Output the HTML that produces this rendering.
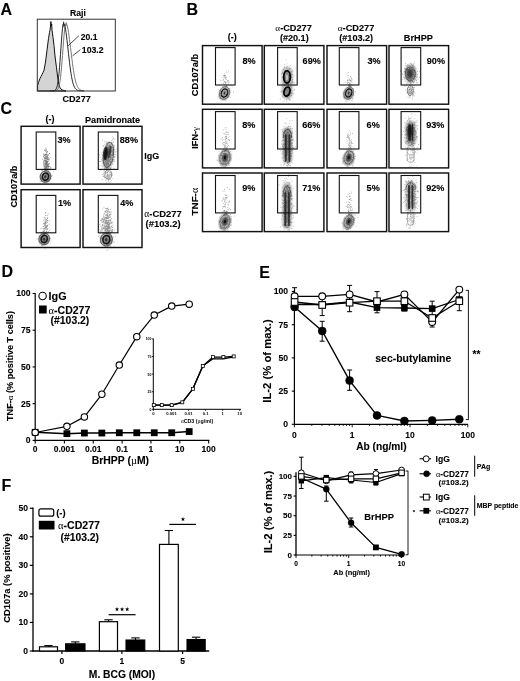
<!DOCTYPE html>
<html><head><meta charset="utf-8"><style>
html,body{margin:0;padding:0;background:#fff;}
body{width:520px;height:681px;overflow:hidden;}
svg{display:block;filter:grayscale(100%);}
text{font-family:"Liberation Sans",sans-serif;}
tspan[font-family="Liberation Serif"]{font-family:"Liberation Serif",serif;}
text[font-weight="bold"]{stroke:#000;stroke-width:0.1px;}
</style></head><body>
<svg width="520" height="681" viewBox="0 0 520 681">
<rect x="0" y="0" width="520" height="681" fill="#fff"/>
<text x="0.60" y="14.60" font-size="16" font-weight="bold" text-anchor="start" fill="#000" >A</text>
<text x="186.60" y="15.10" font-size="16" font-weight="bold" text-anchor="start" fill="#000" >B</text>
<text x="0.40" y="113.60" font-size="16" font-weight="bold" text-anchor="start" fill="#000" >C</text>
<text x="1.40" y="277.20" font-size="16" font-weight="bold" text-anchor="start" fill="#000" >D</text>
<text x="259.20" y="277.60" font-size="16" font-weight="bold" text-anchor="start" fill="#000" >E</text>
<text x="1.60" y="491.30" font-size="16" font-weight="bold" text-anchor="start" fill="#000" >F</text>
<text x="77.90" y="16.30" font-size="8.6" font-weight="bold" text-anchor="middle" fill="#000" >Raji</text>
<text x="76.60" y="102.20" font-size="9.1" font-weight="bold" text-anchor="middle" fill="#000" >CD277</text>
<path d="M37.60,91.00 L37.60,85.50 L38.50,82.50 L40.00,78.40 L41.00,76.50 L42.00,74.50 L43.00,72.50 L44.00,70.20 L45.50,62.00 L47.00,50.20 L48.50,38.50 L49.50,32.60 L50.00,30.30 L50.50,26.00 L50.90,21.50 L51.30,26.00 L51.70,24.00 L52.00,30.30 L53.00,37.30 L54.00,45.50 L55.00,56.00 L56.50,67.80 L57.50,76.00 L58.50,83.00 L60.00,87.80 L62.00,90.00 L66.00,91.00 Z" fill="#d4d4d4" stroke="#111" stroke-width="1.0" stroke-linejoin="round"/>
<polyline points="50.00,90.80 50.50,90.80 51.00,90.80 51.50,90.80 52.00,90.80 52.50,90.80 53.00,90.79 53.50,90.79 54.00,90.77 54.50,90.75 55.00,90.71 55.50,90.63 56.00,90.51 56.50,90.30 57.00,89.97 57.50,89.46 58.00,88.70 58.50,87.59 59.00,86.02 59.50,83.89 60.00,81.07 60.50,77.48 61.00,73.07 61.50,67.84 62.00,61.89 62.50,55.39 63.00,48.62 63.50,41.93 64.00,35.73 64.50,30.44 65.00,26.46 65.50,24.10 66.00,23.51 66.50,24.00 67.00,25.17 67.50,26.99 68.00,29.41 68.50,32.34 69.00,35.71 69.50,39.42 70.00,43.38 70.50,47.48 71.00,51.65 71.50,55.77 72.00,59.79 72.50,63.63 73.00,67.24 73.50,70.59 74.00,73.64 74.50,76.37 75.00,78.80 75.50,80.93 76.00,82.76 76.50,84.32 77.00,85.63 77.50,86.72 78.00,87.61 78.50,88.33 79.00,88.91 79.50,89.37 80.00,89.73 80.50,90.01 81.00,90.22 81.50,90.38 82.00,90.50 82.50,90.58 83.00,90.65 83.50,90.69 84.00,90.73" fill="none" stroke="#666" stroke-width="0.9" stroke-linejoin="round"/>
<polyline points="50.00,90.80 50.50,90.80 51.00,90.80 51.50,90.79 52.00,90.79 52.50,90.77 53.00,90.75 53.50,90.70 54.00,90.61 54.50,90.46 55.00,90.20 55.50,89.77 56.00,89.11 56.50,88.10 57.00,86.62 57.50,84.53 58.00,81.69 58.50,77.99 59.00,73.34 59.50,67.76 60.00,61.35 60.50,54.34 61.00,47.07 61.50,40.00 62.00,33.64 62.50,28.50 63.00,25.03 63.50,23.54 64.00,23.77 64.50,24.83 65.00,26.68 65.50,29.24 66.00,32.42 66.50,36.12 67.00,40.21 67.50,44.57 68.00,49.07 68.50,53.60 69.00,58.04 69.50,62.31 70.00,66.32 70.50,70.03 71.00,73.39 71.50,76.39 72.00,79.01 72.50,81.28 73.00,83.21 73.50,84.82 74.00,86.14 74.50,87.22 75.00,88.08 75.50,88.76 76.00,89.29 76.50,89.69 77.00,90.00 77.50,90.23 78.00,90.40 78.50,90.52 79.00,90.61 79.50,90.67 80.00,90.71 80.50,90.74 81.00,90.76 81.50,90.78 82.00,90.78 82.50,90.79 83.00,90.79 83.50,90.80 84.00,90.80" fill="none" stroke="#1a1a1a" stroke-width="0.95" stroke-linejoin="round"/>
<polyline points="63.00,27.00 63.60,21.80 64.20,26.00" fill="none" stroke="#1a1a1a" stroke-width="0.7" stroke-linejoin="round"/>
<polyline points="65.50,26.00 66.20,22.50 66.80,26.00" fill="none" stroke="#777" stroke-width="0.7" stroke-linejoin="round"/>
<rect x="37.30" y="19.20" width="78.00" height="71.80" stroke="#333" stroke-width="1.0" fill="none" />
<line x1="79.00" y1="35.60" x2="68.20" y2="45.80" stroke="#000" stroke-width="0.7" />
<line x1="80.50" y1="49.60" x2="72.60" y2="55.80" stroke="#000" stroke-width="0.7" />
<text x="80.80" y="40.10" font-size="8.6" font-weight="bold" text-anchor="start" fill="#000" >20.1</text>
<text x="81.80" y="53.10" font-size="8.7" font-weight="bold" text-anchor="start" fill="#000" >103.2</text>
<defs><filter id="blur" x="-50%" y="-50%" width="200%" height="200%"><feGaussianBlur stdDeviation="0.9"/></filter><filter id="blur2" x="-50%" y="-50%" width="200%" height="200%"><feGaussianBlur stdDeviation="0.5"/></filter></defs>
<text x="232.30" y="40.20" font-size="9" font-weight="bold" text-anchor="middle" fill="#000" >(-)</text>
<text x="293.60" y="30.60" font-size="9.2" font-weight="bold" text-anchor="middle" fill="#000" ><tspan font-family="Liberation Serif" font-weight="normal" style="stroke:none">&#945;</tspan>-CD277</text>
<text x="294.30" y="40.60" font-size="9.1" font-weight="bold" text-anchor="middle" fill="#000" >(#20.1)</text>
<text x="356.00" y="30.60" font-size="9.2" font-weight="bold" text-anchor="middle" fill="#000" ><tspan font-family="Liberation Serif" font-weight="normal" style="stroke:none">&#945;</tspan>-CD277</text>
<text x="356.20" y="40.60" font-size="9.1" font-weight="bold" text-anchor="middle" fill="#000" >(#103.2)</text>
<text x="418.40" y="41.00" font-size="9.2" font-weight="bold" text-anchor="middle" fill="#000" >BrHPP</text>
<text transform="translate(198.40,75.00) rotate(-90)" x="0" y="0" font-size="9.3" font-weight="bold" text-anchor="middle">CD107a/b</text>
<text transform="translate(198.00,137.80) rotate(-90)" x="0" y="0" font-size="9.2" font-weight="bold" text-anchor="middle">IFN-<tspan font-family="Liberation Serif" font-weight="normal" style="stroke:none">&#947;</tspan></text>
<text transform="translate(198.00,201.70) rotate(-90)" x="0" y="0" font-size="9.8" font-weight="bold" text-anchor="middle">TNF-<tspan font-family="Liberation Serif" font-weight="normal" style="stroke:none">&#945;</tspan></text>
<ellipse cx="224.50" cy="93.60" rx="5.88" ry="7.40" transform="rotate(20.0 224.50 93.00)" fill="#8f8f8f" fill-opacity="0.55" filter="url(#blur2)"/>
<path d="M223.2,95.0h0.8v0.8h-0.8zM224.3,92.2h0.8v0.8h-0.8zM222.4,91.9h0.8v0.8h-0.8zM226.8,96.0h0.8v0.8h-0.8zM226.9,95.3h0.8v0.8h-0.8zM225.3,94.5h0.8v0.8h-0.8zM219.1,94.9h0.8v0.8h-0.8zM225.2,95.7h0.8v0.8h-0.8zM222.3,85.9h0.8v0.8h-0.8zM222.8,91.0h0.8v0.8h-0.8zM225.3,93.6h0.8v0.8h-0.8zM226.7,91.8h0.8v0.8h-0.8zM224.8,95.2h0.8v0.8h-0.8zM220.6,98.8h0.8v0.8h-0.8zM224.4,98.2h0.8v0.8h-0.8zM223.8,90.4h0.8v0.8h-0.8zM223.7,92.8h0.8v0.8h-0.8zM225.8,95.0h0.8v0.8h-0.8zM224.5,89.8h0.8v0.8h-0.8zM221.6,97.2h0.8v0.8h-0.8zM222.1,93.6h0.8v0.8h-0.8zM227.5,88.8h0.8v0.8h-0.8zM223.0,98.1h0.8v0.8h-0.8zM219.7,90.5h0.8v0.8h-0.8zM225.3,90.6h0.8v0.8h-0.8zM225.9,93.8h0.8v0.8h-0.8zM219.7,95.0h0.8v0.8h-0.8zM225.0,97.4h0.8v0.8h-0.8zM227.8,96.1h0.8v0.8h-0.8zM226.4,89.1h0.8v0.8h-0.8zM226.9,92.0h0.8v0.8h-0.8zM224.9,88.7h0.8v0.8h-0.8zM222.7,90.8h0.8v0.8h-0.8zM230.4,87.7h0.8v0.8h-0.8zM220.4,93.0h0.8v0.8h-0.8zM227.5,96.9h0.8v0.8h-0.8zM222.8,83.0h0.8v0.8h-0.8zM226.3,91.3h0.8v0.8h-0.8zM220.4,95.8h0.8v0.8h-0.8zM227.1,95.1h0.8v0.8h-0.8zM224.6,95.2h0.8v0.8h-0.8zM227.8,97.1h0.8v0.8h-0.8zM225.2,95.9h0.8v0.8h-0.8zM218.8,96.5h0.8v0.8h-0.8zM226.3,96.2h0.8v0.8h-0.8zM220.2,89.5h0.8v0.8h-0.8zM229.0,88.0h0.8v0.8h-0.8zM222.7,96.8h0.8v0.8h-0.8zM219.1,97.8h0.8v0.8h-0.8zM226.1,93.5h0.8v0.8h-0.8zM224.5,96.0h0.8v0.8h-0.8zM223.4,97.6h0.8v0.8h-0.8zM223.3,91.4h0.8v0.8h-0.8zM227.2,94.6h0.8v0.8h-0.8zM221.0,95.9h0.8v0.8h-0.8zM228.8,93.3h0.8v0.8h-0.8zM221.1,91.7h0.8v0.8h-0.8zM224.5,92.3h0.8v0.8h-0.8zM229.4,91.3h0.8v0.8h-0.8zM229.4,90.3h0.8v0.8h-0.8zM221.7,94.9h0.8v0.8h-0.8zM226.3,97.5h0.8v0.8h-0.8zM225.2,94.3h0.8v0.8h-0.8zM224.2,95.6h0.8v0.8h-0.8zM223.7,94.3h0.8v0.8h-0.8zM226.0,94.0h0.8v0.8h-0.8zM225.8,96.2h0.8v0.8h-0.8zM229.3,96.5h0.8v0.8h-0.8zM223.9,91.8h0.8v0.8h-0.8zM223.3,96.7h0.8v0.8h-0.8zM223.1,94.5h0.8v0.8h-0.8zM232.5,86.4h0.8v0.8h-0.8zM221.3,93.3h0.8v0.8h-0.8zM225.2,94.7h0.8v0.8h-0.8zM222.6,95.4h0.8v0.8h-0.8zM225.9,92.0h0.8v0.8h-0.8zM230.3,97.0h0.8v0.8h-0.8zM223.2,92.6h0.8v0.8h-0.8zM224.0,93.1h0.8v0.8h-0.8zM218.1,89.3h0.8v0.8h-0.8zM228.6,90.4h0.8v0.8h-0.8zM223.1,96.7h0.8v0.8h-0.8zM224.8,99.5h0.8v0.8h-0.8zM220.5,90.7h0.8v0.8h-0.8zM222.8,95.3h0.8v0.8h-0.8zM230.7,85.3h0.8v0.8h-0.8zM229.1,89.5h0.8v0.8h-0.8zM228.1,89.0h0.8v0.8h-0.8zM223.5,97.8h0.8v0.8h-0.8zM223.9,94.0h0.8v0.8h-0.8zM226.4,94.7h0.8v0.8h-0.8zM222.3,98.7h0.8v0.8h-0.8zM227.6,93.5h0.8v0.8h-0.8zM233.0,92.1h0.8v0.8h-0.8zM227.2,93.4h0.8v0.8h-0.8zM224.0,96.1h0.8v0.8h-0.8zM224.3,95.9h0.8v0.8h-0.8zM222.5,86.9h0.8v0.8h-0.8zM227.3,90.8h0.8v0.8h-0.8zM223.7,87.5h0.8v0.8h-0.8zM226.8,97.3h0.8v0.8h-0.8zM229.5,91.6h0.8v0.8h-0.8zM225.9,89.6h0.8v0.8h-0.8zM224.5,99.7h0.8v0.8h-0.8zM220.2,98.1h0.8v0.8h-0.8zM227.3,93.8h0.8v0.8h-0.8zM217.6,96.5h0.8v0.8h-0.8zM225.0,91.3h0.8v0.8h-0.8zM225.0,95.3h0.8v0.8h-0.8zM229.7,91.4h0.8v0.8h-0.8zM225.6,99.7h0.8v0.8h-0.8zM228.5,94.2h0.8v0.8h-0.8zM221.3,96.3h0.8v0.8h-0.8zM224.6,94.0h0.8v0.8h-0.8zM228.5,93.9h0.8v0.8h-0.8zM219.1,90.0h0.8v0.8h-0.8zM218.7,94.6h0.8v0.8h-0.8zM226.1,91.7h0.8v0.8h-0.8zM223.4,96.4h0.8v0.8h-0.8zM223.0,98.2h0.8v0.8h-0.8z" fill="#000" fill-opacity="0.3"/>
<ellipse cx="224.50" cy="93.00" rx="4.88" ry="6.48" transform="rotate(20.0 224.50 93.00)" fill="none" stroke="#555" stroke-width="0.6"/>
<ellipse cx="224.50" cy="93.00" rx="3.12" ry="4.20" transform="rotate(20.0 224.50 93.00)" fill="none" stroke="#111" stroke-width="1.3"/>
<ellipse cx="224.50" cy="93.00" rx="0.88" ry="1.57" transform="rotate(20.0 224.50 93.00)" fill="#333"/>
<path d="M224.7,77.6h0.7v0.7h-0.7zM226.0,86.1h0.7v0.7h-0.7zM223.3,79.1h0.7v0.7h-0.7zM226.1,86.0h0.7v0.7h-0.7zM227.3,80.1h0.7v0.7h-0.7zM224.5,81.6h0.7v0.7h-0.7zM227.4,81.5h0.7v0.7h-0.7zM225.7,76.1h0.7v0.7h-0.7zM225.8,70.6h0.7v0.7h-0.7zM224.5,80.9h0.7v0.7h-0.7zM224.0,84.0h0.7v0.7h-0.7zM225.0,81.5h0.7v0.7h-0.7zM225.7,81.9h0.7v0.7h-0.7zM224.7,82.0h0.7v0.7h-0.7zM225.0,77.4h0.7v0.7h-0.7zM228.5,81.3h0.7v0.7h-0.7zM225.7,82.0h0.7v0.7h-0.7zM221.6,80.4h0.7v0.7h-0.7zM223.4,82.7h0.7v0.7h-0.7zM225.4,83.6h0.7v0.7h-0.7zM223.5,80.6h0.7v0.7h-0.7zM225.1,86.4h0.7v0.7h-0.7zM228.5,83.7h0.7v0.7h-0.7zM222.6,77.6h0.7v0.7h-0.7zM228.6,82.0h0.7v0.7h-0.7zM224.3,75.2h0.7v0.7h-0.7zM224.9,74.8h0.7v0.7h-0.7zM225.7,77.2h0.7v0.7h-0.7zM224.0,73.5h0.7v0.7h-0.7zM222.8,85.9h0.7v0.7h-0.7zM225.0,75.5h0.7v0.7h-0.7zM223.0,75.3h0.7v0.7h-0.7zM226.7,85.8h0.7v0.7h-0.7zM225.3,86.5h0.7v0.7h-0.7zM220.2,79.8h0.7v0.7h-0.7zM225.9,85.2h0.7v0.7h-0.7zM223.6,75.7h0.7v0.7h-0.7zM226.4,78.9h0.7v0.7h-0.7zM224.3,76.4h0.7v0.7h-0.7zM228.0,71.6h0.7v0.7h-0.7zM225.2,81.9h0.7v0.7h-0.7zM225.6,78.8h0.7v0.7h-0.7zM224.9,82.8h0.7v0.7h-0.7zM225.5,86.8h0.7v0.7h-0.7zM226.3,84.7h0.7v0.7h-0.7zM225.4,77.7h0.7v0.7h-0.7zM225.8,72.4h0.7v0.7h-0.7zM224.1,75.0h0.7v0.7h-0.7zM228.2,80.1h0.7v0.7h-0.7zM223.8,77.6h0.7v0.7h-0.7z" fill="#000" fill-opacity="0.45"/>
<rect x="281.6" y="66.5" width="11.2" height="33" rx="5.6" fill="#8a8a8a" fill-opacity="0.55" filter="url(#blur)"/>
<path d="M290.9,86.0h0.8v0.8h-0.8zM283.3,73.7h0.8v0.8h-0.8zM288.0,77.9h0.8v0.8h-0.8zM286.1,72.1h0.8v0.8h-0.8zM293.1,82.2h0.8v0.8h-0.8zM283.9,70.3h0.8v0.8h-0.8zM292.0,81.9h0.8v0.8h-0.8zM292.3,81.1h0.8v0.8h-0.8zM284.8,78.3h0.8v0.8h-0.8zM281.2,73.3h0.8v0.8h-0.8zM287.0,79.6h0.8v0.8h-0.8zM285.2,76.4h0.8v0.8h-0.8zM288.5,78.9h0.8v0.8h-0.8zM289.0,78.0h0.8v0.8h-0.8zM286.3,80.9h0.8v0.8h-0.8zM287.3,72.9h0.8v0.8h-0.8zM285.4,77.0h0.8v0.8h-0.8zM286.9,77.8h0.8v0.8h-0.8zM287.2,77.9h0.8v0.8h-0.8zM286.8,70.7h0.8v0.8h-0.8zM288.4,82.3h0.8v0.8h-0.8zM288.4,76.1h0.8v0.8h-0.8zM288.5,72.2h0.8v0.8h-0.8zM281.9,77.3h0.8v0.8h-0.8zM284.6,80.7h0.8v0.8h-0.8zM284.2,63.9h0.8v0.8h-0.8zM284.3,84.9h0.8v0.8h-0.8zM286.1,70.2h0.8v0.8h-0.8zM285.1,79.6h0.8v0.8h-0.8zM288.6,77.9h0.8v0.8h-0.8zM291.4,80.5h0.8v0.8h-0.8zM287.1,80.0h0.8v0.8h-0.8zM291.8,81.9h0.8v0.8h-0.8zM290.1,71.6h0.8v0.8h-0.8zM286.8,80.6h0.8v0.8h-0.8zM286.4,82.3h0.8v0.8h-0.8zM288.9,81.5h0.8v0.8h-0.8zM286.6,89.7h0.8v0.8h-0.8zM290.7,75.9h0.8v0.8h-0.8zM287.5,90.0h0.8v0.8h-0.8zM286.2,81.4h0.8v0.8h-0.8zM289.9,77.0h0.8v0.8h-0.8zM283.9,77.9h0.8v0.8h-0.8zM288.2,82.6h0.8v0.8h-0.8zM289.4,77.1h0.8v0.8h-0.8zM289.6,79.7h0.8v0.8h-0.8zM287.8,77.3h0.8v0.8h-0.8zM286.5,80.4h0.8v0.8h-0.8zM284.2,73.9h0.8v0.8h-0.8zM287.2,69.7h0.8v0.8h-0.8zM286.0,67.0h0.8v0.8h-0.8zM285.3,79.8h0.8v0.8h-0.8zM288.8,76.7h0.8v0.8h-0.8zM286.6,69.9h0.8v0.8h-0.8zM292.3,79.6h0.8v0.8h-0.8zM290.3,72.6h0.8v0.8h-0.8zM286.7,67.9h0.8v0.8h-0.8zM289.4,81.7h0.8v0.8h-0.8zM281.9,76.7h0.8v0.8h-0.8zM289.0,68.2h0.8v0.8h-0.8zM282.1,71.7h0.8v0.8h-0.8zM285.4,70.0h0.8v0.8h-0.8zM287.3,78.2h0.8v0.8h-0.8zM289.0,80.5h0.8v0.8h-0.8zM291.4,82.8h0.8v0.8h-0.8zM283.5,74.5h0.8v0.8h-0.8zM284.2,71.6h0.8v0.8h-0.8zM287.0,77.0h0.8v0.8h-0.8zM288.6,69.1h0.8v0.8h-0.8zM283.7,76.9h0.8v0.8h-0.8zM286.6,75.4h0.8v0.8h-0.8zM287.0,73.2h0.8v0.8h-0.8zM289.2,78.8h0.8v0.8h-0.8zM287.0,73.6h0.8v0.8h-0.8zM286.7,63.4h0.8v0.8h-0.8zM284.5,77.2h0.8v0.8h-0.8zM283.0,78.0h0.8v0.8h-0.8zM287.6,70.1h0.8v0.8h-0.8zM286.5,75.4h0.8v0.8h-0.8zM288.5,80.1h0.8v0.8h-0.8zM287.1,72.7h0.8v0.8h-0.8zM286.8,76.7h0.8v0.8h-0.8zM289.3,78.5h0.8v0.8h-0.8zM285.2,70.2h0.8v0.8h-0.8zM286.2,73.3h0.8v0.8h-0.8zM284.1,76.4h0.8v0.8h-0.8zM285.8,77.5h0.8v0.8h-0.8zM288.7,74.9h0.8v0.8h-0.8zM293.7,75.4h0.8v0.8h-0.8zM290.3,77.6h0.8v0.8h-0.8zM290.3,65.1h0.8v0.8h-0.8zM285.1,78.2h0.8v0.8h-0.8zM288.9,88.7h0.8v0.8h-0.8zM288.1,83.4h0.8v0.8h-0.8zM289.3,81.7h0.8v0.8h-0.8zM288.6,76.2h0.8v0.8h-0.8zM288.6,71.6h0.8v0.8h-0.8zM290.5,71.9h0.8v0.8h-0.8zM287.9,87.6h0.8v0.8h-0.8zM286.6,77.1h0.8v0.8h-0.8zM290.5,77.1h0.8v0.8h-0.8zM284.9,78.3h0.8v0.8h-0.8zM288.8,80.6h0.8v0.8h-0.8zM285.0,85.8h0.8v0.8h-0.8zM291.9,77.1h0.8v0.8h-0.8zM288.0,74.9h0.8v0.8h-0.8zM291.2,73.5h0.8v0.8h-0.8zM289.1,74.6h0.8v0.8h-0.8zM285.3,80.6h0.8v0.8h-0.8zM290.9,76.9h0.8v0.8h-0.8zM285.3,81.1h0.8v0.8h-0.8zM287.1,78.6h0.8v0.8h-0.8zM291.5,82.7h0.8v0.8h-0.8zM285.7,88.4h0.8v0.8h-0.8zM287.2,80.9h0.8v0.8h-0.8zM285.4,76.8h0.8v0.8h-0.8zM282.3,85.9h0.8v0.8h-0.8zM291.0,70.9h0.8v0.8h-0.8zM283.0,68.9h0.8v0.8h-0.8zM290.5,74.7h0.8v0.8h-0.8zM287.0,75.4h0.8v0.8h-0.8zM286.9,71.6h0.8v0.8h-0.8zM287.3,69.8h0.8v0.8h-0.8zM287.0,78.5h0.8v0.8h-0.8zM288.5,75.8h0.8v0.8h-0.8zM284.7,77.8h0.8v0.8h-0.8zM285.8,84.8h0.8v0.8h-0.8zM289.3,76.4h0.8v0.8h-0.8zM285.9,73.5h0.8v0.8h-0.8zM284.6,75.2h0.8v0.8h-0.8zM288.0,79.6h0.8v0.8h-0.8zM288.8,87.5h0.8v0.8h-0.8zM285.2,77.1h0.8v0.8h-0.8zM295.0,67.7h0.8v0.8h-0.8zM285.7,77.8h0.8v0.8h-0.8zM287.6,79.0h0.8v0.8h-0.8zM286.5,78.8h0.8v0.8h-0.8zM287.3,80.9h0.8v0.8h-0.8zM281.9,72.6h0.8v0.8h-0.8zM287.2,71.8h0.8v0.8h-0.8zM284.3,80.1h0.8v0.8h-0.8zM285.4,80.2h0.8v0.8h-0.8zM289.3,78.5h0.8v0.8h-0.8zM288.6,76.5h0.8v0.8h-0.8zM283.3,76.8h0.8v0.8h-0.8zM288.5,74.4h0.8v0.8h-0.8zM286.9,80.7h0.8v0.8h-0.8zM284.7,80.2h0.8v0.8h-0.8zM292.4,74.2h0.8v0.8h-0.8zM287.6,76.2h0.8v0.8h-0.8zM291.5,78.6h0.8v0.8h-0.8zM289.7,73.5h0.8v0.8h-0.8zM287.2,77.0h0.8v0.8h-0.8zM282.2,84.2h0.8v0.8h-0.8zM289.7,68.3h0.8v0.8h-0.8zM289.3,76.3h0.8v0.8h-0.8zM288.5,78.8h0.8v0.8h-0.8zM283.0,75.9h0.8v0.8h-0.8zM291.4,74.1h0.8v0.8h-0.8zM284.3,70.2h0.8v0.8h-0.8zM283.8,78.7h0.8v0.8h-0.8zM291.9,79.1h0.8v0.8h-0.8zM287.9,88.2h0.8v0.8h-0.8zM285.7,73.6h0.8v0.8h-0.8zM288.7,79.7h0.8v0.8h-0.8zM284.4,71.2h0.8v0.8h-0.8zM288.0,78.2h0.8v0.8h-0.8zM283.5,76.0h0.8v0.8h-0.8zM285.7,79.3h0.8v0.8h-0.8zM286.9,76.6h0.8v0.8h-0.8zM286.2,82.3h0.8v0.8h-0.8zM291.1,75.2h0.8v0.8h-0.8zM289.6,73.2h0.8v0.8h-0.8zM287.4,80.7h0.8v0.8h-0.8zM291.4,75.1h0.8v0.8h-0.8zM287.0,78.0h0.8v0.8h-0.8zM283.0,77.1h0.8v0.8h-0.8zM285.3,78.9h0.8v0.8h-0.8zM284.0,67.1h0.8v0.8h-0.8zM287.3,78.3h0.8v0.8h-0.8zM285.7,81.4h0.8v0.8h-0.8zM286.4,74.0h0.8v0.8h-0.8zM288.5,69.2h0.8v0.8h-0.8zM285.3,76.9h0.8v0.8h-0.8zM289.6,76.2h0.8v0.8h-0.8zM288.1,73.7h0.8v0.8h-0.8zM288.0,85.3h0.8v0.8h-0.8zM285.3,88.8h0.8v0.8h-0.8zM285.4,77.1h0.8v0.8h-0.8zM287.7,82.1h0.8v0.8h-0.8zM283.7,66.5h0.8v0.8h-0.8zM288.9,81.0h0.8v0.8h-0.8zM288.9,90.2h0.8v0.8h-0.8zM287.8,78.3h0.8v0.8h-0.8zM289.8,78.8h0.8v0.8h-0.8zM291.9,70.8h0.8v0.8h-0.8zM286.1,59.8h0.8v0.8h-0.8zM289.5,75.1h0.8v0.8h-0.8zM289.8,87.8h0.8v0.8h-0.8zM287.2,75.7h0.8v0.8h-0.8zM285.8,72.8h0.8v0.8h-0.8zM285.4,80.2h0.8v0.8h-0.8zM287.3,77.3h0.8v0.8h-0.8zM286.7,81.6h0.8v0.8h-0.8zM288.6,76.3h0.8v0.8h-0.8zM289.1,76.2h0.8v0.8h-0.8zM284.0,84.3h0.8v0.8h-0.8zM288.5,72.2h0.8v0.8h-0.8zM290.2,78.7h0.8v0.8h-0.8zM282.8,85.0h0.8v0.8h-0.8zM288.1,81.5h0.8v0.8h-0.8zM287.8,76.3h0.8v0.8h-0.8zM282.9,81.9h0.8v0.8h-0.8zM287.3,75.6h0.8v0.8h-0.8zM288.2,77.4h0.8v0.8h-0.8zM289.1,75.1h0.8v0.8h-0.8zM287.1,66.3h0.8v0.8h-0.8zM286.0,80.4h0.8v0.8h-0.8zM290.9,75.2h0.8v0.8h-0.8zM286.9,84.9h0.8v0.8h-0.8z" fill="#000" fill-opacity="0.3"/>
<path d="M286.0,94.8h0.8v0.8h-0.8zM291.5,92.8h0.8v0.8h-0.8zM290.8,89.6h0.8v0.8h-0.8zM287.8,91.8h0.8v0.8h-0.8zM286.9,96.5h0.8v0.8h-0.8zM293.7,90.2h0.8v0.8h-0.8zM285.4,93.8h0.8v0.8h-0.8zM284.2,93.6h0.8v0.8h-0.8zM288.8,91.1h0.8v0.8h-0.8zM289.4,86.1h0.8v0.8h-0.8zM290.0,86.2h0.8v0.8h-0.8zM285.7,89.5h0.8v0.8h-0.8zM285.7,95.3h0.8v0.8h-0.8zM287.6,90.5h0.8v0.8h-0.8zM287.7,98.5h0.8v0.8h-0.8zM287.0,93.5h0.8v0.8h-0.8zM290.2,93.5h0.8v0.8h-0.8zM282.5,101.4h0.8v0.8h-0.8zM294.0,84.9h0.8v0.8h-0.8zM286.9,93.6h0.8v0.8h-0.8zM289.3,95.0h0.8v0.8h-0.8zM287.1,87.7h0.8v0.8h-0.8zM286.9,96.1h0.8v0.8h-0.8zM285.0,87.5h0.8v0.8h-0.8zM288.2,84.3h0.8v0.8h-0.8zM286.8,90.2h0.8v0.8h-0.8zM288.8,89.4h0.8v0.8h-0.8zM285.1,90.1h0.8v0.8h-0.8zM287.4,89.3h0.8v0.8h-0.8zM286.8,95.0h0.8v0.8h-0.8zM289.3,99.2h0.8v0.8h-0.8zM285.4,90.1h0.8v0.8h-0.8zM279.8,98.6h0.8v0.8h-0.8zM285.4,91.6h0.8v0.8h-0.8zM289.3,86.8h0.8v0.8h-0.8zM288.4,92.1h0.8v0.8h-0.8zM282.3,92.5h0.8v0.8h-0.8zM291.3,85.0h0.8v0.8h-0.8zM289.2,93.1h0.8v0.8h-0.8zM288.2,93.9h0.8v0.8h-0.8zM290.7,91.6h0.8v0.8h-0.8zM289.7,90.7h0.8v0.8h-0.8zM289.5,89.0h0.8v0.8h-0.8zM286.0,98.8h0.8v0.8h-0.8zM288.4,91.5h0.8v0.8h-0.8zM284.7,88.5h0.8v0.8h-0.8zM287.2,95.8h0.8v0.8h-0.8zM288.0,94.2h0.8v0.8h-0.8zM286.3,97.3h0.8v0.8h-0.8zM286.5,89.7h0.8v0.8h-0.8zM289.5,92.6h0.8v0.8h-0.8zM286.8,89.6h0.8v0.8h-0.8zM286.2,94.4h0.8v0.8h-0.8zM288.8,87.3h0.8v0.8h-0.8zM288.2,92.9h0.8v0.8h-0.8zM284.2,94.7h0.8v0.8h-0.8zM286.7,90.6h0.8v0.8h-0.8zM288.5,97.5h0.8v0.8h-0.8zM285.2,93.5h0.8v0.8h-0.8zM283.7,100.8h0.8v0.8h-0.8zM285.3,96.6h0.8v0.8h-0.8zM285.1,95.0h0.8v0.8h-0.8zM294.3,82.7h0.8v0.8h-0.8zM285.8,93.8h0.8v0.8h-0.8zM287.3,89.3h0.8v0.8h-0.8zM292.7,93.1h0.8v0.8h-0.8zM282.5,94.8h0.8v0.8h-0.8zM282.1,95.9h0.8v0.8h-0.8zM285.6,92.4h0.8v0.8h-0.8zM290.4,92.9h0.8v0.8h-0.8zM284.6,84.8h0.8v0.8h-0.8zM289.8,95.4h0.8v0.8h-0.8zM284.6,95.1h0.8v0.8h-0.8zM288.1,94.7h0.8v0.8h-0.8zM281.6,90.0h0.8v0.8h-0.8zM289.1,95.2h0.8v0.8h-0.8zM290.8,82.6h0.8v0.8h-0.8zM287.4,94.0h0.8v0.8h-0.8zM294.3,89.1h0.8v0.8h-0.8zM286.3,92.0h0.8v0.8h-0.8zM289.7,90.6h0.8v0.8h-0.8zM290.6,89.3h0.8v0.8h-0.8zM288.2,90.0h0.8v0.8h-0.8zM288.0,89.3h0.8v0.8h-0.8zM282.5,95.8h0.8v0.8h-0.8zM288.3,89.9h0.8v0.8h-0.8zM287.2,96.0h0.8v0.8h-0.8zM284.7,91.2h0.8v0.8h-0.8zM288.3,94.3h0.8v0.8h-0.8zM287.5,83.5h0.8v0.8h-0.8zM290.2,93.8h0.8v0.8h-0.8zM287.4,90.9h0.8v0.8h-0.8zM288.1,90.4h0.8v0.8h-0.8zM285.0,88.7h0.8v0.8h-0.8zM286.0,89.4h0.8v0.8h-0.8zM283.9,94.1h0.8v0.8h-0.8zM283.5,94.1h0.8v0.8h-0.8zM284.4,93.0h0.8v0.8h-0.8zM290.6,93.3h0.8v0.8h-0.8zM285.3,91.9h0.8v0.8h-0.8zM288.5,85.2h0.8v0.8h-0.8zM285.5,92.4h0.8v0.8h-0.8zM285.9,92.1h0.8v0.8h-0.8zM288.7,95.3h0.8v0.8h-0.8zM289.2,94.7h0.8v0.8h-0.8zM286.5,91.8h0.8v0.8h-0.8zM286.7,90.7h0.8v0.8h-0.8zM287.7,85.1h0.8v0.8h-0.8zM286.4,91.8h0.8v0.8h-0.8zM284.7,91.6h0.8v0.8h-0.8zM288.6,91.5h0.8v0.8h-0.8zM294.0,82.4h0.8v0.8h-0.8zM287.7,84.7h0.8v0.8h-0.8zM288.2,102.9h0.8v0.8h-0.8zM280.7,91.6h0.8v0.8h-0.8zM288.7,91.0h0.8v0.8h-0.8zM289.9,83.3h0.8v0.8h-0.8zM289.2,93.8h0.8v0.8h-0.8zM287.6,89.7h0.8v0.8h-0.8zM289.1,90.3h0.8v0.8h-0.8zM288.1,90.1h0.8v0.8h-0.8zM281.4,91.1h0.8v0.8h-0.8zM287.3,95.1h0.8v0.8h-0.8zM285.0,91.6h0.8v0.8h-0.8zM288.7,92.8h0.8v0.8h-0.8zM289.3,100.3h0.8v0.8h-0.8zM285.9,84.1h0.8v0.8h-0.8zM288.6,98.4h0.8v0.8h-0.8zM289.1,95.6h0.8v0.8h-0.8zM286.0,88.9h0.8v0.8h-0.8zM290.0,88.7h0.8v0.8h-0.8zM283.1,87.4h0.8v0.8h-0.8zM292.5,100.5h0.8v0.8h-0.8zM285.8,88.9h0.8v0.8h-0.8zM288.2,89.1h0.8v0.8h-0.8zM290.6,92.2h0.8v0.8h-0.8zM283.7,96.8h0.8v0.8h-0.8zM285.6,92.7h0.8v0.8h-0.8zM287.3,90.8h0.8v0.8h-0.8zM288.4,89.4h0.8v0.8h-0.8zM283.7,82.6h0.8v0.8h-0.8zM284.4,88.5h0.8v0.8h-0.8zM287.1,92.2h0.8v0.8h-0.8zM288.6,92.7h0.8v0.8h-0.8zM285.6,88.9h0.8v0.8h-0.8zM281.8,90.6h0.8v0.8h-0.8zM288.2,94.3h0.8v0.8h-0.8zM287.0,91.3h0.8v0.8h-0.8zM289.6,92.4h0.8v0.8h-0.8zM288.8,94.6h0.8v0.8h-0.8zM287.0,97.3h0.8v0.8h-0.8zM285.9,90.4h0.8v0.8h-0.8zM285.6,88.5h0.8v0.8h-0.8zM290.2,99.5h0.8v0.8h-0.8zM286.9,94.3h0.8v0.8h-0.8zM289.8,95.6h0.8v0.8h-0.8zM291.0,87.4h0.8v0.8h-0.8zM285.3,93.6h0.8v0.8h-0.8zM290.8,92.9h0.8v0.8h-0.8zM285.2,90.3h0.8v0.8h-0.8zM286.0,88.4h0.8v0.8h-0.8zM291.4,90.1h0.8v0.8h-0.8zM286.0,100.6h0.8v0.8h-0.8zM290.1,93.8h0.8v0.8h-0.8zM285.4,93.4h0.8v0.8h-0.8zM291.0,95.1h0.8v0.8h-0.8zM290.4,92.8h0.8v0.8h-0.8zM288.6,91.4h0.8v0.8h-0.8zM287.6,97.3h0.8v0.8h-0.8zM283.6,91.2h0.8v0.8h-0.8z" fill="#000" fill-opacity="0.3"/>
<ellipse cx="287.0" cy="77.0" rx="3.3" ry="6.1" fill="#777" fill-opacity="0.5" stroke="#000" stroke-width="1.8"/>
<ellipse cx="287.0" cy="91.6" rx="2.9" ry="4.6" transform="rotate(15 287 91.6)" fill="#777" fill-opacity="0.5" stroke="#000" stroke-width="1.8"/>
<ellipse cx="287.0" cy="77.5" rx="1.0" ry="3.0" fill="#ddd" fill-opacity="0.8"/>
<ellipse cx="348.70" cy="93.60" rx="5.64" ry="7.19" transform="rotate(20.0 348.70 93.00)" fill="#8f8f8f" fill-opacity="0.55" filter="url(#blur2)"/>
<path d="M350.0,91.8h0.8v0.8h-0.8zM347.0,95.9h0.8v0.8h-0.8zM352.9,97.4h0.8v0.8h-0.8zM351.4,88.6h0.8v0.8h-0.8zM353.4,95.5h0.8v0.8h-0.8zM350.0,89.7h0.8v0.8h-0.8zM349.9,89.8h0.8v0.8h-0.8zM348.3,95.1h0.8v0.8h-0.8zM348.4,94.5h0.8v0.8h-0.8zM344.8,97.5h0.8v0.8h-0.8zM349.3,86.8h0.8v0.8h-0.8zM349.2,90.8h0.8v0.8h-0.8zM346.6,91.4h0.8v0.8h-0.8zM350.9,89.8h0.8v0.8h-0.8zM346.6,98.2h0.8v0.8h-0.8zM350.6,93.6h0.8v0.8h-0.8zM349.2,93.2h0.8v0.8h-0.8zM347.7,95.9h0.8v0.8h-0.8zM351.4,85.4h0.8v0.8h-0.8zM349.7,90.5h0.8v0.8h-0.8zM351.1,92.0h0.8v0.8h-0.8zM346.4,100.9h0.8v0.8h-0.8zM347.5,88.8h0.8v0.8h-0.8zM348.1,84.2h0.8v0.8h-0.8zM343.6,93.0h0.8v0.8h-0.8zM349.4,86.7h0.8v0.8h-0.8zM344.3,94.2h0.8v0.8h-0.8zM347.2,91.6h0.8v0.8h-0.8zM347.9,98.3h0.8v0.8h-0.8zM352.3,98.7h0.8v0.8h-0.8zM348.8,94.2h0.8v0.8h-0.8zM351.4,99.9h0.8v0.8h-0.8zM347.4,94.8h0.8v0.8h-0.8zM349.3,93.9h0.8v0.8h-0.8zM349.1,88.6h0.8v0.8h-0.8zM349.3,87.8h0.8v0.8h-0.8zM351.1,96.4h0.8v0.8h-0.8zM344.0,97.1h0.8v0.8h-0.8zM353.2,87.9h0.8v0.8h-0.8zM352.3,97.9h0.8v0.8h-0.8zM355.3,91.2h0.8v0.8h-0.8zM349.5,95.4h0.8v0.8h-0.8zM349.0,94.3h0.8v0.8h-0.8zM353.1,89.4h0.8v0.8h-0.8zM347.3,87.7h0.8v0.8h-0.8zM348.1,91.0h0.8v0.8h-0.8zM349.3,94.7h0.8v0.8h-0.8zM349.6,91.3h0.8v0.8h-0.8zM346.4,96.3h0.8v0.8h-0.8zM350.5,94.5h0.8v0.8h-0.8zM346.0,98.4h0.8v0.8h-0.8zM346.4,95.1h0.8v0.8h-0.8zM351.9,93.7h0.8v0.8h-0.8zM352.1,90.5h0.8v0.8h-0.8zM351.0,95.1h0.8v0.8h-0.8zM343.9,94.3h0.8v0.8h-0.8zM344.9,97.0h0.8v0.8h-0.8zM347.2,92.3h0.8v0.8h-0.8zM349.8,92.6h0.8v0.8h-0.8zM350.0,91.9h0.8v0.8h-0.8zM350.4,94.1h0.8v0.8h-0.8zM352.6,84.5h0.8v0.8h-0.8zM351.5,94.7h0.8v0.8h-0.8zM344.2,92.2h0.8v0.8h-0.8zM348.6,97.5h0.8v0.8h-0.8zM344.1,97.7h0.8v0.8h-0.8zM345.4,101.4h0.8v0.8h-0.8zM347.5,95.6h0.8v0.8h-0.8zM349.2,89.4h0.8v0.8h-0.8zM350.3,97.5h0.8v0.8h-0.8zM351.5,97.8h0.8v0.8h-0.8zM349.3,87.4h0.8v0.8h-0.8zM347.9,90.6h0.8v0.8h-0.8zM346.0,94.7h0.8v0.8h-0.8zM349.8,92.9h0.8v0.8h-0.8zM349.3,93.2h0.8v0.8h-0.8zM348.3,96.2h0.8v0.8h-0.8zM351.9,92.1h0.8v0.8h-0.8zM343.2,96.9h0.8v0.8h-0.8zM347.6,97.3h0.8v0.8h-0.8zM345.0,90.9h0.8v0.8h-0.8zM350.5,88.7h0.8v0.8h-0.8zM346.5,95.5h0.8v0.8h-0.8zM349.4,99.8h0.8v0.8h-0.8zM348.3,88.0h0.8v0.8h-0.8zM348.8,97.1h0.8v0.8h-0.8zM350.8,89.3h0.8v0.8h-0.8zM349.7,96.9h0.8v0.8h-0.8zM350.7,92.4h0.8v0.8h-0.8zM348.5,96.4h0.8v0.8h-0.8zM349.6,86.8h0.8v0.8h-0.8zM348.9,95.4h0.8v0.8h-0.8zM347.6,96.5h0.8v0.8h-0.8zM347.3,92.7h0.8v0.8h-0.8zM347.2,95.1h0.8v0.8h-0.8zM353.0,94.1h0.8v0.8h-0.8zM351.9,100.5h0.8v0.8h-0.8zM349.9,96.2h0.8v0.8h-0.8zM353.3,94.5h0.8v0.8h-0.8zM349.7,89.8h0.8v0.8h-0.8zM348.2,98.4h0.8v0.8h-0.8zM349.5,95.4h0.8v0.8h-0.8zM348.0,93.9h0.8v0.8h-0.8zM343.9,95.7h0.8v0.8h-0.8zM349.0,89.4h0.8v0.8h-0.8zM347.8,90.1h0.8v0.8h-0.8zM349.5,97.8h0.8v0.8h-0.8zM344.2,95.4h0.8v0.8h-0.8zM351.6,92.4h0.8v0.8h-0.8zM345.9,89.7h0.8v0.8h-0.8zM346.7,94.1h0.8v0.8h-0.8zM350.3,86.4h0.8v0.8h-0.8zM351.2,88.6h0.8v0.8h-0.8zM352.4,90.3h0.8v0.8h-0.8zM348.0,90.0h0.8v0.8h-0.8zM345.8,97.4h0.8v0.8h-0.8zM350.1,96.3h0.8v0.8h-0.8zM351.4,88.6h0.8v0.8h-0.8zM348.1,91.2h0.8v0.8h-0.8zM345.7,94.3h0.8v0.8h-0.8z" fill="#000" fill-opacity="0.3"/>
<ellipse cx="348.70" cy="93.00" rx="4.68" ry="6.29" transform="rotate(20.0 348.70 93.00)" fill="none" stroke="#555" stroke-width="0.6"/>
<ellipse cx="348.70" cy="93.00" rx="3.00" ry="4.08" transform="rotate(20.0 348.70 93.00)" fill="none" stroke="#111" stroke-width="1.3"/>
<ellipse cx="348.70" cy="93.00" rx="0.84" ry="1.53" transform="rotate(20.0 348.70 93.00)" fill="#333"/>
<path d="M347.3,83.0h0.7v0.7h-0.7zM350.9,86.3h0.7v0.7h-0.7zM347.8,76.8h0.7v0.7h-0.7zM347.0,80.1h0.7v0.7h-0.7zM350.0,81.4h0.7v0.7h-0.7zM349.4,82.1h0.7v0.7h-0.7zM350.3,76.3h0.7v0.7h-0.7zM345.4,81.8h0.7v0.7h-0.7zM347.6,75.0h0.7v0.7h-0.7zM348.5,84.1h0.7v0.7h-0.7zM347.4,81.7h0.7v0.7h-0.7zM347.0,81.8h0.7v0.7h-0.7zM350.6,80.4h0.7v0.7h-0.7zM349.1,83.7h0.7v0.7h-0.7zM349.6,80.1h0.7v0.7h-0.7zM348.6,86.9h0.7v0.7h-0.7zM350.8,79.6h0.7v0.7h-0.7zM350.0,80.2h0.7v0.7h-0.7zM347.9,72.2h0.7v0.7h-0.7zM350.4,83.9h0.7v0.7h-0.7zM349.4,79.6h0.7v0.7h-0.7zM350.7,84.4h0.7v0.7h-0.7zM348.3,86.4h0.7v0.7h-0.7zM349.3,85.0h0.7v0.7h-0.7zM349.7,80.1h0.7v0.7h-0.7zM350.4,84.7h0.7v0.7h-0.7zM348.2,85.1h0.7v0.7h-0.7zM348.0,82.3h0.7v0.7h-0.7zM351.1,77.6h0.7v0.7h-0.7zM349.1,83.2h0.7v0.7h-0.7zM350.3,85.2h0.7v0.7h-0.7zM347.7,78.7h0.7v0.7h-0.7zM351.8,82.2h0.7v0.7h-0.7zM351.8,79.6h0.7v0.7h-0.7zM349.3,85.5h0.7v0.7h-0.7zM351.2,78.0h0.7v0.7h-0.7zM349.6,80.6h0.7v0.7h-0.7zM349.6,84.2h0.7v0.7h-0.7zM349.5,78.5h0.7v0.7h-0.7zM351.0,81.3h0.7v0.7h-0.7zM347.8,80.6h0.7v0.7h-0.7zM347.5,79.7h0.7v0.7h-0.7zM349.9,86.3h0.7v0.7h-0.7zM349.0,85.3h0.7v0.7h-0.7zM349.7,86.1h0.7v0.7h-0.7zM348.6,85.3h0.7v0.7h-0.7zM349.8,83.2h0.7v0.7h-0.7zM349.5,86.5h0.7v0.7h-0.7zM349.5,83.4h0.7v0.7h-0.7zM350.3,76.0h0.7v0.7h-0.7z" fill="#000" fill-opacity="0.45"/>
<ellipse cx="410.5" cy="73.5" rx="6.0" ry="9.5" fill="#777" fill-opacity="0.55" filter="url(#blur)"/>
<path d="M410.8,81.9h0.8v0.8h-0.8zM409.3,76.2h0.8v0.8h-0.8zM414.7,69.4h0.8v0.8h-0.8zM413.4,82.4h0.8v0.8h-0.8zM406.2,69.0h0.8v0.8h-0.8zM407.2,65.5h0.8v0.8h-0.8zM411.7,65.5h0.8v0.8h-0.8zM411.8,80.7h0.8v0.8h-0.8zM405.5,72.5h0.8v0.8h-0.8zM404.5,77.6h0.8v0.8h-0.8zM408.1,72.8h0.8v0.8h-0.8zM410.5,76.5h0.8v0.8h-0.8zM409.3,74.1h0.8v0.8h-0.8zM408.7,74.5h0.8v0.8h-0.8zM406.8,74.3h0.8v0.8h-0.8zM404.5,71.7h0.8v0.8h-0.8zM416.0,74.4h0.8v0.8h-0.8zM406.5,75.2h0.8v0.8h-0.8zM407.4,66.4h0.8v0.8h-0.8zM408.1,77.4h0.8v0.8h-0.8zM411.5,73.6h0.8v0.8h-0.8zM407.5,69.0h0.8v0.8h-0.8zM414.3,75.1h0.8v0.8h-0.8zM407.4,64.3h0.8v0.8h-0.8zM406.2,85.4h0.8v0.8h-0.8zM406.9,73.6h0.8v0.8h-0.8zM410.9,73.3h0.8v0.8h-0.8zM409.5,67.7h0.8v0.8h-0.8zM407.1,81.8h0.8v0.8h-0.8zM408.0,77.9h0.8v0.8h-0.8zM405.2,72.7h0.8v0.8h-0.8zM411.1,78.8h0.8v0.8h-0.8zM406.9,76.7h0.8v0.8h-0.8zM411.5,70.6h0.8v0.8h-0.8zM411.7,69.9h0.8v0.8h-0.8zM407.9,73.9h0.8v0.8h-0.8zM402.2,73.5h0.8v0.8h-0.8zM407.3,67.3h0.8v0.8h-0.8zM409.0,77.5h0.8v0.8h-0.8zM409.1,79.8h0.8v0.8h-0.8zM406.8,68.0h0.8v0.8h-0.8zM415.0,75.8h0.8v0.8h-0.8zM413.1,70.2h0.8v0.8h-0.8zM412.7,75.2h0.8v0.8h-0.8zM412.2,74.1h0.8v0.8h-0.8zM413.9,71.0h0.8v0.8h-0.8zM407.4,67.2h0.8v0.8h-0.8zM413.8,70.6h0.8v0.8h-0.8zM407.2,69.7h0.8v0.8h-0.8zM409.0,68.2h0.8v0.8h-0.8zM409.4,71.1h0.8v0.8h-0.8zM408.6,69.6h0.8v0.8h-0.8zM410.4,71.9h0.8v0.8h-0.8zM410.6,75.1h0.8v0.8h-0.8zM411.3,63.9h0.8v0.8h-0.8zM408.7,70.3h0.8v0.8h-0.8zM412.6,66.7h0.8v0.8h-0.8zM408.2,72.6h0.8v0.8h-0.8zM409.3,78.6h0.8v0.8h-0.8zM409.0,78.4h0.8v0.8h-0.8zM405.9,65.7h0.8v0.8h-0.8zM414.0,76.0h0.8v0.8h-0.8zM411.8,74.6h0.8v0.8h-0.8zM411.8,68.4h0.8v0.8h-0.8zM413.1,71.6h0.8v0.8h-0.8zM413.3,74.4h0.8v0.8h-0.8zM404.4,68.1h0.8v0.8h-0.8zM413.7,73.4h0.8v0.8h-0.8zM409.1,75.1h0.8v0.8h-0.8zM409.0,71.5h0.8v0.8h-0.8zM410.6,74.7h0.8v0.8h-0.8zM414.9,74.2h0.8v0.8h-0.8zM415.9,82.3h0.8v0.8h-0.8zM415.4,78.9h0.8v0.8h-0.8zM410.7,74.6h0.8v0.8h-0.8zM409.9,70.6h0.8v0.8h-0.8zM410.1,71.1h0.8v0.8h-0.8zM415.2,76.5h0.8v0.8h-0.8zM409.0,65.2h0.8v0.8h-0.8zM410.1,72.1h0.8v0.8h-0.8zM407.0,68.8h0.8v0.8h-0.8zM403.5,76.6h0.8v0.8h-0.8zM410.1,85.9h0.8v0.8h-0.8zM410.2,73.3h0.8v0.8h-0.8zM414.6,74.6h0.8v0.8h-0.8zM410.8,72.3h0.8v0.8h-0.8zM408.5,80.9h0.8v0.8h-0.8zM413.3,81.9h0.8v0.8h-0.8zM409.3,74.1h0.8v0.8h-0.8zM407.7,78.4h0.8v0.8h-0.8zM406.1,76.6h0.8v0.8h-0.8zM413.6,80.5h0.8v0.8h-0.8zM407.5,79.0h0.8v0.8h-0.8zM408.2,70.5h0.8v0.8h-0.8zM406.3,79.3h0.8v0.8h-0.8zM415.2,71.3h0.8v0.8h-0.8zM408.0,72.4h0.8v0.8h-0.8zM417.8,78.6h0.8v0.8h-0.8zM408.7,65.7h0.8v0.8h-0.8zM408.3,79.5h0.8v0.8h-0.8zM415.9,72.8h0.8v0.8h-0.8zM408.2,71.7h0.8v0.8h-0.8zM404.6,78.2h0.8v0.8h-0.8zM407.0,78.9h0.8v0.8h-0.8zM405.2,68.2h0.8v0.8h-0.8zM411.2,70.5h0.8v0.8h-0.8zM412.6,74.0h0.8v0.8h-0.8zM406.8,76.9h0.8v0.8h-0.8zM412.8,65.2h0.8v0.8h-0.8zM415.8,76.3h0.8v0.8h-0.8zM412.6,65.4h0.8v0.8h-0.8zM408.1,72.4h0.8v0.8h-0.8zM413.5,67.3h0.8v0.8h-0.8zM407.6,64.7h0.8v0.8h-0.8zM409.6,75.6h0.8v0.8h-0.8zM405.2,71.3h0.8v0.8h-0.8zM411.8,81.3h0.8v0.8h-0.8zM412.3,72.6h0.8v0.8h-0.8zM406.8,69.7h0.8v0.8h-0.8zM408.3,74.7h0.8v0.8h-0.8zM410.2,81.7h0.8v0.8h-0.8zM411.2,69.1h0.8v0.8h-0.8zM414.9,78.4h0.8v0.8h-0.8zM410.6,70.7h0.8v0.8h-0.8zM404.7,69.3h0.8v0.8h-0.8zM413.0,70.3h0.8v0.8h-0.8zM406.3,74.9h0.8v0.8h-0.8zM411.0,76.8h0.8v0.8h-0.8zM412.3,80.5h0.8v0.8h-0.8zM407.8,78.5h0.8v0.8h-0.8zM407.3,77.2h0.8v0.8h-0.8zM410.8,75.1h0.8v0.8h-0.8zM413.2,73.9h0.8v0.8h-0.8zM413.6,78.0h0.8v0.8h-0.8zM410.7,71.4h0.8v0.8h-0.8zM408.0,71.6h0.8v0.8h-0.8zM409.7,73.9h0.8v0.8h-0.8zM419.2,76.9h0.8v0.8h-0.8zM412.6,70.0h0.8v0.8h-0.8zM408.2,72.5h0.8v0.8h-0.8zM410.9,69.2h0.8v0.8h-0.8zM415.1,71.4h0.8v0.8h-0.8zM413.5,63.3h0.8v0.8h-0.8zM410.3,75.3h0.8v0.8h-0.8zM410.9,76.8h0.8v0.8h-0.8zM411.1,74.7h0.8v0.8h-0.8zM404.6,70.7h0.8v0.8h-0.8zM403.3,76.9h0.8v0.8h-0.8zM411.2,73.1h0.8v0.8h-0.8zM407.8,71.3h0.8v0.8h-0.8zM415.8,82.0h0.8v0.8h-0.8zM410.1,79.9h0.8v0.8h-0.8zM405.5,65.1h0.8v0.8h-0.8zM408.9,70.0h0.8v0.8h-0.8zM408.6,74.9h0.8v0.8h-0.8zM419.4,71.0h0.8v0.8h-0.8zM410.4,75.3h0.8v0.8h-0.8zM410.2,78.3h0.8v0.8h-0.8zM415.6,68.3h0.8v0.8h-0.8zM410.8,72.8h0.8v0.8h-0.8zM411.4,67.0h0.8v0.8h-0.8zM405.0,63.3h0.8v0.8h-0.8zM411.9,74.9h0.8v0.8h-0.8zM410.5,63.1h0.8v0.8h-0.8zM409.2,70.5h0.8v0.8h-0.8zM406.1,69.8h0.8v0.8h-0.8zM412.4,76.5h0.8v0.8h-0.8zM410.2,76.4h0.8v0.8h-0.8zM408.5,74.3h0.8v0.8h-0.8zM410.4,76.6h0.8v0.8h-0.8zM410.1,73.3h0.8v0.8h-0.8zM409.9,71.0h0.8v0.8h-0.8zM417.0,76.4h0.8v0.8h-0.8zM411.6,84.5h0.8v0.8h-0.8zM414.5,66.8h0.8v0.8h-0.8zM412.4,77.9h0.8v0.8h-0.8zM416.0,80.1h0.8v0.8h-0.8zM412.6,68.6h0.8v0.8h-0.8zM407.7,75.2h0.8v0.8h-0.8zM411.8,69.3h0.8v0.8h-0.8zM409.1,72.2h0.8v0.8h-0.8zM410.5,75.5h0.8v0.8h-0.8zM409.4,68.3h0.8v0.8h-0.8zM414.0,81.3h0.8v0.8h-0.8zM410.0,78.7h0.8v0.8h-0.8zM411.6,77.0h0.8v0.8h-0.8zM411.7,70.5h0.8v0.8h-0.8zM412.0,78.6h0.8v0.8h-0.8zM407.6,83.0h0.8v0.8h-0.8zM416.6,82.4h0.8v0.8h-0.8zM416.3,77.4h0.8v0.8h-0.8zM409.3,71.2h0.8v0.8h-0.8zM407.9,74.5h0.8v0.8h-0.8zM410.2,77.1h0.8v0.8h-0.8zM404.2,84.6h0.8v0.8h-0.8zM417.1,73.9h0.8v0.8h-0.8zM412.3,76.2h0.8v0.8h-0.8zM411.1,73.0h0.8v0.8h-0.8zM409.9,70.2h0.8v0.8h-0.8zM410.8,73.9h0.8v0.8h-0.8zM411.3,70.1h0.8v0.8h-0.8zM410.4,74.2h0.8v0.8h-0.8zM412.1,69.1h0.8v0.8h-0.8zM411.6,78.5h0.8v0.8h-0.8zM412.1,72.3h0.8v0.8h-0.8zM408.8,72.9h0.8v0.8h-0.8zM412.5,81.1h0.8v0.8h-0.8zM409.8,71.0h0.8v0.8h-0.8zM411.4,74.9h0.8v0.8h-0.8zM407.6,70.6h0.8v0.8h-0.8zM410.0,77.1h0.8v0.8h-0.8zM406.7,69.3h0.8v0.8h-0.8zM411.8,68.4h0.8v0.8h-0.8zM410.6,75.6h0.8v0.8h-0.8zM410.0,69.3h0.8v0.8h-0.8zM410.1,72.5h0.8v0.8h-0.8zM411.3,70.1h0.8v0.8h-0.8zM413.6,66.3h0.8v0.8h-0.8zM409.8,74.0h0.8v0.8h-0.8zM413.2,71.2h0.8v0.8h-0.8zM411.9,71.4h0.8v0.8h-0.8zM412.5,82.0h0.8v0.8h-0.8zM409.1,76.0h0.8v0.8h-0.8zM407.5,78.5h0.8v0.8h-0.8zM413.9,74.2h0.8v0.8h-0.8zM406.9,75.9h0.8v0.8h-0.8zM413.7,79.0h0.8v0.8h-0.8zM412.7,65.6h0.8v0.8h-0.8zM408.3,80.5h0.8v0.8h-0.8zM406.6,79.2h0.8v0.8h-0.8zM415.9,77.5h0.8v0.8h-0.8zM413.7,72.5h0.8v0.8h-0.8zM406.6,73.5h0.8v0.8h-0.8zM409.7,73.8h0.8v0.8h-0.8zM412.4,73.3h0.8v0.8h-0.8zM410.9,76.0h0.8v0.8h-0.8zM410.3,82.5h0.8v0.8h-0.8zM411.6,74.4h0.8v0.8h-0.8zM409.7,71.1h0.8v0.8h-0.8zM414.3,74.7h0.8v0.8h-0.8zM407.1,71.4h0.8v0.8h-0.8zM409.9,72.0h0.8v0.8h-0.8zM413.6,68.7h0.8v0.8h-0.8zM411.8,74.7h0.8v0.8h-0.8zM406.8,74.2h0.8v0.8h-0.8zM410.0,76.3h0.8v0.8h-0.8zM408.9,75.4h0.8v0.8h-0.8zM405.3,69.0h0.8v0.8h-0.8zM412.7,78.8h0.8v0.8h-0.8zM410.3,71.2h0.8v0.8h-0.8zM413.5,64.4h0.8v0.8h-0.8zM407.9,77.1h0.8v0.8h-0.8zM412.3,69.3h0.8v0.8h-0.8zM404.6,80.7h0.8v0.8h-0.8zM410.8,69.9h0.8v0.8h-0.8zM410.5,78.1h0.8v0.8h-0.8zM402.5,79.1h0.8v0.8h-0.8zM412.5,64.4h0.8v0.8h-0.8zM412.6,65.8h0.8v0.8h-0.8zM413.7,75.8h0.8v0.8h-0.8zM417.1,71.2h0.8v0.8h-0.8zM410.3,78.8h0.8v0.8h-0.8zM408.4,70.8h0.8v0.8h-0.8zM409.2,73.7h0.8v0.8h-0.8zM407.1,76.2h0.8v0.8h-0.8zM411.9,74.3h0.8v0.8h-0.8zM415.4,72.5h0.8v0.8h-0.8zM414.2,71.5h0.8v0.8h-0.8zM412.6,65.1h0.8v0.8h-0.8zM410.9,73.2h0.8v0.8h-0.8zM408.8,71.2h0.8v0.8h-0.8zM409.3,70.7h0.8v0.8h-0.8zM403.7,71.3h0.8v0.8h-0.8zM408.7,71.6h0.8v0.8h-0.8zM407.1,73.4h0.8v0.8h-0.8zM412.7,72.8h0.8v0.8h-0.8zM408.8,80.2h0.8v0.8h-0.8zM413.2,78.2h0.8v0.8h-0.8zM413.8,72.5h0.8v0.8h-0.8zM409.9,79.1h0.8v0.8h-0.8zM408.6,73.4h0.8v0.8h-0.8zM411.4,75.7h0.8v0.8h-0.8zM409.5,78.5h0.8v0.8h-0.8zM409.8,77.3h0.8v0.8h-0.8zM413.5,77.0h0.8v0.8h-0.8zM412.5,68.7h0.8v0.8h-0.8zM406.4,71.2h0.8v0.8h-0.8zM411.7,80.9h0.8v0.8h-0.8zM406.6,75.4h0.8v0.8h-0.8zM407.7,70.6h0.8v0.8h-0.8zM409.5,77.2h0.8v0.8h-0.8zM410.9,79.4h0.8v0.8h-0.8zM407.3,78.1h0.8v0.8h-0.8zM413.1,74.3h0.8v0.8h-0.8zM411.7,71.4h0.8v0.8h-0.8zM407.0,72.1h0.8v0.8h-0.8zM408.4,87.3h0.8v0.8h-0.8zM408.8,81.6h0.8v0.8h-0.8zM410.9,75.4h0.8v0.8h-0.8zM412.5,70.4h0.8v0.8h-0.8zM413.0,75.7h0.8v0.8h-0.8zM405.8,76.8h0.8v0.8h-0.8zM412.0,76.1h0.8v0.8h-0.8zM415.1,72.1h0.8v0.8h-0.8zM411.8,77.4h0.8v0.8h-0.8zM407.6,79.5h0.8v0.8h-0.8zM405.9,68.0h0.8v0.8h-0.8zM411.9,69.0h0.8v0.8h-0.8zM410.0,66.4h0.8v0.8h-0.8zM410.5,68.8h0.8v0.8h-0.8zM411.3,67.0h0.8v0.8h-0.8zM411.6,72.8h0.8v0.8h-0.8zM410.5,73.7h0.8v0.8h-0.8zM410.7,67.9h0.8v0.8h-0.8zM402.6,74.2h0.8v0.8h-0.8zM407.5,71.9h0.8v0.8h-0.8zM411.6,64.9h0.8v0.8h-0.8zM408.0,71.2h0.8v0.8h-0.8zM407.1,75.5h0.8v0.8h-0.8zM409.9,70.2h0.8v0.8h-0.8zM407.3,77.7h0.8v0.8h-0.8zM408.3,76.7h0.8v0.8h-0.8zM411.6,65.3h0.8v0.8h-0.8zM407.0,74.0h0.8v0.8h-0.8zM411.3,77.6h0.8v0.8h-0.8zM412.7,78.8h0.8v0.8h-0.8zM409.2,73.0h0.8v0.8h-0.8zM412.6,72.0h0.8v0.8h-0.8zM413.5,66.7h0.8v0.8h-0.8zM412.3,73.2h0.8v0.8h-0.8zM404.4,78.5h0.8v0.8h-0.8zM411.2,74.1h0.8v0.8h-0.8zM407.1,71.9h0.8v0.8h-0.8zM414.8,70.2h0.8v0.8h-0.8zM399.9,70.1h0.8v0.8h-0.8zM406.7,73.4h0.8v0.8h-0.8zM409.1,69.8h0.8v0.8h-0.8zM407.8,78.8h0.8v0.8h-0.8zM406.0,83.0h0.8v0.8h-0.8zM408.7,69.0h0.8v0.8h-0.8zM412.7,76.6h0.8v0.8h-0.8zM407.2,77.4h0.8v0.8h-0.8zM404.8,69.8h0.8v0.8h-0.8zM413.7,72.8h0.8v0.8h-0.8zM406.4,76.4h0.8v0.8h-0.8zM413.1,73.9h0.8v0.8h-0.8zM404.9,72.4h0.8v0.8h-0.8zM411.6,77.5h0.8v0.8h-0.8zM415.9,72.8h0.8v0.8h-0.8zM408.9,73.8h0.8v0.8h-0.8zM413.9,69.7h0.8v0.8h-0.8zM414.2,61.4h0.8v0.8h-0.8zM412.7,70.9h0.8v0.8h-0.8zM411.7,77.2h0.8v0.8h-0.8zM406.8,73.6h0.8v0.8h-0.8zM411.0,76.7h0.8v0.8h-0.8zM407.5,69.4h0.8v0.8h-0.8zM404.5,85.7h0.8v0.8h-0.8zM409.7,73.0h0.8v0.8h-0.8zM405.8,78.3h0.8v0.8h-0.8zM408.7,80.6h0.8v0.8h-0.8zM412.9,74.1h0.8v0.8h-0.8zM412.5,68.9h0.8v0.8h-0.8zM409.3,71.4h0.8v0.8h-0.8zM406.5,74.1h0.8v0.8h-0.8zM409.9,80.6h0.8v0.8h-0.8zM400.2,70.9h0.8v0.8h-0.8zM407.5,71.9h0.8v0.8h-0.8zM411.6,75.9h0.8v0.8h-0.8zM410.4,71.8h0.8v0.8h-0.8zM411.8,75.7h0.8v0.8h-0.8zM404.8,72.8h0.8v0.8h-0.8zM406.2,68.6h0.8v0.8h-0.8zM410.7,74.3h0.8v0.8h-0.8zM410.6,70.0h0.8v0.8h-0.8zM409.7,69.8h0.8v0.8h-0.8zM411.4,77.2h0.8v0.8h-0.8zM415.6,79.8h0.8v0.8h-0.8zM407.9,71.9h0.8v0.8h-0.8zM407.5,75.4h0.8v0.8h-0.8z" fill="#000" fill-opacity="0.35"/>
<ellipse cx="409.8" cy="73.5" rx="3.2" ry="5.0" fill="#222" fill-opacity="0.75" filter="url(#blur)"/>
<ellipse cx="410.3" cy="74" rx="5.0" ry="7.0" fill="none" stroke="#333" stroke-width="0.6"/>
<path d="M414.9,92.7h0.8v0.8h-0.8zM405.7,85.2h0.8v0.8h-0.8zM407.7,92.0h0.8v0.8h-0.8zM410.5,91.1h0.8v0.8h-0.8zM414.4,86.9h0.8v0.8h-0.8zM408.6,97.5h0.8v0.8h-0.8zM411.3,87.0h0.8v0.8h-0.8zM406.0,84.2h0.8v0.8h-0.8zM405.1,90.3h0.8v0.8h-0.8zM410.6,93.8h0.8v0.8h-0.8zM410.2,87.4h0.8v0.8h-0.8zM408.9,97.2h0.8v0.8h-0.8zM406.6,90.7h0.8v0.8h-0.8zM410.6,92.3h0.8v0.8h-0.8zM409.6,91.9h0.8v0.8h-0.8zM412.3,89.4h0.8v0.8h-0.8zM409.5,89.3h0.8v0.8h-0.8zM408.4,89.2h0.8v0.8h-0.8zM409.8,90.8h0.8v0.8h-0.8zM413.4,95.0h0.8v0.8h-0.8zM409.5,92.3h0.8v0.8h-0.8zM411.1,92.9h0.8v0.8h-0.8zM410.5,91.0h0.8v0.8h-0.8zM409.5,87.0h0.8v0.8h-0.8zM412.4,94.9h0.8v0.8h-0.8zM412.0,91.7h0.8v0.8h-0.8zM411.1,88.3h0.8v0.8h-0.8zM406.6,92.5h0.8v0.8h-0.8zM410.9,87.9h0.8v0.8h-0.8zM408.4,94.9h0.8v0.8h-0.8zM406.5,96.7h0.8v0.8h-0.8zM411.9,99.0h0.8v0.8h-0.8zM408.9,89.9h0.8v0.8h-0.8zM409.4,90.6h0.8v0.8h-0.8zM410.0,87.2h0.8v0.8h-0.8zM412.9,87.0h0.8v0.8h-0.8zM409.4,92.1h0.8v0.8h-0.8zM409.3,88.3h0.8v0.8h-0.8zM411.3,88.6h0.8v0.8h-0.8zM407.8,89.6h0.8v0.8h-0.8zM410.0,96.5h0.8v0.8h-0.8zM408.1,93.7h0.8v0.8h-0.8zM408.8,88.6h0.8v0.8h-0.8zM409.8,91.0h0.8v0.8h-0.8zM412.4,96.6h0.8v0.8h-0.8zM409.1,95.1h0.8v0.8h-0.8zM412.7,93.1h0.8v0.8h-0.8zM408.8,93.4h0.8v0.8h-0.8zM410.3,91.3h0.8v0.8h-0.8zM409.9,92.5h0.8v0.8h-0.8zM413.0,94.3h0.8v0.8h-0.8zM410.0,93.8h0.8v0.8h-0.8zM413.7,86.4h0.8v0.8h-0.8zM413.7,84.9h0.8v0.8h-0.8zM411.7,92.3h0.8v0.8h-0.8zM413.8,91.1h0.8v0.8h-0.8zM409.4,87.0h0.8v0.8h-0.8zM407.7,92.9h0.8v0.8h-0.8zM410.0,87.3h0.8v0.8h-0.8zM411.7,87.1h0.8v0.8h-0.8zM409.5,88.3h0.8v0.8h-0.8zM414.1,95.6h0.8v0.8h-0.8zM410.2,84.0h0.8v0.8h-0.8zM411.1,90.3h0.8v0.8h-0.8zM411.3,92.1h0.8v0.8h-0.8zM409.8,93.5h0.8v0.8h-0.8zM412.3,90.8h0.8v0.8h-0.8zM409.6,88.2h0.8v0.8h-0.8zM412.0,85.8h0.8v0.8h-0.8zM410.1,87.2h0.8v0.8h-0.8zM407.4,92.3h0.8v0.8h-0.8zM410.4,90.1h0.8v0.8h-0.8zM412.4,84.3h0.8v0.8h-0.8zM410.4,91.1h0.8v0.8h-0.8zM412.3,85.9h0.8v0.8h-0.8zM412.1,90.8h0.8v0.8h-0.8zM413.5,94.3h0.8v0.8h-0.8zM411.7,98.2h0.8v0.8h-0.8zM410.5,88.4h0.8v0.8h-0.8zM409.8,86.4h0.8v0.8h-0.8zM410.4,82.9h0.8v0.8h-0.8zM410.3,91.6h0.8v0.8h-0.8zM412.7,88.7h0.8v0.8h-0.8zM413.6,87.5h0.8v0.8h-0.8zM410.2,82.9h0.8v0.8h-0.8zM408.8,87.0h0.8v0.8h-0.8zM413.7,92.0h0.8v0.8h-0.8zM408.1,92.0h0.8v0.8h-0.8zM411.5,89.1h0.8v0.8h-0.8zM410.5,88.9h0.8v0.8h-0.8zM409.3,83.4h0.8v0.8h-0.8zM410.3,94.8h0.8v0.8h-0.8zM413.6,89.0h0.8v0.8h-0.8zM408.9,89.2h0.8v0.8h-0.8zM412.4,91.3h0.8v0.8h-0.8zM409.2,91.3h0.8v0.8h-0.8zM410.1,91.9h0.8v0.8h-0.8zM409.6,84.5h0.8v0.8h-0.8zM410.6,92.8h0.8v0.8h-0.8zM408.1,89.6h0.8v0.8h-0.8zM412.4,88.6h0.8v0.8h-0.8zM409.1,97.5h0.8v0.8h-0.8zM412.3,93.8h0.8v0.8h-0.8zM408.5,96.0h0.8v0.8h-0.8zM407.0,88.1h0.8v0.8h-0.8zM412.1,94.9h0.8v0.8h-0.8zM408.5,87.5h0.8v0.8h-0.8zM410.9,82.9h0.8v0.8h-0.8zM411.9,92.1h0.8v0.8h-0.8zM409.5,92.0h0.8v0.8h-0.8z" fill="#000" fill-opacity="0.28"/>
<ellipse cx="410.3" cy="90.5" rx="3.0" ry="5.0" fill="none" stroke="#555" stroke-width="0.7"/>
<ellipse cx="410.3" cy="91.5" rx="1.5" ry="2.4" fill="none" stroke="#666" stroke-width="0.6"/>
<ellipse cx="225.00" cy="158.10" rx="6.76" ry="9.13" transform="rotate(10.0 225.00 157.50)" fill="#8f8f8f" fill-opacity="0.62" filter="url(#blur2)"/>
<path d="M226.9,159.6h0.8v0.8h-0.8zM225.4,164.2h0.8v0.8h-0.8zM223.6,158.4h0.8v0.8h-0.8zM222.9,161.8h0.8v0.8h-0.8zM223.6,159.7h0.8v0.8h-0.8zM225.3,158.3h0.8v0.8h-0.8zM229.7,158.5h0.8v0.8h-0.8zM228.3,161.9h0.8v0.8h-0.8zM228.7,158.0h0.8v0.8h-0.8zM227.0,161.4h0.8v0.8h-0.8zM223.1,158.8h0.8v0.8h-0.8zM224.7,157.8h0.8v0.8h-0.8zM229.0,155.8h0.8v0.8h-0.8zM221.6,150.4h0.8v0.8h-0.8zM224.2,155.3h0.8v0.8h-0.8zM224.7,160.2h0.8v0.8h-0.8zM229.6,160.0h0.8v0.8h-0.8zM226.8,155.4h0.8v0.8h-0.8zM225.6,163.6h0.8v0.8h-0.8zM230.0,151.0h0.8v0.8h-0.8zM226.3,164.6h0.8v0.8h-0.8zM228.3,152.6h0.8v0.8h-0.8zM223.8,160.1h0.8v0.8h-0.8zM226.7,155.0h0.8v0.8h-0.8zM221.9,161.3h0.8v0.8h-0.8zM220.4,162.9h0.8v0.8h-0.8zM224.8,159.2h0.8v0.8h-0.8zM221.8,155.0h0.8v0.8h-0.8zM227.9,152.6h0.8v0.8h-0.8zM231.6,153.5h0.8v0.8h-0.8zM221.7,157.6h0.8v0.8h-0.8zM225.8,161.1h0.8v0.8h-0.8zM224.1,157.0h0.8v0.8h-0.8zM224.8,155.7h0.8v0.8h-0.8zM217.4,160.5h0.8v0.8h-0.8zM225.6,158.7h0.8v0.8h-0.8zM223.1,158.7h0.8v0.8h-0.8zM225.0,157.7h0.8v0.8h-0.8zM229.2,151.9h0.8v0.8h-0.8zM226.4,154.0h0.8v0.8h-0.8zM223.1,163.7h0.8v0.8h-0.8zM222.1,157.1h0.8v0.8h-0.8zM222.8,161.4h0.8v0.8h-0.8zM223.5,151.0h0.8v0.8h-0.8zM226.6,156.9h0.8v0.8h-0.8zM223.4,162.0h0.8v0.8h-0.8zM222.9,156.1h0.8v0.8h-0.8zM225.1,159.7h0.8v0.8h-0.8zM222.9,161.8h0.8v0.8h-0.8zM231.3,157.5h0.8v0.8h-0.8zM231.5,150.7h0.8v0.8h-0.8zM229.0,157.3h0.8v0.8h-0.8zM225.6,156.8h0.8v0.8h-0.8zM224.2,152.7h0.8v0.8h-0.8zM223.0,162.8h0.8v0.8h-0.8zM228.3,157.2h0.8v0.8h-0.8zM224.1,155.0h0.8v0.8h-0.8zM220.5,164.4h0.8v0.8h-0.8zM226.7,158.8h0.8v0.8h-0.8zM224.4,153.8h0.8v0.8h-0.8zM228.0,161.7h0.8v0.8h-0.8zM221.7,161.4h0.8v0.8h-0.8zM221.6,160.0h0.8v0.8h-0.8zM222.7,155.9h0.8v0.8h-0.8zM226.0,159.9h0.8v0.8h-0.8zM228.3,155.2h0.8v0.8h-0.8zM228.4,164.0h0.8v0.8h-0.8zM224.7,159.8h0.8v0.8h-0.8zM223.0,157.0h0.8v0.8h-0.8zM221.4,157.7h0.8v0.8h-0.8zM224.6,163.3h0.8v0.8h-0.8zM227.0,161.6h0.8v0.8h-0.8zM224.2,157.0h0.8v0.8h-0.8zM223.9,158.7h0.8v0.8h-0.8zM219.3,160.1h0.8v0.8h-0.8zM221.1,155.3h0.8v0.8h-0.8zM225.4,156.0h0.8v0.8h-0.8zM229.6,158.4h0.8v0.8h-0.8zM228.4,163.3h0.8v0.8h-0.8zM223.4,159.3h0.8v0.8h-0.8zM228.7,157.3h0.8v0.8h-0.8zM225.6,155.9h0.8v0.8h-0.8zM225.4,156.7h0.8v0.8h-0.8zM224.5,161.9h0.8v0.8h-0.8zM228.7,159.2h0.8v0.8h-0.8zM225.0,161.4h0.8v0.8h-0.8zM224.9,153.8h0.8v0.8h-0.8zM228.6,154.9h0.8v0.8h-0.8zM228.2,154.7h0.8v0.8h-0.8zM230.7,154.8h0.8v0.8h-0.8zM226.3,164.2h0.8v0.8h-0.8zM221.4,163.3h0.8v0.8h-0.8zM224.0,150.8h0.8v0.8h-0.8zM226.5,161.1h0.8v0.8h-0.8zM226.2,148.1h0.8v0.8h-0.8zM225.1,156.8h0.8v0.8h-0.8zM224.2,156.7h0.8v0.8h-0.8zM220.5,155.0h0.8v0.8h-0.8zM228.8,164.8h0.8v0.8h-0.8zM224.5,155.1h0.8v0.8h-0.8zM225.3,162.3h0.8v0.8h-0.8zM227.8,153.8h0.8v0.8h-0.8zM225.3,158.6h0.8v0.8h-0.8zM228.1,163.3h0.8v0.8h-0.8zM225.6,163.0h0.8v0.8h-0.8zM222.9,163.8h0.8v0.8h-0.8zM223.6,159.3h0.8v0.8h-0.8zM228.1,154.9h0.8v0.8h-0.8zM224.3,150.9h0.8v0.8h-0.8zM225.5,157.9h0.8v0.8h-0.8zM223.8,159.8h0.8v0.8h-0.8zM219.3,156.9h0.8v0.8h-0.8zM225.4,157.0h0.8v0.8h-0.8zM226.0,165.2h0.8v0.8h-0.8zM224.4,154.1h0.8v0.8h-0.8zM223.3,158.1h0.8v0.8h-0.8zM227.2,154.9h0.8v0.8h-0.8zM228.4,154.5h0.8v0.8h-0.8zM226.9,160.0h0.8v0.8h-0.8zM224.8,166.6h0.8v0.8h-0.8zM224.4,157.2h0.8v0.8h-0.8zM225.7,161.6h0.8v0.8h-0.8zM221.2,158.4h0.8v0.8h-0.8zM222.6,160.1h0.8v0.8h-0.8zM228.7,158.9h0.8v0.8h-0.8zM224.6,158.7h0.8v0.8h-0.8zM216.5,159.6h0.8v0.8h-0.8zM226.4,158.9h0.8v0.8h-0.8zM224.4,155.0h0.8v0.8h-0.8zM223.7,162.6h0.8v0.8h-0.8zM223.8,163.2h0.8v0.8h-0.8zM218.4,155.0h0.8v0.8h-0.8zM225.8,158.1h0.8v0.8h-0.8zM221.0,154.6h0.8v0.8h-0.8zM229.3,153.6h0.8v0.8h-0.8zM223.1,153.3h0.8v0.8h-0.8zM223.1,160.2h0.8v0.8h-0.8zM228.0,150.4h0.8v0.8h-0.8zM229.4,156.4h0.8v0.8h-0.8zM222.3,164.2h0.8v0.8h-0.8zM225.6,153.2h0.8v0.8h-0.8zM223.8,154.9h0.8v0.8h-0.8zM222.5,156.2h0.8v0.8h-0.8zM227.1,159.8h0.8v0.8h-0.8zM222.2,158.0h0.8v0.8h-0.8zM224.6,161.0h0.8v0.8h-0.8zM223.8,159.6h0.8v0.8h-0.8zM230.6,159.4h0.8v0.8h-0.8zM221.8,158.8h0.8v0.8h-0.8zM223.1,156.2h0.8v0.8h-0.8zM225.3,159.4h0.8v0.8h-0.8zM223.7,161.1h0.8v0.8h-0.8zM225.4,152.9h0.8v0.8h-0.8zM227.6,157.0h0.8v0.8h-0.8zM228.7,156.0h0.8v0.8h-0.8zM226.3,159.5h0.8v0.8h-0.8zM218.7,150.9h0.8v0.8h-0.8zM221.0,162.9h0.8v0.8h-0.8zM219.3,160.6h0.8v0.8h-0.8zM227.6,160.4h0.8v0.8h-0.8zM227.2,156.4h0.8v0.8h-0.8zM224.8,158.9h0.8v0.8h-0.8zM225.7,160.9h0.8v0.8h-0.8zM224.9,155.2h0.8v0.8h-0.8zM223.2,159.3h0.8v0.8h-0.8zM221.4,152.4h0.8v0.8h-0.8zM224.3,155.7h0.8v0.8h-0.8zM226.1,147.6h0.8v0.8h-0.8zM224.2,156.9h0.8v0.8h-0.8zM228.5,150.7h0.8v0.8h-0.8zM223.8,159.7h0.8v0.8h-0.8zM225.5,162.9h0.8v0.8h-0.8zM228.6,154.4h0.8v0.8h-0.8zM227.0,157.0h0.8v0.8h-0.8zM221.8,163.6h0.8v0.8h-0.8zM223.9,154.4h0.8v0.8h-0.8zM224.5,154.5h0.8v0.8h-0.8zM227.5,160.0h0.8v0.8h-0.8zM228.5,160.3h0.8v0.8h-0.8zM222.6,161.8h0.8v0.8h-0.8zM223.5,155.9h0.8v0.8h-0.8zM224.5,158.1h0.8v0.8h-0.8zM228.7,156.2h0.8v0.8h-0.8zM226.0,158.1h0.8v0.8h-0.8zM222.3,153.2h0.8v0.8h-0.8zM224.1,159.5h0.8v0.8h-0.8zM225.5,160.0h0.8v0.8h-0.8zM225.4,156.3h0.8v0.8h-0.8zM226.8,154.3h0.8v0.8h-0.8zM221.6,156.1h0.8v0.8h-0.8zM221.5,155.3h0.8v0.8h-0.8z" fill="#000" fill-opacity="0.3"/>
<ellipse cx="225.00" cy="157.50" rx="5.07" ry="7.21" transform="rotate(10.0 225.00 157.50)" fill="none" stroke="#555" stroke-width="0.6"/>
<ellipse cx="225.00" cy="157.50" rx="2.86" ry="4.29" transform="rotate(10.0 225.00 157.50)" fill="#333" fill-opacity="0.7" filter="url(#blur2)"/>
<ellipse cx="225.00" cy="157.50" rx="1.17" ry="1.95" transform="rotate(10.0 225.00 157.50)" fill="#111"/>
<path d="M223.4,144.4h0.7v0.7h-0.7zM227.9,137.1h0.7v0.7h-0.7zM225.3,146.4h0.7v0.7h-0.7zM221.6,138.4h0.7v0.7h-0.7zM227.2,147.4h0.7v0.7h-0.7zM224.7,137.6h0.7v0.7h-0.7zM226.0,143.0h0.7v0.7h-0.7zM224.6,127.5h0.7v0.7h-0.7zM223.1,142.0h0.7v0.7h-0.7zM222.1,139.6h0.7v0.7h-0.7zM225.5,150.8h0.7v0.7h-0.7zM228.3,131.9h0.7v0.7h-0.7zM225.5,128.9h0.7v0.7h-0.7zM225.5,142.5h0.7v0.7h-0.7zM227.0,143.6h0.7v0.7h-0.7zM229.3,139.7h0.7v0.7h-0.7zM226.4,134.0h0.7v0.7h-0.7zM227.9,149.8h0.7v0.7h-0.7zM228.4,134.4h0.7v0.7h-0.7zM225.6,136.7h0.7v0.7h-0.7zM222.2,150.7h0.7v0.7h-0.7zM225.0,139.2h0.7v0.7h-0.7zM223.3,147.9h0.7v0.7h-0.7zM225.4,149.5h0.7v0.7h-0.7zM224.9,132.6h0.7v0.7h-0.7zM224.3,145.2h0.7v0.7h-0.7zM225.5,140.5h0.7v0.7h-0.7zM224.5,143.7h0.7v0.7h-0.7zM229.2,140.6h0.7v0.7h-0.7zM222.7,144.9h0.7v0.7h-0.7zM225.0,136.2h0.7v0.7h-0.7zM226.6,141.1h0.7v0.7h-0.7zM226.0,136.4h0.7v0.7h-0.7zM228.2,145.2h0.7v0.7h-0.7zM226.4,138.1h0.7v0.7h-0.7zM225.0,143.8h0.7v0.7h-0.7zM227.6,134.2h0.7v0.7h-0.7zM221.9,137.3h0.7v0.7h-0.7zM225.7,147.1h0.7v0.7h-0.7zM223.5,138.9h0.7v0.7h-0.7zM225.9,142.2h0.7v0.7h-0.7zM224.2,145.9h0.7v0.7h-0.7zM222.5,144.4h0.7v0.7h-0.7zM225.8,149.2h0.7v0.7h-0.7zM226.4,135.8h0.7v0.7h-0.7zM223.7,147.5h0.7v0.7h-0.7zM226.6,148.9h0.7v0.7h-0.7zM228.6,150.9h0.7v0.7h-0.7zM226.0,138.1h0.7v0.7h-0.7zM225.1,150.6h0.7v0.7h-0.7zM226.0,127.5h0.7v0.7h-0.7zM224.4,146.8h0.7v0.7h-0.7zM226.5,132.2h0.7v0.7h-0.7zM227.6,131.9h0.7v0.7h-0.7zM227.8,139.1h0.7v0.7h-0.7zM223.4,149.2h0.7v0.7h-0.7zM226.4,150.7h0.7v0.7h-0.7zM225.3,147.7h0.7v0.7h-0.7zM227.3,146.0h0.7v0.7h-0.7zM225.6,136.4h0.7v0.7h-0.7zM225.3,141.1h0.7v0.7h-0.7zM225.2,150.9h0.7v0.7h-0.7zM225.7,138.5h0.7v0.7h-0.7zM224.3,142.2h0.7v0.7h-0.7zM223.9,133.5h0.7v0.7h-0.7zM225.5,145.9h0.7v0.7h-0.7zM224.8,133.9h0.7v0.7h-0.7zM222.6,132.7h0.7v0.7h-0.7zM220.5,139.4h0.7v0.7h-0.7zM225.1,139.3h0.7v0.7h-0.7zM229.1,135.9h0.7v0.7h-0.7zM224.2,146.7h0.7v0.7h-0.7zM225.7,137.5h0.7v0.7h-0.7zM226.4,131.0h0.7v0.7h-0.7zM223.0,129.8h0.7v0.7h-0.7zM224.9,143.6h0.7v0.7h-0.7zM228.0,139.6h0.7v0.7h-0.7zM225.2,145.4h0.7v0.7h-0.7zM222.1,143.3h0.7v0.7h-0.7zM224.1,150.7h0.7v0.7h-0.7z" fill="#000" fill-opacity="0.45"/>
<rect x="282.80" y="127.30" width="9.40" height="36.20" rx="4.70" fill="#7a7a7a" fill-opacity="0.70" filter="url(#blur)"/>
<path d="M290.3,134.9h0.8v0.8h-0.8zM285.7,150.2h0.8v0.8h-0.8zM281.6,157.6h0.8v0.8h-0.8zM285.6,151.4h0.8v0.8h-0.8zM286.3,148.2h0.8v0.8h-0.8zM287.8,145.4h0.8v0.8h-0.8zM283.1,132.1h0.8v0.8h-0.8zM287.4,158.2h0.8v0.8h-0.8zM286.2,150.2h0.8v0.8h-0.8zM287.9,149.8h0.8v0.8h-0.8zM289.9,131.8h0.8v0.8h-0.8zM288.2,143.8h0.8v0.8h-0.8zM286.7,137.7h0.8v0.8h-0.8zM285.6,136.1h0.8v0.8h-0.8zM291.6,145.5h0.8v0.8h-0.8zM289.3,136.6h0.8v0.8h-0.8zM280.7,128.9h0.8v0.8h-0.8zM287.8,158.4h0.8v0.8h-0.8zM287.4,136.3h0.8v0.8h-0.8zM286.9,136.4h0.8v0.8h-0.8zM284.1,143.3h0.8v0.8h-0.8zM286.5,138.0h0.8v0.8h-0.8zM285.3,137.0h0.8v0.8h-0.8zM288.1,158.0h0.8v0.8h-0.8zM287.0,165.7h0.8v0.8h-0.8zM283.6,147.9h0.8v0.8h-0.8zM284.7,143.9h0.8v0.8h-0.8zM287.7,150.5h0.8v0.8h-0.8zM290.3,140.4h0.8v0.8h-0.8zM284.5,143.7h0.8v0.8h-0.8zM288.2,139.1h0.8v0.8h-0.8zM289.7,160.7h0.8v0.8h-0.8zM284.0,148.7h0.8v0.8h-0.8zM290.0,128.0h0.8v0.8h-0.8zM288.0,143.4h0.8v0.8h-0.8zM284.0,157.3h0.8v0.8h-0.8zM288.0,141.1h0.8v0.8h-0.8zM288.6,151.2h0.8v0.8h-0.8zM289.4,150.7h0.8v0.8h-0.8zM288.5,134.7h0.8v0.8h-0.8zM286.5,146.6h0.8v0.8h-0.8zM280.8,164.7h0.8v0.8h-0.8zM286.6,135.8h0.8v0.8h-0.8zM283.1,147.7h0.8v0.8h-0.8zM287.6,140.1h0.8v0.8h-0.8zM286.5,137.3h0.8v0.8h-0.8zM285.7,144.5h0.8v0.8h-0.8zM285.9,151.6h0.8v0.8h-0.8zM287.2,146.6h0.8v0.8h-0.8zM288.5,156.9h0.8v0.8h-0.8zM289.0,147.5h0.8v0.8h-0.8zM287.1,138.1h0.8v0.8h-0.8zM286.7,151.6h0.8v0.8h-0.8zM288.1,141.9h0.8v0.8h-0.8zM284.3,131.5h0.8v0.8h-0.8zM288.3,154.7h0.8v0.8h-0.8zM288.4,133.0h0.8v0.8h-0.8zM287.0,147.4h0.8v0.8h-0.8zM285.3,148.5h0.8v0.8h-0.8zM287.0,137.8h0.8v0.8h-0.8zM284.5,152.8h0.8v0.8h-0.8zM288.4,137.4h0.8v0.8h-0.8zM285.0,153.5h0.8v0.8h-0.8zM289.0,142.6h0.8v0.8h-0.8zM291.4,142.8h0.8v0.8h-0.8zM284.9,155.3h0.8v0.8h-0.8zM287.0,148.5h0.8v0.8h-0.8zM287.6,136.3h0.8v0.8h-0.8zM284.6,143.6h0.8v0.8h-0.8zM290.9,136.3h0.8v0.8h-0.8zM290.8,147.4h0.8v0.8h-0.8zM284.8,147.8h0.8v0.8h-0.8zM288.9,137.3h0.8v0.8h-0.8zM282.3,148.6h0.8v0.8h-0.8zM284.8,149.4h0.8v0.8h-0.8zM282.8,144.1h0.8v0.8h-0.8zM285.5,132.0h0.8v0.8h-0.8zM286.9,147.0h0.8v0.8h-0.8zM286.1,134.7h0.8v0.8h-0.8zM288.0,129.6h0.8v0.8h-0.8zM288.8,149.8h0.8v0.8h-0.8zM291.6,153.4h0.8v0.8h-0.8zM288.4,147.8h0.8v0.8h-0.8zM287.6,133.4h0.8v0.8h-0.8zM291.1,150.2h0.8v0.8h-0.8zM286.8,135.0h0.8v0.8h-0.8zM291.1,150.2h0.8v0.8h-0.8zM284.6,151.5h0.8v0.8h-0.8zM292.1,145.2h0.8v0.8h-0.8zM288.5,141.6h0.8v0.8h-0.8zM286.0,155.1h0.8v0.8h-0.8zM295.0,146.5h0.8v0.8h-0.8zM287.2,152.6h0.8v0.8h-0.8zM286.8,152.0h0.8v0.8h-0.8zM289.5,136.2h0.8v0.8h-0.8zM284.9,144.7h0.8v0.8h-0.8zM289.5,147.9h0.8v0.8h-0.8zM290.5,133.0h0.8v0.8h-0.8zM288.7,139.8h0.8v0.8h-0.8zM287.7,148.3h0.8v0.8h-0.8zM285.1,143.3h0.8v0.8h-0.8zM284.7,147.8h0.8v0.8h-0.8zM285.4,140.9h0.8v0.8h-0.8zM288.0,139.5h0.8v0.8h-0.8zM290.3,139.6h0.8v0.8h-0.8zM289.6,148.0h0.8v0.8h-0.8zM285.0,143.4h0.8v0.8h-0.8zM285.5,142.1h0.8v0.8h-0.8zM286.8,161.8h0.8v0.8h-0.8zM286.5,159.5h0.8v0.8h-0.8zM288.6,133.6h0.8v0.8h-0.8zM281.9,151.5h0.8v0.8h-0.8zM282.7,151.9h0.8v0.8h-0.8zM290.0,148.9h0.8v0.8h-0.8zM287.0,143.1h0.8v0.8h-0.8zM288.1,142.7h0.8v0.8h-0.8zM286.2,142.1h0.8v0.8h-0.8zM290.3,139.8h0.8v0.8h-0.8zM288.4,135.0h0.8v0.8h-0.8zM285.8,133.0h0.8v0.8h-0.8zM287.0,151.6h0.8v0.8h-0.8zM288.2,141.0h0.8v0.8h-0.8zM289.0,142.3h0.8v0.8h-0.8zM288.4,147.9h0.8v0.8h-0.8zM288.8,123.1h0.8v0.8h-0.8zM284.3,152.4h0.8v0.8h-0.8zM287.2,165.6h0.8v0.8h-0.8zM286.9,140.4h0.8v0.8h-0.8zM291.1,150.4h0.8v0.8h-0.8zM292.1,150.0h0.8v0.8h-0.8zM287.0,151.9h0.8v0.8h-0.8zM285.6,141.4h0.8v0.8h-0.8zM286.2,143.4h0.8v0.8h-0.8zM289.4,141.1h0.8v0.8h-0.8zM288.3,140.9h0.8v0.8h-0.8zM289.6,120.6h0.8v0.8h-0.8zM287.0,146.9h0.8v0.8h-0.8zM284.9,154.5h0.8v0.8h-0.8zM288.0,156.9h0.8v0.8h-0.8zM289.8,151.2h0.8v0.8h-0.8zM287.1,135.6h0.8v0.8h-0.8zM287.0,141.3h0.8v0.8h-0.8zM288.1,141.2h0.8v0.8h-0.8zM294.9,131.0h0.8v0.8h-0.8zM290.3,141.2h0.8v0.8h-0.8zM286.9,153.7h0.8v0.8h-0.8zM287.5,134.5h0.8v0.8h-0.8zM288.5,143.6h0.8v0.8h-0.8zM282.5,147.2h0.8v0.8h-0.8zM285.0,138.7h0.8v0.8h-0.8zM288.7,148.1h0.8v0.8h-0.8zM286.8,164.9h0.8v0.8h-0.8zM288.5,139.9h0.8v0.8h-0.8zM288.1,144.3h0.8v0.8h-0.8zM282.2,131.2h0.8v0.8h-0.8zM284.1,163.9h0.8v0.8h-0.8zM287.1,142.9h0.8v0.8h-0.8zM286.1,154.2h0.8v0.8h-0.8zM287.6,160.7h0.8v0.8h-0.8zM289.4,160.2h0.8v0.8h-0.8zM287.2,148.8h0.8v0.8h-0.8zM286.5,143.9h0.8v0.8h-0.8zM283.3,140.2h0.8v0.8h-0.8zM285.2,139.6h0.8v0.8h-0.8zM290.4,147.7h0.8v0.8h-0.8zM290.5,153.1h0.8v0.8h-0.8zM289.7,154.4h0.8v0.8h-0.8zM286.0,152.6h0.8v0.8h-0.8zM286.7,140.6h0.8v0.8h-0.8zM290.4,164.8h0.8v0.8h-0.8zM285.1,161.0h0.8v0.8h-0.8zM289.5,137.8h0.8v0.8h-0.8zM288.2,148.7h0.8v0.8h-0.8zM288.4,142.2h0.8v0.8h-0.8zM284.4,145.7h0.8v0.8h-0.8zM289.6,152.4h0.8v0.8h-0.8zM289.1,155.3h0.8v0.8h-0.8zM285.1,145.0h0.8v0.8h-0.8zM288.3,154.4h0.8v0.8h-0.8zM287.9,150.0h0.8v0.8h-0.8zM287.8,164.2h0.8v0.8h-0.8zM282.2,145.2h0.8v0.8h-0.8zM293.5,147.5h0.8v0.8h-0.8zM283.1,146.6h0.8v0.8h-0.8zM284.0,139.3h0.8v0.8h-0.8zM288.0,160.8h0.8v0.8h-0.8zM288.6,151.4h0.8v0.8h-0.8zM290.0,147.2h0.8v0.8h-0.8zM285.4,144.5h0.8v0.8h-0.8zM288.3,142.9h0.8v0.8h-0.8zM285.9,142.2h0.8v0.8h-0.8zM283.9,136.2h0.8v0.8h-0.8zM287.3,142.2h0.8v0.8h-0.8zM287.6,158.0h0.8v0.8h-0.8zM288.2,145.1h0.8v0.8h-0.8zM284.7,135.7h0.8v0.8h-0.8zM288.4,137.6h0.8v0.8h-0.8zM288.5,135.8h0.8v0.8h-0.8zM287.8,144.7h0.8v0.8h-0.8zM289.9,141.9h0.8v0.8h-0.8zM286.6,147.6h0.8v0.8h-0.8zM287.6,160.5h0.8v0.8h-0.8zM286.9,140.6h0.8v0.8h-0.8zM286.7,149.6h0.8v0.8h-0.8zM288.1,151.6h0.8v0.8h-0.8zM291.9,145.1h0.8v0.8h-0.8zM284.6,146.8h0.8v0.8h-0.8zM288.5,125.4h0.8v0.8h-0.8zM287.5,132.2h0.8v0.8h-0.8zM288.6,157.8h0.8v0.8h-0.8zM290.0,131.9h0.8v0.8h-0.8zM290.8,153.5h0.8v0.8h-0.8zM286.6,149.9h0.8v0.8h-0.8zM291.2,142.4h0.8v0.8h-0.8zM287.5,140.4h0.8v0.8h-0.8zM290.3,126.1h0.8v0.8h-0.8zM290.9,136.7h0.8v0.8h-0.8zM289.7,130.9h0.8v0.8h-0.8zM285.2,140.1h0.8v0.8h-0.8zM289.5,130.9h0.8v0.8h-0.8zM289.0,139.7h0.8v0.8h-0.8zM290.5,142.6h0.8v0.8h-0.8zM288.7,143.9h0.8v0.8h-0.8zM291.8,142.2h0.8v0.8h-0.8zM287.4,163.2h0.8v0.8h-0.8zM287.7,151.5h0.8v0.8h-0.8zM285.7,147.2h0.8v0.8h-0.8zM282.0,146.3h0.8v0.8h-0.8zM285.9,132.0h0.8v0.8h-0.8zM284.1,155.6h0.8v0.8h-0.8zM288.5,131.8h0.8v0.8h-0.8zM291.9,139.2h0.8v0.8h-0.8zM286.6,147.6h0.8v0.8h-0.8zM284.8,130.9h0.8v0.8h-0.8zM285.7,156.0h0.8v0.8h-0.8zM289.8,131.3h0.8v0.8h-0.8zM290.4,145.7h0.8v0.8h-0.8zM288.7,145.9h0.8v0.8h-0.8zM288.5,136.4h0.8v0.8h-0.8zM285.3,139.1h0.8v0.8h-0.8zM286.6,150.9h0.8v0.8h-0.8zM284.6,159.7h0.8v0.8h-0.8zM286.0,140.1h0.8v0.8h-0.8zM289.2,149.3h0.8v0.8h-0.8zM286.7,135.8h0.8v0.8h-0.8zM285.1,131.1h0.8v0.8h-0.8zM290.3,155.1h0.8v0.8h-0.8zM292.0,149.9h0.8v0.8h-0.8zM288.3,152.2h0.8v0.8h-0.8zM289.8,143.1h0.8v0.8h-0.8zM288.3,164.7h0.8v0.8h-0.8zM283.4,132.8h0.8v0.8h-0.8zM285.2,152.1h0.8v0.8h-0.8zM290.4,142.4h0.8v0.8h-0.8zM289.1,145.0h0.8v0.8h-0.8zM288.2,140.6h0.8v0.8h-0.8zM287.4,145.4h0.8v0.8h-0.8zM290.2,165.4h0.8v0.8h-0.8zM283.1,150.2h0.8v0.8h-0.8zM287.5,154.1h0.8v0.8h-0.8zM290.1,152.4h0.8v0.8h-0.8zM289.4,136.9h0.8v0.8h-0.8zM283.4,160.3h0.8v0.8h-0.8zM290.4,136.9h0.8v0.8h-0.8zM290.6,151.4h0.8v0.8h-0.8zM281.6,153.5h0.8v0.8h-0.8zM285.1,155.8h0.8v0.8h-0.8zM285.9,138.7h0.8v0.8h-0.8zM283.8,143.5h0.8v0.8h-0.8zM290.0,139.4h0.8v0.8h-0.8zM283.0,164.6h0.8v0.8h-0.8zM291.9,151.6h0.8v0.8h-0.8zM286.2,134.5h0.8v0.8h-0.8zM283.6,150.4h0.8v0.8h-0.8zM290.6,135.9h0.8v0.8h-0.8zM287.5,142.9h0.8v0.8h-0.8zM286.9,149.9h0.8v0.8h-0.8zM292.5,139.7h0.8v0.8h-0.8zM289.5,155.2h0.8v0.8h-0.8zM286.8,144.1h0.8v0.8h-0.8zM284.3,155.1h0.8v0.8h-0.8zM286.2,139.5h0.8v0.8h-0.8zM287.7,137.7h0.8v0.8h-0.8zM285.0,142.7h0.8v0.8h-0.8zM291.1,143.6h0.8v0.8h-0.8zM288.8,132.3h0.8v0.8h-0.8zM282.8,161.7h0.8v0.8h-0.8zM286.5,131.6h0.8v0.8h-0.8zM287.2,150.8h0.8v0.8h-0.8zM283.3,137.5h0.8v0.8h-0.8zM288.1,137.1h0.8v0.8h-0.8zM289.4,154.0h0.8v0.8h-0.8zM288.6,141.5h0.8v0.8h-0.8zM287.4,139.7h0.8v0.8h-0.8zM287.2,148.3h0.8v0.8h-0.8zM286.8,154.1h0.8v0.8h-0.8zM293.8,140.5h0.8v0.8h-0.8zM288.3,152.8h0.8v0.8h-0.8zM289.1,143.3h0.8v0.8h-0.8zM286.3,154.4h0.8v0.8h-0.8zM289.0,149.9h0.8v0.8h-0.8zM285.6,151.1h0.8v0.8h-0.8zM289.4,143.7h0.8v0.8h-0.8zM289.1,164.9h0.8v0.8h-0.8zM283.0,150.8h0.8v0.8h-0.8zM284.7,133.1h0.8v0.8h-0.8zM286.9,150.3h0.8v0.8h-0.8zM287.6,134.9h0.8v0.8h-0.8zM284.0,140.4h0.8v0.8h-0.8zM287.5,137.9h0.8v0.8h-0.8zM283.9,161.2h0.8v0.8h-0.8zM285.5,144.0h0.8v0.8h-0.8zM286.2,140.1h0.8v0.8h-0.8zM287.6,142.7h0.8v0.8h-0.8zM289.0,134.7h0.8v0.8h-0.8zM283.9,162.9h0.8v0.8h-0.8zM287.3,152.3h0.8v0.8h-0.8zM290.4,150.4h0.8v0.8h-0.8zM287.6,131.4h0.8v0.8h-0.8zM283.6,154.2h0.8v0.8h-0.8zM289.1,150.5h0.8v0.8h-0.8zM283.5,126.2h0.8v0.8h-0.8zM284.9,134.8h0.8v0.8h-0.8zM287.9,136.2h0.8v0.8h-0.8zM291.3,139.8h0.8v0.8h-0.8zM286.1,153.2h0.8v0.8h-0.8zM288.3,137.3h0.8v0.8h-0.8zM289.5,162.7h0.8v0.8h-0.8zM284.5,143.2h0.8v0.8h-0.8zM284.9,127.9h0.8v0.8h-0.8zM289.0,151.7h0.8v0.8h-0.8zM289.9,149.3h0.8v0.8h-0.8zM282.6,145.2h0.8v0.8h-0.8zM285.9,134.8h0.8v0.8h-0.8zM284.8,152.3h0.8v0.8h-0.8zM286.8,163.2h0.8v0.8h-0.8zM288.6,128.2h0.8v0.8h-0.8zM289.7,156.7h0.8v0.8h-0.8zM287.6,134.4h0.8v0.8h-0.8zM291.8,133.5h0.8v0.8h-0.8zM287.3,128.2h0.8v0.8h-0.8zM284.5,130.0h0.8v0.8h-0.8zM290.1,156.1h0.8v0.8h-0.8zM286.5,133.1h0.8v0.8h-0.8zM287.4,148.8h0.8v0.8h-0.8zM283.8,134.9h0.8v0.8h-0.8zM287.3,151.8h0.8v0.8h-0.8zM287.7,149.5h0.8v0.8h-0.8zM284.5,122.8h0.8v0.8h-0.8zM288.3,137.1h0.8v0.8h-0.8zM287.2,142.0h0.8v0.8h-0.8zM288.7,138.4h0.8v0.8h-0.8zM291.0,145.7h0.8v0.8h-0.8zM288.8,151.1h0.8v0.8h-0.8zM290.0,149.1h0.8v0.8h-0.8zM283.2,139.7h0.8v0.8h-0.8zM292.0,149.7h0.8v0.8h-0.8zM288.9,149.6h0.8v0.8h-0.8zM285.9,139.2h0.8v0.8h-0.8zM285.9,155.9h0.8v0.8h-0.8zM288.4,161.6h0.8v0.8h-0.8zM288.7,162.6h0.8v0.8h-0.8zM288.6,134.6h0.8v0.8h-0.8zM291.8,148.5h0.8v0.8h-0.8zM290.4,147.4h0.8v0.8h-0.8zM286.7,146.9h0.8v0.8h-0.8zM284.8,134.5h0.8v0.8h-0.8zM285.3,140.6h0.8v0.8h-0.8zM284.2,144.5h0.8v0.8h-0.8zM288.2,163.9h0.8v0.8h-0.8zM292.0,144.9h0.8v0.8h-0.8zM289.7,143.4h0.8v0.8h-0.8zM288.5,145.1h0.8v0.8h-0.8zM286.2,146.1h0.8v0.8h-0.8zM283.9,149.4h0.8v0.8h-0.8zM286.8,135.5h0.8v0.8h-0.8zM286.6,150.5h0.8v0.8h-0.8zM285.8,149.7h0.8v0.8h-0.8zM288.9,159.7h0.8v0.8h-0.8zM284.8,144.4h0.8v0.8h-0.8zM288.8,159.1h0.8v0.8h-0.8zM288.1,152.3h0.8v0.8h-0.8zM283.9,140.1h0.8v0.8h-0.8zM291.6,142.8h0.8v0.8h-0.8zM292.8,138.7h0.8v0.8h-0.8zM286.8,130.8h0.8v0.8h-0.8zM289.1,147.8h0.8v0.8h-0.8zM292.5,146.9h0.8v0.8h-0.8zM286.9,132.5h0.8v0.8h-0.8zM287.3,154.1h0.8v0.8h-0.8zM289.3,156.7h0.8v0.8h-0.8zM289.6,145.0h0.8v0.8h-0.8zM289.0,147.0h0.8v0.8h-0.8zM284.2,161.1h0.8v0.8h-0.8zM288.4,135.7h0.8v0.8h-0.8zM288.5,148.0h0.8v0.8h-0.8zM290.0,158.7h0.8v0.8h-0.8zM280.0,150.5h0.8v0.8h-0.8zM291.3,136.7h0.8v0.8h-0.8zM282.9,148.0h0.8v0.8h-0.8zM288.3,148.6h0.8v0.8h-0.8zM284.8,141.1h0.8v0.8h-0.8zM288.0,152.3h0.8v0.8h-0.8zM292.9,148.1h0.8v0.8h-0.8zM286.0,123.7h0.8v0.8h-0.8zM290.2,144.2h0.8v0.8h-0.8zM287.2,136.3h0.8v0.8h-0.8zM289.3,128.9h0.8v0.8h-0.8zM287.8,146.5h0.8v0.8h-0.8zM288.2,157.4h0.8v0.8h-0.8zM287.3,146.3h0.8v0.8h-0.8zM289.6,131.1h0.8v0.8h-0.8zM286.8,146.0h0.8v0.8h-0.8zM289.9,138.0h0.8v0.8h-0.8zM289.5,148.9h0.8v0.8h-0.8zM283.8,131.8h0.8v0.8h-0.8zM283.9,146.7h0.8v0.8h-0.8zM288.0,152.1h0.8v0.8h-0.8zM289.5,140.3h0.8v0.8h-0.8zM290.2,153.0h0.8v0.8h-0.8zM288.7,149.8h0.8v0.8h-0.8zM284.3,148.7h0.8v0.8h-0.8zM284.9,134.4h0.8v0.8h-0.8zM286.6,146.7h0.8v0.8h-0.8zM287.4,142.3h0.8v0.8h-0.8zM285.0,147.1h0.8v0.8h-0.8zM285.7,132.4h0.8v0.8h-0.8zM287.7,158.8h0.8v0.8h-0.8zM286.5,135.6h0.8v0.8h-0.8zM290.9,161.2h0.8v0.8h-0.8zM286.8,143.4h0.8v0.8h-0.8zM287.8,154.6h0.8v0.8h-0.8zM288.6,128.6h0.8v0.8h-0.8zM284.8,134.0h0.8v0.8h-0.8zM288.6,146.4h0.8v0.8h-0.8zM292.0,142.9h0.8v0.8h-0.8zM288.3,146.1h0.8v0.8h-0.8zM287.8,166.8h0.8v0.8h-0.8zM288.2,159.0h0.8v0.8h-0.8zM290.7,139.8h0.8v0.8h-0.8zM289.2,141.9h0.8v0.8h-0.8zM287.8,146.9h0.8v0.8h-0.8zM287.6,141.1h0.8v0.8h-0.8zM291.4,142.9h0.8v0.8h-0.8zM289.3,161.0h0.8v0.8h-0.8zM289.1,154.9h0.8v0.8h-0.8zM291.0,155.5h0.8v0.8h-0.8zM291.8,132.2h0.8v0.8h-0.8zM292.4,145.7h0.8v0.8h-0.8zM283.1,139.5h0.8v0.8h-0.8zM284.0,145.2h0.8v0.8h-0.8zM283.8,136.1h0.8v0.8h-0.8zM288.2,146.9h0.8v0.8h-0.8zM285.5,143.2h0.8v0.8h-0.8zM287.3,146.1h0.8v0.8h-0.8zM287.5,143.3h0.8v0.8h-0.8zM289.7,130.5h0.8v0.8h-0.8zM286.3,146.6h0.8v0.8h-0.8zM286.5,140.3h0.8v0.8h-0.8zM286.4,147.3h0.8v0.8h-0.8zM290.6,143.7h0.8v0.8h-0.8zM286.8,148.7h0.8v0.8h-0.8zM286.9,127.4h0.8v0.8h-0.8zM288.2,141.9h0.8v0.8h-0.8zM286.1,151.2h0.8v0.8h-0.8zM287.6,140.2h0.8v0.8h-0.8zM282.1,129.4h0.8v0.8h-0.8zM287.5,144.3h0.8v0.8h-0.8zM288.6,147.5h0.8v0.8h-0.8zM286.3,133.6h0.8v0.8h-0.8zM284.8,144.1h0.8v0.8h-0.8zM284.6,152.4h0.8v0.8h-0.8zM284.2,128.7h0.8v0.8h-0.8zM287.0,128.9h0.8v0.8h-0.8zM291.6,136.2h0.8v0.8h-0.8zM287.4,143.1h0.8v0.8h-0.8zM285.5,129.0h0.8v0.8h-0.8zM282.8,153.4h0.8v0.8h-0.8zM290.1,165.5h0.8v0.8h-0.8zM283.8,150.6h0.8v0.8h-0.8zM287.5,153.3h0.8v0.8h-0.8zM286.2,152.1h0.8v0.8h-0.8zM289.7,151.0h0.8v0.8h-0.8zM291.1,143.8h0.8v0.8h-0.8zM291.4,138.9h0.8v0.8h-0.8zM291.7,119.9h0.8v0.8h-0.8zM287.5,138.0h0.8v0.8h-0.8zM287.5,155.0h0.8v0.8h-0.8zM289.3,146.3h0.8v0.8h-0.8zM291.8,131.7h0.8v0.8h-0.8zM285.5,159.4h0.8v0.8h-0.8zM288.3,126.1h0.8v0.8h-0.8zM288.4,134.4h0.8v0.8h-0.8zM291.2,156.0h0.8v0.8h-0.8zM286.1,157.4h0.8v0.8h-0.8zM285.4,154.0h0.8v0.8h-0.8zM288.9,144.2h0.8v0.8h-0.8zM283.9,142.8h0.8v0.8h-0.8zM281.8,140.2h0.8v0.8h-0.8zM282.9,156.7h0.8v0.8h-0.8zM285.1,122.8h0.8v0.8h-0.8zM289.0,148.8h0.8v0.8h-0.8zM286.2,165.1h0.8v0.8h-0.8zM289.4,146.0h0.8v0.8h-0.8zM285.9,117.9h0.8v0.8h-0.8zM288.7,154.3h0.8v0.8h-0.8zM286.0,132.3h0.8v0.8h-0.8zM287.4,129.8h0.8v0.8h-0.8zM287.5,152.6h0.8v0.8h-0.8zM291.3,147.9h0.8v0.8h-0.8zM288.0,152.4h0.8v0.8h-0.8zM291.0,142.4h0.8v0.8h-0.8zM284.4,138.0h0.8v0.8h-0.8zM284.4,137.1h0.8v0.8h-0.8zM287.2,148.6h0.8v0.8h-0.8zM287.9,146.0h0.8v0.8h-0.8zM286.6,149.3h0.8v0.8h-0.8zM289.7,152.5h0.8v0.8h-0.8zM291.2,142.7h0.8v0.8h-0.8zM286.9,161.2h0.8v0.8h-0.8zM288.0,149.2h0.8v0.8h-0.8zM286.7,154.4h0.8v0.8h-0.8zM286.5,136.0h0.8v0.8h-0.8zM287.3,141.3h0.8v0.8h-0.8zM289.6,141.9h0.8v0.8h-0.8zM287.8,143.4h0.8v0.8h-0.8zM288.4,139.5h0.8v0.8h-0.8zM290.3,132.2h0.8v0.8h-0.8zM286.5,138.8h0.8v0.8h-0.8zM289.1,145.8h0.8v0.8h-0.8zM288.7,142.3h0.8v0.8h-0.8zM285.7,135.0h0.8v0.8h-0.8zM286.7,140.4h0.8v0.8h-0.8zM288.2,148.7h0.8v0.8h-0.8zM289.9,144.4h0.8v0.8h-0.8zM285.6,135.5h0.8v0.8h-0.8zM287.7,148.8h0.8v0.8h-0.8zM292.4,147.1h0.8v0.8h-0.8zM291.9,162.8h0.8v0.8h-0.8zM284.9,156.7h0.8v0.8h-0.8zM290.3,157.9h0.8v0.8h-0.8zM287.5,154.3h0.8v0.8h-0.8zM286.3,144.7h0.8v0.8h-0.8zM287.5,162.0h0.8v0.8h-0.8zM287.0,154.3h0.8v0.8h-0.8zM287.7,138.8h0.8v0.8h-0.8zM288.1,151.5h0.8v0.8h-0.8zM285.7,151.3h0.8v0.8h-0.8zM285.7,137.2h0.8v0.8h-0.8zM288.1,143.2h0.8v0.8h-0.8zM285.0,130.2h0.8v0.8h-0.8zM287.6,147.7h0.8v0.8h-0.8zM286.4,147.1h0.8v0.8h-0.8zM283.7,149.1h0.8v0.8h-0.8zM288.5,148.0h0.8v0.8h-0.8zM286.0,146.1h0.8v0.8h-0.8zM287.8,155.3h0.8v0.8h-0.8zM288.2,147.8h0.8v0.8h-0.8zM285.7,153.4h0.8v0.8h-0.8zM290.4,140.8h0.8v0.8h-0.8zM289.1,148.3h0.8v0.8h-0.8zM287.4,133.4h0.8v0.8h-0.8zM291.9,128.1h0.8v0.8h-0.8zM288.3,141.9h0.8v0.8h-0.8zM290.4,141.5h0.8v0.8h-0.8zM287.6,151.1h0.8v0.8h-0.8zM288.6,140.6h0.8v0.8h-0.8zM289.2,149.0h0.8v0.8h-0.8zM290.0,140.7h0.8v0.8h-0.8zM287.4,141.8h0.8v0.8h-0.8zM285.4,147.8h0.8v0.8h-0.8zM288.5,158.6h0.8v0.8h-0.8zM286.7,149.0h0.8v0.8h-0.8zM290.4,144.3h0.8v0.8h-0.8zM287.7,146.6h0.8v0.8h-0.8zM285.8,136.2h0.8v0.8h-0.8zM290.3,147.0h0.8v0.8h-0.8zM287.3,133.9h0.8v0.8h-0.8zM287.8,156.3h0.8v0.8h-0.8zM284.6,137.1h0.8v0.8h-0.8zM290.3,158.7h0.8v0.8h-0.8zM291.4,140.3h0.8v0.8h-0.8zM289.0,138.4h0.8v0.8h-0.8zM288.8,142.0h0.8v0.8h-0.8zM288.0,157.8h0.8v0.8h-0.8zM288.3,143.2h0.8v0.8h-0.8zM287.6,147.9h0.8v0.8h-0.8zM286.2,147.3h0.8v0.8h-0.8zM289.0,159.8h0.8v0.8h-0.8zM282.4,134.4h0.8v0.8h-0.8zM284.4,153.5h0.8v0.8h-0.8zM293.6,147.2h0.8v0.8h-0.8zM287.8,155.9h0.8v0.8h-0.8zM281.4,143.7h0.8v0.8h-0.8zM279.8,146.8h0.8v0.8h-0.8zM286.2,140.9h0.8v0.8h-0.8zM288.3,140.0h0.8v0.8h-0.8z" fill="#000" fill-opacity="0.32"/>
<rect x="284.90" y="134.24" width="1.80" height="27.53" rx="0.90" fill="#1a1a1a" fill-opacity="0.8" filter="url(#blur2)"/>
<rect x="288.55" y="134.24" width="1.70" height="27.53" rx="0.85" fill="#1a1a1a" fill-opacity="0.8" filter="url(#blur2)"/>
<path d="M283.30,137.96 C283.30,126.80 291.70,126.80 291.70,137.96" fill="none" stroke="#333" stroke-width="0.7"/>
<ellipse cx="348.80" cy="158.10" rx="6.24" ry="8.42" transform="rotate(15.0 348.80 157.50)" fill="#8f8f8f" fill-opacity="0.62" filter="url(#blur2)"/>
<path d="M351.6,158.7h0.8v0.8h-0.8zM346.8,161.1h0.8v0.8h-0.8zM345.5,162.0h0.8v0.8h-0.8zM351.1,159.2h0.8v0.8h-0.8zM349.7,164.5h0.8v0.8h-0.8zM352.3,158.9h0.8v0.8h-0.8zM347.6,162.0h0.8v0.8h-0.8zM345.7,154.8h0.8v0.8h-0.8zM349.5,160.4h0.8v0.8h-0.8zM351.8,165.6h0.8v0.8h-0.8zM349.2,159.8h0.8v0.8h-0.8zM345.6,156.4h0.8v0.8h-0.8zM349.7,157.4h0.8v0.8h-0.8zM348.4,160.2h0.8v0.8h-0.8zM346.9,155.3h0.8v0.8h-0.8zM343.2,160.9h0.8v0.8h-0.8zM347.8,151.1h0.8v0.8h-0.8zM351.0,157.7h0.8v0.8h-0.8zM351.6,157.3h0.8v0.8h-0.8zM353.5,162.0h0.8v0.8h-0.8zM349.1,158.5h0.8v0.8h-0.8zM347.5,160.8h0.8v0.8h-0.8zM354.3,157.8h0.8v0.8h-0.8zM345.5,159.4h0.8v0.8h-0.8zM352.9,153.3h0.8v0.8h-0.8zM348.0,153.9h0.8v0.8h-0.8zM349.7,160.2h0.8v0.8h-0.8zM348.0,153.4h0.8v0.8h-0.8zM352.5,151.0h0.8v0.8h-0.8zM350.6,157.9h0.8v0.8h-0.8zM352.7,162.9h0.8v0.8h-0.8zM347.6,156.6h0.8v0.8h-0.8zM348.8,155.2h0.8v0.8h-0.8zM348.1,161.5h0.8v0.8h-0.8zM345.2,156.2h0.8v0.8h-0.8zM351.8,161.7h0.8v0.8h-0.8zM347.5,154.5h0.8v0.8h-0.8zM348.2,151.6h0.8v0.8h-0.8zM351.6,159.0h0.8v0.8h-0.8zM348.4,152.4h0.8v0.8h-0.8zM348.3,155.9h0.8v0.8h-0.8zM353.6,157.5h0.8v0.8h-0.8zM348.1,161.9h0.8v0.8h-0.8zM350.7,157.8h0.8v0.8h-0.8zM342.0,161.6h0.8v0.8h-0.8zM350.7,156.8h0.8v0.8h-0.8zM349.5,154.5h0.8v0.8h-0.8zM348.0,152.1h0.8v0.8h-0.8zM349.6,160.2h0.8v0.8h-0.8zM348.5,160.9h0.8v0.8h-0.8zM350.0,158.8h0.8v0.8h-0.8zM346.0,159.5h0.8v0.8h-0.8zM351.2,161.1h0.8v0.8h-0.8zM352.4,157.1h0.8v0.8h-0.8zM345.1,161.8h0.8v0.8h-0.8zM347.1,158.5h0.8v0.8h-0.8zM348.3,158.0h0.8v0.8h-0.8zM348.6,155.9h0.8v0.8h-0.8zM342.5,163.6h0.8v0.8h-0.8zM351.2,151.2h0.8v0.8h-0.8zM347.6,153.4h0.8v0.8h-0.8zM349.4,148.4h0.8v0.8h-0.8zM348.7,164.3h0.8v0.8h-0.8zM347.5,160.5h0.8v0.8h-0.8zM351.5,153.9h0.8v0.8h-0.8zM353.5,152.8h0.8v0.8h-0.8zM347.7,156.3h0.8v0.8h-0.8zM351.8,159.3h0.8v0.8h-0.8zM349.3,155.0h0.8v0.8h-0.8zM349.0,158.2h0.8v0.8h-0.8zM349.3,163.5h0.8v0.8h-0.8zM350.6,158.6h0.8v0.8h-0.8zM346.9,163.6h0.8v0.8h-0.8zM349.3,158.1h0.8v0.8h-0.8zM351.8,164.8h0.8v0.8h-0.8zM350.3,158.0h0.8v0.8h-0.8zM346.2,161.4h0.8v0.8h-0.8zM346.7,161.1h0.8v0.8h-0.8zM346.7,157.9h0.8v0.8h-0.8zM349.7,158.8h0.8v0.8h-0.8zM349.0,159.5h0.8v0.8h-0.8zM347.1,153.3h0.8v0.8h-0.8zM346.7,164.3h0.8v0.8h-0.8zM349.4,154.6h0.8v0.8h-0.8zM347.1,157.7h0.8v0.8h-0.8zM352.3,156.8h0.8v0.8h-0.8zM350.0,159.0h0.8v0.8h-0.8zM348.8,154.4h0.8v0.8h-0.8zM349.1,155.3h0.8v0.8h-0.8zM351.8,152.1h0.8v0.8h-0.8zM350.9,161.5h0.8v0.8h-0.8zM348.8,163.7h0.8v0.8h-0.8zM351.9,152.3h0.8v0.8h-0.8zM348.5,159.6h0.8v0.8h-0.8zM348.2,153.5h0.8v0.8h-0.8zM349.4,160.1h0.8v0.8h-0.8zM348.0,156.9h0.8v0.8h-0.8zM348.1,155.6h0.8v0.8h-0.8zM347.6,161.8h0.8v0.8h-0.8zM345.1,155.7h0.8v0.8h-0.8zM352.5,160.2h0.8v0.8h-0.8zM348.4,161.1h0.8v0.8h-0.8zM347.5,153.0h0.8v0.8h-0.8zM346.1,151.7h0.8v0.8h-0.8zM348.6,161.2h0.8v0.8h-0.8zM348.4,155.3h0.8v0.8h-0.8zM349.2,160.5h0.8v0.8h-0.8zM351.3,151.4h0.8v0.8h-0.8zM349.9,148.6h0.8v0.8h-0.8zM350.2,155.1h0.8v0.8h-0.8zM345.7,162.9h0.8v0.8h-0.8zM351.6,160.6h0.8v0.8h-0.8zM349.3,158.8h0.8v0.8h-0.8zM347.4,157.4h0.8v0.8h-0.8zM354.4,156.2h0.8v0.8h-0.8zM347.0,158.1h0.8v0.8h-0.8zM350.2,161.6h0.8v0.8h-0.8zM346.5,156.9h0.8v0.8h-0.8zM349.3,153.4h0.8v0.8h-0.8zM349.4,156.3h0.8v0.8h-0.8zM350.7,160.2h0.8v0.8h-0.8zM346.8,157.8h0.8v0.8h-0.8zM348.5,155.5h0.8v0.8h-0.8zM346.6,161.5h0.8v0.8h-0.8zM349.4,151.6h0.8v0.8h-0.8zM346.1,160.4h0.8v0.8h-0.8zM355.1,155.7h0.8v0.8h-0.8zM348.2,156.6h0.8v0.8h-0.8zM344.9,158.5h0.8v0.8h-0.8zM348.4,159.0h0.8v0.8h-0.8zM354.6,158.5h0.8v0.8h-0.8zM350.0,161.5h0.8v0.8h-0.8zM347.8,155.5h0.8v0.8h-0.8zM352.0,161.6h0.8v0.8h-0.8zM350.2,154.2h0.8v0.8h-0.8zM350.5,160.5h0.8v0.8h-0.8zM352.8,164.7h0.8v0.8h-0.8zM350.5,159.5h0.8v0.8h-0.8zM349.5,156.1h0.8v0.8h-0.8zM349.3,159.1h0.8v0.8h-0.8zM349.4,162.3h0.8v0.8h-0.8zM350.1,156.3h0.8v0.8h-0.8zM349.3,164.0h0.8v0.8h-0.8zM346.3,158.9h0.8v0.8h-0.8zM349.6,160.3h0.8v0.8h-0.8zM350.1,158.0h0.8v0.8h-0.8zM346.9,163.9h0.8v0.8h-0.8zM354.4,154.2h0.8v0.8h-0.8zM342.1,157.9h0.8v0.8h-0.8zM347.6,155.7h0.8v0.8h-0.8zM344.5,158.2h0.8v0.8h-0.8zM349.2,156.0h0.8v0.8h-0.8zM351.3,163.1h0.8v0.8h-0.8zM347.2,160.1h0.8v0.8h-0.8zM347.6,162.1h0.8v0.8h-0.8zM350.3,158.3h0.8v0.8h-0.8zM350.9,155.8h0.8v0.8h-0.8zM349.3,163.9h0.8v0.8h-0.8zM347.4,159.7h0.8v0.8h-0.8zM343.8,160.2h0.8v0.8h-0.8zM351.9,155.0h0.8v0.8h-0.8zM353.0,159.6h0.8v0.8h-0.8zM345.8,152.0h0.8v0.8h-0.8zM351.2,157.6h0.8v0.8h-0.8zM353.0,153.2h0.8v0.8h-0.8zM347.6,161.4h0.8v0.8h-0.8zM346.5,160.0h0.8v0.8h-0.8zM347.6,159.0h0.8v0.8h-0.8zM347.5,166.1h0.8v0.8h-0.8zM345.0,159.9h0.8v0.8h-0.8zM353.1,154.9h0.8v0.8h-0.8zM346.8,166.2h0.8v0.8h-0.8zM354.2,148.2h0.8v0.8h-0.8zM349.8,151.8h0.8v0.8h-0.8zM350.2,155.6h0.8v0.8h-0.8zM348.2,154.7h0.8v0.8h-0.8zM350.0,156.5h0.8v0.8h-0.8zM346.8,156.6h0.8v0.8h-0.8zM350.6,155.2h0.8v0.8h-0.8zM353.1,152.8h0.8v0.8h-0.8zM350.2,156.9h0.8v0.8h-0.8zM353.3,156.8h0.8v0.8h-0.8zM348.4,152.8h0.8v0.8h-0.8zM353.1,161.5h0.8v0.8h-0.8zM346.4,156.1h0.8v0.8h-0.8zM345.0,162.8h0.8v0.8h-0.8zM351.8,151.1h0.8v0.8h-0.8zM348.4,161.4h0.8v0.8h-0.8zM348.4,159.7h0.8v0.8h-0.8zM348.3,158.7h0.8v0.8h-0.8z" fill="#000" fill-opacity="0.3"/>
<ellipse cx="348.80" cy="157.50" rx="4.68" ry="6.66" transform="rotate(15.0 348.80 157.50)" fill="none" stroke="#555" stroke-width="0.6"/>
<ellipse cx="348.80" cy="157.50" rx="2.64" ry="3.96" transform="rotate(15.0 348.80 157.50)" fill="#333" fill-opacity="0.7" filter="url(#blur2)"/>
<ellipse cx="348.80" cy="157.50" rx="1.08" ry="1.80" transform="rotate(15.0 348.80 157.50)" fill="#111"/>
<path d="M349.6,148.1h0.7v0.7h-0.7zM350.2,132.6h0.7v0.7h-0.7zM350.1,147.2h0.7v0.7h-0.7zM351.3,141.3h0.7v0.7h-0.7zM350.9,148.2h0.7v0.7h-0.7zM349.1,145.5h0.7v0.7h-0.7zM345.8,149.5h0.7v0.7h-0.7zM350.2,147.1h0.7v0.7h-0.7zM351.1,139.4h0.7v0.7h-0.7zM347.9,134.0h0.7v0.7h-0.7zM350.5,144.7h0.7v0.7h-0.7zM347.6,142.9h0.7v0.7h-0.7zM351.4,141.6h0.7v0.7h-0.7zM347.7,137.0h0.7v0.7h-0.7zM346.6,140.5h0.7v0.7h-0.7zM352.8,146.5h0.7v0.7h-0.7zM349.9,134.6h0.7v0.7h-0.7zM349.3,144.8h0.7v0.7h-0.7zM349.1,141.9h0.7v0.7h-0.7zM347.7,133.5h0.7v0.7h-0.7zM350.8,143.6h0.7v0.7h-0.7zM346.7,140.4h0.7v0.7h-0.7zM349.4,137.3h0.7v0.7h-0.7zM346.4,137.2h0.7v0.7h-0.7zM351.4,149.3h0.7v0.7h-0.7zM349.4,140.9h0.7v0.7h-0.7zM350.6,146.7h0.7v0.7h-0.7zM349.0,139.2h0.7v0.7h-0.7zM349.4,139.8h0.7v0.7h-0.7zM348.4,144.0h0.7v0.7h-0.7zM349.0,143.2h0.7v0.7h-0.7zM348.7,150.4h0.7v0.7h-0.7zM346.6,151.0h0.7v0.7h-0.7zM348.3,136.3h0.7v0.7h-0.7zM346.7,149.7h0.7v0.7h-0.7zM348.6,149.1h0.7v0.7h-0.7zM350.6,140.5h0.7v0.7h-0.7zM349.0,130.4h0.7v0.7h-0.7zM352.5,143.2h0.7v0.7h-0.7zM347.3,150.4h0.7v0.7h-0.7zM351.5,143.4h0.7v0.7h-0.7zM348.6,135.2h0.7v0.7h-0.7zM350.1,145.4h0.7v0.7h-0.7zM347.8,145.0h0.7v0.7h-0.7zM349.2,138.2h0.7v0.7h-0.7zM351.3,143.4h0.7v0.7h-0.7zM349.7,142.6h0.7v0.7h-0.7zM349.6,140.0h0.7v0.7h-0.7zM349.5,146.8h0.7v0.7h-0.7zM348.2,138.1h0.7v0.7h-0.7zM350.6,143.5h0.7v0.7h-0.7zM351.6,149.7h0.7v0.7h-0.7zM347.1,136.8h0.7v0.7h-0.7zM348.1,147.3h0.7v0.7h-0.7zM349.2,146.8h0.7v0.7h-0.7zM348.1,148.7h0.7v0.7h-0.7zM353.5,150.0h0.7v0.7h-0.7zM350.9,142.1h0.7v0.7h-0.7zM352.3,133.3h0.7v0.7h-0.7zM350.8,146.2h0.7v0.7h-0.7zM347.1,135.1h0.7v0.7h-0.7zM350.1,151.0h0.7v0.7h-0.7zM349.6,140.0h0.7v0.7h-0.7zM348.2,136.7h0.7v0.7h-0.7zM347.4,135.7h0.7v0.7h-0.7z" fill="#000" fill-opacity="0.45"/>
<rect x="405.40" y="120.50" width="10.40" height="26.00" rx="5.20" fill="#7a7a7a" fill-opacity="0.60" filter="url(#blur)"/>
<path d="M412.6,132.2h0.8v0.8h-0.8zM412.1,134.1h0.8v0.8h-0.8zM411.7,135.6h0.8v0.8h-0.8zM412.8,129.2h0.8v0.8h-0.8zM410.5,126.3h0.8v0.8h-0.8zM411.0,141.2h0.8v0.8h-0.8zM410.1,140.7h0.8v0.8h-0.8zM409.5,136.4h0.8v0.8h-0.8zM414.1,136.0h0.8v0.8h-0.8zM411.9,142.9h0.8v0.8h-0.8zM412.5,140.2h0.8v0.8h-0.8zM410.0,129.2h0.8v0.8h-0.8zM412.9,127.3h0.8v0.8h-0.8zM414.0,130.5h0.8v0.8h-0.8zM411.6,139.3h0.8v0.8h-0.8zM407.9,146.6h0.8v0.8h-0.8zM410.8,132.6h0.8v0.8h-0.8zM408.1,123.1h0.8v0.8h-0.8zM406.1,127.6h0.8v0.8h-0.8zM412.3,130.9h0.8v0.8h-0.8zM413.9,127.8h0.8v0.8h-0.8zM406.8,137.1h0.8v0.8h-0.8zM410.1,124.7h0.8v0.8h-0.8zM414.6,135.8h0.8v0.8h-0.8zM407.0,130.8h0.8v0.8h-0.8zM408.4,141.5h0.8v0.8h-0.8zM409.4,130.0h0.8v0.8h-0.8zM411.6,144.3h0.8v0.8h-0.8zM414.5,134.0h0.8v0.8h-0.8zM410.0,130.1h0.8v0.8h-0.8zM413.4,127.1h0.8v0.8h-0.8zM410.7,138.5h0.8v0.8h-0.8zM409.0,118.3h0.8v0.8h-0.8zM409.3,128.6h0.8v0.8h-0.8zM408.2,130.2h0.8v0.8h-0.8zM413.0,124.3h0.8v0.8h-0.8zM407.5,133.1h0.8v0.8h-0.8zM413.2,128.6h0.8v0.8h-0.8zM412.3,140.7h0.8v0.8h-0.8zM408.8,132.5h0.8v0.8h-0.8zM413.0,135.2h0.8v0.8h-0.8zM409.1,133.0h0.8v0.8h-0.8zM410.1,134.3h0.8v0.8h-0.8zM411.5,134.8h0.8v0.8h-0.8zM409.1,133.8h0.8v0.8h-0.8zM411.5,132.5h0.8v0.8h-0.8zM415.1,130.7h0.8v0.8h-0.8zM404.7,141.6h0.8v0.8h-0.8zM409.5,136.1h0.8v0.8h-0.8zM410.0,139.9h0.8v0.8h-0.8zM409.3,137.4h0.8v0.8h-0.8zM414.9,137.7h0.8v0.8h-0.8zM408.5,144.9h0.8v0.8h-0.8zM413.7,133.7h0.8v0.8h-0.8zM406.9,135.4h0.8v0.8h-0.8zM410.5,136.8h0.8v0.8h-0.8zM411.1,144.0h0.8v0.8h-0.8zM411.2,131.2h0.8v0.8h-0.8zM409.6,135.7h0.8v0.8h-0.8zM412.1,125.7h0.8v0.8h-0.8zM408.0,139.8h0.8v0.8h-0.8zM410.1,140.6h0.8v0.8h-0.8zM410.2,129.5h0.8v0.8h-0.8zM411.9,135.5h0.8v0.8h-0.8zM418.0,144.1h0.8v0.8h-0.8zM410.5,135.4h0.8v0.8h-0.8zM412.1,137.1h0.8v0.8h-0.8zM412.7,133.3h0.8v0.8h-0.8zM409.6,123.5h0.8v0.8h-0.8zM409.8,140.6h0.8v0.8h-0.8zM411.2,135.7h0.8v0.8h-0.8zM407.1,120.2h0.8v0.8h-0.8zM412.3,128.6h0.8v0.8h-0.8zM409.1,120.7h0.8v0.8h-0.8zM414.6,143.0h0.8v0.8h-0.8zM405.9,130.0h0.8v0.8h-0.8zM410.0,136.5h0.8v0.8h-0.8zM413.0,133.3h0.8v0.8h-0.8zM410.4,137.3h0.8v0.8h-0.8zM406.0,132.8h0.8v0.8h-0.8zM410.6,135.6h0.8v0.8h-0.8zM407.9,129.2h0.8v0.8h-0.8zM407.5,132.6h0.8v0.8h-0.8zM407.8,149.8h0.8v0.8h-0.8zM408.9,141.9h0.8v0.8h-0.8zM409.0,130.8h0.8v0.8h-0.8zM413.0,131.8h0.8v0.8h-0.8zM416.5,136.6h0.8v0.8h-0.8zM405.9,142.4h0.8v0.8h-0.8zM403.0,131.3h0.8v0.8h-0.8zM408.4,133.7h0.8v0.8h-0.8zM408.5,130.5h0.8v0.8h-0.8zM409.6,138.4h0.8v0.8h-0.8zM408.1,131.1h0.8v0.8h-0.8zM416.7,147.0h0.8v0.8h-0.8zM413.8,133.7h0.8v0.8h-0.8zM409.0,134.1h0.8v0.8h-0.8zM407.0,141.0h0.8v0.8h-0.8zM408.6,119.4h0.8v0.8h-0.8zM413.4,143.5h0.8v0.8h-0.8zM413.1,137.8h0.8v0.8h-0.8zM411.9,143.8h0.8v0.8h-0.8zM414.2,123.4h0.8v0.8h-0.8zM412.2,133.0h0.8v0.8h-0.8zM415.0,131.7h0.8v0.8h-0.8zM409.6,122.7h0.8v0.8h-0.8zM410.8,135.7h0.8v0.8h-0.8zM414.5,132.4h0.8v0.8h-0.8zM413.2,147.7h0.8v0.8h-0.8zM407.4,140.6h0.8v0.8h-0.8zM410.6,122.5h0.8v0.8h-0.8zM408.4,133.9h0.8v0.8h-0.8zM407.6,138.0h0.8v0.8h-0.8zM408.5,140.8h0.8v0.8h-0.8zM409.6,141.7h0.8v0.8h-0.8zM413.7,139.7h0.8v0.8h-0.8zM413.9,152.5h0.8v0.8h-0.8zM413.3,122.8h0.8v0.8h-0.8zM409.5,140.0h0.8v0.8h-0.8zM413.5,129.9h0.8v0.8h-0.8zM412.1,134.2h0.8v0.8h-0.8zM409.9,130.6h0.8v0.8h-0.8zM410.8,142.0h0.8v0.8h-0.8zM405.9,140.9h0.8v0.8h-0.8zM411.3,123.0h0.8v0.8h-0.8zM411.4,132.7h0.8v0.8h-0.8zM408.1,137.4h0.8v0.8h-0.8zM409.9,141.6h0.8v0.8h-0.8zM414.4,136.7h0.8v0.8h-0.8zM411.8,127.4h0.8v0.8h-0.8zM410.6,141.5h0.8v0.8h-0.8zM416.0,121.8h0.8v0.8h-0.8zM411.4,133.5h0.8v0.8h-0.8zM416.7,136.1h0.8v0.8h-0.8zM416.5,119.9h0.8v0.8h-0.8zM405.8,134.8h0.8v0.8h-0.8zM406.8,120.5h0.8v0.8h-0.8zM409.5,130.6h0.8v0.8h-0.8zM411.0,144.0h0.8v0.8h-0.8zM408.0,128.9h0.8v0.8h-0.8zM406.5,134.3h0.8v0.8h-0.8zM413.6,141.1h0.8v0.8h-0.8zM404.3,137.0h0.8v0.8h-0.8zM409.8,130.0h0.8v0.8h-0.8zM407.4,130.1h0.8v0.8h-0.8zM411.5,138.5h0.8v0.8h-0.8zM413.0,128.2h0.8v0.8h-0.8zM410.7,127.7h0.8v0.8h-0.8zM413.2,134.2h0.8v0.8h-0.8zM406.9,140.9h0.8v0.8h-0.8zM415.5,122.0h0.8v0.8h-0.8zM415.8,137.2h0.8v0.8h-0.8zM410.4,118.2h0.8v0.8h-0.8zM407.1,127.1h0.8v0.8h-0.8zM412.9,132.9h0.8v0.8h-0.8zM411.2,134.5h0.8v0.8h-0.8zM412.0,131.5h0.8v0.8h-0.8zM414.4,118.3h0.8v0.8h-0.8zM408.0,131.0h0.8v0.8h-0.8zM408.2,142.6h0.8v0.8h-0.8zM409.4,120.5h0.8v0.8h-0.8zM409.1,130.4h0.8v0.8h-0.8zM408.3,129.0h0.8v0.8h-0.8zM409.2,138.5h0.8v0.8h-0.8zM410.2,135.9h0.8v0.8h-0.8zM410.4,142.1h0.8v0.8h-0.8zM410.8,135.7h0.8v0.8h-0.8zM413.7,143.0h0.8v0.8h-0.8zM414.1,128.5h0.8v0.8h-0.8zM407.0,152.3h0.8v0.8h-0.8zM406.8,128.8h0.8v0.8h-0.8zM406.7,135.6h0.8v0.8h-0.8zM410.6,117.6h0.8v0.8h-0.8zM413.8,130.1h0.8v0.8h-0.8zM413.9,140.5h0.8v0.8h-0.8zM410.8,140.9h0.8v0.8h-0.8zM408.5,134.0h0.8v0.8h-0.8zM410.2,134.7h0.8v0.8h-0.8zM412.3,135.0h0.8v0.8h-0.8zM409.5,138.3h0.8v0.8h-0.8zM409.7,139.4h0.8v0.8h-0.8zM408.3,125.7h0.8v0.8h-0.8zM417.0,124.9h0.8v0.8h-0.8zM413.0,145.1h0.8v0.8h-0.8zM412.7,136.7h0.8v0.8h-0.8zM410.4,133.4h0.8v0.8h-0.8zM408.4,137.3h0.8v0.8h-0.8zM412.7,124.7h0.8v0.8h-0.8zM404.8,154.9h0.8v0.8h-0.8zM410.3,126.5h0.8v0.8h-0.8zM407.8,139.3h0.8v0.8h-0.8zM414.4,127.5h0.8v0.8h-0.8zM409.8,137.7h0.8v0.8h-0.8zM409.4,136.0h0.8v0.8h-0.8zM411.9,138.8h0.8v0.8h-0.8zM413.6,134.8h0.8v0.8h-0.8zM409.1,124.7h0.8v0.8h-0.8zM410.5,127.0h0.8v0.8h-0.8zM409.5,132.4h0.8v0.8h-0.8zM410.5,140.1h0.8v0.8h-0.8zM411.6,134.4h0.8v0.8h-0.8zM415.2,134.1h0.8v0.8h-0.8zM415.7,133.7h0.8v0.8h-0.8zM411.8,126.9h0.8v0.8h-0.8zM411.0,127.6h0.8v0.8h-0.8zM414.6,135.2h0.8v0.8h-0.8zM414.6,137.3h0.8v0.8h-0.8zM408.0,118.2h0.8v0.8h-0.8zM410.5,130.1h0.8v0.8h-0.8zM409.5,136.0h0.8v0.8h-0.8zM411.1,132.1h0.8v0.8h-0.8zM411.6,129.3h0.8v0.8h-0.8zM408.3,130.6h0.8v0.8h-0.8zM413.7,138.2h0.8v0.8h-0.8zM409.8,136.7h0.8v0.8h-0.8zM412.5,126.8h0.8v0.8h-0.8zM416.0,131.6h0.8v0.8h-0.8zM407.8,134.5h0.8v0.8h-0.8zM411.3,142.9h0.8v0.8h-0.8zM414.3,131.1h0.8v0.8h-0.8zM409.3,131.8h0.8v0.8h-0.8zM409.9,127.4h0.8v0.8h-0.8zM410.5,142.4h0.8v0.8h-0.8zM413.3,131.8h0.8v0.8h-0.8zM407.4,138.4h0.8v0.8h-0.8zM414.2,124.4h0.8v0.8h-0.8zM412.2,145.7h0.8v0.8h-0.8zM413.8,138.3h0.8v0.8h-0.8zM410.6,129.9h0.8v0.8h-0.8zM411.7,142.3h0.8v0.8h-0.8zM412.8,139.6h0.8v0.8h-0.8zM410.5,132.5h0.8v0.8h-0.8zM414.7,134.7h0.8v0.8h-0.8zM413.3,130.8h0.8v0.8h-0.8zM407.9,134.9h0.8v0.8h-0.8zM411.5,113.6h0.8v0.8h-0.8zM408.4,136.2h0.8v0.8h-0.8zM410.0,125.7h0.8v0.8h-0.8zM410.6,137.0h0.8v0.8h-0.8zM414.4,121.2h0.8v0.8h-0.8zM410.7,129.4h0.8v0.8h-0.8zM416.8,136.5h0.8v0.8h-0.8zM407.7,138.4h0.8v0.8h-0.8zM413.1,140.7h0.8v0.8h-0.8zM413.6,130.6h0.8v0.8h-0.8zM407.2,135.5h0.8v0.8h-0.8zM410.5,130.9h0.8v0.8h-0.8zM405.8,138.0h0.8v0.8h-0.8zM412.2,141.9h0.8v0.8h-0.8zM411.8,132.4h0.8v0.8h-0.8zM408.1,131.3h0.8v0.8h-0.8zM408.1,132.2h0.8v0.8h-0.8zM408.4,140.7h0.8v0.8h-0.8zM410.2,136.5h0.8v0.8h-0.8zM410.6,131.5h0.8v0.8h-0.8zM405.2,130.9h0.8v0.8h-0.8zM409.4,140.9h0.8v0.8h-0.8zM407.5,138.5h0.8v0.8h-0.8zM412.4,133.2h0.8v0.8h-0.8zM410.4,139.6h0.8v0.8h-0.8zM411.3,149.5h0.8v0.8h-0.8zM404.1,127.4h0.8v0.8h-0.8zM416.1,136.5h0.8v0.8h-0.8zM405.2,118.3h0.8v0.8h-0.8zM406.8,123.4h0.8v0.8h-0.8zM405.3,129.4h0.8v0.8h-0.8zM409.9,125.8h0.8v0.8h-0.8zM410.2,130.1h0.8v0.8h-0.8zM412.9,124.5h0.8v0.8h-0.8zM410.4,134.4h0.8v0.8h-0.8zM412.8,125.5h0.8v0.8h-0.8zM410.5,124.8h0.8v0.8h-0.8zM412.6,136.8h0.8v0.8h-0.8zM413.7,131.6h0.8v0.8h-0.8zM415.3,130.1h0.8v0.8h-0.8zM406.0,128.4h0.8v0.8h-0.8zM410.4,140.7h0.8v0.8h-0.8zM409.1,129.5h0.8v0.8h-0.8zM412.2,124.8h0.8v0.8h-0.8zM413.1,136.7h0.8v0.8h-0.8zM407.7,132.9h0.8v0.8h-0.8zM408.7,127.4h0.8v0.8h-0.8zM411.4,131.3h0.8v0.8h-0.8zM413.0,133.8h0.8v0.8h-0.8zM406.1,134.8h0.8v0.8h-0.8zM412.5,135.6h0.8v0.8h-0.8zM406.7,129.2h0.8v0.8h-0.8zM407.1,131.6h0.8v0.8h-0.8zM408.5,139.4h0.8v0.8h-0.8zM411.6,150.4h0.8v0.8h-0.8zM412.0,123.6h0.8v0.8h-0.8zM410.0,145.4h0.8v0.8h-0.8zM409.6,134.3h0.8v0.8h-0.8zM413.1,142.8h0.8v0.8h-0.8zM413.7,132.9h0.8v0.8h-0.8zM407.4,129.9h0.8v0.8h-0.8zM412.2,122.9h0.8v0.8h-0.8zM410.9,143.9h0.8v0.8h-0.8zM407.3,138.4h0.8v0.8h-0.8zM408.4,128.3h0.8v0.8h-0.8zM411.7,137.7h0.8v0.8h-0.8zM410.3,136.5h0.8v0.8h-0.8zM412.5,145.2h0.8v0.8h-0.8zM408.1,127.0h0.8v0.8h-0.8zM415.3,139.0h0.8v0.8h-0.8zM408.8,137.6h0.8v0.8h-0.8zM415.0,131.1h0.8v0.8h-0.8zM411.6,139.5h0.8v0.8h-0.8zM408.9,126.2h0.8v0.8h-0.8zM412.8,133.5h0.8v0.8h-0.8zM411.2,128.4h0.8v0.8h-0.8zM412.3,140.0h0.8v0.8h-0.8zM410.8,133.9h0.8v0.8h-0.8zM408.1,129.5h0.8v0.8h-0.8zM407.1,134.0h0.8v0.8h-0.8zM411.1,129.3h0.8v0.8h-0.8zM407.2,132.3h0.8v0.8h-0.8zM412.4,142.6h0.8v0.8h-0.8zM405.8,134.4h0.8v0.8h-0.8zM414.2,128.2h0.8v0.8h-0.8zM409.5,139.3h0.8v0.8h-0.8zM411.2,127.9h0.8v0.8h-0.8zM407.7,130.1h0.8v0.8h-0.8zM410.5,134.8h0.8v0.8h-0.8zM412.9,128.0h0.8v0.8h-0.8zM411.9,136.2h0.8v0.8h-0.8zM409.8,138.5h0.8v0.8h-0.8zM410.4,136.6h0.8v0.8h-0.8zM409.0,127.9h0.8v0.8h-0.8zM409.2,145.2h0.8v0.8h-0.8zM411.8,135.5h0.8v0.8h-0.8zM408.6,134.8h0.8v0.8h-0.8zM407.5,135.7h0.8v0.8h-0.8zM410.5,130.0h0.8v0.8h-0.8zM412.0,125.2h0.8v0.8h-0.8zM407.2,138.2h0.8v0.8h-0.8zM407.7,124.3h0.8v0.8h-0.8zM413.8,137.6h0.8v0.8h-0.8zM411.9,133.6h0.8v0.8h-0.8zM407.6,136.4h0.8v0.8h-0.8zM410.5,129.0h0.8v0.8h-0.8zM411.1,136.5h0.8v0.8h-0.8zM410.6,138.9h0.8v0.8h-0.8zM412.0,126.2h0.8v0.8h-0.8zM411.9,130.9h0.8v0.8h-0.8zM414.7,114.5h0.8v0.8h-0.8zM409.8,137.4h0.8v0.8h-0.8zM413.5,127.0h0.8v0.8h-0.8zM410.7,136.5h0.8v0.8h-0.8zM409.2,138.1h0.8v0.8h-0.8zM408.8,128.7h0.8v0.8h-0.8zM413.9,128.4h0.8v0.8h-0.8zM409.7,148.0h0.8v0.8h-0.8zM414.1,131.2h0.8v0.8h-0.8zM411.6,128.9h0.8v0.8h-0.8zM407.8,130.7h0.8v0.8h-0.8zM412.8,137.0h0.8v0.8h-0.8zM408.5,118.8h0.8v0.8h-0.8zM414.0,129.1h0.8v0.8h-0.8zM412.7,138.7h0.8v0.8h-0.8zM414.0,129.8h0.8v0.8h-0.8zM408.0,129.4h0.8v0.8h-0.8zM411.7,135.4h0.8v0.8h-0.8zM407.7,136.7h0.8v0.8h-0.8zM408.3,133.3h0.8v0.8h-0.8zM409.9,136.7h0.8v0.8h-0.8zM417.5,129.3h0.8v0.8h-0.8zM406.8,125.9h0.8v0.8h-0.8zM410.7,134.8h0.8v0.8h-0.8zM412.2,127.1h0.8v0.8h-0.8zM407.3,133.0h0.8v0.8h-0.8zM414.5,139.6h0.8v0.8h-0.8zM413.5,137.3h0.8v0.8h-0.8zM413.5,130.2h0.8v0.8h-0.8zM413.8,138.7h0.8v0.8h-0.8zM413.0,130.8h0.8v0.8h-0.8zM409.6,129.8h0.8v0.8h-0.8zM414.5,124.5h0.8v0.8h-0.8zM409.5,135.1h0.8v0.8h-0.8zM407.1,134.8h0.8v0.8h-0.8zM413.5,137.7h0.8v0.8h-0.8zM407.5,133.6h0.8v0.8h-0.8zM408.0,116.6h0.8v0.8h-0.8zM412.9,137.8h0.8v0.8h-0.8zM407.0,140.8h0.8v0.8h-0.8zM412.9,148.9h0.8v0.8h-0.8zM411.9,144.2h0.8v0.8h-0.8zM409.8,132.1h0.8v0.8h-0.8zM415.9,139.1h0.8v0.8h-0.8zM415.2,132.3h0.8v0.8h-0.8zM410.5,139.1h0.8v0.8h-0.8zM408.7,138.5h0.8v0.8h-0.8zM406.9,120.3h0.8v0.8h-0.8zM409.5,137.7h0.8v0.8h-0.8zM416.2,132.7h0.8v0.8h-0.8zM411.1,132.2h0.8v0.8h-0.8zM411.5,142.0h0.8v0.8h-0.8zM412.3,136.4h0.8v0.8h-0.8zM411.7,132.1h0.8v0.8h-0.8zM412.7,146.3h0.8v0.8h-0.8zM407.7,147.5h0.8v0.8h-0.8zM404.5,122.3h0.8v0.8h-0.8zM412.4,130.5h0.8v0.8h-0.8zM416.8,137.6h0.8v0.8h-0.8zM406.5,133.9h0.8v0.8h-0.8zM411.8,141.1h0.8v0.8h-0.8zM409.0,123.3h0.8v0.8h-0.8zM407.0,140.0h0.8v0.8h-0.8zM413.9,121.9h0.8v0.8h-0.8zM411.7,129.2h0.8v0.8h-0.8zM411.1,138.8h0.8v0.8h-0.8zM410.0,133.1h0.8v0.8h-0.8zM405.4,133.6h0.8v0.8h-0.8zM414.8,129.7h0.8v0.8h-0.8zM411.8,136.9h0.8v0.8h-0.8zM417.3,128.0h0.8v0.8h-0.8zM413.0,131.9h0.8v0.8h-0.8zM410.6,133.7h0.8v0.8h-0.8zM406.1,138.0h0.8v0.8h-0.8zM408.8,135.1h0.8v0.8h-0.8zM413.1,132.4h0.8v0.8h-0.8zM406.6,126.7h0.8v0.8h-0.8zM412.5,142.1h0.8v0.8h-0.8zM415.7,125.6h0.8v0.8h-0.8zM411.2,134.5h0.8v0.8h-0.8zM408.8,132.4h0.8v0.8h-0.8zM408.1,134.6h0.8v0.8h-0.8zM409.5,131.9h0.8v0.8h-0.8zM414.5,127.0h0.8v0.8h-0.8zM410.9,129.3h0.8v0.8h-0.8zM409.7,133.1h0.8v0.8h-0.8zM410.7,135.1h0.8v0.8h-0.8zM408.6,137.7h0.8v0.8h-0.8zM407.6,125.9h0.8v0.8h-0.8zM408.3,141.7h0.8v0.8h-0.8zM414.0,130.0h0.8v0.8h-0.8zM415.9,135.8h0.8v0.8h-0.8zM406.6,136.4h0.8v0.8h-0.8zM407.9,125.8h0.8v0.8h-0.8zM404.6,134.7h0.8v0.8h-0.8zM411.8,126.6h0.8v0.8h-0.8zM412.3,136.3h0.8v0.8h-0.8zM412.2,138.0h0.8v0.8h-0.8zM408.6,136.0h0.8v0.8h-0.8zM412.0,129.6h0.8v0.8h-0.8zM409.8,125.2h0.8v0.8h-0.8zM411.1,126.1h0.8v0.8h-0.8zM411.8,134.1h0.8v0.8h-0.8zM410.2,137.6h0.8v0.8h-0.8zM409.8,144.7h0.8v0.8h-0.8zM411.7,125.9h0.8v0.8h-0.8zM409.1,135.9h0.8v0.8h-0.8zM415.3,129.7h0.8v0.8h-0.8zM414.8,134.7h0.8v0.8h-0.8zM414.2,129.6h0.8v0.8h-0.8zM408.5,131.0h0.8v0.8h-0.8zM410.7,127.1h0.8v0.8h-0.8zM407.3,138.4h0.8v0.8h-0.8zM413.5,133.2h0.8v0.8h-0.8zM409.3,140.7h0.8v0.8h-0.8zM405.9,138.3h0.8v0.8h-0.8zM411.2,137.9h0.8v0.8h-0.8zM411.7,140.2h0.8v0.8h-0.8zM412.2,133.5h0.8v0.8h-0.8zM412.9,127.2h0.8v0.8h-0.8zM411.2,136.1h0.8v0.8h-0.8zM406.3,137.1h0.8v0.8h-0.8zM411.9,139.5h0.8v0.8h-0.8zM410.7,141.6h0.8v0.8h-0.8zM413.3,137.7h0.8v0.8h-0.8zM401.7,134.0h0.8v0.8h-0.8zM411.3,133.8h0.8v0.8h-0.8zM407.8,139.6h0.8v0.8h-0.8zM409.4,132.5h0.8v0.8h-0.8zM411.6,141.2h0.8v0.8h-0.8zM409.5,126.8h0.8v0.8h-0.8zM411.7,135.0h0.8v0.8h-0.8zM405.5,129.3h0.8v0.8h-0.8zM410.9,121.7h0.8v0.8h-0.8zM413.8,125.2h0.8v0.8h-0.8zM412.8,126.5h0.8v0.8h-0.8zM409.5,129.0h0.8v0.8h-0.8zM409.7,120.9h0.8v0.8h-0.8zM408.7,139.2h0.8v0.8h-0.8zM411.9,147.2h0.8v0.8h-0.8zM405.4,142.9h0.8v0.8h-0.8zM410.9,124.7h0.8v0.8h-0.8zM406.7,130.0h0.8v0.8h-0.8zM410.9,130.2h0.8v0.8h-0.8zM414.7,132.9h0.8v0.8h-0.8zM408.8,127.3h0.8v0.8h-0.8zM407.5,132.7h0.8v0.8h-0.8zM410.1,127.9h0.8v0.8h-0.8zM411.5,128.5h0.8v0.8h-0.8zM409.2,140.5h0.8v0.8h-0.8zM413.6,130.8h0.8v0.8h-0.8zM415.3,130.6h0.8v0.8h-0.8zM413.8,134.7h0.8v0.8h-0.8zM409.3,133.2h0.8v0.8h-0.8zM409.6,134.9h0.8v0.8h-0.8z" fill="#000" fill-opacity="0.32"/>
<rect x="408.10" y="124.00" width="3.00" height="17.00" rx="1.50" fill="#1a1a1a" fill-opacity="0.8" filter="url(#blur2)"/>
<rect x="411.60" y="124.00" width="1.60" height="17.00" rx="0.80" fill="#1a1a1a" fill-opacity="0.8" filter="url(#blur2)"/>
<ellipse cx="410.0" cy="131" rx="2.8" ry="5.5" fill="#111" fill-opacity="0.8" filter="url(#blur)"/>
<path d="M410.6,154.3h0.8v0.8h-0.8zM409.1,156.9h0.8v0.8h-0.8zM412.4,150.3h0.8v0.8h-0.8zM410.8,158.9h0.8v0.8h-0.8zM412.3,151.4h0.8v0.8h-0.8zM415.3,151.4h0.8v0.8h-0.8zM412.1,156.6h0.8v0.8h-0.8zM415.5,152.2h0.8v0.8h-0.8zM413.1,157.2h0.8v0.8h-0.8zM409.2,155.1h0.8v0.8h-0.8zM409.3,156.0h0.8v0.8h-0.8zM411.1,146.3h0.8v0.8h-0.8zM412.0,156.4h0.8v0.8h-0.8zM412.7,155.3h0.8v0.8h-0.8zM409.4,158.1h0.8v0.8h-0.8zM412.6,145.5h0.8v0.8h-0.8zM412.7,157.7h0.8v0.8h-0.8zM410.0,150.7h0.8v0.8h-0.8zM410.1,159.8h0.8v0.8h-0.8zM411.2,158.3h0.8v0.8h-0.8zM410.0,148.9h0.8v0.8h-0.8zM409.3,164.4h0.8v0.8h-0.8zM412.4,157.9h0.8v0.8h-0.8zM411.8,154.8h0.8v0.8h-0.8zM410.5,153.3h0.8v0.8h-0.8zM411.5,154.2h0.8v0.8h-0.8zM410.9,156.9h0.8v0.8h-0.8zM411.8,156.7h0.8v0.8h-0.8zM411.2,156.9h0.8v0.8h-0.8zM412.8,160.4h0.8v0.8h-0.8zM413.3,152.0h0.8v0.8h-0.8zM411.5,155.5h0.8v0.8h-0.8zM414.2,162.1h0.8v0.8h-0.8zM411.7,163.9h0.8v0.8h-0.8zM413.3,149.9h0.8v0.8h-0.8zM412.1,156.4h0.8v0.8h-0.8zM410.2,161.4h0.8v0.8h-0.8zM411.9,148.9h0.8v0.8h-0.8zM409.3,154.1h0.8v0.8h-0.8zM412.9,156.9h0.8v0.8h-0.8zM412.6,153.8h0.8v0.8h-0.8zM413.1,153.9h0.8v0.8h-0.8zM412.2,153.8h0.8v0.8h-0.8zM410.2,156.7h0.8v0.8h-0.8zM408.8,155.3h0.8v0.8h-0.8zM411.7,149.7h0.8v0.8h-0.8zM410.7,154.2h0.8v0.8h-0.8zM409.1,146.9h0.8v0.8h-0.8zM412.8,153.1h0.8v0.8h-0.8zM415.8,165.7h0.8v0.8h-0.8zM407.4,158.3h0.8v0.8h-0.8zM410.3,157.4h0.8v0.8h-0.8zM408.5,159.4h0.8v0.8h-0.8zM416.8,150.1h0.8v0.8h-0.8zM408.2,153.3h0.8v0.8h-0.8zM410.5,156.8h0.8v0.8h-0.8zM410.0,154.6h0.8v0.8h-0.8zM413.3,156.7h0.8v0.8h-0.8zM412.7,154.5h0.8v0.8h-0.8zM410.0,153.9h0.8v0.8h-0.8zM410.1,148.6h0.8v0.8h-0.8zM411.2,154.5h0.8v0.8h-0.8zM410.3,159.1h0.8v0.8h-0.8zM415.1,151.3h0.8v0.8h-0.8zM412.0,150.1h0.8v0.8h-0.8zM412.8,154.6h0.8v0.8h-0.8zM408.2,150.2h0.8v0.8h-0.8zM412.1,152.1h0.8v0.8h-0.8zM410.7,166.1h0.8v0.8h-0.8zM409.3,157.4h0.8v0.8h-0.8zM405.2,146.6h0.8v0.8h-0.8zM411.5,155.4h0.8v0.8h-0.8zM413.8,152.7h0.8v0.8h-0.8zM406.7,159.6h0.8v0.8h-0.8zM407.6,154.1h0.8v0.8h-0.8zM413.9,151.2h0.8v0.8h-0.8zM411.0,149.5h0.8v0.8h-0.8zM413.2,159.8h0.8v0.8h-0.8zM407.9,153.7h0.8v0.8h-0.8zM409.8,158.3h0.8v0.8h-0.8zM412.7,156.0h0.8v0.8h-0.8zM412.4,157.1h0.8v0.8h-0.8zM411.4,154.3h0.8v0.8h-0.8zM409.5,157.3h0.8v0.8h-0.8zM409.5,157.2h0.8v0.8h-0.8zM409.6,154.5h0.8v0.8h-0.8zM412.6,159.8h0.8v0.8h-0.8zM410.9,154.5h0.8v0.8h-0.8zM411.0,157.8h0.8v0.8h-0.8zM409.5,166.4h0.8v0.8h-0.8z" fill="#000" fill-opacity="0.25"/>
<path d="M407.2,147 L407.2,160 C407.2,163 414.2,163 414.2,160 L414.2,147" fill="none" stroke="#777" stroke-width="0.6"/>
<ellipse cx="225.00" cy="222.10" rx="6.50" ry="8.89" transform="rotate(15.0 225.00 221.50)" fill="#8f8f8f" fill-opacity="0.62" filter="url(#blur2)"/>
<path d="M224.9,222.4h0.8v0.8h-0.8zM226.5,224.3h0.8v0.8h-0.8zM225.5,220.8h0.8v0.8h-0.8zM222.4,218.2h0.8v0.8h-0.8zM225.6,219.7h0.8v0.8h-0.8zM234.0,215.8h0.8v0.8h-0.8zM230.4,225.0h0.8v0.8h-0.8zM224.0,222.2h0.8v0.8h-0.8zM225.0,220.2h0.8v0.8h-0.8zM220.7,219.1h0.8v0.8h-0.8zM221.6,222.0h0.8v0.8h-0.8zM224.4,218.7h0.8v0.8h-0.8zM225.0,219.8h0.8v0.8h-0.8zM226.4,221.0h0.8v0.8h-0.8zM221.4,222.1h0.8v0.8h-0.8zM223.2,213.9h0.8v0.8h-0.8zM221.0,223.0h0.8v0.8h-0.8zM222.9,217.1h0.8v0.8h-0.8zM230.7,222.2h0.8v0.8h-0.8zM226.7,219.2h0.8v0.8h-0.8zM227.3,228.0h0.8v0.8h-0.8zM224.7,216.8h0.8v0.8h-0.8zM219.5,221.3h0.8v0.8h-0.8zM223.9,214.9h0.8v0.8h-0.8zM226.3,221.5h0.8v0.8h-0.8zM227.5,217.2h0.8v0.8h-0.8zM221.7,221.2h0.8v0.8h-0.8zM228.6,224.7h0.8v0.8h-0.8zM223.3,224.7h0.8v0.8h-0.8zM228.6,217.9h0.8v0.8h-0.8zM229.5,227.7h0.8v0.8h-0.8zM224.5,223.4h0.8v0.8h-0.8zM220.1,225.8h0.8v0.8h-0.8zM231.1,224.4h0.8v0.8h-0.8zM226.1,221.6h0.8v0.8h-0.8zM226.2,218.1h0.8v0.8h-0.8zM224.3,225.9h0.8v0.8h-0.8zM223.2,225.7h0.8v0.8h-0.8zM221.9,218.6h0.8v0.8h-0.8zM224.4,220.2h0.8v0.8h-0.8zM229.1,218.4h0.8v0.8h-0.8zM228.3,219.2h0.8v0.8h-0.8zM227.6,211.8h0.8v0.8h-0.8zM219.2,221.5h0.8v0.8h-0.8zM226.8,224.3h0.8v0.8h-0.8zM224.1,225.8h0.8v0.8h-0.8zM225.1,225.3h0.8v0.8h-0.8zM219.6,228.2h0.8v0.8h-0.8zM225.1,217.4h0.8v0.8h-0.8zM222.2,225.3h0.8v0.8h-0.8zM225.3,221.7h0.8v0.8h-0.8zM227.5,227.4h0.8v0.8h-0.8zM227.2,219.2h0.8v0.8h-0.8zM227.6,221.1h0.8v0.8h-0.8zM225.9,221.4h0.8v0.8h-0.8zM220.7,219.2h0.8v0.8h-0.8zM225.9,215.5h0.8v0.8h-0.8zM220.1,227.6h0.8v0.8h-0.8zM222.6,229.5h0.8v0.8h-0.8zM227.0,220.8h0.8v0.8h-0.8zM221.5,227.8h0.8v0.8h-0.8zM222.0,223.7h0.8v0.8h-0.8zM224.7,218.3h0.8v0.8h-0.8zM224.3,219.8h0.8v0.8h-0.8zM230.0,220.6h0.8v0.8h-0.8zM225.7,213.0h0.8v0.8h-0.8zM225.5,213.8h0.8v0.8h-0.8zM225.6,210.4h0.8v0.8h-0.8zM220.5,225.3h0.8v0.8h-0.8zM227.1,216.3h0.8v0.8h-0.8zM222.2,226.9h0.8v0.8h-0.8zM225.7,216.4h0.8v0.8h-0.8zM227.1,216.2h0.8v0.8h-0.8zM224.0,222.4h0.8v0.8h-0.8zM225.8,218.6h0.8v0.8h-0.8zM228.2,229.7h0.8v0.8h-0.8zM225.3,227.9h0.8v0.8h-0.8zM225.5,223.1h0.8v0.8h-0.8zM223.7,219.5h0.8v0.8h-0.8zM226.6,221.0h0.8v0.8h-0.8zM222.6,218.5h0.8v0.8h-0.8zM225.7,213.4h0.8v0.8h-0.8zM221.1,222.8h0.8v0.8h-0.8zM218.5,220.4h0.8v0.8h-0.8zM228.9,220.2h0.8v0.8h-0.8zM226.4,223.2h0.8v0.8h-0.8zM225.1,215.4h0.8v0.8h-0.8zM223.2,222.2h0.8v0.8h-0.8zM225.0,221.4h0.8v0.8h-0.8zM227.5,224.9h0.8v0.8h-0.8zM223.8,223.9h0.8v0.8h-0.8zM225.0,213.0h0.8v0.8h-0.8zM222.3,224.7h0.8v0.8h-0.8zM225.6,223.4h0.8v0.8h-0.8zM226.7,220.3h0.8v0.8h-0.8zM229.4,221.3h0.8v0.8h-0.8zM224.0,223.3h0.8v0.8h-0.8zM220.8,225.6h0.8v0.8h-0.8zM228.5,224.2h0.8v0.8h-0.8zM221.6,228.1h0.8v0.8h-0.8zM223.2,221.5h0.8v0.8h-0.8zM223.8,226.9h0.8v0.8h-0.8zM219.9,226.4h0.8v0.8h-0.8zM227.4,223.5h0.8v0.8h-0.8zM219.8,226.5h0.8v0.8h-0.8zM219.2,216.8h0.8v0.8h-0.8zM228.7,226.1h0.8v0.8h-0.8zM224.5,219.3h0.8v0.8h-0.8zM220.5,223.9h0.8v0.8h-0.8zM222.3,220.8h0.8v0.8h-0.8zM227.5,220.5h0.8v0.8h-0.8zM223.2,227.0h0.8v0.8h-0.8zM220.6,221.1h0.8v0.8h-0.8zM229.3,222.2h0.8v0.8h-0.8zM223.5,222.8h0.8v0.8h-0.8zM220.7,220.2h0.8v0.8h-0.8zM226.5,221.0h0.8v0.8h-0.8zM231.3,216.3h0.8v0.8h-0.8zM225.8,223.3h0.8v0.8h-0.8zM227.3,217.7h0.8v0.8h-0.8zM229.2,224.0h0.8v0.8h-0.8zM225.9,222.3h0.8v0.8h-0.8zM224.1,220.9h0.8v0.8h-0.8zM224.0,221.9h0.8v0.8h-0.8zM228.2,225.8h0.8v0.8h-0.8zM223.3,220.6h0.8v0.8h-0.8zM225.6,220.5h0.8v0.8h-0.8zM226.3,223.9h0.8v0.8h-0.8zM220.6,221.9h0.8v0.8h-0.8zM222.0,220.5h0.8v0.8h-0.8zM224.3,219.2h0.8v0.8h-0.8zM226.8,221.1h0.8v0.8h-0.8zM229.1,223.9h0.8v0.8h-0.8zM227.7,221.1h0.8v0.8h-0.8zM231.0,220.5h0.8v0.8h-0.8zM224.4,215.0h0.8v0.8h-0.8zM228.1,227.0h0.8v0.8h-0.8zM225.8,214.7h0.8v0.8h-0.8zM222.9,221.3h0.8v0.8h-0.8zM226.1,226.2h0.8v0.8h-0.8zM226.8,222.8h0.8v0.8h-0.8zM226.3,210.9h0.8v0.8h-0.8zM229.4,219.1h0.8v0.8h-0.8zM224.1,226.4h0.8v0.8h-0.8zM220.6,219.3h0.8v0.8h-0.8zM227.1,218.1h0.8v0.8h-0.8zM220.4,226.1h0.8v0.8h-0.8zM223.6,219.9h0.8v0.8h-0.8zM228.3,221.8h0.8v0.8h-0.8zM230.0,214.4h0.8v0.8h-0.8zM224.2,229.6h0.8v0.8h-0.8zM224.3,211.2h0.8v0.8h-0.8zM224.4,227.8h0.8v0.8h-0.8zM230.9,218.3h0.8v0.8h-0.8zM223.5,210.8h0.8v0.8h-0.8zM227.2,230.5h0.8v0.8h-0.8zM225.4,223.8h0.8v0.8h-0.8zM222.3,222.6h0.8v0.8h-0.8zM223.4,221.6h0.8v0.8h-0.8zM222.6,219.0h0.8v0.8h-0.8zM225.4,224.2h0.8v0.8h-0.8zM218.5,229.9h0.8v0.8h-0.8zM228.7,223.7h0.8v0.8h-0.8zM228.7,218.3h0.8v0.8h-0.8zM224.9,229.6h0.8v0.8h-0.8zM221.6,218.4h0.8v0.8h-0.8zM222.8,222.6h0.8v0.8h-0.8zM227.0,217.1h0.8v0.8h-0.8zM227.4,211.5h0.8v0.8h-0.8zM228.3,219.6h0.8v0.8h-0.8zM226.8,220.3h0.8v0.8h-0.8zM224.5,227.0h0.8v0.8h-0.8zM224.7,217.7h0.8v0.8h-0.8zM224.3,221.8h0.8v0.8h-0.8zM228.4,218.4h0.8v0.8h-0.8zM223.8,226.9h0.8v0.8h-0.8zM224.5,222.2h0.8v0.8h-0.8zM225.3,224.1h0.8v0.8h-0.8zM226.6,224.2h0.8v0.8h-0.8zM219.4,221.1h0.8v0.8h-0.8zM230.8,218.8h0.8v0.8h-0.8zM226.5,221.2h0.8v0.8h-0.8zM223.4,227.2h0.8v0.8h-0.8zM227.0,221.0h0.8v0.8h-0.8zM220.9,227.6h0.8v0.8h-0.8zM222.7,220.9h0.8v0.8h-0.8zM227.4,216.9h0.8v0.8h-0.8zM223.7,221.8h0.8v0.8h-0.8zM226.1,221.2h0.8v0.8h-0.8zM225.2,221.6h0.8v0.8h-0.8zM221.5,220.2h0.8v0.8h-0.8zM227.8,223.0h0.8v0.8h-0.8z" fill="#000" fill-opacity="0.3"/>
<ellipse cx="225.00" cy="221.50" rx="4.88" ry="7.03" transform="rotate(15.0 225.00 221.50)" fill="none" stroke="#555" stroke-width="0.6"/>
<ellipse cx="225.00" cy="221.50" rx="2.75" ry="4.18" transform="rotate(15.0 225.00 221.50)" fill="#333" fill-opacity="0.7" filter="url(#blur2)"/>
<ellipse cx="225.00" cy="221.50" rx="1.12" ry="1.90" transform="rotate(15.0 225.00 221.50)" fill="#111"/>
<path d="M226.3,197.1h0.7v0.7h-0.7zM222.0,211.8h0.7v0.7h-0.7zM225.9,201.9h0.7v0.7h-0.7zM222.6,211.6h0.7v0.7h-0.7zM223.3,203.0h0.7v0.7h-0.7zM227.0,206.8h0.7v0.7h-0.7zM230.0,209.1h0.7v0.7h-0.7zM224.4,206.2h0.7v0.7h-0.7zM224.3,201.5h0.7v0.7h-0.7zM225.2,198.6h0.7v0.7h-0.7zM224.7,204.2h0.7v0.7h-0.7zM225.6,212.7h0.7v0.7h-0.7zM221.9,200.6h0.7v0.7h-0.7zM224.5,198.7h0.7v0.7h-0.7zM223.4,210.1h0.7v0.7h-0.7zM225.2,201.9h0.7v0.7h-0.7zM222.4,211.8h0.7v0.7h-0.7zM220.8,214.8h0.7v0.7h-0.7zM229.1,188.8h0.7v0.7h-0.7zM227.5,212.9h0.7v0.7h-0.7zM225.5,202.9h0.7v0.7h-0.7zM224.5,210.9h0.7v0.7h-0.7zM226.3,211.2h0.7v0.7h-0.7zM225.1,206.6h0.7v0.7h-0.7zM222.7,190.8h0.7v0.7h-0.7zM225.4,211.0h0.7v0.7h-0.7zM227.2,187.3h0.7v0.7h-0.7zM223.3,199.4h0.7v0.7h-0.7zM222.1,208.4h0.7v0.7h-0.7zM224.7,204.2h0.7v0.7h-0.7zM222.0,197.9h0.7v0.7h-0.7zM222.4,206.2h0.7v0.7h-0.7zM223.1,197.6h0.7v0.7h-0.7zM224.5,200.9h0.7v0.7h-0.7zM225.7,201.9h0.7v0.7h-0.7zM223.9,210.2h0.7v0.7h-0.7zM224.4,210.2h0.7v0.7h-0.7zM225.0,194.7h0.7v0.7h-0.7zM223.9,193.9h0.7v0.7h-0.7zM223.4,199.2h0.7v0.7h-0.7zM224.9,213.0h0.7v0.7h-0.7zM224.3,214.0h0.7v0.7h-0.7zM228.3,209.5h0.7v0.7h-0.7zM224.8,206.8h0.7v0.7h-0.7zM229.9,214.3h0.7v0.7h-0.7zM224.2,189.1h0.7v0.7h-0.7zM226.5,197.6h0.7v0.7h-0.7zM225.4,203.9h0.7v0.7h-0.7zM224.7,212.1h0.7v0.7h-0.7zM229.3,200.8h0.7v0.7h-0.7zM225.4,199.8h0.7v0.7h-0.7zM226.4,198.0h0.7v0.7h-0.7zM226.3,194.8h0.7v0.7h-0.7zM225.0,197.0h0.7v0.7h-0.7zM227.6,204.3h0.7v0.7h-0.7zM221.6,200.7h0.7v0.7h-0.7zM224.4,210.1h0.7v0.7h-0.7zM228.1,201.7h0.7v0.7h-0.7zM223.3,206.8h0.7v0.7h-0.7zM224.5,204.9h0.7v0.7h-0.7zM225.9,213.0h0.7v0.7h-0.7zM228.7,207.8h0.7v0.7h-0.7zM227.6,213.1h0.7v0.7h-0.7zM224.5,190.7h0.7v0.7h-0.7zM223.6,206.3h0.7v0.7h-0.7zM223.6,212.1h0.7v0.7h-0.7zM226.9,208.9h0.7v0.7h-0.7zM223.5,197.4h0.7v0.7h-0.7zM223.5,214.7h0.7v0.7h-0.7zM224.9,197.3h0.7v0.7h-0.7zM224.4,199.9h0.7v0.7h-0.7zM226.5,194.8h0.7v0.7h-0.7zM227.0,196.8h0.7v0.7h-0.7zM227.3,211.4h0.7v0.7h-0.7zM226.6,212.6h0.7v0.7h-0.7zM225.7,195.1h0.7v0.7h-0.7zM228.3,204.8h0.7v0.7h-0.7zM223.9,213.8h0.7v0.7h-0.7zM226.7,214.3h0.7v0.7h-0.7zM229.1,201.8h0.7v0.7h-0.7z" fill="#000" fill-opacity="0.45"/>
<rect x="282.55" y="183.20" width="8.90" height="45.30" rx="4.45" fill="#7a7a7a" fill-opacity="0.70" filter="url(#blur)"/>
<path d="M286.0,210.3h0.8v0.8h-0.8zM289.8,211.2h0.8v0.8h-0.8zM286.6,217.5h0.8v0.8h-0.8zM283.7,205.8h0.8v0.8h-0.8zM283.8,229.5h0.8v0.8h-0.8zM290.5,222.1h0.8v0.8h-0.8zM289.5,204.2h0.8v0.8h-0.8zM285.0,201.1h0.8v0.8h-0.8zM284.8,205.9h0.8v0.8h-0.8zM286.3,216.3h0.8v0.8h-0.8zM286.0,210.1h0.8v0.8h-0.8zM284.5,209.6h0.8v0.8h-0.8zM285.1,203.3h0.8v0.8h-0.8zM286.8,201.2h0.8v0.8h-0.8zM287.1,216.9h0.8v0.8h-0.8zM284.2,177.9h0.8v0.8h-0.8zM285.0,221.5h0.8v0.8h-0.8zM288.8,203.6h0.8v0.8h-0.8zM287.5,191.4h0.8v0.8h-0.8zM288.2,209.5h0.8v0.8h-0.8zM288.0,205.4h0.8v0.8h-0.8zM287.7,230.4h0.8v0.8h-0.8zM292.8,205.3h0.8v0.8h-0.8zM285.4,220.8h0.8v0.8h-0.8zM291.0,198.0h0.8v0.8h-0.8zM284.3,214.0h0.8v0.8h-0.8zM288.8,206.7h0.8v0.8h-0.8zM286.9,202.4h0.8v0.8h-0.8zM287.4,211.3h0.8v0.8h-0.8zM287.0,227.1h0.8v0.8h-0.8zM285.7,205.5h0.8v0.8h-0.8zM286.3,201.3h0.8v0.8h-0.8zM284.4,199.4h0.8v0.8h-0.8zM287.1,185.1h0.8v0.8h-0.8zM286.7,221.9h0.8v0.8h-0.8zM290.6,197.9h0.8v0.8h-0.8zM287.9,206.7h0.8v0.8h-0.8zM289.6,196.8h0.8v0.8h-0.8zM284.5,216.5h0.8v0.8h-0.8zM286.4,206.3h0.8v0.8h-0.8zM287.4,201.1h0.8v0.8h-0.8zM288.8,214.4h0.8v0.8h-0.8zM288.2,182.2h0.8v0.8h-0.8zM287.5,199.8h0.8v0.8h-0.8zM283.4,206.4h0.8v0.8h-0.8zM285.0,204.8h0.8v0.8h-0.8zM285.4,191.2h0.8v0.8h-0.8zM285.9,207.0h0.8v0.8h-0.8zM285.6,193.8h0.8v0.8h-0.8zM290.7,216.6h0.8v0.8h-0.8zM280.8,211.7h0.8v0.8h-0.8zM288.1,220.4h0.8v0.8h-0.8zM289.4,205.4h0.8v0.8h-0.8zM283.6,208.4h0.8v0.8h-0.8zM284.2,181.7h0.8v0.8h-0.8zM285.0,195.8h0.8v0.8h-0.8zM284.2,194.4h0.8v0.8h-0.8zM285.5,206.5h0.8v0.8h-0.8zM283.9,214.3h0.8v0.8h-0.8zM288.8,195.0h0.8v0.8h-0.8zM288.2,195.7h0.8v0.8h-0.8zM286.2,196.4h0.8v0.8h-0.8zM288.6,184.5h0.8v0.8h-0.8zM291.6,207.7h0.8v0.8h-0.8zM287.2,203.8h0.8v0.8h-0.8zM284.7,191.1h0.8v0.8h-0.8zM288.0,200.1h0.8v0.8h-0.8zM288.3,229.3h0.8v0.8h-0.8zM287.5,214.7h0.8v0.8h-0.8zM286.3,195.9h0.8v0.8h-0.8zM287.5,228.7h0.8v0.8h-0.8zM288.8,210.3h0.8v0.8h-0.8zM285.5,205.3h0.8v0.8h-0.8zM290.7,209.6h0.8v0.8h-0.8zM284.4,199.4h0.8v0.8h-0.8zM288.1,212.7h0.8v0.8h-0.8zM282.5,209.4h0.8v0.8h-0.8zM286.1,177.9h0.8v0.8h-0.8zM283.2,203.1h0.8v0.8h-0.8zM284.4,208.4h0.8v0.8h-0.8zM287.7,205.4h0.8v0.8h-0.8zM286.1,212.1h0.8v0.8h-0.8zM283.7,181.8h0.8v0.8h-0.8zM287.8,220.5h0.8v0.8h-0.8zM285.6,218.3h0.8v0.8h-0.8zM288.9,198.1h0.8v0.8h-0.8zM287.9,222.7h0.8v0.8h-0.8zM285.3,211.9h0.8v0.8h-0.8zM288.2,197.6h0.8v0.8h-0.8zM289.6,200.2h0.8v0.8h-0.8zM289.3,208.7h0.8v0.8h-0.8zM285.6,203.9h0.8v0.8h-0.8zM285.0,198.5h0.8v0.8h-0.8zM289.9,215.0h0.8v0.8h-0.8zM288.6,194.1h0.8v0.8h-0.8zM284.6,204.2h0.8v0.8h-0.8zM287.5,216.4h0.8v0.8h-0.8zM289.1,210.6h0.8v0.8h-0.8zM288.8,187.5h0.8v0.8h-0.8zM283.5,197.0h0.8v0.8h-0.8zM286.8,197.9h0.8v0.8h-0.8zM286.0,207.2h0.8v0.8h-0.8zM285.6,204.9h0.8v0.8h-0.8zM289.5,211.7h0.8v0.8h-0.8zM286.2,208.0h0.8v0.8h-0.8zM288.2,208.2h0.8v0.8h-0.8zM289.1,190.4h0.8v0.8h-0.8zM289.5,195.0h0.8v0.8h-0.8zM288.5,190.0h0.8v0.8h-0.8zM289.5,215.9h0.8v0.8h-0.8zM285.6,213.6h0.8v0.8h-0.8zM286.1,219.8h0.8v0.8h-0.8zM286.6,201.1h0.8v0.8h-0.8zM284.9,205.0h0.8v0.8h-0.8zM288.3,214.1h0.8v0.8h-0.8zM285.5,201.8h0.8v0.8h-0.8zM284.5,198.1h0.8v0.8h-0.8zM286.7,210.5h0.8v0.8h-0.8zM288.9,199.8h0.8v0.8h-0.8zM284.3,224.1h0.8v0.8h-0.8zM287.1,201.9h0.8v0.8h-0.8zM287.4,205.4h0.8v0.8h-0.8zM288.6,212.3h0.8v0.8h-0.8zM284.3,201.8h0.8v0.8h-0.8zM288.6,203.4h0.8v0.8h-0.8zM288.9,194.2h0.8v0.8h-0.8zM290.5,210.1h0.8v0.8h-0.8zM283.4,218.5h0.8v0.8h-0.8zM284.7,208.5h0.8v0.8h-0.8zM287.5,210.4h0.8v0.8h-0.8zM288.6,184.7h0.8v0.8h-0.8zM286.2,195.3h0.8v0.8h-0.8zM285.7,207.5h0.8v0.8h-0.8zM293.7,206.1h0.8v0.8h-0.8zM288.9,205.0h0.8v0.8h-0.8zM291.6,218.3h0.8v0.8h-0.8zM289.3,190.8h0.8v0.8h-0.8zM290.9,204.3h0.8v0.8h-0.8zM288.0,212.5h0.8v0.8h-0.8zM291.1,222.3h0.8v0.8h-0.8zM286.5,201.9h0.8v0.8h-0.8zM285.2,205.2h0.8v0.8h-0.8zM288.0,209.3h0.8v0.8h-0.8zM286.9,197.7h0.8v0.8h-0.8zM285.6,210.6h0.8v0.8h-0.8zM289.3,213.8h0.8v0.8h-0.8zM286.2,214.2h0.8v0.8h-0.8zM289.9,198.2h0.8v0.8h-0.8zM284.6,215.9h0.8v0.8h-0.8zM291.4,211.3h0.8v0.8h-0.8zM287.9,206.6h0.8v0.8h-0.8zM289.8,191.3h0.8v0.8h-0.8zM287.4,202.3h0.8v0.8h-0.8zM282.0,202.5h0.8v0.8h-0.8zM287.1,206.9h0.8v0.8h-0.8zM286.6,203.2h0.8v0.8h-0.8zM288.2,189.7h0.8v0.8h-0.8zM284.5,212.5h0.8v0.8h-0.8zM288.4,216.3h0.8v0.8h-0.8zM284.1,219.5h0.8v0.8h-0.8zM289.3,209.1h0.8v0.8h-0.8zM284.7,215.4h0.8v0.8h-0.8zM289.9,203.2h0.8v0.8h-0.8zM288.2,211.8h0.8v0.8h-0.8zM289.1,213.8h0.8v0.8h-0.8zM288.7,191.9h0.8v0.8h-0.8zM286.0,188.8h0.8v0.8h-0.8zM289.4,214.7h0.8v0.8h-0.8zM288.1,227.0h0.8v0.8h-0.8zM285.1,223.2h0.8v0.8h-0.8zM285.1,186.0h0.8v0.8h-0.8zM286.1,200.7h0.8v0.8h-0.8zM286.5,205.7h0.8v0.8h-0.8zM288.1,213.1h0.8v0.8h-0.8zM285.5,193.8h0.8v0.8h-0.8zM288.6,220.4h0.8v0.8h-0.8zM289.2,211.7h0.8v0.8h-0.8zM282.9,213.3h0.8v0.8h-0.8zM285.6,217.8h0.8v0.8h-0.8zM290.2,202.0h0.8v0.8h-0.8zM284.9,202.2h0.8v0.8h-0.8zM288.1,212.2h0.8v0.8h-0.8zM284.7,209.9h0.8v0.8h-0.8zM285.0,199.8h0.8v0.8h-0.8zM289.6,205.2h0.8v0.8h-0.8zM282.1,195.1h0.8v0.8h-0.8zM289.9,186.9h0.8v0.8h-0.8zM289.7,206.8h0.8v0.8h-0.8zM284.0,199.8h0.8v0.8h-0.8zM288.4,221.4h0.8v0.8h-0.8zM284.2,204.2h0.8v0.8h-0.8zM287.9,216.0h0.8v0.8h-0.8zM292.8,226.3h0.8v0.8h-0.8zM288.1,191.4h0.8v0.8h-0.8zM286.5,194.3h0.8v0.8h-0.8zM286.4,201.1h0.8v0.8h-0.8zM286.6,210.6h0.8v0.8h-0.8zM286.5,217.0h0.8v0.8h-0.8zM289.7,192.6h0.8v0.8h-0.8zM283.7,196.4h0.8v0.8h-0.8zM281.9,207.5h0.8v0.8h-0.8zM287.1,207.5h0.8v0.8h-0.8zM291.1,214.0h0.8v0.8h-0.8zM289.4,206.7h0.8v0.8h-0.8zM285.6,181.3h0.8v0.8h-0.8zM286.1,205.7h0.8v0.8h-0.8zM284.6,196.6h0.8v0.8h-0.8zM287.3,225.5h0.8v0.8h-0.8zM286.0,201.7h0.8v0.8h-0.8zM285.2,204.3h0.8v0.8h-0.8zM284.3,209.1h0.8v0.8h-0.8zM284.8,218.8h0.8v0.8h-0.8zM284.6,191.7h0.8v0.8h-0.8zM287.9,210.7h0.8v0.8h-0.8zM284.3,207.2h0.8v0.8h-0.8zM286.9,220.5h0.8v0.8h-0.8zM284.7,183.4h0.8v0.8h-0.8zM287.3,212.1h0.8v0.8h-0.8zM288.7,201.0h0.8v0.8h-0.8zM282.7,180.0h0.8v0.8h-0.8zM292.5,203.8h0.8v0.8h-0.8zM286.4,209.1h0.8v0.8h-0.8zM287.7,196.6h0.8v0.8h-0.8zM286.1,205.0h0.8v0.8h-0.8zM289.6,228.2h0.8v0.8h-0.8zM289.5,213.6h0.8v0.8h-0.8zM284.4,196.5h0.8v0.8h-0.8zM287.7,197.3h0.8v0.8h-0.8zM286.1,202.7h0.8v0.8h-0.8zM282.6,211.1h0.8v0.8h-0.8zM287.6,202.5h0.8v0.8h-0.8zM288.0,175.9h0.8v0.8h-0.8zM290.2,220.6h0.8v0.8h-0.8zM281.8,207.3h0.8v0.8h-0.8zM288.7,215.0h0.8v0.8h-0.8zM287.3,219.2h0.8v0.8h-0.8zM288.0,200.4h0.8v0.8h-0.8zM290.4,191.4h0.8v0.8h-0.8zM285.8,200.0h0.8v0.8h-0.8zM290.7,199.0h0.8v0.8h-0.8zM283.5,193.1h0.8v0.8h-0.8zM287.5,205.1h0.8v0.8h-0.8zM287.7,190.2h0.8v0.8h-0.8zM287.7,214.8h0.8v0.8h-0.8zM291.3,222.3h0.8v0.8h-0.8zM283.8,211.3h0.8v0.8h-0.8zM284.5,210.0h0.8v0.8h-0.8zM288.7,203.3h0.8v0.8h-0.8zM280.2,206.8h0.8v0.8h-0.8zM287.2,199.4h0.8v0.8h-0.8zM288.8,201.2h0.8v0.8h-0.8zM286.3,211.7h0.8v0.8h-0.8zM285.2,214.5h0.8v0.8h-0.8zM285.8,203.4h0.8v0.8h-0.8zM288.4,220.9h0.8v0.8h-0.8zM286.3,207.8h0.8v0.8h-0.8zM286.2,187.7h0.8v0.8h-0.8zM286.4,214.7h0.8v0.8h-0.8zM288.4,220.2h0.8v0.8h-0.8zM287.0,214.4h0.8v0.8h-0.8zM287.9,204.6h0.8v0.8h-0.8zM290.0,196.1h0.8v0.8h-0.8zM284.7,212.2h0.8v0.8h-0.8zM285.7,206.8h0.8v0.8h-0.8zM286.6,181.8h0.8v0.8h-0.8zM289.9,205.5h0.8v0.8h-0.8zM289.3,198.4h0.8v0.8h-0.8zM286.1,201.5h0.8v0.8h-0.8zM283.7,227.4h0.8v0.8h-0.8zM290.0,222.0h0.8v0.8h-0.8zM288.6,202.1h0.8v0.8h-0.8zM290.9,209.8h0.8v0.8h-0.8zM284.5,214.3h0.8v0.8h-0.8zM281.0,218.6h0.8v0.8h-0.8zM285.7,203.7h0.8v0.8h-0.8zM289.8,224.5h0.8v0.8h-0.8zM286.6,195.1h0.8v0.8h-0.8zM283.0,193.4h0.8v0.8h-0.8zM288.6,210.3h0.8v0.8h-0.8zM285.7,207.5h0.8v0.8h-0.8zM286.6,191.1h0.8v0.8h-0.8zM286.3,221.7h0.8v0.8h-0.8zM291.3,199.0h0.8v0.8h-0.8zM287.6,192.7h0.8v0.8h-0.8zM288.7,205.1h0.8v0.8h-0.8zM287.1,221.1h0.8v0.8h-0.8zM289.1,211.9h0.8v0.8h-0.8zM288.3,214.0h0.8v0.8h-0.8zM282.6,211.1h0.8v0.8h-0.8zM286.0,225.2h0.8v0.8h-0.8zM287.1,196.9h0.8v0.8h-0.8zM285.7,218.1h0.8v0.8h-0.8zM287.3,207.1h0.8v0.8h-0.8zM290.2,213.7h0.8v0.8h-0.8zM286.8,221.7h0.8v0.8h-0.8zM288.7,212.3h0.8v0.8h-0.8zM288.1,174.4h0.8v0.8h-0.8zM289.6,201.3h0.8v0.8h-0.8zM288.8,199.0h0.8v0.8h-0.8zM287.2,191.2h0.8v0.8h-0.8zM289.1,196.6h0.8v0.8h-0.8zM290.8,208.0h0.8v0.8h-0.8zM288.0,197.0h0.8v0.8h-0.8zM285.1,210.6h0.8v0.8h-0.8zM286.4,205.4h0.8v0.8h-0.8zM283.5,201.7h0.8v0.8h-0.8zM287.9,191.0h0.8v0.8h-0.8zM284.4,193.0h0.8v0.8h-0.8zM287.5,199.6h0.8v0.8h-0.8zM284.0,199.3h0.8v0.8h-0.8zM287.7,191.6h0.8v0.8h-0.8zM282.3,196.2h0.8v0.8h-0.8zM286.3,208.6h0.8v0.8h-0.8zM290.3,205.2h0.8v0.8h-0.8zM285.2,189.8h0.8v0.8h-0.8zM278.6,184.6h0.8v0.8h-0.8zM290.5,190.3h0.8v0.8h-0.8zM288.3,211.1h0.8v0.8h-0.8zM285.8,187.0h0.8v0.8h-0.8zM292.6,214.9h0.8v0.8h-0.8zM287.8,186.9h0.8v0.8h-0.8zM287.6,187.7h0.8v0.8h-0.8zM283.0,205.5h0.8v0.8h-0.8zM286.9,208.7h0.8v0.8h-0.8zM287.3,203.4h0.8v0.8h-0.8zM287.2,189.7h0.8v0.8h-0.8zM286.5,212.6h0.8v0.8h-0.8zM291.5,180.7h0.8v0.8h-0.8zM290.1,195.8h0.8v0.8h-0.8zM289.6,197.1h0.8v0.8h-0.8zM286.5,206.0h0.8v0.8h-0.8zM286.8,205.9h0.8v0.8h-0.8zM289.1,215.9h0.8v0.8h-0.8zM285.1,215.4h0.8v0.8h-0.8zM287.5,189.6h0.8v0.8h-0.8zM284.3,221.4h0.8v0.8h-0.8zM289.6,194.9h0.8v0.8h-0.8zM288.8,194.9h0.8v0.8h-0.8zM286.7,222.3h0.8v0.8h-0.8zM285.1,203.9h0.8v0.8h-0.8zM285.8,227.1h0.8v0.8h-0.8zM288.0,198.3h0.8v0.8h-0.8zM284.0,202.3h0.8v0.8h-0.8zM288.7,218.4h0.8v0.8h-0.8zM285.6,216.3h0.8v0.8h-0.8zM287.3,203.3h0.8v0.8h-0.8zM287.7,230.6h0.8v0.8h-0.8zM286.3,206.3h0.8v0.8h-0.8zM286.8,201.0h0.8v0.8h-0.8zM287.6,202.7h0.8v0.8h-0.8zM282.7,210.9h0.8v0.8h-0.8zM282.9,207.2h0.8v0.8h-0.8zM287.3,224.4h0.8v0.8h-0.8zM289.5,212.5h0.8v0.8h-0.8zM284.5,208.1h0.8v0.8h-0.8zM291.7,213.3h0.8v0.8h-0.8zM287.1,188.7h0.8v0.8h-0.8zM289.1,210.7h0.8v0.8h-0.8zM284.0,225.8h0.8v0.8h-0.8zM284.3,222.6h0.8v0.8h-0.8zM289.0,207.4h0.8v0.8h-0.8zM289.1,187.0h0.8v0.8h-0.8zM293.0,217.3h0.8v0.8h-0.8zM292.9,187.8h0.8v0.8h-0.8zM287.1,186.2h0.8v0.8h-0.8zM286.5,199.7h0.8v0.8h-0.8zM289.1,205.2h0.8v0.8h-0.8zM283.3,213.4h0.8v0.8h-0.8zM285.7,216.8h0.8v0.8h-0.8zM283.8,195.2h0.8v0.8h-0.8zM285.9,201.6h0.8v0.8h-0.8zM286.6,214.0h0.8v0.8h-0.8zM288.2,208.5h0.8v0.8h-0.8zM287.5,202.0h0.8v0.8h-0.8zM283.2,200.0h0.8v0.8h-0.8zM285.9,202.1h0.8v0.8h-0.8zM282.6,199.8h0.8v0.8h-0.8zM285.8,195.2h0.8v0.8h-0.8zM286.1,205.1h0.8v0.8h-0.8zM288.3,216.7h0.8v0.8h-0.8zM284.5,212.3h0.8v0.8h-0.8zM286.4,204.6h0.8v0.8h-0.8zM289.8,215.0h0.8v0.8h-0.8zM287.7,193.0h0.8v0.8h-0.8zM286.3,218.7h0.8v0.8h-0.8zM285.3,195.9h0.8v0.8h-0.8zM284.6,208.3h0.8v0.8h-0.8zM287.0,207.4h0.8v0.8h-0.8zM285.8,212.1h0.8v0.8h-0.8zM288.1,202.5h0.8v0.8h-0.8zM285.9,219.3h0.8v0.8h-0.8zM287.3,214.8h0.8v0.8h-0.8zM287.1,200.1h0.8v0.8h-0.8zM288.1,214.8h0.8v0.8h-0.8zM287.0,206.3h0.8v0.8h-0.8zM289.1,196.5h0.8v0.8h-0.8zM288.1,204.8h0.8v0.8h-0.8zM287.4,215.7h0.8v0.8h-0.8zM283.7,205.0h0.8v0.8h-0.8zM287.0,208.5h0.8v0.8h-0.8zM292.1,198.3h0.8v0.8h-0.8zM287.4,216.2h0.8v0.8h-0.8zM282.5,215.7h0.8v0.8h-0.8zM288.9,200.5h0.8v0.8h-0.8zM286.6,199.1h0.8v0.8h-0.8zM290.0,198.3h0.8v0.8h-0.8zM284.0,197.6h0.8v0.8h-0.8zM285.4,207.7h0.8v0.8h-0.8zM287.2,218.0h0.8v0.8h-0.8zM282.9,209.7h0.8v0.8h-0.8zM286.5,206.7h0.8v0.8h-0.8zM285.6,201.4h0.8v0.8h-0.8zM288.3,219.5h0.8v0.8h-0.8zM283.6,211.5h0.8v0.8h-0.8zM285.0,214.1h0.8v0.8h-0.8zM286.3,190.4h0.8v0.8h-0.8zM285.4,207.0h0.8v0.8h-0.8zM289.3,222.5h0.8v0.8h-0.8zM289.5,208.4h0.8v0.8h-0.8zM288.2,203.0h0.8v0.8h-0.8zM290.3,196.7h0.8v0.8h-0.8zM284.8,217.6h0.8v0.8h-0.8zM283.8,209.4h0.8v0.8h-0.8zM289.8,210.0h0.8v0.8h-0.8zM288.5,208.6h0.8v0.8h-0.8zM287.8,191.6h0.8v0.8h-0.8zM291.0,203.1h0.8v0.8h-0.8zM286.2,208.8h0.8v0.8h-0.8zM290.1,203.2h0.8v0.8h-0.8zM286.9,218.3h0.8v0.8h-0.8zM288.7,202.0h0.8v0.8h-0.8zM286.4,207.1h0.8v0.8h-0.8zM285.3,193.8h0.8v0.8h-0.8zM285.4,190.8h0.8v0.8h-0.8zM291.8,196.2h0.8v0.8h-0.8zM288.5,184.4h0.8v0.8h-0.8zM285.9,225.6h0.8v0.8h-0.8zM286.7,188.0h0.8v0.8h-0.8zM286.1,186.9h0.8v0.8h-0.8zM282.4,225.1h0.8v0.8h-0.8zM286.3,209.0h0.8v0.8h-0.8zM290.0,198.1h0.8v0.8h-0.8zM287.6,207.5h0.8v0.8h-0.8zM285.4,202.5h0.8v0.8h-0.8zM284.3,189.6h0.8v0.8h-0.8zM288.6,200.3h0.8v0.8h-0.8zM279.9,226.6h0.8v0.8h-0.8zM287.0,204.4h0.8v0.8h-0.8zM290.5,178.4h0.8v0.8h-0.8zM287.2,195.6h0.8v0.8h-0.8zM287.7,218.7h0.8v0.8h-0.8zM287.4,196.1h0.8v0.8h-0.8zM286.6,216.4h0.8v0.8h-0.8zM288.7,212.3h0.8v0.8h-0.8zM287.6,195.8h0.8v0.8h-0.8zM287.8,191.6h0.8v0.8h-0.8zM287.0,201.1h0.8v0.8h-0.8zM287.8,220.6h0.8v0.8h-0.8zM287.4,215.1h0.8v0.8h-0.8zM286.6,199.8h0.8v0.8h-0.8zM288.7,205.2h0.8v0.8h-0.8zM284.2,206.2h0.8v0.8h-0.8zM286.8,211.1h0.8v0.8h-0.8zM288.2,197.9h0.8v0.8h-0.8zM288.8,183.3h0.8v0.8h-0.8zM291.1,191.8h0.8v0.8h-0.8zM288.2,222.0h0.8v0.8h-0.8zM286.2,187.9h0.8v0.8h-0.8zM284.5,204.3h0.8v0.8h-0.8zM287.6,219.7h0.8v0.8h-0.8zM286.2,202.1h0.8v0.8h-0.8zM286.6,205.5h0.8v0.8h-0.8zM284.7,200.0h0.8v0.8h-0.8zM285.5,215.5h0.8v0.8h-0.8zM285.9,201.9h0.8v0.8h-0.8zM292.0,207.4h0.8v0.8h-0.8zM287.5,211.8h0.8v0.8h-0.8zM288.1,207.1h0.8v0.8h-0.8zM286.1,188.5h0.8v0.8h-0.8zM289.1,201.1h0.8v0.8h-0.8zM282.9,223.9h0.8v0.8h-0.8zM290.4,192.6h0.8v0.8h-0.8zM290.4,181.8h0.8v0.8h-0.8zM287.9,197.0h0.8v0.8h-0.8zM287.3,213.8h0.8v0.8h-0.8zM289.3,212.4h0.8v0.8h-0.8zM287.4,216.5h0.8v0.8h-0.8zM284.8,210.2h0.8v0.8h-0.8zM286.0,192.9h0.8v0.8h-0.8zM287.3,212.9h0.8v0.8h-0.8zM288.2,222.2h0.8v0.8h-0.8zM285.2,190.0h0.8v0.8h-0.8zM286.8,224.3h0.8v0.8h-0.8zM282.5,202.8h0.8v0.8h-0.8zM286.6,210.7h0.8v0.8h-0.8zM286.0,206.2h0.8v0.8h-0.8zM288.3,190.6h0.8v0.8h-0.8zM286.8,193.2h0.8v0.8h-0.8zM287.7,217.5h0.8v0.8h-0.8zM289.9,196.2h0.8v0.8h-0.8zM286.5,219.6h0.8v0.8h-0.8zM283.8,216.3h0.8v0.8h-0.8zM288.0,197.4h0.8v0.8h-0.8zM287.6,204.9h0.8v0.8h-0.8zM281.9,214.7h0.8v0.8h-0.8zM289.2,229.6h0.8v0.8h-0.8zM286.0,200.7h0.8v0.8h-0.8zM287.3,192.4h0.8v0.8h-0.8zM287.8,207.5h0.8v0.8h-0.8zM285.5,199.7h0.8v0.8h-0.8zM293.7,221.7h0.8v0.8h-0.8zM287.2,221.8h0.8v0.8h-0.8zM289.2,182.5h0.8v0.8h-0.8zM289.5,209.8h0.8v0.8h-0.8zM291.8,206.4h0.8v0.8h-0.8zM287.7,209.8h0.8v0.8h-0.8zM287.5,182.2h0.8v0.8h-0.8zM291.1,194.6h0.8v0.8h-0.8zM290.0,219.5h0.8v0.8h-0.8zM287.6,200.8h0.8v0.8h-0.8zM286.7,194.8h0.8v0.8h-0.8zM285.8,195.7h0.8v0.8h-0.8zM291.0,203.7h0.8v0.8h-0.8zM285.9,208.8h0.8v0.8h-0.8zM287.5,204.5h0.8v0.8h-0.8zM285.8,209.8h0.8v0.8h-0.8zM286.1,211.0h0.8v0.8h-0.8zM288.3,201.1h0.8v0.8h-0.8zM286.3,207.1h0.8v0.8h-0.8zM288.2,193.4h0.8v0.8h-0.8zM284.9,206.9h0.8v0.8h-0.8zM287.4,205.2h0.8v0.8h-0.8zM288.9,209.6h0.8v0.8h-0.8zM286.1,212.4h0.8v0.8h-0.8zM282.1,191.2h0.8v0.8h-0.8zM285.8,221.7h0.8v0.8h-0.8zM287.1,190.8h0.8v0.8h-0.8zM284.3,200.2h0.8v0.8h-0.8zM286.9,208.7h0.8v0.8h-0.8zM290.4,210.7h0.8v0.8h-0.8zM287.5,205.7h0.8v0.8h-0.8zM291.2,195.4h0.8v0.8h-0.8zM286.4,220.7h0.8v0.8h-0.8zM286.3,206.9h0.8v0.8h-0.8zM290.1,212.7h0.8v0.8h-0.8zM285.2,191.9h0.8v0.8h-0.8zM288.2,222.3h0.8v0.8h-0.8zM286.7,212.3h0.8v0.8h-0.8zM289.8,200.2h0.8v0.8h-0.8zM289.4,205.3h0.8v0.8h-0.8zM286.5,195.8h0.8v0.8h-0.8zM286.9,188.4h0.8v0.8h-0.8zM284.4,189.9h0.8v0.8h-0.8zM287.7,203.7h0.8v0.8h-0.8zM288.8,191.6h0.8v0.8h-0.8zM286.8,209.1h0.8v0.8h-0.8zM291.0,195.0h0.8v0.8h-0.8zM287.0,205.3h0.8v0.8h-0.8zM291.5,228.1h0.8v0.8h-0.8zM283.8,205.9h0.8v0.8h-0.8zM287.9,204.1h0.8v0.8h-0.8zM286.6,216.7h0.8v0.8h-0.8zM284.2,199.4h0.8v0.8h-0.8zM289.2,203.1h0.8v0.8h-0.8zM285.7,192.4h0.8v0.8h-0.8zM290.1,199.4h0.8v0.8h-0.8zM284.1,212.3h0.8v0.8h-0.8zM288.0,205.7h0.8v0.8h-0.8zM287.6,196.2h0.8v0.8h-0.8zM284.6,218.9h0.8v0.8h-0.8zM285.6,217.2h0.8v0.8h-0.8zM285.7,196.5h0.8v0.8h-0.8zM286.8,179.3h0.8v0.8h-0.8zM288.2,205.1h0.8v0.8h-0.8zM287.0,201.2h0.8v0.8h-0.8zM288.3,196.0h0.8v0.8h-0.8zM285.0,179.7h0.8v0.8h-0.8z" fill="#000" fill-opacity="0.32"/>
<rect x="284.40" y="191.96" width="1.80" height="34.26" rx="0.90" fill="#1a1a1a" fill-opacity="0.8" filter="url(#blur2)"/>
<rect x="288.05" y="191.96" width="1.70" height="34.26" rx="0.85" fill="#1a1a1a" fill-opacity="0.8" filter="url(#blur2)"/>
<path d="M283.05,196.59 C283.05,182.70 290.95,182.70 290.95,196.59" fill="none" stroke="#333" stroke-width="0.7"/>
<ellipse cx="348.80" cy="222.10" rx="5.98" ry="8.19" transform="rotate(20.0 348.80 221.50)" fill="#8f8f8f" fill-opacity="0.62" filter="url(#blur2)"/>
<path d="M349.6,222.4h0.8v0.8h-0.8zM345.9,226.9h0.8v0.8h-0.8zM351.0,218.1h0.8v0.8h-0.8zM347.2,220.3h0.8v0.8h-0.8zM351.1,215.7h0.8v0.8h-0.8zM350.5,221.7h0.8v0.8h-0.8zM346.4,227.2h0.8v0.8h-0.8zM353.2,221.3h0.8v0.8h-0.8zM349.2,219.7h0.8v0.8h-0.8zM342.4,223.4h0.8v0.8h-0.8zM346.0,221.6h0.8v0.8h-0.8zM350.1,215.5h0.8v0.8h-0.8zM350.2,221.3h0.8v0.8h-0.8zM348.6,226.0h0.8v0.8h-0.8zM345.6,222.2h0.8v0.8h-0.8zM351.8,214.0h0.8v0.8h-0.8zM348.6,216.0h0.8v0.8h-0.8zM344.2,224.4h0.8v0.8h-0.8zM350.2,224.0h0.8v0.8h-0.8zM349.9,225.0h0.8v0.8h-0.8zM349.2,227.6h0.8v0.8h-0.8zM351.4,217.8h0.8v0.8h-0.8zM344.6,220.7h0.8v0.8h-0.8zM346.8,224.6h0.8v0.8h-0.8zM345.3,224.9h0.8v0.8h-0.8zM346.0,226.3h0.8v0.8h-0.8zM348.9,227.3h0.8v0.8h-0.8zM357.5,217.0h0.8v0.8h-0.8zM348.7,218.5h0.8v0.8h-0.8zM349.9,219.2h0.8v0.8h-0.8zM346.6,218.2h0.8v0.8h-0.8zM351.0,217.4h0.8v0.8h-0.8zM350.5,222.9h0.8v0.8h-0.8zM352.0,217.5h0.8v0.8h-0.8zM348.2,224.6h0.8v0.8h-0.8zM348.6,225.0h0.8v0.8h-0.8zM348.3,222.3h0.8v0.8h-0.8zM345.5,224.7h0.8v0.8h-0.8zM348.7,226.6h0.8v0.8h-0.8zM343.9,226.0h0.8v0.8h-0.8zM350.9,219.5h0.8v0.8h-0.8zM347.7,219.2h0.8v0.8h-0.8zM345.5,223.3h0.8v0.8h-0.8zM351.4,225.3h0.8v0.8h-0.8zM349.3,225.2h0.8v0.8h-0.8zM348.3,215.7h0.8v0.8h-0.8zM349.8,218.5h0.8v0.8h-0.8zM349.2,221.3h0.8v0.8h-0.8zM348.8,221.4h0.8v0.8h-0.8zM346.6,229.7h0.8v0.8h-0.8zM349.1,220.8h0.8v0.8h-0.8zM347.0,223.3h0.8v0.8h-0.8zM346.7,223.1h0.8v0.8h-0.8zM347.2,216.3h0.8v0.8h-0.8zM346.7,220.4h0.8v0.8h-0.8zM355.3,218.0h0.8v0.8h-0.8zM347.2,223.0h0.8v0.8h-0.8zM348.3,218.7h0.8v0.8h-0.8zM347.7,228.7h0.8v0.8h-0.8zM351.6,221.2h0.8v0.8h-0.8zM348.7,214.3h0.8v0.8h-0.8zM346.4,224.4h0.8v0.8h-0.8zM350.4,220.7h0.8v0.8h-0.8zM347.1,218.3h0.8v0.8h-0.8zM348.5,222.9h0.8v0.8h-0.8zM353.9,218.9h0.8v0.8h-0.8zM345.4,220.0h0.8v0.8h-0.8zM350.7,225.6h0.8v0.8h-0.8zM348.8,226.1h0.8v0.8h-0.8zM348.0,228.1h0.8v0.8h-0.8zM348.4,219.8h0.8v0.8h-0.8zM349.9,223.6h0.8v0.8h-0.8zM347.1,225.7h0.8v0.8h-0.8zM342.1,228.3h0.8v0.8h-0.8zM352.0,220.8h0.8v0.8h-0.8zM348.5,217.1h0.8v0.8h-0.8zM352.8,215.7h0.8v0.8h-0.8zM347.1,224.1h0.8v0.8h-0.8zM345.3,227.5h0.8v0.8h-0.8zM350.1,219.1h0.8v0.8h-0.8zM345.6,222.2h0.8v0.8h-0.8zM348.3,224.8h0.8v0.8h-0.8zM350.8,212.3h0.8v0.8h-0.8zM349.3,224.1h0.8v0.8h-0.8zM350.5,227.3h0.8v0.8h-0.8zM350.0,222.3h0.8v0.8h-0.8zM347.2,222.1h0.8v0.8h-0.8zM341.5,222.5h0.8v0.8h-0.8zM343.2,225.8h0.8v0.8h-0.8zM349.8,215.4h0.8v0.8h-0.8zM346.9,223.2h0.8v0.8h-0.8zM346.0,219.8h0.8v0.8h-0.8zM348.1,219.9h0.8v0.8h-0.8zM349.2,226.5h0.8v0.8h-0.8zM346.6,218.0h0.8v0.8h-0.8zM355.7,225.8h0.8v0.8h-0.8zM349.3,221.5h0.8v0.8h-0.8zM348.5,225.4h0.8v0.8h-0.8zM350.0,216.6h0.8v0.8h-0.8zM353.6,218.3h0.8v0.8h-0.8zM349.4,218.2h0.8v0.8h-0.8zM348.8,225.0h0.8v0.8h-0.8zM349.7,217.9h0.8v0.8h-0.8zM347.9,223.1h0.8v0.8h-0.8zM352.1,216.2h0.8v0.8h-0.8zM349.0,220.8h0.8v0.8h-0.8zM348.5,223.8h0.8v0.8h-0.8zM348.0,222.6h0.8v0.8h-0.8zM348.7,220.7h0.8v0.8h-0.8zM347.8,221.4h0.8v0.8h-0.8zM351.2,223.0h0.8v0.8h-0.8zM347.4,218.0h0.8v0.8h-0.8zM351.0,219.7h0.8v0.8h-0.8zM347.8,224.1h0.8v0.8h-0.8zM347.3,224.8h0.8v0.8h-0.8zM352.2,219.5h0.8v0.8h-0.8zM350.0,228.1h0.8v0.8h-0.8zM351.6,217.1h0.8v0.8h-0.8zM353.3,222.4h0.8v0.8h-0.8zM351.8,221.1h0.8v0.8h-0.8zM351.8,222.0h0.8v0.8h-0.8zM353.9,218.7h0.8v0.8h-0.8zM351.1,221.7h0.8v0.8h-0.8zM353.2,217.8h0.8v0.8h-0.8zM348.2,219.4h0.8v0.8h-0.8zM346.2,222.7h0.8v0.8h-0.8zM348.9,223.5h0.8v0.8h-0.8zM349.3,224.5h0.8v0.8h-0.8zM353.5,219.1h0.8v0.8h-0.8zM353.1,223.9h0.8v0.8h-0.8zM350.3,223.4h0.8v0.8h-0.8zM350.7,220.6h0.8v0.8h-0.8zM346.0,220.9h0.8v0.8h-0.8zM353.7,221.9h0.8v0.8h-0.8zM348.0,217.2h0.8v0.8h-0.8zM347.1,219.8h0.8v0.8h-0.8zM351.2,216.6h0.8v0.8h-0.8zM354.4,220.1h0.8v0.8h-0.8zM349.4,227.9h0.8v0.8h-0.8zM350.2,225.0h0.8v0.8h-0.8zM348.1,218.5h0.8v0.8h-0.8zM350.9,222.7h0.8v0.8h-0.8zM349.1,226.2h0.8v0.8h-0.8zM354.6,214.3h0.8v0.8h-0.8zM346.0,228.7h0.8v0.8h-0.8zM345.4,227.8h0.8v0.8h-0.8zM346.6,223.2h0.8v0.8h-0.8zM346.5,229.0h0.8v0.8h-0.8zM349.4,218.1h0.8v0.8h-0.8zM347.8,217.9h0.8v0.8h-0.8zM348.8,225.0h0.8v0.8h-0.8zM351.3,222.6h0.8v0.8h-0.8zM348.9,225.5h0.8v0.8h-0.8zM345.8,223.2h0.8v0.8h-0.8zM348.3,219.0h0.8v0.8h-0.8zM347.5,222.8h0.8v0.8h-0.8zM348.3,218.8h0.8v0.8h-0.8zM346.6,220.5h0.8v0.8h-0.8zM351.2,218.1h0.8v0.8h-0.8zM348.7,223.1h0.8v0.8h-0.8zM346.9,222.6h0.8v0.8h-0.8zM350.4,223.5h0.8v0.8h-0.8zM347.4,220.8h0.8v0.8h-0.8zM346.6,226.5h0.8v0.8h-0.8zM351.3,221.0h0.8v0.8h-0.8zM351.8,213.9h0.8v0.8h-0.8zM351.0,218.9h0.8v0.8h-0.8zM352.0,219.1h0.8v0.8h-0.8zM347.6,229.4h0.8v0.8h-0.8zM351.1,219.7h0.8v0.8h-0.8zM347.9,221.1h0.8v0.8h-0.8zM348.1,228.6h0.8v0.8h-0.8zM348.2,217.9h0.8v0.8h-0.8zM351.8,220.6h0.8v0.8h-0.8zM346.3,227.3h0.8v0.8h-0.8zM348.8,224.6h0.8v0.8h-0.8zM351.2,223.7h0.8v0.8h-0.8zM347.9,224.6h0.8v0.8h-0.8zM354.7,215.0h0.8v0.8h-0.8zM344.9,218.0h0.8v0.8h-0.8zM343.2,229.8h0.8v0.8h-0.8zM351.8,215.4h0.8v0.8h-0.8zM346.8,228.5h0.8v0.8h-0.8zM350.8,220.0h0.8v0.8h-0.8zM349.5,221.0h0.8v0.8h-0.8zM350.1,220.1h0.8v0.8h-0.8zM348.2,221.1h0.8v0.8h-0.8zM348.0,219.7h0.8v0.8h-0.8zM346.5,218.9h0.8v0.8h-0.8zM343.7,218.5h0.8v0.8h-0.8zM354.4,217.4h0.8v0.8h-0.8z" fill="#000" fill-opacity="0.3"/>
<ellipse cx="348.80" cy="221.50" rx="4.48" ry="6.48" transform="rotate(20.0 348.80 221.50)" fill="none" stroke="#555" stroke-width="0.6"/>
<ellipse cx="348.80" cy="221.50" rx="2.53" ry="3.85" transform="rotate(20.0 348.80 221.50)" fill="#333" fill-opacity="0.7" filter="url(#blur2)"/>
<ellipse cx="348.80" cy="221.50" rx="1.03" ry="1.75" transform="rotate(20.0 348.80 221.50)" fill="#111"/>
<path d="M351.7,212.3h0.7v0.7h-0.7zM348.4,211.3h0.7v0.7h-0.7zM348.7,213.6h0.7v0.7h-0.7zM351.0,214.5h0.7v0.7h-0.7zM349.0,212.2h0.7v0.7h-0.7zM351.2,209.8h0.7v0.7h-0.7zM346.8,205.6h0.7v0.7h-0.7zM350.2,204.3h0.7v0.7h-0.7zM347.1,207.3h0.7v0.7h-0.7zM349.8,213.1h0.7v0.7h-0.7zM349.6,205.8h0.7v0.7h-0.7zM349.9,196.2h0.7v0.7h-0.7zM348.9,213.2h0.7v0.7h-0.7zM351.5,200.2h0.7v0.7h-0.7zM351.7,209.8h0.7v0.7h-0.7zM347.7,204.7h0.7v0.7h-0.7zM348.2,214.2h0.7v0.7h-0.7zM347.6,206.6h0.7v0.7h-0.7zM349.0,204.7h0.7v0.7h-0.7zM351.6,210.0h0.7v0.7h-0.7zM351.2,213.9h0.7v0.7h-0.7zM347.9,211.2h0.7v0.7h-0.7zM349.1,196.2h0.7v0.7h-0.7zM346.0,196.0h0.7v0.7h-0.7zM348.6,212.9h0.7v0.7h-0.7zM349.5,199.0h0.7v0.7h-0.7zM346.3,206.1h0.7v0.7h-0.7zM350.1,212.8h0.7v0.7h-0.7zM351.0,206.8h0.7v0.7h-0.7zM348.1,210.6h0.7v0.7h-0.7zM350.0,212.9h0.7v0.7h-0.7zM348.4,204.3h0.7v0.7h-0.7zM350.1,206.2h0.7v0.7h-0.7zM347.8,210.3h0.7v0.7h-0.7zM351.5,206.4h0.7v0.7h-0.7zM350.9,191.7h0.7v0.7h-0.7zM349.2,207.4h0.7v0.7h-0.7zM349.7,214.4h0.7v0.7h-0.7zM350.1,199.7h0.7v0.7h-0.7zM350.8,198.1h0.7v0.7h-0.7zM347.8,193.7h0.7v0.7h-0.7zM348.4,201.4h0.7v0.7h-0.7zM349.4,202.3h0.7v0.7h-0.7zM348.3,213.5h0.7v0.7h-0.7zM349.9,208.4h0.7v0.7h-0.7zM347.0,196.7h0.7v0.7h-0.7zM349.2,195.8h0.7v0.7h-0.7zM348.4,207.4h0.7v0.7h-0.7zM352.2,208.7h0.7v0.7h-0.7zM348.6,213.6h0.7v0.7h-0.7zM348.8,199.1h0.7v0.7h-0.7zM349.7,210.2h0.7v0.7h-0.7zM348.9,204.8h0.7v0.7h-0.7zM346.0,201.7h0.7v0.7h-0.7zM350.2,207.6h0.7v0.7h-0.7zM349.6,210.9h0.7v0.7h-0.7zM348.1,208.7h0.7v0.7h-0.7zM347.4,203.9h0.7v0.7h-0.7zM349.8,209.6h0.7v0.7h-0.7zM350.0,198.6h0.7v0.7h-0.7zM348.6,202.5h0.7v0.7h-0.7zM351.2,212.7h0.7v0.7h-0.7zM349.3,214.3h0.7v0.7h-0.7zM350.6,193.5h0.7v0.7h-0.7zM349.2,193.3h0.7v0.7h-0.7z" fill="#000" fill-opacity="0.45"/>
<rect x="405.40" y="180.80" width="10.40" height="30.70" rx="5.20" fill="#7a7a7a" fill-opacity="0.45" filter="url(#blur)"/>
<path d="M410.7,191.5h0.8v0.8h-0.8zM410.6,195.2h0.8v0.8h-0.8zM412.4,201.4h0.8v0.8h-0.8zM413.3,200.7h0.8v0.8h-0.8zM408.0,206.8h0.8v0.8h-0.8zM403.5,197.1h0.8v0.8h-0.8zM411.5,192.1h0.8v0.8h-0.8zM415.7,187.8h0.8v0.8h-0.8zM407.5,192.3h0.8v0.8h-0.8zM411.8,202.3h0.8v0.8h-0.8zM410.9,201.3h0.8v0.8h-0.8zM408.8,191.5h0.8v0.8h-0.8zM411.0,185.9h0.8v0.8h-0.8zM411.1,193.2h0.8v0.8h-0.8zM412.5,188.4h0.8v0.8h-0.8zM409.2,191.8h0.8v0.8h-0.8zM409.7,188.5h0.8v0.8h-0.8zM410.0,185.8h0.8v0.8h-0.8zM412.1,201.3h0.8v0.8h-0.8zM410.6,194.7h0.8v0.8h-0.8zM408.3,188.8h0.8v0.8h-0.8zM410.1,189.2h0.8v0.8h-0.8zM407.5,197.5h0.8v0.8h-0.8zM410.6,193.1h0.8v0.8h-0.8zM408.5,195.8h0.8v0.8h-0.8zM408.8,192.9h0.8v0.8h-0.8zM411.1,201.7h0.8v0.8h-0.8zM412.7,191.5h0.8v0.8h-0.8zM413.9,187.3h0.8v0.8h-0.8zM410.2,206.2h0.8v0.8h-0.8zM417.0,197.2h0.8v0.8h-0.8zM409.7,193.3h0.8v0.8h-0.8zM407.4,195.1h0.8v0.8h-0.8zM409.5,190.4h0.8v0.8h-0.8zM413.8,190.2h0.8v0.8h-0.8zM415.2,202.6h0.8v0.8h-0.8zM412.4,191.7h0.8v0.8h-0.8zM409.3,180.9h0.8v0.8h-0.8zM411.4,194.1h0.8v0.8h-0.8zM411.7,191.0h0.8v0.8h-0.8zM411.9,184.7h0.8v0.8h-0.8zM404.8,199.8h0.8v0.8h-0.8zM414.1,193.5h0.8v0.8h-0.8zM410.2,184.4h0.8v0.8h-0.8zM408.0,201.6h0.8v0.8h-0.8zM408.7,195.9h0.8v0.8h-0.8zM410.2,211.4h0.8v0.8h-0.8zM413.0,186.1h0.8v0.8h-0.8zM409.4,187.4h0.8v0.8h-0.8zM406.9,190.9h0.8v0.8h-0.8zM413.6,196.5h0.8v0.8h-0.8zM412.4,195.1h0.8v0.8h-0.8zM409.5,196.8h0.8v0.8h-0.8zM410.4,210.9h0.8v0.8h-0.8zM415.4,199.1h0.8v0.8h-0.8zM412.2,180.9h0.8v0.8h-0.8zM410.3,214.5h0.8v0.8h-0.8zM408.5,202.4h0.8v0.8h-0.8zM413.9,193.1h0.8v0.8h-0.8zM410.0,192.7h0.8v0.8h-0.8zM412.8,196.3h0.8v0.8h-0.8zM414.6,205.3h0.8v0.8h-0.8zM410.6,216.1h0.8v0.8h-0.8zM409.8,191.5h0.8v0.8h-0.8zM410.0,189.4h0.8v0.8h-0.8zM409.5,195.6h0.8v0.8h-0.8zM413.0,184.1h0.8v0.8h-0.8zM406.9,190.2h0.8v0.8h-0.8zM409.8,199.6h0.8v0.8h-0.8zM408.5,207.7h0.8v0.8h-0.8zM409.2,194.5h0.8v0.8h-0.8zM410.8,205.1h0.8v0.8h-0.8zM411.4,196.4h0.8v0.8h-0.8zM409.2,197.5h0.8v0.8h-0.8zM411.7,193.5h0.8v0.8h-0.8zM410.6,182.0h0.8v0.8h-0.8zM409.2,205.2h0.8v0.8h-0.8zM414.4,195.6h0.8v0.8h-0.8zM404.9,210.2h0.8v0.8h-0.8zM410.2,215.9h0.8v0.8h-0.8zM409.5,203.9h0.8v0.8h-0.8zM409.0,206.7h0.8v0.8h-0.8zM413.7,188.0h0.8v0.8h-0.8zM414.1,218.1h0.8v0.8h-0.8zM410.0,186.9h0.8v0.8h-0.8zM411.4,193.1h0.8v0.8h-0.8zM406.7,188.1h0.8v0.8h-0.8zM411.3,184.5h0.8v0.8h-0.8zM413.5,199.6h0.8v0.8h-0.8zM410.2,206.9h0.8v0.8h-0.8zM408.2,201.4h0.8v0.8h-0.8zM407.0,193.7h0.8v0.8h-0.8zM412.3,192.0h0.8v0.8h-0.8zM410.3,201.1h0.8v0.8h-0.8zM414.7,206.2h0.8v0.8h-0.8zM411.8,194.2h0.8v0.8h-0.8zM406.8,209.4h0.8v0.8h-0.8zM415.6,179.6h0.8v0.8h-0.8zM412.9,195.8h0.8v0.8h-0.8zM412.5,198.6h0.8v0.8h-0.8zM410.1,196.1h0.8v0.8h-0.8zM410.5,205.1h0.8v0.8h-0.8zM409.9,192.0h0.8v0.8h-0.8zM412.4,201.1h0.8v0.8h-0.8zM411.8,198.3h0.8v0.8h-0.8zM414.5,204.7h0.8v0.8h-0.8zM411.2,194.5h0.8v0.8h-0.8zM412.4,181.8h0.8v0.8h-0.8zM409.2,190.7h0.8v0.8h-0.8zM411.1,193.2h0.8v0.8h-0.8zM417.2,201.8h0.8v0.8h-0.8zM411.7,213.5h0.8v0.8h-0.8zM410.6,193.7h0.8v0.8h-0.8zM413.9,202.5h0.8v0.8h-0.8zM413.1,205.5h0.8v0.8h-0.8zM409.7,191.1h0.8v0.8h-0.8zM408.7,197.0h0.8v0.8h-0.8zM413.3,188.1h0.8v0.8h-0.8zM409.2,185.9h0.8v0.8h-0.8zM415.9,202.3h0.8v0.8h-0.8zM411.2,186.8h0.8v0.8h-0.8zM407.9,191.2h0.8v0.8h-0.8zM410.7,186.4h0.8v0.8h-0.8zM410.0,205.6h0.8v0.8h-0.8zM410.7,196.9h0.8v0.8h-0.8zM405.1,194.1h0.8v0.8h-0.8zM410.2,190.8h0.8v0.8h-0.8zM407.0,195.6h0.8v0.8h-0.8zM407.9,191.9h0.8v0.8h-0.8zM406.4,195.4h0.8v0.8h-0.8zM413.0,189.7h0.8v0.8h-0.8zM411.5,184.5h0.8v0.8h-0.8zM412.2,200.3h0.8v0.8h-0.8zM409.6,203.0h0.8v0.8h-0.8zM408.3,196.5h0.8v0.8h-0.8zM415.1,196.0h0.8v0.8h-0.8zM407.7,205.1h0.8v0.8h-0.8zM412.0,194.0h0.8v0.8h-0.8zM405.8,181.6h0.8v0.8h-0.8zM406.6,207.6h0.8v0.8h-0.8zM411.4,189.6h0.8v0.8h-0.8zM413.7,207.5h0.8v0.8h-0.8zM408.4,199.9h0.8v0.8h-0.8zM406.3,199.0h0.8v0.8h-0.8zM415.4,185.3h0.8v0.8h-0.8zM410.8,191.2h0.8v0.8h-0.8zM410.4,196.8h0.8v0.8h-0.8zM411.4,203.0h0.8v0.8h-0.8zM412.0,204.2h0.8v0.8h-0.8zM413.3,204.6h0.8v0.8h-0.8zM408.8,199.3h0.8v0.8h-0.8zM409.6,189.6h0.8v0.8h-0.8zM415.8,198.4h0.8v0.8h-0.8zM410.7,179.9h0.8v0.8h-0.8zM410.0,202.1h0.8v0.8h-0.8zM410.1,191.9h0.8v0.8h-0.8zM414.5,193.7h0.8v0.8h-0.8zM409.7,195.4h0.8v0.8h-0.8zM410.0,204.3h0.8v0.8h-0.8zM412.1,195.6h0.8v0.8h-0.8zM409.7,194.4h0.8v0.8h-0.8zM415.1,193.8h0.8v0.8h-0.8zM412.3,184.0h0.8v0.8h-0.8zM411.5,201.5h0.8v0.8h-0.8zM414.0,198.6h0.8v0.8h-0.8zM412.2,198.6h0.8v0.8h-0.8zM413.4,212.0h0.8v0.8h-0.8zM411.2,189.8h0.8v0.8h-0.8zM412.2,195.3h0.8v0.8h-0.8zM412.3,202.1h0.8v0.8h-0.8zM411.0,192.8h0.8v0.8h-0.8zM411.4,186.5h0.8v0.8h-0.8zM411.3,189.3h0.8v0.8h-0.8zM411.8,197.1h0.8v0.8h-0.8zM410.1,186.9h0.8v0.8h-0.8zM410.8,190.9h0.8v0.8h-0.8zM410.3,201.5h0.8v0.8h-0.8zM413.1,186.2h0.8v0.8h-0.8zM413.1,206.7h0.8v0.8h-0.8zM413.6,198.3h0.8v0.8h-0.8zM410.4,209.6h0.8v0.8h-0.8zM409.8,184.4h0.8v0.8h-0.8zM410.9,198.4h0.8v0.8h-0.8zM407.9,186.7h0.8v0.8h-0.8zM415.8,197.0h0.8v0.8h-0.8zM412.7,191.6h0.8v0.8h-0.8zM406.6,194.8h0.8v0.8h-0.8zM414.2,191.0h0.8v0.8h-0.8zM405.9,194.8h0.8v0.8h-0.8zM409.9,196.3h0.8v0.8h-0.8zM407.9,193.8h0.8v0.8h-0.8zM409.2,203.0h0.8v0.8h-0.8zM411.0,202.9h0.8v0.8h-0.8zM410.5,179.7h0.8v0.8h-0.8zM405.5,200.3h0.8v0.8h-0.8zM412.9,202.9h0.8v0.8h-0.8zM410.4,182.3h0.8v0.8h-0.8zM409.3,199.3h0.8v0.8h-0.8zM414.3,193.5h0.8v0.8h-0.8zM409.2,190.2h0.8v0.8h-0.8zM413.3,202.9h0.8v0.8h-0.8zM405.8,205.5h0.8v0.8h-0.8zM408.2,184.8h0.8v0.8h-0.8zM406.4,190.5h0.8v0.8h-0.8zM416.7,215.9h0.8v0.8h-0.8zM407.4,191.0h0.8v0.8h-0.8zM411.0,199.4h0.8v0.8h-0.8zM409.4,183.9h0.8v0.8h-0.8zM409.5,190.9h0.8v0.8h-0.8zM405.9,197.3h0.8v0.8h-0.8zM406.8,182.7h0.8v0.8h-0.8zM414.6,203.4h0.8v0.8h-0.8zM414.4,197.1h0.8v0.8h-0.8zM409.5,195.5h0.8v0.8h-0.8zM407.0,201.9h0.8v0.8h-0.8zM411.3,193.8h0.8v0.8h-0.8zM405.7,195.3h0.8v0.8h-0.8zM414.9,207.4h0.8v0.8h-0.8zM412.9,193.4h0.8v0.8h-0.8zM411.0,200.4h0.8v0.8h-0.8zM411.1,204.3h0.8v0.8h-0.8zM408.9,178.2h0.8v0.8h-0.8zM404.3,189.1h0.8v0.8h-0.8zM407.0,201.3h0.8v0.8h-0.8zM413.5,196.2h0.8v0.8h-0.8zM412.0,196.8h0.8v0.8h-0.8zM411.1,192.5h0.8v0.8h-0.8zM409.6,205.4h0.8v0.8h-0.8zM409.9,195.8h0.8v0.8h-0.8zM413.8,203.8h0.8v0.8h-0.8zM409.6,198.1h0.8v0.8h-0.8zM408.0,197.2h0.8v0.8h-0.8zM411.5,196.1h0.8v0.8h-0.8zM411.1,199.0h0.8v0.8h-0.8zM404.0,189.8h0.8v0.8h-0.8zM410.8,192.3h0.8v0.8h-0.8zM408.1,194.3h0.8v0.8h-0.8zM414.9,194.4h0.8v0.8h-0.8zM408.9,192.4h0.8v0.8h-0.8zM407.5,199.9h0.8v0.8h-0.8zM408.0,203.2h0.8v0.8h-0.8zM413.0,200.6h0.8v0.8h-0.8zM413.4,195.5h0.8v0.8h-0.8zM406.0,195.7h0.8v0.8h-0.8zM412.3,184.2h0.8v0.8h-0.8zM407.4,204.6h0.8v0.8h-0.8zM411.8,206.6h0.8v0.8h-0.8zM412.4,196.7h0.8v0.8h-0.8zM411.8,202.7h0.8v0.8h-0.8zM410.6,194.5h0.8v0.8h-0.8zM411.5,193.7h0.8v0.8h-0.8zM417.0,190.2h0.8v0.8h-0.8zM406.6,186.1h0.8v0.8h-0.8zM413.4,193.0h0.8v0.8h-0.8zM411.1,194.5h0.8v0.8h-0.8zM411.4,184.9h0.8v0.8h-0.8zM410.9,191.7h0.8v0.8h-0.8zM413.5,201.0h0.8v0.8h-0.8zM407.3,188.7h0.8v0.8h-0.8zM412.1,205.4h0.8v0.8h-0.8zM412.7,195.0h0.8v0.8h-0.8zM413.6,177.9h0.8v0.8h-0.8zM409.2,188.6h0.8v0.8h-0.8zM407.9,200.5h0.8v0.8h-0.8zM411.4,198.4h0.8v0.8h-0.8zM410.3,201.0h0.8v0.8h-0.8zM412.7,191.7h0.8v0.8h-0.8zM413.1,189.0h0.8v0.8h-0.8zM415.3,186.1h0.8v0.8h-0.8zM409.9,187.8h0.8v0.8h-0.8zM410.7,206.4h0.8v0.8h-0.8zM408.6,209.9h0.8v0.8h-0.8zM414.4,199.1h0.8v0.8h-0.8zM409.1,203.2h0.8v0.8h-0.8zM403.1,190.2h0.8v0.8h-0.8zM413.2,195.8h0.8v0.8h-0.8zM417.2,190.9h0.8v0.8h-0.8zM407.1,194.5h0.8v0.8h-0.8zM412.2,209.4h0.8v0.8h-0.8zM406.0,197.4h0.8v0.8h-0.8zM414.0,190.9h0.8v0.8h-0.8zM409.4,186.7h0.8v0.8h-0.8zM412.7,202.6h0.8v0.8h-0.8zM412.2,198.1h0.8v0.8h-0.8zM413.3,195.2h0.8v0.8h-0.8zM412.5,202.5h0.8v0.8h-0.8zM414.1,200.1h0.8v0.8h-0.8zM410.9,201.6h0.8v0.8h-0.8zM406.5,182.5h0.8v0.8h-0.8zM414.9,197.2h0.8v0.8h-0.8zM407.8,191.6h0.8v0.8h-0.8zM410.2,196.7h0.8v0.8h-0.8zM408.6,203.9h0.8v0.8h-0.8zM406.1,218.0h0.8v0.8h-0.8zM407.7,209.1h0.8v0.8h-0.8zM412.4,183.1h0.8v0.8h-0.8zM407.4,196.6h0.8v0.8h-0.8zM411.4,192.9h0.8v0.8h-0.8zM410.7,197.4h0.8v0.8h-0.8zM407.6,196.6h0.8v0.8h-0.8zM416.7,191.1h0.8v0.8h-0.8zM407.9,201.3h0.8v0.8h-0.8zM414.2,204.3h0.8v0.8h-0.8zM408.9,195.6h0.8v0.8h-0.8zM411.2,194.5h0.8v0.8h-0.8zM411.7,204.6h0.8v0.8h-0.8zM412.1,196.1h0.8v0.8h-0.8zM410.1,210.1h0.8v0.8h-0.8zM407.3,211.8h0.8v0.8h-0.8zM412.6,196.8h0.8v0.8h-0.8zM408.6,210.5h0.8v0.8h-0.8zM413.9,203.3h0.8v0.8h-0.8zM416.2,182.1h0.8v0.8h-0.8zM410.9,193.8h0.8v0.8h-0.8zM408.7,196.7h0.8v0.8h-0.8zM412.1,200.3h0.8v0.8h-0.8zM410.3,185.8h0.8v0.8h-0.8zM412.1,200.9h0.8v0.8h-0.8zM416.3,203.4h0.8v0.8h-0.8zM410.7,187.2h0.8v0.8h-0.8zM418.0,190.9h0.8v0.8h-0.8zM411.2,202.0h0.8v0.8h-0.8zM412.0,206.5h0.8v0.8h-0.8zM407.9,190.8h0.8v0.8h-0.8zM411.1,186.5h0.8v0.8h-0.8zM409.0,207.0h0.8v0.8h-0.8zM411.4,195.4h0.8v0.8h-0.8zM409.1,196.5h0.8v0.8h-0.8zM410.5,187.7h0.8v0.8h-0.8zM412.8,186.1h0.8v0.8h-0.8zM414.1,193.5h0.8v0.8h-0.8zM404.5,184.0h0.8v0.8h-0.8zM411.4,189.3h0.8v0.8h-0.8zM415.5,207.0h0.8v0.8h-0.8zM416.3,203.1h0.8v0.8h-0.8zM414.3,191.4h0.8v0.8h-0.8zM414.2,192.7h0.8v0.8h-0.8zM410.5,185.5h0.8v0.8h-0.8zM410.8,199.3h0.8v0.8h-0.8zM410.5,187.5h0.8v0.8h-0.8zM413.1,203.3h0.8v0.8h-0.8zM410.4,202.3h0.8v0.8h-0.8zM413.3,188.4h0.8v0.8h-0.8zM410.5,181.5h0.8v0.8h-0.8zM407.8,199.5h0.8v0.8h-0.8zM408.2,199.2h0.8v0.8h-0.8zM411.6,180.0h0.8v0.8h-0.8zM409.3,208.1h0.8v0.8h-0.8zM410.7,197.1h0.8v0.8h-0.8zM408.7,183.6h0.8v0.8h-0.8zM406.3,218.8h0.8v0.8h-0.8zM410.1,189.3h0.8v0.8h-0.8zM410.9,180.9h0.8v0.8h-0.8zM414.5,209.6h0.8v0.8h-0.8zM408.6,198.7h0.8v0.8h-0.8zM408.2,202.9h0.8v0.8h-0.8zM408.3,195.0h0.8v0.8h-0.8zM414.2,200.3h0.8v0.8h-0.8zM409.7,184.2h0.8v0.8h-0.8zM406.3,205.6h0.8v0.8h-0.8zM412.0,196.6h0.8v0.8h-0.8zM414.1,197.3h0.8v0.8h-0.8zM408.6,195.3h0.8v0.8h-0.8zM410.4,196.0h0.8v0.8h-0.8zM417.5,200.7h0.8v0.8h-0.8zM411.4,194.2h0.8v0.8h-0.8zM408.8,188.3h0.8v0.8h-0.8zM405.5,192.5h0.8v0.8h-0.8zM406.5,181.5h0.8v0.8h-0.8zM408.1,180.1h0.8v0.8h-0.8zM414.4,206.0h0.8v0.8h-0.8zM408.0,212.3h0.8v0.8h-0.8zM412.4,176.2h0.8v0.8h-0.8zM410.7,188.3h0.8v0.8h-0.8zM405.8,194.1h0.8v0.8h-0.8zM413.8,199.7h0.8v0.8h-0.8zM406.6,190.9h0.8v0.8h-0.8zM408.5,205.2h0.8v0.8h-0.8zM410.4,188.4h0.8v0.8h-0.8zM408.1,180.6h0.8v0.8h-0.8zM408.3,203.2h0.8v0.8h-0.8zM405.4,197.7h0.8v0.8h-0.8zM410.3,202.6h0.8v0.8h-0.8zM407.5,203.4h0.8v0.8h-0.8zM414.9,214.3h0.8v0.8h-0.8zM406.1,195.9h0.8v0.8h-0.8zM410.0,197.1h0.8v0.8h-0.8zM407.9,202.9h0.8v0.8h-0.8zM417.1,208.1h0.8v0.8h-0.8zM408.0,191.6h0.8v0.8h-0.8zM412.6,197.2h0.8v0.8h-0.8zM408.5,205.9h0.8v0.8h-0.8zM412.1,204.3h0.8v0.8h-0.8zM410.1,206.3h0.8v0.8h-0.8zM409.3,187.3h0.8v0.8h-0.8zM410.6,185.1h0.8v0.8h-0.8zM414.1,202.0h0.8v0.8h-0.8zM406.0,197.5h0.8v0.8h-0.8zM413.0,193.3h0.8v0.8h-0.8zM411.8,191.5h0.8v0.8h-0.8zM410.4,195.5h0.8v0.8h-0.8zM412.0,188.5h0.8v0.8h-0.8zM407.5,198.8h0.8v0.8h-0.8zM409.2,200.3h0.8v0.8h-0.8zM409.2,185.7h0.8v0.8h-0.8zM412.7,198.3h0.8v0.8h-0.8zM412.6,193.5h0.8v0.8h-0.8zM409.6,206.2h0.8v0.8h-0.8zM405.9,210.0h0.8v0.8h-0.8zM412.0,195.7h0.8v0.8h-0.8zM410.9,200.9h0.8v0.8h-0.8zM408.5,198.4h0.8v0.8h-0.8zM408.0,181.5h0.8v0.8h-0.8zM411.2,196.9h0.8v0.8h-0.8zM412.4,200.6h0.8v0.8h-0.8zM412.5,202.4h0.8v0.8h-0.8zM407.7,205.8h0.8v0.8h-0.8zM418.0,191.7h0.8v0.8h-0.8zM407.1,201.6h0.8v0.8h-0.8zM413.1,204.2h0.8v0.8h-0.8zM414.9,185.1h0.8v0.8h-0.8zM411.7,199.8h0.8v0.8h-0.8zM414.1,189.1h0.8v0.8h-0.8zM410.7,193.2h0.8v0.8h-0.8zM410.2,195.0h0.8v0.8h-0.8zM410.2,182.1h0.8v0.8h-0.8zM410.5,196.7h0.8v0.8h-0.8zM408.7,191.0h0.8v0.8h-0.8zM408.2,208.9h0.8v0.8h-0.8zM413.2,194.7h0.8v0.8h-0.8zM412.3,222.3h0.8v0.8h-0.8zM407.9,199.9h0.8v0.8h-0.8zM409.0,208.0h0.8v0.8h-0.8zM413.7,195.2h0.8v0.8h-0.8zM412.3,189.8h0.8v0.8h-0.8zM406.2,202.9h0.8v0.8h-0.8zM415.1,193.7h0.8v0.8h-0.8zM409.2,181.9h0.8v0.8h-0.8zM416.5,186.6h0.8v0.8h-0.8zM407.9,194.6h0.8v0.8h-0.8zM414.0,196.6h0.8v0.8h-0.8zM410.6,196.3h0.8v0.8h-0.8zM413.0,195.9h0.8v0.8h-0.8zM411.0,195.6h0.8v0.8h-0.8zM407.5,206.8h0.8v0.8h-0.8zM408.7,185.7h0.8v0.8h-0.8zM409.4,196.4h0.8v0.8h-0.8zM412.9,184.5h0.8v0.8h-0.8zM407.1,197.6h0.8v0.8h-0.8zM411.7,187.4h0.8v0.8h-0.8zM407.5,197.5h0.8v0.8h-0.8zM410.2,183.3h0.8v0.8h-0.8zM408.2,208.0h0.8v0.8h-0.8zM407.7,204.5h0.8v0.8h-0.8zM406.4,208.0h0.8v0.8h-0.8zM415.0,191.1h0.8v0.8h-0.8zM408.7,201.2h0.8v0.8h-0.8zM407.2,200.5h0.8v0.8h-0.8zM414.0,198.2h0.8v0.8h-0.8zM411.5,194.9h0.8v0.8h-0.8zM413.4,189.6h0.8v0.8h-0.8zM415.0,196.0h0.8v0.8h-0.8zM409.7,183.1h0.8v0.8h-0.8zM409.4,198.0h0.8v0.8h-0.8zM414.0,183.3h0.8v0.8h-0.8zM410.3,190.7h0.8v0.8h-0.8zM407.3,196.2h0.8v0.8h-0.8zM408.5,203.1h0.8v0.8h-0.8zM403.2,202.0h0.8v0.8h-0.8zM405.3,180.6h0.8v0.8h-0.8zM412.0,193.5h0.8v0.8h-0.8zM411.0,188.5h0.8v0.8h-0.8zM407.7,190.3h0.8v0.8h-0.8zM410.5,189.5h0.8v0.8h-0.8zM409.4,189.3h0.8v0.8h-0.8zM411.2,187.1h0.8v0.8h-0.8zM404.9,175.3h0.8v0.8h-0.8zM410.5,196.9h0.8v0.8h-0.8zM413.3,190.3h0.8v0.8h-0.8zM407.5,184.3h0.8v0.8h-0.8zM412.7,191.2h0.8v0.8h-0.8zM413.3,195.5h0.8v0.8h-0.8zM409.8,181.3h0.8v0.8h-0.8zM408.7,202.4h0.8v0.8h-0.8zM408.9,201.5h0.8v0.8h-0.8zM406.1,204.2h0.8v0.8h-0.8zM418.3,205.0h0.8v0.8h-0.8zM411.5,186.3h0.8v0.8h-0.8zM409.1,190.9h0.8v0.8h-0.8zM411.1,180.1h0.8v0.8h-0.8zM408.2,202.4h0.8v0.8h-0.8zM411.0,202.1h0.8v0.8h-0.8zM413.0,187.0h0.8v0.8h-0.8zM406.9,199.8h0.8v0.8h-0.8zM410.7,196.8h0.8v0.8h-0.8zM408.4,204.3h0.8v0.8h-0.8zM412.0,205.2h0.8v0.8h-0.8zM409.6,201.7h0.8v0.8h-0.8zM410.4,188.7h0.8v0.8h-0.8zM410.4,183.0h0.8v0.8h-0.8zM410.1,197.6h0.8v0.8h-0.8zM412.5,187.8h0.8v0.8h-0.8zM406.9,190.3h0.8v0.8h-0.8zM404.9,191.0h0.8v0.8h-0.8zM417.8,197.3h0.8v0.8h-0.8zM408.5,190.7h0.8v0.8h-0.8zM415.5,186.9h0.8v0.8h-0.8zM410.3,195.5h0.8v0.8h-0.8zM408.6,190.4h0.8v0.8h-0.8zM406.0,189.5h0.8v0.8h-0.8zM414.2,207.4h0.8v0.8h-0.8zM409.8,201.7h0.8v0.8h-0.8zM411.9,197.0h0.8v0.8h-0.8zM410.2,205.8h0.8v0.8h-0.8zM412.2,194.4h0.8v0.8h-0.8zM410.0,203.6h0.8v0.8h-0.8zM409.0,190.4h0.8v0.8h-0.8zM409.8,192.2h0.8v0.8h-0.8zM414.1,199.0h0.8v0.8h-0.8zM410.4,192.0h0.8v0.8h-0.8zM414.5,199.7h0.8v0.8h-0.8zM416.3,203.4h0.8v0.8h-0.8zM410.0,191.8h0.8v0.8h-0.8zM409.8,197.6h0.8v0.8h-0.8zM412.8,200.0h0.8v0.8h-0.8zM414.9,184.1h0.8v0.8h-0.8zM410.7,184.9h0.8v0.8h-0.8zM407.8,191.4h0.8v0.8h-0.8zM408.8,188.4h0.8v0.8h-0.8zM406.4,205.2h0.8v0.8h-0.8zM409.7,203.8h0.8v0.8h-0.8zM407.6,177.7h0.8v0.8h-0.8zM409.0,203.1h0.8v0.8h-0.8zM409.1,199.3h0.8v0.8h-0.8zM407.6,207.2h0.8v0.8h-0.8zM411.8,204.5h0.8v0.8h-0.8zM409.8,206.3h0.8v0.8h-0.8zM410.8,192.3h0.8v0.8h-0.8zM408.8,196.6h0.8v0.8h-0.8zM408.1,186.7h0.8v0.8h-0.8zM411.0,201.8h0.8v0.8h-0.8zM409.8,202.8h0.8v0.8h-0.8zM415.0,186.1h0.8v0.8h-0.8zM411.3,188.5h0.8v0.8h-0.8zM408.8,197.6h0.8v0.8h-0.8zM404.1,201.0h0.8v0.8h-0.8zM412.9,200.5h0.8v0.8h-0.8zM412.4,210.6h0.8v0.8h-0.8z" fill="#000" fill-opacity="0.32"/>
<rect x="408.00" y="185.00" width="2.00" height="24.00" rx="1.00" fill="#1a1a1a" fill-opacity="0.8" filter="url(#blur2)"/>
<rect x="411.55" y="185.00" width="1.70" height="24.00" rx="0.85" fill="#1a1a1a" fill-opacity="0.8" filter="url(#blur2)"/>
<path d="M405.90,189.81 C405.90,180.30 415.30,180.30 415.30,189.81" fill="none" stroke="#333" stroke-width="0.7"/>
<path d="M410.1,223.4h0.8v0.8h-0.8zM413.4,221.0h0.8v0.8h-0.8zM407.6,218.4h0.8v0.8h-0.8zM410.3,212.5h0.8v0.8h-0.8zM410.7,222.0h0.8v0.8h-0.8zM410.3,218.3h0.8v0.8h-0.8zM413.5,216.5h0.8v0.8h-0.8zM409.1,219.2h0.8v0.8h-0.8zM412.8,221.4h0.8v0.8h-0.8zM410.9,217.0h0.8v0.8h-0.8zM413.0,222.5h0.8v0.8h-0.8zM407.7,220.3h0.8v0.8h-0.8zM406.5,225.0h0.8v0.8h-0.8zM411.9,216.5h0.8v0.8h-0.8zM408.5,217.8h0.8v0.8h-0.8zM407.6,221.3h0.8v0.8h-0.8zM409.9,211.9h0.8v0.8h-0.8zM410.8,223.7h0.8v0.8h-0.8zM408.5,217.6h0.8v0.8h-0.8zM414.1,219.7h0.8v0.8h-0.8zM409.8,219.8h0.8v0.8h-0.8zM412.2,215.0h0.8v0.8h-0.8zM410.6,212.4h0.8v0.8h-0.8zM407.9,212.8h0.8v0.8h-0.8zM412.3,220.2h0.8v0.8h-0.8zM412.1,223.9h0.8v0.8h-0.8zM410.9,219.9h0.8v0.8h-0.8zM411.5,220.9h0.8v0.8h-0.8zM408.9,217.9h0.8v0.8h-0.8zM410.5,219.1h0.8v0.8h-0.8zM409.4,218.5h0.8v0.8h-0.8zM411.3,219.7h0.8v0.8h-0.8zM411.9,222.3h0.8v0.8h-0.8zM411.8,222.9h0.8v0.8h-0.8zM412.3,224.6h0.8v0.8h-0.8zM411.9,216.5h0.8v0.8h-0.8zM415.0,223.5h0.8v0.8h-0.8zM413.1,221.9h0.8v0.8h-0.8zM410.9,214.4h0.8v0.8h-0.8zM411.6,217.6h0.8v0.8h-0.8zM410.1,210.4h0.8v0.8h-0.8zM413.6,214.3h0.8v0.8h-0.8zM408.8,220.9h0.8v0.8h-0.8zM411.8,215.8h0.8v0.8h-0.8zM410.8,220.0h0.8v0.8h-0.8zM411.1,221.1h0.8v0.8h-0.8zM412.2,217.5h0.8v0.8h-0.8zM407.9,227.7h0.8v0.8h-0.8zM410.1,215.0h0.8v0.8h-0.8zM412.2,221.3h0.8v0.8h-0.8zM409.7,228.4h0.8v0.8h-0.8zM406.6,224.1h0.8v0.8h-0.8zM410.7,220.2h0.8v0.8h-0.8zM411.4,218.1h0.8v0.8h-0.8zM411.4,213.8h0.8v0.8h-0.8zM410.1,226.4h0.8v0.8h-0.8zM406.1,223.9h0.8v0.8h-0.8zM406.8,215.6h0.8v0.8h-0.8zM412.4,217.4h0.8v0.8h-0.8zM409.8,213.0h0.8v0.8h-0.8zM410.6,218.3h0.8v0.8h-0.8zM409.6,212.7h0.8v0.8h-0.8zM411.1,220.7h0.8v0.8h-0.8zM412.9,221.1h0.8v0.8h-0.8zM413.5,223.8h0.8v0.8h-0.8zM405.7,225.7h0.8v0.8h-0.8zM410.6,214.8h0.8v0.8h-0.8zM411.6,222.8h0.8v0.8h-0.8zM408.0,214.0h0.8v0.8h-0.8zM412.0,216.8h0.8v0.8h-0.8zM413.4,219.9h0.8v0.8h-0.8zM409.8,213.7h0.8v0.8h-0.8zM411.9,212.1h0.8v0.8h-0.8zM408.4,213.7h0.8v0.8h-0.8zM413.9,225.8h0.8v0.8h-0.8zM410.4,217.5h0.8v0.8h-0.8zM412.1,224.0h0.8v0.8h-0.8zM409.3,227.8h0.8v0.8h-0.8zM410.4,223.5h0.8v0.8h-0.8zM406.5,218.8h0.8v0.8h-0.8zM409.5,227.0h0.8v0.8h-0.8zM410.4,213.9h0.8v0.8h-0.8zM414.3,216.2h0.8v0.8h-0.8zM410.8,214.0h0.8v0.8h-0.8zM412.0,219.8h0.8v0.8h-0.8zM410.3,217.4h0.8v0.8h-0.8zM409.8,216.1h0.8v0.8h-0.8zM408.3,223.8h0.8v0.8h-0.8zM412.4,213.4h0.8v0.8h-0.8zM408.7,220.6h0.8v0.8h-0.8z" fill="#000" fill-opacity="0.25"/>
<path d="M407.6,212 L407.6,223 C407.6,226 413.8,226 413.8,223 L413.8,212" fill="none" stroke="#777" stroke-width="0.6"/>
<rect x="215.50" y="47.60" width="19.60" height="37.40" stroke="#111" stroke-width="1.1" fill="none" />
<rect x="202.50" y="45.60" width="59.60" height="58.60" stroke="#111" stroke-width="1.45" fill="none" />
<text x="242.40" y="63.70" font-size="9.1" font-weight="bold" text-anchor="start" fill="#000" >8%</text>
<rect x="277.60" y="47.60" width="19.60" height="37.40" stroke="#111" stroke-width="1.1" fill="none" />
<rect x="264.30" y="45.60" width="59.60" height="58.60" stroke="#111" stroke-width="1.45" fill="none" />
<text x="302.60" y="63.70" font-size="9.1" font-weight="bold" text-anchor="start" fill="#000" >69%</text>
<rect x="339.30" y="47.60" width="19.60" height="37.40" stroke="#111" stroke-width="1.1" fill="none" />
<rect x="327.00" y="45.60" width="59.60" height="58.60" stroke="#111" stroke-width="1.45" fill="none" />
<text x="367.40" y="63.70" font-size="9.1" font-weight="bold" text-anchor="start" fill="#000" >3%</text>
<rect x="401.10" y="47.60" width="19.60" height="37.40" stroke="#111" stroke-width="1.1" fill="none" />
<rect x="389.00" y="45.60" width="59.60" height="58.60" stroke="#111" stroke-width="1.45" fill="none" />
<text x="426.80" y="63.70" font-size="9.1" font-weight="bold" text-anchor="start" fill="#000" >90%</text>
<rect x="215.50" y="111.60" width="19.60" height="37.40" stroke="#111" stroke-width="1.1" fill="none" />
<rect x="202.50" y="109.30" width="59.60" height="58.60" stroke="#111" stroke-width="1.45" fill="none" />
<text x="242.20" y="128.30" font-size="9.1" font-weight="bold" text-anchor="start" fill="#000" >8%</text>
<rect x="277.60" y="111.60" width="19.60" height="37.40" stroke="#111" stroke-width="1.1" fill="none" />
<rect x="264.30" y="109.30" width="59.60" height="58.60" stroke="#111" stroke-width="1.45" fill="none" />
<text x="302.20" y="128.30" font-size="9.1" font-weight="bold" text-anchor="start" fill="#000" >66%</text>
<rect x="339.30" y="111.60" width="19.60" height="37.40" stroke="#111" stroke-width="1.1" fill="none" />
<rect x="327.00" y="109.30" width="59.60" height="58.60" stroke="#111" stroke-width="1.45" fill="none" />
<text x="366.60" y="128.30" font-size="9.1" font-weight="bold" text-anchor="start" fill="#000" >6%</text>
<rect x="401.10" y="111.60" width="19.60" height="37.40" stroke="#111" stroke-width="1.1" fill="none" />
<rect x="389.00" y="109.30" width="59.60" height="58.60" stroke="#111" stroke-width="1.45" fill="none" />
<text x="426.20" y="128.30" font-size="9.1" font-weight="bold" text-anchor="start" fill="#000" >93%</text>
<rect x="215.50" y="175.50" width="19.60" height="37.40" stroke="#111" stroke-width="1.1" fill="none" />
<rect x="202.50" y="173.00" width="59.60" height="58.60" stroke="#111" stroke-width="1.45" fill="none" />
<text x="242.20" y="191.30" font-size="9.1" font-weight="bold" text-anchor="start" fill="#000" >9%</text>
<rect x="277.60" y="175.50" width="19.60" height="37.40" stroke="#111" stroke-width="1.1" fill="none" />
<rect x="264.30" y="173.00" width="59.60" height="58.60" stroke="#111" stroke-width="1.45" fill="none" />
<text x="302.20" y="191.30" font-size="9.1" font-weight="bold" text-anchor="start" fill="#000" >71%</text>
<rect x="339.30" y="175.50" width="19.60" height="37.40" stroke="#111" stroke-width="1.1" fill="none" />
<rect x="327.00" y="173.00" width="59.60" height="58.60" stroke="#111" stroke-width="1.45" fill="none" />
<text x="366.60" y="191.30" font-size="9.1" font-weight="bold" text-anchor="start" fill="#000" >5%</text>
<rect x="401.10" y="175.50" width="19.60" height="37.40" stroke="#111" stroke-width="1.1" fill="none" />
<rect x="389.00" y="173.00" width="59.60" height="58.60" stroke="#111" stroke-width="1.45" fill="none" />
<text x="426.20" y="191.30" font-size="9.1" font-weight="bold" text-anchor="start" fill="#000" >92%</text>
<text x="50.00" y="122.00" font-size="9" font-weight="bold" text-anchor="middle" fill="#000" >(-)</text>
<text x="112.60" y="123.00" font-size="9.1" font-weight="bold" text-anchor="middle" fill="#000" >Pamidronate</text>
<text x="144.20" y="158.60" font-size="9.0" font-weight="bold" text-anchor="start" fill="#000" >IgG</text>
<text x="144.30" y="217.20" font-size="9.45" font-weight="bold" text-anchor="start" fill="#000" ><tspan font-family="Liberation Serif" font-weight="normal" style="stroke:none">&#945;</tspan>-CD277</text>
<text x="145.60" y="226.60" font-size="9.4" font-weight="bold" text-anchor="start" fill="#000" >(#103.2)</text>
<text transform="translate(16.90,186.50) rotate(-90)" x="0" y="0" font-size="9.2" font-weight="bold" text-anchor="middle">CD107a/b</text>
<ellipse cx="45.50" cy="176.60" rx="6.00" ry="6.50" transform="rotate(20 45.50 176.60)" fill="#8a8a8a" fill-opacity="0.6" filter="url(#blur2)"/>
<path d="M51.2,176.0h0.8v0.8h-0.8zM44.7,175.9h0.8v0.8h-0.8zM46.1,176.1h0.8v0.8h-0.8zM48.2,179.3h0.8v0.8h-0.8zM46.9,180.9h0.8v0.8h-0.8zM44.9,175.1h0.8v0.8h-0.8zM53.0,171.3h0.8v0.8h-0.8zM41.6,170.1h0.8v0.8h-0.8zM46.4,173.6h0.8v0.8h-0.8zM48.2,170.8h0.8v0.8h-0.8zM45.2,175.5h0.8v0.8h-0.8zM42.8,179.7h0.8v0.8h-0.8zM44.5,177.8h0.8v0.8h-0.8zM44.2,177.0h0.8v0.8h-0.8zM44.4,176.8h0.8v0.8h-0.8zM45.2,174.7h0.8v0.8h-0.8zM46.6,176.1h0.8v0.8h-0.8zM43.1,173.7h0.8v0.8h-0.8zM46.6,180.3h0.8v0.8h-0.8zM42.2,175.4h0.8v0.8h-0.8zM46.6,179.5h0.8v0.8h-0.8zM47.3,173.3h0.8v0.8h-0.8zM45.6,179.1h0.8v0.8h-0.8zM46.1,176.0h0.8v0.8h-0.8zM42.5,177.1h0.8v0.8h-0.8zM45.3,176.7h0.8v0.8h-0.8zM49.3,179.9h0.8v0.8h-0.8zM43.5,177.2h0.8v0.8h-0.8zM44.7,176.9h0.8v0.8h-0.8zM49.6,179.1h0.8v0.8h-0.8zM45.6,174.8h0.8v0.8h-0.8zM45.1,177.6h0.8v0.8h-0.8zM44.2,179.6h0.8v0.8h-0.8zM45.6,173.3h0.8v0.8h-0.8zM50.6,168.6h0.8v0.8h-0.8zM44.8,176.3h0.8v0.8h-0.8zM48.0,179.7h0.8v0.8h-0.8zM49.2,180.9h0.8v0.8h-0.8zM46.3,176.9h0.8v0.8h-0.8zM48.1,176.5h0.8v0.8h-0.8zM42.3,175.3h0.8v0.8h-0.8zM47.2,178.3h0.8v0.8h-0.8zM42.7,179.9h0.8v0.8h-0.8zM46.3,172.5h0.8v0.8h-0.8zM46.7,179.4h0.8v0.8h-0.8zM46.8,175.7h0.8v0.8h-0.8zM43.5,179.7h0.8v0.8h-0.8zM46.1,176.6h0.8v0.8h-0.8zM44.5,173.7h0.8v0.8h-0.8zM40.8,175.6h0.8v0.8h-0.8zM48.3,178.7h0.8v0.8h-0.8zM43.8,180.8h0.8v0.8h-0.8zM44.9,173.8h0.8v0.8h-0.8zM48.0,180.4h0.8v0.8h-0.8zM44.5,173.2h0.8v0.8h-0.8zM45.3,169.9h0.8v0.8h-0.8zM45.6,180.8h0.8v0.8h-0.8zM46.2,174.6h0.8v0.8h-0.8zM47.3,175.2h0.8v0.8h-0.8zM48.7,175.6h0.8v0.8h-0.8zM50.6,175.6h0.8v0.8h-0.8zM46.0,174.0h0.8v0.8h-0.8zM42.3,177.5h0.8v0.8h-0.8zM46.4,173.9h0.8v0.8h-0.8zM46.9,175.5h0.8v0.8h-0.8zM44.1,176.4h0.8v0.8h-0.8zM46.5,178.6h0.8v0.8h-0.8zM48.6,177.7h0.8v0.8h-0.8zM43.7,174.7h0.8v0.8h-0.8zM46.4,173.3h0.8v0.8h-0.8zM45.1,175.5h0.8v0.8h-0.8zM45.3,177.1h0.8v0.8h-0.8zM48.1,181.1h0.8v0.8h-0.8zM47.7,179.4h0.8v0.8h-0.8zM42.8,179.5h0.8v0.8h-0.8zM48.8,172.9h0.8v0.8h-0.8zM51.8,175.0h0.8v0.8h-0.8zM39.5,181.5h0.8v0.8h-0.8zM45.7,174.4h0.8v0.8h-0.8zM44.1,179.6h0.8v0.8h-0.8zM46.1,175.6h0.8v0.8h-0.8zM48.4,174.0h0.8v0.8h-0.8zM43.4,175.0h0.8v0.8h-0.8zM43.6,178.5h0.8v0.8h-0.8zM44.9,173.7h0.8v0.8h-0.8zM44.3,171.1h0.8v0.8h-0.8zM45.9,176.9h0.8v0.8h-0.8zM47.0,175.9h0.8v0.8h-0.8zM46.5,174.0h0.8v0.8h-0.8zM45.6,177.0h0.8v0.8h-0.8zM42.5,178.2h0.8v0.8h-0.8zM45.9,176.7h0.8v0.8h-0.8zM44.3,182.1h0.8v0.8h-0.8zM45.5,174.5h0.8v0.8h-0.8zM43.4,178.2h0.8v0.8h-0.8zM45.0,174.4h0.8v0.8h-0.8zM43.7,179.2h0.8v0.8h-0.8zM45.7,179.5h0.8v0.8h-0.8zM45.5,173.3h0.8v0.8h-0.8zM47.7,177.5h0.8v0.8h-0.8zM43.9,175.7h0.8v0.8h-0.8zM43.1,178.9h0.8v0.8h-0.8zM44.5,177.9h0.8v0.8h-0.8zM46.2,175.9h0.8v0.8h-0.8zM46.4,175.9h0.8v0.8h-0.8zM42.5,175.5h0.8v0.8h-0.8zM42.5,178.7h0.8v0.8h-0.8zM47.1,175.0h0.8v0.8h-0.8zM47.1,177.3h0.8v0.8h-0.8zM47.9,174.0h0.8v0.8h-0.8zM45.6,173.9h0.8v0.8h-0.8zM43.8,180.4h0.8v0.8h-0.8zM40.5,174.1h0.8v0.8h-0.8zM46.7,178.7h0.8v0.8h-0.8zM43.5,171.0h0.8v0.8h-0.8zM41.2,177.6h0.8v0.8h-0.8zM48.3,179.1h0.8v0.8h-0.8zM43.7,180.3h0.8v0.8h-0.8zM45.0,178.3h0.8v0.8h-0.8zM45.0,181.0h0.8v0.8h-0.8zM44.2,170.7h0.8v0.8h-0.8zM44.7,177.1h0.8v0.8h-0.8zM46.2,174.6h0.8v0.8h-0.8zM44.9,173.5h0.8v0.8h-0.8zM44.9,176.8h0.8v0.8h-0.8zM46.1,181.1h0.8v0.8h-0.8zM40.5,178.0h0.8v0.8h-0.8zM46.6,173.4h0.8v0.8h-0.8zM45.7,176.6h0.8v0.8h-0.8zM43.0,178.6h0.8v0.8h-0.8zM50.3,178.4h0.8v0.8h-0.8zM47.4,179.5h0.8v0.8h-0.8zM45.2,179.3h0.8v0.8h-0.8zM43.5,177.1h0.8v0.8h-0.8zM47.3,180.2h0.8v0.8h-0.8zM44.8,175.8h0.8v0.8h-0.8zM46.7,176.4h0.8v0.8h-0.8zM45.8,178.8h0.8v0.8h-0.8zM43.6,179.0h0.8v0.8h-0.8zM46.4,175.9h0.8v0.8h-0.8zM42.4,174.9h0.8v0.8h-0.8zM45.4,179.2h0.8v0.8h-0.8zM40.6,178.5h0.8v0.8h-0.8zM46.0,173.5h0.8v0.8h-0.8zM47.6,177.7h0.8v0.8h-0.8zM46.6,173.9h0.8v0.8h-0.8zM42.7,179.1h0.8v0.8h-0.8zM49.0,177.6h0.8v0.8h-0.8zM45.0,175.4h0.8v0.8h-0.8zM41.2,179.3h0.8v0.8h-0.8zM45.3,180.0h0.8v0.8h-0.8zM43.7,179.5h0.8v0.8h-0.8zM43.7,178.2h0.8v0.8h-0.8zM48.9,174.7h0.8v0.8h-0.8zM47.8,176.6h0.8v0.8h-0.8zM43.2,177.1h0.8v0.8h-0.8zM47.1,174.6h0.8v0.8h-0.8zM44.8,175.0h0.8v0.8h-0.8zM43.6,176.0h0.8v0.8h-0.8zM47.5,175.2h0.8v0.8h-0.8zM48.6,175.6h0.8v0.8h-0.8zM43.8,179.5h0.8v0.8h-0.8zM49.0,174.8h0.8v0.8h-0.8zM47.0,173.4h0.8v0.8h-0.8zM44.5,175.6h0.8v0.8h-0.8zM47.3,173.2h0.8v0.8h-0.8zM44.2,174.7h0.8v0.8h-0.8zM45.7,173.2h0.8v0.8h-0.8zM42.2,184.3h0.8v0.8h-0.8zM46.0,172.5h0.8v0.8h-0.8zM47.6,173.0h0.8v0.8h-0.8zM40.8,181.1h0.8v0.8h-0.8zM48.6,174.3h0.8v0.8h-0.8zM42.8,177.9h0.8v0.8h-0.8zM50.5,178.2h0.8v0.8h-0.8zM47.1,173.4h0.8v0.8h-0.8zM41.1,177.7h0.8v0.8h-0.8zM48.0,177.0h0.8v0.8h-0.8zM45.5,180.4h0.8v0.8h-0.8zM43.4,179.6h0.8v0.8h-0.8zM47.6,174.9h0.8v0.8h-0.8zM45.8,176.9h0.8v0.8h-0.8zM46.9,173.9h0.8v0.8h-0.8zM44.9,176.8h0.8v0.8h-0.8zM45.6,176.7h0.8v0.8h-0.8zM46.1,176.1h0.8v0.8h-0.8zM44.3,179.4h0.8v0.8h-0.8zM43.9,175.7h0.8v0.8h-0.8zM43.3,173.5h0.8v0.8h-0.8zM46.6,176.5h0.8v0.8h-0.8zM45.2,177.8h0.8v0.8h-0.8zM45.1,178.4h0.8v0.8h-0.8zM50.0,177.5h0.8v0.8h-0.8zM44.8,181.1h0.8v0.8h-0.8zM47.2,172.1h0.8v0.8h-0.8zM48.8,177.2h0.8v0.8h-0.8zM47.6,173.5h0.8v0.8h-0.8zM43.4,174.8h0.8v0.8h-0.8zM46.9,173.6h0.8v0.8h-0.8zM43.8,179.2h0.8v0.8h-0.8z" fill="#000" fill-opacity="0.35"/>
<ellipse cx="45.50" cy="176.60" rx="5.25" ry="5.75" transform="rotate(20 45.50 176.60)" fill="none" stroke="#444" stroke-width="0.7"/>
<ellipse cx="45.50" cy="176.60" rx="3.10" ry="3.60" transform="rotate(20 45.50 176.60)" fill="none" stroke="#151515" stroke-width="1.6"/>
<ellipse cx="45.30" cy="176.80" rx="1.10" ry="1.50" fill="#333"/>
<path d="M47.0,162.2h0.8v0.8h-0.8zM48.6,167.8h0.8v0.8h-0.8zM47.8,165.2h0.8v0.8h-0.8zM46.1,166.9h0.8v0.8h-0.8zM44.0,154.5h0.8v0.8h-0.8zM45.9,163.3h0.8v0.8h-0.8zM48.4,159.5h0.8v0.8h-0.8zM46.2,155.6h0.8v0.8h-0.8zM43.2,164.4h0.8v0.8h-0.8zM45.7,153.9h0.8v0.8h-0.8zM45.9,169.7h0.8v0.8h-0.8zM43.2,156.1h0.8v0.8h-0.8zM43.9,166.2h0.8v0.8h-0.8zM48.0,165.9h0.8v0.8h-0.8zM47.6,161.1h0.8v0.8h-0.8zM45.4,162.1h0.8v0.8h-0.8zM48.3,166.1h0.8v0.8h-0.8zM48.7,159.5h0.8v0.8h-0.8zM46.6,168.5h0.8v0.8h-0.8zM46.7,164.2h0.8v0.8h-0.8zM45.1,157.5h0.8v0.8h-0.8zM46.5,166.3h0.8v0.8h-0.8zM45.6,166.5h0.8v0.8h-0.8zM45.4,151.3h0.8v0.8h-0.8zM48.4,164.1h0.8v0.8h-0.8zM47.3,163.5h0.8v0.8h-0.8zM47.2,169.1h0.8v0.8h-0.8zM43.5,167.7h0.8v0.8h-0.8zM45.8,162.8h0.8v0.8h-0.8zM46.6,166.0h0.8v0.8h-0.8zM44.5,165.4h0.8v0.8h-0.8zM44.5,161.9h0.8v0.8h-0.8zM45.2,169.0h0.8v0.8h-0.8zM46.8,169.4h0.8v0.8h-0.8zM50.3,166.8h0.8v0.8h-0.8zM43.1,161.6h0.8v0.8h-0.8zM44.4,155.3h0.8v0.8h-0.8zM46.1,160.7h0.8v0.8h-0.8zM46.0,167.1h0.8v0.8h-0.8zM49.8,156.8h0.8v0.8h-0.8zM46.5,158.5h0.8v0.8h-0.8zM44.8,166.3h0.8v0.8h-0.8zM44.6,158.3h0.8v0.8h-0.8zM46.9,157.6h0.8v0.8h-0.8zM50.0,167.7h0.8v0.8h-0.8zM44.9,155.4h0.8v0.8h-0.8zM44.3,150.1h0.8v0.8h-0.8zM47.0,163.5h0.8v0.8h-0.8zM49.0,169.5h0.8v0.8h-0.8zM45.8,158.0h0.8v0.8h-0.8zM47.5,160.9h0.8v0.8h-0.8zM46.7,166.7h0.8v0.8h-0.8zM46.8,159.2h0.8v0.8h-0.8zM48.2,168.7h0.8v0.8h-0.8zM47.5,165.1h0.8v0.8h-0.8zM47.0,157.2h0.8v0.8h-0.8zM44.2,167.5h0.8v0.8h-0.8zM47.0,168.4h0.8v0.8h-0.8zM42.0,158.8h0.8v0.8h-0.8zM47.4,159.0h0.8v0.8h-0.8zM45.1,163.4h0.8v0.8h-0.8zM44.7,164.8h0.8v0.8h-0.8zM47.0,161.3h0.8v0.8h-0.8zM44.0,166.3h0.8v0.8h-0.8zM45.4,163.9h0.8v0.8h-0.8zM44.7,155.0h0.8v0.8h-0.8zM45.9,160.2h0.8v0.8h-0.8zM46.3,166.9h0.8v0.8h-0.8zM43.4,163.1h0.8v0.8h-0.8zM46.2,152.2h0.8v0.8h-0.8zM45.9,154.3h0.8v0.8h-0.8zM45.5,168.3h0.8v0.8h-0.8zM49.3,162.8h0.8v0.8h-0.8zM45.3,161.0h0.8v0.8h-0.8zM43.6,159.8h0.8v0.8h-0.8zM47.1,162.0h0.8v0.8h-0.8zM49.0,166.2h0.8v0.8h-0.8zM45.8,162.9h0.8v0.8h-0.8zM43.6,166.5h0.8v0.8h-0.8zM46.1,161.3h0.8v0.8h-0.8zM48.5,169.2h0.8v0.8h-0.8zM45.8,163.7h0.8v0.8h-0.8zM43.3,153.6h0.8v0.8h-0.8zM44.7,157.5h0.8v0.8h-0.8zM45.9,167.0h0.8v0.8h-0.8zM48.4,158.5h0.8v0.8h-0.8zM46.1,164.3h0.8v0.8h-0.8zM45.5,167.9h0.8v0.8h-0.8zM46.1,163.1h0.8v0.8h-0.8zM47.5,163.6h0.8v0.8h-0.8zM46.3,166.5h0.8v0.8h-0.8zM46.5,157.3h0.8v0.8h-0.8zM43.5,164.9h0.8v0.8h-0.8zM47.8,166.3h0.8v0.8h-0.8zM45.3,160.3h0.8v0.8h-0.8zM45.5,164.5h0.8v0.8h-0.8zM46.2,165.1h0.8v0.8h-0.8zM48.0,154.8h0.8v0.8h-0.8zM41.7,169.6h0.8v0.8h-0.8zM44.8,165.4h0.8v0.8h-0.8zM45.8,156.9h0.8v0.8h-0.8zM43.8,160.5h0.8v0.8h-0.8zM46.2,165.8h0.8v0.8h-0.8zM43.8,157.0h0.8v0.8h-0.8zM47.8,169.6h0.8v0.8h-0.8zM44.9,169.1h0.8v0.8h-0.8zM45.3,169.9h0.8v0.8h-0.8zM46.8,157.6h0.8v0.8h-0.8zM46.8,162.5h0.8v0.8h-0.8zM47.1,166.4h0.8v0.8h-0.8zM45.1,149.6h0.8v0.8h-0.8zM44.8,166.1h0.8v0.8h-0.8zM45.0,157.9h0.8v0.8h-0.8zM46.1,149.3h0.8v0.8h-0.8zM44.9,168.2h0.8v0.8h-0.8zM47.2,169.2h0.8v0.8h-0.8zM45.2,160.3h0.8v0.8h-0.8zM45.8,161.1h0.8v0.8h-0.8zM47.6,168.4h0.8v0.8h-0.8zM42.8,168.9h0.8v0.8h-0.8zM46.7,157.3h0.8v0.8h-0.8zM46.3,165.2h0.8v0.8h-0.8zM44.2,163.5h0.8v0.8h-0.8zM47.7,157.0h0.8v0.8h-0.8zM45.2,164.5h0.8v0.8h-0.8zM46.5,167.0h0.8v0.8h-0.8zM46.7,156.1h0.8v0.8h-0.8zM43.4,161.6h0.8v0.8h-0.8zM46.3,161.9h0.8v0.8h-0.8zM47.0,165.8h0.8v0.8h-0.8zM44.6,160.3h0.8v0.8h-0.8zM45.5,158.1h0.8v0.8h-0.8zM46.1,155.5h0.8v0.8h-0.8zM44.6,155.2h0.8v0.8h-0.8zM46.8,168.3h0.8v0.8h-0.8zM46.8,155.3h0.8v0.8h-0.8zM46.1,163.7h0.8v0.8h-0.8zM45.5,169.0h0.8v0.8h-0.8zM46.9,165.9h0.8v0.8h-0.8zM44.5,161.6h0.8v0.8h-0.8zM45.8,153.3h0.8v0.8h-0.8zM49.0,158.5h0.8v0.8h-0.8zM48.2,168.7h0.8v0.8h-0.8zM43.4,154.8h0.8v0.8h-0.8zM46.7,161.3h0.8v0.8h-0.8zM44.9,157.6h0.8v0.8h-0.8zM44.6,149.7h0.8v0.8h-0.8zM45.6,156.8h0.8v0.8h-0.8zM45.4,157.9h0.8v0.8h-0.8zM45.1,167.1h0.8v0.8h-0.8zM45.1,168.3h0.8v0.8h-0.8zM46.4,163.9h0.8v0.8h-0.8zM47.9,158.8h0.8v0.8h-0.8zM47.7,163.7h0.8v0.8h-0.8zM46.0,158.2h0.8v0.8h-0.8zM49.1,168.9h0.8v0.8h-0.8zM45.1,159.9h0.8v0.8h-0.8zM45.4,162.1h0.8v0.8h-0.8zM45.2,164.1h0.8v0.8h-0.8zM48.2,163.4h0.8v0.8h-0.8zM46.9,151.1h0.8v0.8h-0.8zM46.9,155.0h0.8v0.8h-0.8zM44.0,163.5h0.8v0.8h-0.8zM44.5,168.5h0.8v0.8h-0.8zM46.1,164.5h0.8v0.8h-0.8zM45.1,168.3h0.8v0.8h-0.8zM42.9,169.1h0.8v0.8h-0.8zM44.2,163.6h0.8v0.8h-0.8zM47.0,161.5h0.8v0.8h-0.8zM47.8,166.1h0.8v0.8h-0.8zM47.8,167.3h0.8v0.8h-0.8zM44.5,169.3h0.8v0.8h-0.8zM47.7,160.4h0.8v0.8h-0.8zM46.2,163.4h0.8v0.8h-0.8zM46.0,167.0h0.8v0.8h-0.8zM46.4,166.2h0.8v0.8h-0.8zM47.1,156.3h0.8v0.8h-0.8zM44.6,154.7h0.8v0.8h-0.8zM46.2,163.1h0.8v0.8h-0.8zM44.6,169.4h0.8v0.8h-0.8zM47.0,151.7h0.8v0.8h-0.8zM48.0,165.6h0.8v0.8h-0.8zM47.0,164.4h0.8v0.8h-0.8zM45.6,151.2h0.8v0.8h-0.8zM45.0,163.3h0.8v0.8h-0.8zM47.3,160.8h0.8v0.8h-0.8zM45.3,168.5h0.8v0.8h-0.8zM48.6,163.8h0.8v0.8h-0.8zM47.0,158.5h0.8v0.8h-0.8zM45.4,158.9h0.8v0.8h-0.8zM45.3,156.3h0.8v0.8h-0.8zM43.7,160.2h0.8v0.8h-0.8zM45.0,154.1h0.8v0.8h-0.8zM45.1,163.6h0.8v0.8h-0.8zM46.5,165.2h0.8v0.8h-0.8zM46.0,167.6h0.8v0.8h-0.8zM47.2,168.3h0.8v0.8h-0.8zM46.6,161.4h0.8v0.8h-0.8zM44.3,167.8h0.8v0.8h-0.8zM49.0,153.1h0.8v0.8h-0.8zM48.5,168.8h0.8v0.8h-0.8zM46.9,169.6h0.8v0.8h-0.8zM47.5,166.2h0.8v0.8h-0.8zM45.1,169.4h0.8v0.8h-0.8zM45.5,168.8h0.8v0.8h-0.8zM49.3,168.9h0.8v0.8h-0.8zM44.1,156.8h0.8v0.8h-0.8zM47.9,163.9h0.8v0.8h-0.8zM44.1,168.9h0.8v0.8h-0.8zM46.6,155.6h0.8v0.8h-0.8zM46.8,158.3h0.8v0.8h-0.8zM44.9,168.7h0.8v0.8h-0.8zM44.6,167.4h0.8v0.8h-0.8zM45.6,147.6h0.8v0.8h-0.8zM47.6,154.1h0.8v0.8h-0.8zM41.6,169.5h0.8v0.8h-0.8zM47.5,158.4h0.8v0.8h-0.8zM45.3,160.3h0.8v0.8h-0.8zM47.2,168.8h0.8v0.8h-0.8zM43.9,158.6h0.8v0.8h-0.8zM46.4,153.7h0.8v0.8h-0.8zM47.0,156.3h0.8v0.8h-0.8zM45.5,163.9h0.8v0.8h-0.8zM47.2,168.4h0.8v0.8h-0.8zM46.2,160.3h0.8v0.8h-0.8zM46.0,163.6h0.8v0.8h-0.8zM45.8,150.3h0.8v0.8h-0.8zM45.9,162.2h0.8v0.8h-0.8zM44.8,164.7h0.8v0.8h-0.8zM45.7,167.9h0.8v0.8h-0.8z" fill="#000" fill-opacity="0.55"/>
<ellipse cx="108.2" cy="156" rx="5.6" ry="13.5" transform="rotate(8 108.2 156)" fill="#8a8a8a" fill-opacity="0.55" filter="url(#blur)"/>
<path d="M113.3,154.4h0.8v0.8h-0.8zM115.9,148.7h0.8v0.8h-0.8zM104.7,162.5h0.8v0.8h-0.8zM102.9,162.1h0.8v0.8h-0.8zM108.3,160.8h0.8v0.8h-0.8zM104.3,158.4h0.8v0.8h-0.8zM110.6,156.0h0.8v0.8h-0.8zM110.7,156.6h0.8v0.8h-0.8zM109.2,153.8h0.8v0.8h-0.8zM104.4,154.3h0.8v0.8h-0.8zM110.1,150.6h0.8v0.8h-0.8zM104.3,143.8h0.8v0.8h-0.8zM111.8,154.8h0.8v0.8h-0.8zM104.6,164.8h0.8v0.8h-0.8zM109.0,144.8h0.8v0.8h-0.8zM107.7,149.3h0.8v0.8h-0.8zM108.4,149.2h0.8v0.8h-0.8zM107.7,159.4h0.8v0.8h-0.8zM106.6,154.3h0.8v0.8h-0.8zM106.7,162.0h0.8v0.8h-0.8zM105.2,161.3h0.8v0.8h-0.8zM111.5,155.0h0.8v0.8h-0.8zM105.6,153.3h0.8v0.8h-0.8zM103.7,151.3h0.8v0.8h-0.8zM104.9,154.3h0.8v0.8h-0.8zM106.4,159.7h0.8v0.8h-0.8zM107.8,159.2h0.8v0.8h-0.8zM107.5,158.1h0.8v0.8h-0.8zM104.2,160.5h0.8v0.8h-0.8zM110.3,164.7h0.8v0.8h-0.8zM103.9,158.6h0.8v0.8h-0.8zM102.7,161.0h0.8v0.8h-0.8zM107.9,152.5h0.8v0.8h-0.8zM106.2,153.9h0.8v0.8h-0.8zM108.9,148.8h0.8v0.8h-0.8zM107.8,157.9h0.8v0.8h-0.8zM109.4,155.9h0.8v0.8h-0.8zM105.5,173.2h0.8v0.8h-0.8zM110.4,158.8h0.8v0.8h-0.8zM103.5,160.1h0.8v0.8h-0.8zM112.3,136.5h0.8v0.8h-0.8zM107.1,158.8h0.8v0.8h-0.8zM108.0,156.7h0.8v0.8h-0.8zM106.1,166.2h0.8v0.8h-0.8zM109.3,154.0h0.8v0.8h-0.8zM105.2,171.4h0.8v0.8h-0.8zM106.2,151.8h0.8v0.8h-0.8zM108.7,157.2h0.8v0.8h-0.8zM107.4,166.2h0.8v0.8h-0.8zM110.6,159.6h0.8v0.8h-0.8zM108.1,155.5h0.8v0.8h-0.8zM106.3,163.4h0.8v0.8h-0.8zM105.6,147.8h0.8v0.8h-0.8zM107.7,148.7h0.8v0.8h-0.8zM104.7,164.6h0.8v0.8h-0.8zM101.2,159.4h0.8v0.8h-0.8zM104.6,153.7h0.8v0.8h-0.8zM107.4,148.4h0.8v0.8h-0.8zM103.8,156.0h0.8v0.8h-0.8zM102.1,139.1h0.8v0.8h-0.8zM105.8,164.0h0.8v0.8h-0.8zM113.3,154.5h0.8v0.8h-0.8zM106.1,153.6h0.8v0.8h-0.8zM108.3,163.1h0.8v0.8h-0.8zM104.9,159.2h0.8v0.8h-0.8zM106.7,164.5h0.8v0.8h-0.8zM107.1,154.3h0.8v0.8h-0.8zM107.0,145.8h0.8v0.8h-0.8zM108.0,161.4h0.8v0.8h-0.8zM110.8,158.4h0.8v0.8h-0.8zM107.7,149.0h0.8v0.8h-0.8zM105.5,150.2h0.8v0.8h-0.8zM108.8,156.8h0.8v0.8h-0.8zM101.8,154.4h0.8v0.8h-0.8zM108.3,148.1h0.8v0.8h-0.8zM107.4,159.9h0.8v0.8h-0.8zM106.5,145.6h0.8v0.8h-0.8zM106.8,157.8h0.8v0.8h-0.8zM105.7,167.4h0.8v0.8h-0.8zM109.4,148.6h0.8v0.8h-0.8zM110.8,151.5h0.8v0.8h-0.8zM109.8,157.0h0.8v0.8h-0.8zM112.4,149.1h0.8v0.8h-0.8zM109.5,159.4h0.8v0.8h-0.8zM104.8,160.9h0.8v0.8h-0.8zM113.8,159.5h0.8v0.8h-0.8zM106.0,154.6h0.8v0.8h-0.8zM111.3,158.4h0.8v0.8h-0.8zM112.7,151.7h0.8v0.8h-0.8zM113.2,144.8h0.8v0.8h-0.8zM107.8,153.7h0.8v0.8h-0.8zM105.4,164.9h0.8v0.8h-0.8zM106.0,158.4h0.8v0.8h-0.8zM112.2,162.8h0.8v0.8h-0.8zM107.6,150.4h0.8v0.8h-0.8zM102.1,158.0h0.8v0.8h-0.8zM109.3,164.6h0.8v0.8h-0.8zM106.4,172.1h0.8v0.8h-0.8zM112.5,139.1h0.8v0.8h-0.8zM104.7,161.6h0.8v0.8h-0.8zM106.0,162.1h0.8v0.8h-0.8zM115.8,151.3h0.8v0.8h-0.8zM114.1,156.3h0.8v0.8h-0.8zM103.8,156.2h0.8v0.8h-0.8zM111.1,152.0h0.8v0.8h-0.8zM113.2,150.1h0.8v0.8h-0.8zM106.5,162.8h0.8v0.8h-0.8zM108.0,151.8h0.8v0.8h-0.8zM107.2,160.9h0.8v0.8h-0.8zM111.3,166.8h0.8v0.8h-0.8zM113.2,156.5h0.8v0.8h-0.8zM103.5,155.1h0.8v0.8h-0.8zM107.9,148.4h0.8v0.8h-0.8zM106.6,155.3h0.8v0.8h-0.8zM107.2,162.8h0.8v0.8h-0.8zM104.3,164.2h0.8v0.8h-0.8zM107.3,161.5h0.8v0.8h-0.8zM112.7,147.3h0.8v0.8h-0.8zM113.1,151.3h0.8v0.8h-0.8zM107.9,164.2h0.8v0.8h-0.8zM112.2,144.7h0.8v0.8h-0.8zM107.2,164.5h0.8v0.8h-0.8zM107.7,155.4h0.8v0.8h-0.8zM106.5,168.2h0.8v0.8h-0.8zM107.5,148.8h0.8v0.8h-0.8zM105.5,151.6h0.8v0.8h-0.8zM107.0,158.5h0.8v0.8h-0.8zM109.6,143.2h0.8v0.8h-0.8zM102.9,160.4h0.8v0.8h-0.8zM111.4,146.2h0.8v0.8h-0.8zM113.1,138.3h0.8v0.8h-0.8zM113.8,161.3h0.8v0.8h-0.8zM102.9,159.2h0.8v0.8h-0.8zM108.4,152.6h0.8v0.8h-0.8zM107.2,154.2h0.8v0.8h-0.8zM108.7,149.2h0.8v0.8h-0.8zM105.8,159.9h0.8v0.8h-0.8zM110.8,146.3h0.8v0.8h-0.8zM105.0,167.5h0.8v0.8h-0.8zM108.2,168.6h0.8v0.8h-0.8zM105.3,147.8h0.8v0.8h-0.8zM104.0,140.7h0.8v0.8h-0.8zM108.1,148.0h0.8v0.8h-0.8zM105.7,150.4h0.8v0.8h-0.8zM106.6,162.1h0.8v0.8h-0.8zM111.4,143.1h0.8v0.8h-0.8zM112.5,154.1h0.8v0.8h-0.8zM105.3,155.4h0.8v0.8h-0.8zM108.3,145.5h0.8v0.8h-0.8zM112.9,152.3h0.8v0.8h-0.8zM105.8,159.8h0.8v0.8h-0.8zM112.1,160.3h0.8v0.8h-0.8zM105.0,158.9h0.8v0.8h-0.8zM110.7,159.3h0.8v0.8h-0.8zM110.3,152.7h0.8v0.8h-0.8zM109.6,143.5h0.8v0.8h-0.8zM107.2,147.3h0.8v0.8h-0.8zM106.5,167.1h0.8v0.8h-0.8zM103.1,145.3h0.8v0.8h-0.8zM105.5,155.0h0.8v0.8h-0.8zM112.0,150.7h0.8v0.8h-0.8zM104.5,164.7h0.8v0.8h-0.8zM108.5,160.1h0.8v0.8h-0.8zM111.1,150.8h0.8v0.8h-0.8zM109.3,151.2h0.8v0.8h-0.8zM105.9,156.7h0.8v0.8h-0.8zM110.5,146.7h0.8v0.8h-0.8zM105.2,160.2h0.8v0.8h-0.8zM107.8,161.0h0.8v0.8h-0.8zM108.0,149.9h0.8v0.8h-0.8zM109.5,160.8h0.8v0.8h-0.8zM99.2,161.3h0.8v0.8h-0.8zM105.2,160.7h0.8v0.8h-0.8zM112.7,154.5h0.8v0.8h-0.8zM105.0,157.5h0.8v0.8h-0.8zM107.7,160.3h0.8v0.8h-0.8zM103.8,157.3h0.8v0.8h-0.8zM109.7,161.6h0.8v0.8h-0.8zM108.5,165.2h0.8v0.8h-0.8zM104.4,164.8h0.8v0.8h-0.8zM109.6,148.7h0.8v0.8h-0.8zM106.9,157.9h0.8v0.8h-0.8zM107.5,166.2h0.8v0.8h-0.8zM109.1,152.3h0.8v0.8h-0.8zM114.4,154.4h0.8v0.8h-0.8zM104.7,162.6h0.8v0.8h-0.8zM107.7,150.0h0.8v0.8h-0.8zM103.8,164.4h0.8v0.8h-0.8zM104.9,156.4h0.8v0.8h-0.8zM106.9,154.4h0.8v0.8h-0.8zM105.6,156.8h0.8v0.8h-0.8zM108.6,164.1h0.8v0.8h-0.8zM108.2,147.2h0.8v0.8h-0.8zM103.9,155.5h0.8v0.8h-0.8zM99.7,165.0h0.8v0.8h-0.8zM107.9,156.9h0.8v0.8h-0.8zM104.8,150.7h0.8v0.8h-0.8zM105.2,160.8h0.8v0.8h-0.8zM106.2,160.5h0.8v0.8h-0.8zM111.4,141.9h0.8v0.8h-0.8zM106.0,165.3h0.8v0.8h-0.8zM106.4,156.8h0.8v0.8h-0.8zM108.9,146.8h0.8v0.8h-0.8zM114.2,155.9h0.8v0.8h-0.8zM110.2,152.9h0.8v0.8h-0.8zM110.7,165.2h0.8v0.8h-0.8zM110.3,163.6h0.8v0.8h-0.8zM108.5,166.6h0.8v0.8h-0.8zM109.0,157.2h0.8v0.8h-0.8zM111.2,149.7h0.8v0.8h-0.8zM100.1,161.1h0.8v0.8h-0.8zM109.2,150.9h0.8v0.8h-0.8zM108.2,148.8h0.8v0.8h-0.8zM105.5,157.1h0.8v0.8h-0.8zM107.5,162.3h0.8v0.8h-0.8zM107.1,160.7h0.8v0.8h-0.8zM110.6,151.1h0.8v0.8h-0.8zM104.0,150.3h0.8v0.8h-0.8zM107.8,152.0h0.8v0.8h-0.8zM114.9,151.8h0.8v0.8h-0.8zM110.1,150.6h0.8v0.8h-0.8zM111.2,147.0h0.8v0.8h-0.8zM110.4,157.8h0.8v0.8h-0.8zM108.1,147.0h0.8v0.8h-0.8zM113.2,152.4h0.8v0.8h-0.8zM114.5,138.7h0.8v0.8h-0.8zM102.8,169.1h0.8v0.8h-0.8zM112.9,156.9h0.8v0.8h-0.8zM110.1,161.0h0.8v0.8h-0.8zM106.9,156.9h0.8v0.8h-0.8zM106.2,145.7h0.8v0.8h-0.8zM107.6,161.5h0.8v0.8h-0.8zM109.7,147.0h0.8v0.8h-0.8zM110.3,157.1h0.8v0.8h-0.8zM110.4,154.2h0.8v0.8h-0.8zM106.2,163.8h0.8v0.8h-0.8zM113.1,147.7h0.8v0.8h-0.8zM103.9,162.8h0.8v0.8h-0.8zM108.9,156.6h0.8v0.8h-0.8zM104.2,163.2h0.8v0.8h-0.8zM108.3,157.8h0.8v0.8h-0.8zM109.6,152.4h0.8v0.8h-0.8zM109.0,157.2h0.8v0.8h-0.8zM109.6,159.2h0.8v0.8h-0.8zM105.2,150.3h0.8v0.8h-0.8zM106.0,164.6h0.8v0.8h-0.8zM105.0,164.2h0.8v0.8h-0.8zM110.1,163.0h0.8v0.8h-0.8zM114.3,156.9h0.8v0.8h-0.8zM107.6,165.3h0.8v0.8h-0.8zM108.1,163.6h0.8v0.8h-0.8zM106.2,166.5h0.8v0.8h-0.8zM111.0,142.1h0.8v0.8h-0.8zM111.2,155.1h0.8v0.8h-0.8zM105.8,153.5h0.8v0.8h-0.8zM106.0,164.5h0.8v0.8h-0.8zM109.0,155.7h0.8v0.8h-0.8zM108.9,149.4h0.8v0.8h-0.8zM106.7,152.4h0.8v0.8h-0.8zM108.6,147.4h0.8v0.8h-0.8zM105.8,163.4h0.8v0.8h-0.8zM109.2,156.3h0.8v0.8h-0.8zM109.2,154.4h0.8v0.8h-0.8zM103.8,162.2h0.8v0.8h-0.8zM113.7,160.8h0.8v0.8h-0.8zM107.3,174.6h0.8v0.8h-0.8zM104.1,159.5h0.8v0.8h-0.8zM107.3,153.9h0.8v0.8h-0.8zM103.5,154.9h0.8v0.8h-0.8zM110.8,144.4h0.8v0.8h-0.8zM107.9,152.4h0.8v0.8h-0.8zM104.5,160.4h0.8v0.8h-0.8zM112.1,159.8h0.8v0.8h-0.8zM110.1,162.1h0.8v0.8h-0.8zM107.2,160.4h0.8v0.8h-0.8zM112.1,153.5h0.8v0.8h-0.8zM109.0,145.9h0.8v0.8h-0.8zM103.7,149.3h0.8v0.8h-0.8zM110.1,159.2h0.8v0.8h-0.8zM107.3,165.9h0.8v0.8h-0.8zM101.6,165.6h0.8v0.8h-0.8zM107.4,161.9h0.8v0.8h-0.8zM112.7,150.6h0.8v0.8h-0.8zM105.1,158.8h0.8v0.8h-0.8zM108.4,151.8h0.8v0.8h-0.8zM108.4,150.7h0.8v0.8h-0.8zM108.8,153.3h0.8v0.8h-0.8zM113.8,149.1h0.8v0.8h-0.8zM109.5,156.9h0.8v0.8h-0.8zM113.4,149.6h0.8v0.8h-0.8zM104.9,168.7h0.8v0.8h-0.8zM106.5,153.0h0.8v0.8h-0.8zM107.9,148.7h0.8v0.8h-0.8zM109.8,167.8h0.8v0.8h-0.8zM108.3,150.5h0.8v0.8h-0.8zM103.5,160.5h0.8v0.8h-0.8zM105.9,159.9h0.8v0.8h-0.8zM101.7,152.0h0.8v0.8h-0.8zM109.3,159.4h0.8v0.8h-0.8zM99.7,157.2h0.8v0.8h-0.8zM108.4,156.0h0.8v0.8h-0.8zM107.5,152.7h0.8v0.8h-0.8zM107.9,159.9h0.8v0.8h-0.8zM99.2,154.8h0.8v0.8h-0.8zM110.8,154.8h0.8v0.8h-0.8zM112.4,149.7h0.8v0.8h-0.8zM112.3,163.9h0.8v0.8h-0.8zM104.0,176.2h0.8v0.8h-0.8zM110.4,168.3h0.8v0.8h-0.8zM104.8,154.8h0.8v0.8h-0.8zM108.2,164.0h0.8v0.8h-0.8zM109.5,146.6h0.8v0.8h-0.8zM111.6,155.3h0.8v0.8h-0.8zM109.5,153.9h0.8v0.8h-0.8zM109.1,145.9h0.8v0.8h-0.8zM110.5,151.7h0.8v0.8h-0.8zM102.6,158.4h0.8v0.8h-0.8zM106.9,163.1h0.8v0.8h-0.8zM111.5,147.5h0.8v0.8h-0.8zM107.5,156.0h0.8v0.8h-0.8zM109.3,148.4h0.8v0.8h-0.8zM107.2,163.3h0.8v0.8h-0.8zM109.9,167.3h0.8v0.8h-0.8zM112.7,137.8h0.8v0.8h-0.8zM107.8,152.0h0.8v0.8h-0.8zM98.3,166.3h0.8v0.8h-0.8zM110.5,156.4h0.8v0.8h-0.8zM108.5,159.8h0.8v0.8h-0.8zM106.0,166.1h0.8v0.8h-0.8zM112.2,162.8h0.8v0.8h-0.8zM106.2,157.7h0.8v0.8h-0.8zM110.0,161.8h0.8v0.8h-0.8zM105.1,162.8h0.8v0.8h-0.8zM109.4,160.6h0.8v0.8h-0.8zM106.9,155.7h0.8v0.8h-0.8zM102.7,155.1h0.8v0.8h-0.8zM107.1,153.7h0.8v0.8h-0.8zM107.5,153.6h0.8v0.8h-0.8zM108.1,156.8h0.8v0.8h-0.8zM106.4,154.9h0.8v0.8h-0.8zM107.2,159.7h0.8v0.8h-0.8zM109.6,153.6h0.8v0.8h-0.8zM107.4,143.7h0.8v0.8h-0.8zM104.1,158.6h0.8v0.8h-0.8zM103.8,167.5h0.8v0.8h-0.8zM107.9,153.2h0.8v0.8h-0.8zM108.1,152.0h0.8v0.8h-0.8zM106.2,156.3h0.8v0.8h-0.8zM103.8,156.5h0.8v0.8h-0.8zM108.7,149.4h0.8v0.8h-0.8zM110.5,159.1h0.8v0.8h-0.8zM111.7,151.6h0.8v0.8h-0.8zM105.8,146.9h0.8v0.8h-0.8zM105.6,141.6h0.8v0.8h-0.8zM112.8,153.2h0.8v0.8h-0.8zM109.1,152.2h0.8v0.8h-0.8zM106.0,167.6h0.8v0.8h-0.8zM104.2,148.2h0.8v0.8h-0.8zM109.3,149.5h0.8v0.8h-0.8zM108.6,165.8h0.8v0.8h-0.8zM109.7,161.9h0.8v0.8h-0.8zM106.5,163.4h0.8v0.8h-0.8zM107.0,147.0h0.8v0.8h-0.8zM107.5,154.1h0.8v0.8h-0.8zM112.4,149.3h0.8v0.8h-0.8zM112.0,150.8h0.8v0.8h-0.8zM106.2,143.1h0.8v0.8h-0.8zM109.4,145.5h0.8v0.8h-0.8zM108.5,156.5h0.8v0.8h-0.8zM108.9,141.8h0.8v0.8h-0.8zM106.1,159.1h0.8v0.8h-0.8zM102.3,160.4h0.8v0.8h-0.8zM108.6,152.1h0.8v0.8h-0.8zM107.9,160.9h0.8v0.8h-0.8zM108.7,150.3h0.8v0.8h-0.8zM110.9,151.4h0.8v0.8h-0.8zM108.0,163.3h0.8v0.8h-0.8zM110.0,168.3h0.8v0.8h-0.8zM110.7,157.5h0.8v0.8h-0.8zM107.2,157.4h0.8v0.8h-0.8zM106.4,178.2h0.8v0.8h-0.8zM110.7,150.2h0.8v0.8h-0.8zM113.9,145.0h0.8v0.8h-0.8zM112.1,147.1h0.8v0.8h-0.8zM105.5,151.9h0.8v0.8h-0.8zM108.6,146.0h0.8v0.8h-0.8zM109.8,155.5h0.8v0.8h-0.8zM112.8,149.1h0.8v0.8h-0.8zM102.2,160.4h0.8v0.8h-0.8zM106.4,163.1h0.8v0.8h-0.8zM102.8,146.0h0.8v0.8h-0.8zM106.2,170.4h0.8v0.8h-0.8zM106.5,141.6h0.8v0.8h-0.8zM105.3,166.2h0.8v0.8h-0.8zM113.8,146.7h0.8v0.8h-0.8zM108.2,142.3h0.8v0.8h-0.8zM106.6,148.6h0.8v0.8h-0.8zM108.0,164.6h0.8v0.8h-0.8zM115.0,154.3h0.8v0.8h-0.8zM110.0,158.0h0.8v0.8h-0.8zM106.4,170.3h0.8v0.8h-0.8zM108.3,167.8h0.8v0.8h-0.8zM107.9,162.5h0.8v0.8h-0.8zM109.5,155.5h0.8v0.8h-0.8zM106.5,152.8h0.8v0.8h-0.8zM108.4,153.2h0.8v0.8h-0.8zM107.8,150.7h0.8v0.8h-0.8zM110.6,154.6h0.8v0.8h-0.8zM107.9,154.4h0.8v0.8h-0.8zM112.2,152.6h0.8v0.8h-0.8zM112.8,150.3h0.8v0.8h-0.8zM111.6,161.1h0.8v0.8h-0.8zM106.2,159.2h0.8v0.8h-0.8zM112.1,149.5h0.8v0.8h-0.8zM107.0,158.2h0.8v0.8h-0.8zM107.7,153.8h0.8v0.8h-0.8zM107.7,158.3h0.8v0.8h-0.8zM108.6,167.2h0.8v0.8h-0.8zM104.1,177.5h0.8v0.8h-0.8zM105.3,169.0h0.8v0.8h-0.8zM109.1,145.3h0.8v0.8h-0.8zM107.1,153.3h0.8v0.8h-0.8zM113.1,141.6h0.8v0.8h-0.8zM106.4,154.8h0.8v0.8h-0.8zM109.4,159.2h0.8v0.8h-0.8zM110.5,155.2h0.8v0.8h-0.8zM106.1,164.8h0.8v0.8h-0.8zM112.4,159.5h0.8v0.8h-0.8zM109.3,149.8h0.8v0.8h-0.8zM113.4,159.8h0.8v0.8h-0.8zM111.4,144.5h0.8v0.8h-0.8zM107.2,174.1h0.8v0.8h-0.8zM107.8,154.5h0.8v0.8h-0.8zM112.5,155.3h0.8v0.8h-0.8zM108.3,170.6h0.8v0.8h-0.8zM105.6,149.5h0.8v0.8h-0.8zM109.8,157.2h0.8v0.8h-0.8zM108.3,154.8h0.8v0.8h-0.8zM108.0,158.7h0.8v0.8h-0.8zM107.0,153.8h0.8v0.8h-0.8zM109.8,148.1h0.8v0.8h-0.8zM111.5,140.1h0.8v0.8h-0.8zM109.9,155.4h0.8v0.8h-0.8zM103.4,165.5h0.8v0.8h-0.8zM102.6,170.8h0.8v0.8h-0.8zM104.7,164.7h0.8v0.8h-0.8zM106.2,167.9h0.8v0.8h-0.8zM106.3,163.5h0.8v0.8h-0.8zM109.1,142.1h0.8v0.8h-0.8zM108.6,159.7h0.8v0.8h-0.8zM107.4,168.5h0.8v0.8h-0.8zM107.4,145.2h0.8v0.8h-0.8zM109.4,151.0h0.8v0.8h-0.8zM107.7,156.0h0.8v0.8h-0.8zM104.6,163.7h0.8v0.8h-0.8zM105.8,169.1h0.8v0.8h-0.8zM107.6,163.9h0.8v0.8h-0.8zM107.9,151.1h0.8v0.8h-0.8zM107.5,149.4h0.8v0.8h-0.8zM109.1,157.2h0.8v0.8h-0.8zM106.6,144.3h0.8v0.8h-0.8zM107.5,142.3h0.8v0.8h-0.8zM107.1,144.5h0.8v0.8h-0.8zM111.2,147.8h0.8v0.8h-0.8zM106.5,154.9h0.8v0.8h-0.8zM107.7,159.1h0.8v0.8h-0.8zM109.4,161.1h0.8v0.8h-0.8zM105.8,165.1h0.8v0.8h-0.8zM109.8,151.0h0.8v0.8h-0.8zM113.4,147.9h0.8v0.8h-0.8zM108.0,165.5h0.8v0.8h-0.8zM108.0,158.6h0.8v0.8h-0.8zM107.7,161.0h0.8v0.8h-0.8zM108.6,156.2h0.8v0.8h-0.8zM111.9,142.4h0.8v0.8h-0.8zM109.0,153.9h0.8v0.8h-0.8zM113.1,158.9h0.8v0.8h-0.8zM105.5,160.6h0.8v0.8h-0.8zM108.2,147.2h0.8v0.8h-0.8zM106.7,159.6h0.8v0.8h-0.8zM110.2,164.2h0.8v0.8h-0.8zM108.8,154.9h0.8v0.8h-0.8zM107.3,165.0h0.8v0.8h-0.8zM106.5,164.5h0.8v0.8h-0.8zM105.8,155.6h0.8v0.8h-0.8zM109.4,161.5h0.8v0.8h-0.8zM109.1,152.3h0.8v0.8h-0.8zM103.5,152.1h0.8v0.8h-0.8zM106.1,152.7h0.8v0.8h-0.8zM113.1,151.0h0.8v0.8h-0.8zM110.4,156.2h0.8v0.8h-0.8zM104.9,156.4h0.8v0.8h-0.8zM111.3,147.6h0.8v0.8h-0.8zM105.2,152.8h0.8v0.8h-0.8zM110.6,151.9h0.8v0.8h-0.8zM108.7,159.6h0.8v0.8h-0.8zM107.6,159.3h0.8v0.8h-0.8zM111.7,155.1h0.8v0.8h-0.8zM110.0,148.3h0.8v0.8h-0.8zM106.1,155.0h0.8v0.8h-0.8zM110.9,151.4h0.8v0.8h-0.8zM103.3,162.3h0.8v0.8h-0.8zM117.2,138.0h0.8v0.8h-0.8zM105.0,156.5h0.8v0.8h-0.8zM110.3,149.3h0.8v0.8h-0.8zM107.8,164.2h0.8v0.8h-0.8zM106.5,161.3h0.8v0.8h-0.8zM109.3,149.2h0.8v0.8h-0.8zM107.0,151.3h0.8v0.8h-0.8zM110.4,165.0h0.8v0.8h-0.8zM110.3,144.6h0.8v0.8h-0.8zM107.1,152.9h0.8v0.8h-0.8zM102.8,155.1h0.8v0.8h-0.8zM110.2,146.4h0.8v0.8h-0.8zM107.3,152.5h0.8v0.8h-0.8zM112.4,161.6h0.8v0.8h-0.8zM110.0,156.9h0.8v0.8h-0.8zM103.6,162.3h0.8v0.8h-0.8zM108.2,141.7h0.8v0.8h-0.8zM110.4,153.8h0.8v0.8h-0.8zM107.5,159.8h0.8v0.8h-0.8zM107.0,158.9h0.8v0.8h-0.8zM111.8,154.1h0.8v0.8h-0.8zM107.0,156.0h0.8v0.8h-0.8zM110.2,153.3h0.8v0.8h-0.8zM108.9,151.0h0.8v0.8h-0.8zM107.2,160.0h0.8v0.8h-0.8zM106.0,154.4h0.8v0.8h-0.8zM104.8,150.3h0.8v0.8h-0.8zM107.7,159.9h0.8v0.8h-0.8zM105.3,154.9h0.8v0.8h-0.8zM105.2,158.0h0.8v0.8h-0.8zM108.3,159.4h0.8v0.8h-0.8zM108.9,145.5h0.8v0.8h-0.8zM107.9,146.0h0.8v0.8h-0.8zM106.2,155.3h0.8v0.8h-0.8zM111.6,151.7h0.8v0.8h-0.8zM105.7,157.2h0.8v0.8h-0.8zM100.4,169.8h0.8v0.8h-0.8zM102.8,162.9h0.8v0.8h-0.8zM109.7,163.4h0.8v0.8h-0.8zM107.0,161.3h0.8v0.8h-0.8zM106.1,162.9h0.8v0.8h-0.8zM107.1,149.8h0.8v0.8h-0.8zM109.5,152.8h0.8v0.8h-0.8zM110.7,150.0h0.8v0.8h-0.8zM109.7,148.9h0.8v0.8h-0.8zM105.5,171.7h0.8v0.8h-0.8zM106.4,146.6h0.8v0.8h-0.8zM103.9,153.7h0.8v0.8h-0.8z" fill="#000" fill-opacity="0.35"/>
<ellipse cx="105.6" cy="153.5" rx="2.3" ry="6.8" transform="rotate(6 105.6 153.5)" fill="#151515" filter="url(#blur2)"/>
<ellipse cx="109.6" cy="152" rx="1.3" ry="6.5" transform="rotate(10 109.6 152)" fill="#333" filter="url(#blur2)"/>
<ellipse cx="108.4" cy="155" rx="5.0" ry="12.8" transform="rotate(8 108.4 155)" fill="none" stroke="#333" stroke-width="0.6"/>
<path d="M112.1,173.4h0.8v0.8h-0.8zM110.4,174.4h0.8v0.8h-0.8zM106.4,181.9h0.8v0.8h-0.8zM110.7,168.7h0.8v0.8h-0.8zM105.5,176.4h0.8v0.8h-0.8zM109.7,174.2h0.8v0.8h-0.8zM108.8,176.9h0.8v0.8h-0.8zM107.1,178.4h0.8v0.8h-0.8zM105.9,177.6h0.8v0.8h-0.8zM110.3,175.7h0.8v0.8h-0.8zM107.1,174.9h0.8v0.8h-0.8zM102.4,175.9h0.8v0.8h-0.8zM104.4,168.1h0.8v0.8h-0.8zM109.9,171.9h0.8v0.8h-0.8zM108.9,175.2h0.8v0.8h-0.8zM103.6,171.9h0.8v0.8h-0.8zM107.3,176.6h0.8v0.8h-0.8zM108.2,170.7h0.8v0.8h-0.8zM106.7,175.4h0.8v0.8h-0.8zM104.8,173.5h0.8v0.8h-0.8zM106.6,167.7h0.8v0.8h-0.8zM112.4,178.0h0.8v0.8h-0.8zM106.8,178.3h0.8v0.8h-0.8zM105.4,180.3h0.8v0.8h-0.8zM107.1,175.5h0.8v0.8h-0.8zM106.5,175.3h0.8v0.8h-0.8zM108.8,175.1h0.8v0.8h-0.8zM105.9,177.6h0.8v0.8h-0.8zM109.4,175.0h0.8v0.8h-0.8zM110.7,172.5h0.8v0.8h-0.8zM111.2,174.5h0.8v0.8h-0.8zM111.8,173.5h0.8v0.8h-0.8zM107.4,175.7h0.8v0.8h-0.8zM110.8,180.0h0.8v0.8h-0.8zM106.9,172.5h0.8v0.8h-0.8zM109.9,179.3h0.8v0.8h-0.8zM109.8,173.9h0.8v0.8h-0.8zM111.2,174.9h0.8v0.8h-0.8zM108.4,177.1h0.8v0.8h-0.8zM106.6,167.2h0.8v0.8h-0.8zM108.6,177.5h0.8v0.8h-0.8zM109.1,176.9h0.8v0.8h-0.8zM108.4,178.6h0.8v0.8h-0.8zM108.3,180.1h0.8v0.8h-0.8zM108.1,177.7h0.8v0.8h-0.8zM106.6,176.0h0.8v0.8h-0.8zM109.1,175.5h0.8v0.8h-0.8zM111.9,175.2h0.8v0.8h-0.8zM110.8,176.2h0.8v0.8h-0.8zM110.8,171.9h0.8v0.8h-0.8zM107.1,178.3h0.8v0.8h-0.8zM105.9,176.4h0.8v0.8h-0.8zM109.4,175.7h0.8v0.8h-0.8zM109.1,176.9h0.8v0.8h-0.8zM107.4,176.4h0.8v0.8h-0.8zM106.7,173.4h0.8v0.8h-0.8zM104.0,174.6h0.8v0.8h-0.8zM103.7,175.1h0.8v0.8h-0.8zM108.5,171.3h0.8v0.8h-0.8zM108.2,176.0h0.8v0.8h-0.8zM107.1,171.9h0.8v0.8h-0.8zM107.7,176.4h0.8v0.8h-0.8zM110.3,181.7h0.8v0.8h-0.8zM103.0,176.2h0.8v0.8h-0.8zM109.1,172.8h0.8v0.8h-0.8zM108.8,182.2h0.8v0.8h-0.8zM108.3,179.7h0.8v0.8h-0.8zM110.7,173.5h0.8v0.8h-0.8zM102.2,179.0h0.8v0.8h-0.8zM111.9,168.9h0.8v0.8h-0.8zM107.5,172.6h0.8v0.8h-0.8zM108.5,175.2h0.8v0.8h-0.8zM110.9,173.0h0.8v0.8h-0.8zM112.9,169.1h0.8v0.8h-0.8zM107.8,177.2h0.8v0.8h-0.8zM110.3,173.8h0.8v0.8h-0.8zM103.2,175.7h0.8v0.8h-0.8zM109.8,168.0h0.8v0.8h-0.8zM106.8,176.9h0.8v0.8h-0.8zM102.0,174.3h0.8v0.8h-0.8zM104.0,170.4h0.8v0.8h-0.8zM109.0,178.9h0.8v0.8h-0.8zM110.9,172.7h0.8v0.8h-0.8zM109.3,168.9h0.8v0.8h-0.8zM104.3,176.9h0.8v0.8h-0.8zM107.0,171.5h0.8v0.8h-0.8zM103.3,174.2h0.8v0.8h-0.8zM113.6,168.0h0.8v0.8h-0.8zM105.4,178.9h0.8v0.8h-0.8zM103.2,172.9h0.8v0.8h-0.8zM108.2,178.9h0.8v0.8h-0.8zM107.8,181.3h0.8v0.8h-0.8zM107.9,174.6h0.8v0.8h-0.8zM109.1,176.2h0.8v0.8h-0.8zM104.2,171.7h0.8v0.8h-0.8zM107.4,176.2h0.8v0.8h-0.8zM104.9,172.5h0.8v0.8h-0.8zM106.1,176.2h0.8v0.8h-0.8zM106.9,177.1h0.8v0.8h-0.8zM109.0,171.8h0.8v0.8h-0.8zM107.3,170.7h0.8v0.8h-0.8zM108.3,177.8h0.8v0.8h-0.8zM105.5,168.9h0.8v0.8h-0.8zM109.3,174.0h0.8v0.8h-0.8zM107.9,176.6h0.8v0.8h-0.8zM109.0,178.2h0.8v0.8h-0.8zM106.8,167.4h0.8v0.8h-0.8zM106.8,173.9h0.8v0.8h-0.8z" fill="#000" fill-opacity="0.3"/>
<ellipse cx="108.3" cy="174.5" rx="3.4" ry="4.6" fill="none" stroke="#666" stroke-width="0.6"/>
<ellipse cx="44.20" cy="239.00" rx="6.00" ry="6.50" transform="rotate(15 44.20 239.00)" fill="#8a8a8a" fill-opacity="0.6" filter="url(#blur2)"/>
<path d="M43.2,240.1h0.8v0.8h-0.8zM43.6,242.5h0.8v0.8h-0.8zM42.7,239.0h0.8v0.8h-0.8zM43.3,244.8h0.8v0.8h-0.8zM41.9,236.3h0.8v0.8h-0.8zM43.3,241.1h0.8v0.8h-0.8zM44.2,238.5h0.8v0.8h-0.8zM40.6,233.3h0.8v0.8h-0.8zM43.7,238.4h0.8v0.8h-0.8zM48.5,240.0h0.8v0.8h-0.8zM45.2,241.6h0.8v0.8h-0.8zM42.0,235.6h0.8v0.8h-0.8zM43.3,243.0h0.8v0.8h-0.8zM46.6,237.4h0.8v0.8h-0.8zM41.2,241.5h0.8v0.8h-0.8zM46.9,236.0h0.8v0.8h-0.8zM48.1,236.9h0.8v0.8h-0.8zM46.0,238.4h0.8v0.8h-0.8zM43.4,237.3h0.8v0.8h-0.8zM45.9,240.7h0.8v0.8h-0.8zM46.2,238.2h0.8v0.8h-0.8zM42.1,244.9h0.8v0.8h-0.8zM48.4,238.5h0.8v0.8h-0.8zM41.4,243.1h0.8v0.8h-0.8zM44.5,239.2h0.8v0.8h-0.8zM46.3,240.0h0.8v0.8h-0.8zM44.5,244.4h0.8v0.8h-0.8zM39.6,240.8h0.8v0.8h-0.8zM41.8,239.2h0.8v0.8h-0.8zM43.8,239.7h0.8v0.8h-0.8zM38.3,240.9h0.8v0.8h-0.8zM49.9,237.9h0.8v0.8h-0.8zM46.4,240.7h0.8v0.8h-0.8zM44.9,237.6h0.8v0.8h-0.8zM45.8,239.7h0.8v0.8h-0.8zM47.7,241.3h0.8v0.8h-0.8zM42.5,231.0h0.8v0.8h-0.8zM47.9,240.3h0.8v0.8h-0.8zM44.6,237.3h0.8v0.8h-0.8zM50.3,242.7h0.8v0.8h-0.8zM44.4,238.0h0.8v0.8h-0.8zM45.6,242.7h0.8v0.8h-0.8zM45.5,241.6h0.8v0.8h-0.8zM44.8,240.0h0.8v0.8h-0.8zM41.1,239.3h0.8v0.8h-0.8zM44.3,238.8h0.8v0.8h-0.8zM43.6,239.8h0.8v0.8h-0.8zM42.8,238.5h0.8v0.8h-0.8zM41.0,245.3h0.8v0.8h-0.8zM42.0,235.7h0.8v0.8h-0.8zM42.9,237.9h0.8v0.8h-0.8zM41.6,232.3h0.8v0.8h-0.8zM48.2,241.8h0.8v0.8h-0.8zM43.3,240.5h0.8v0.8h-0.8zM41.5,234.6h0.8v0.8h-0.8zM45.0,240.6h0.8v0.8h-0.8zM42.5,239.0h0.8v0.8h-0.8zM36.6,238.6h0.8v0.8h-0.8zM46.8,239.5h0.8v0.8h-0.8zM44.6,240.6h0.8v0.8h-0.8zM39.1,235.5h0.8v0.8h-0.8zM41.1,239.7h0.8v0.8h-0.8zM42.6,233.8h0.8v0.8h-0.8zM46.4,238.5h0.8v0.8h-0.8zM46.7,244.5h0.8v0.8h-0.8zM40.1,235.5h0.8v0.8h-0.8zM46.9,242.9h0.8v0.8h-0.8zM45.2,240.0h0.8v0.8h-0.8zM45.9,240.8h0.8v0.8h-0.8zM41.0,241.0h0.8v0.8h-0.8zM46.6,237.9h0.8v0.8h-0.8zM41.9,237.7h0.8v0.8h-0.8zM42.7,240.4h0.8v0.8h-0.8zM46.1,239.1h0.8v0.8h-0.8zM43.4,234.1h0.8v0.8h-0.8zM43.1,236.3h0.8v0.8h-0.8zM42.8,239.9h0.8v0.8h-0.8zM44.6,248.6h0.8v0.8h-0.8zM42.0,237.5h0.8v0.8h-0.8zM41.4,238.3h0.8v0.8h-0.8zM43.5,241.8h0.8v0.8h-0.8zM39.4,241.5h0.8v0.8h-0.8zM45.8,237.6h0.8v0.8h-0.8zM42.5,239.5h0.8v0.8h-0.8zM45.5,238.6h0.8v0.8h-0.8zM43.8,239.0h0.8v0.8h-0.8zM41.5,239.7h0.8v0.8h-0.8zM45.6,239.1h0.8v0.8h-0.8zM41.4,239.0h0.8v0.8h-0.8zM43.9,239.9h0.8v0.8h-0.8zM43.2,241.3h0.8v0.8h-0.8zM46.9,241.3h0.8v0.8h-0.8zM44.8,242.3h0.8v0.8h-0.8zM44.1,238.5h0.8v0.8h-0.8zM40.6,239.1h0.8v0.8h-0.8zM47.2,236.4h0.8v0.8h-0.8zM46.1,235.5h0.8v0.8h-0.8zM44.9,244.0h0.8v0.8h-0.8zM44.3,235.8h0.8v0.8h-0.8zM44.9,238.6h0.8v0.8h-0.8zM46.2,237.6h0.8v0.8h-0.8zM39.9,237.7h0.8v0.8h-0.8zM45.7,241.8h0.8v0.8h-0.8zM44.9,239.1h0.8v0.8h-0.8zM45.9,238.5h0.8v0.8h-0.8zM43.1,239.6h0.8v0.8h-0.8zM46.9,237.6h0.8v0.8h-0.8zM45.4,237.3h0.8v0.8h-0.8zM42.4,239.5h0.8v0.8h-0.8zM40.9,236.7h0.8v0.8h-0.8zM41.2,237.4h0.8v0.8h-0.8zM41.9,245.3h0.8v0.8h-0.8zM45.7,239.2h0.8v0.8h-0.8zM40.9,232.6h0.8v0.8h-0.8zM45.3,237.3h0.8v0.8h-0.8zM46.8,237.9h0.8v0.8h-0.8zM40.9,237.3h0.8v0.8h-0.8zM40.4,235.2h0.8v0.8h-0.8zM46.0,237.6h0.8v0.8h-0.8zM45.9,237.5h0.8v0.8h-0.8zM43.6,237.5h0.8v0.8h-0.8zM42.8,237.2h0.8v0.8h-0.8zM47.9,238.9h0.8v0.8h-0.8zM39.3,243.6h0.8v0.8h-0.8zM47.3,242.0h0.8v0.8h-0.8zM43.9,238.6h0.8v0.8h-0.8zM43.0,239.3h0.8v0.8h-0.8zM45.3,239.0h0.8v0.8h-0.8zM42.1,236.4h0.8v0.8h-0.8zM48.3,243.5h0.8v0.8h-0.8zM41.1,237.3h0.8v0.8h-0.8zM44.1,240.6h0.8v0.8h-0.8zM43.9,239.6h0.8v0.8h-0.8zM45.1,242.1h0.8v0.8h-0.8zM40.9,242.0h0.8v0.8h-0.8zM45.3,240.5h0.8v0.8h-0.8zM40.4,238.4h0.8v0.8h-0.8zM43.5,240.7h0.8v0.8h-0.8zM45.9,240.9h0.8v0.8h-0.8zM41.0,242.4h0.8v0.8h-0.8zM44.3,241.5h0.8v0.8h-0.8zM44.1,237.1h0.8v0.8h-0.8zM50.7,240.8h0.8v0.8h-0.8zM46.1,237.8h0.8v0.8h-0.8zM43.6,242.0h0.8v0.8h-0.8zM45.3,243.7h0.8v0.8h-0.8zM47.2,236.1h0.8v0.8h-0.8zM40.3,242.1h0.8v0.8h-0.8zM45.7,238.3h0.8v0.8h-0.8zM43.4,237.5h0.8v0.8h-0.8zM48.6,238.6h0.8v0.8h-0.8zM40.7,241.4h0.8v0.8h-0.8zM44.0,240.0h0.8v0.8h-0.8zM43.2,238.9h0.8v0.8h-0.8zM39.5,240.4h0.8v0.8h-0.8zM42.5,238.0h0.8v0.8h-0.8zM45.0,242.4h0.8v0.8h-0.8zM38.8,238.7h0.8v0.8h-0.8zM45.5,241.7h0.8v0.8h-0.8zM41.9,239.9h0.8v0.8h-0.8zM45.2,241.5h0.8v0.8h-0.8zM42.6,238.5h0.8v0.8h-0.8zM42.9,242.0h0.8v0.8h-0.8zM46.9,237.8h0.8v0.8h-0.8zM43.8,239.6h0.8v0.8h-0.8zM41.9,238.7h0.8v0.8h-0.8zM46.3,241.1h0.8v0.8h-0.8zM42.5,237.3h0.8v0.8h-0.8zM43.9,235.1h0.8v0.8h-0.8zM44.9,239.3h0.8v0.8h-0.8zM40.8,238.4h0.8v0.8h-0.8zM42.5,238.3h0.8v0.8h-0.8zM42.0,242.6h0.8v0.8h-0.8zM41.8,241.0h0.8v0.8h-0.8zM44.7,242.8h0.8v0.8h-0.8zM44.0,239.0h0.8v0.8h-0.8zM44.3,234.0h0.8v0.8h-0.8zM50.2,238.5h0.8v0.8h-0.8zM43.4,236.1h0.8v0.8h-0.8zM43.8,243.3h0.8v0.8h-0.8zM42.3,240.2h0.8v0.8h-0.8zM46.7,241.5h0.8v0.8h-0.8zM43.1,234.4h0.8v0.8h-0.8zM45.2,240.5h0.8v0.8h-0.8zM43.3,237.9h0.8v0.8h-0.8zM48.5,234.9h0.8v0.8h-0.8zM42.9,237.4h0.8v0.8h-0.8zM40.3,237.2h0.8v0.8h-0.8zM42.2,242.3h0.8v0.8h-0.8zM39.8,235.4h0.8v0.8h-0.8zM44.8,235.0h0.8v0.8h-0.8zM39.2,237.4h0.8v0.8h-0.8zM41.1,236.5h0.8v0.8h-0.8zM43.8,240.2h0.8v0.8h-0.8zM42.5,238.3h0.8v0.8h-0.8zM45.9,238.6h0.8v0.8h-0.8zM46.0,237.5h0.8v0.8h-0.8zM45.4,242.4h0.8v0.8h-0.8zM40.7,246.9h0.8v0.8h-0.8zM43.3,238.1h0.8v0.8h-0.8z" fill="#000" fill-opacity="0.35"/>
<ellipse cx="44.20" cy="239.00" rx="5.25" ry="5.75" transform="rotate(15 44.20 239.00)" fill="none" stroke="#444" stroke-width="0.7"/>
<ellipse cx="44.20" cy="239.00" rx="3.10" ry="3.60" transform="rotate(15 44.20 239.00)" fill="none" stroke="#151515" stroke-width="1.6"/>
<ellipse cx="44.00" cy="239.20" rx="1.10" ry="1.50" fill="#333"/>
<path d="M46.9,222.1h0.8v0.8h-0.8zM46.8,226.2h0.8v0.8h-0.8zM44.7,222.2h0.8v0.8h-0.8zM43.7,230.6h0.8v0.8h-0.8zM45.3,228.6h0.8v0.8h-0.8zM47.7,213.3h0.8v0.8h-0.8zM49.0,220.4h0.8v0.8h-0.8zM46.2,226.3h0.8v0.8h-0.8zM46.3,230.9h0.8v0.8h-0.8zM45.4,231.7h0.8v0.8h-0.8zM44.9,212.7h0.8v0.8h-0.8zM42.8,223.6h0.8v0.8h-0.8zM45.7,231.6h0.8v0.8h-0.8zM43.8,221.4h0.8v0.8h-0.8zM47.0,218.4h0.8v0.8h-0.8zM46.5,226.1h0.8v0.8h-0.8zM44.9,219.2h0.8v0.8h-0.8zM45.4,221.9h0.8v0.8h-0.8zM46.8,228.4h0.8v0.8h-0.8zM46.8,217.6h0.8v0.8h-0.8zM46.6,231.5h0.8v0.8h-0.8zM49.9,231.9h0.8v0.8h-0.8zM44.9,232.6h0.8v0.8h-0.8zM47.3,215.3h0.8v0.8h-0.8zM45.3,232.6h0.8v0.8h-0.8zM45.2,217.8h0.8v0.8h-0.8zM43.7,216.7h0.8v0.8h-0.8zM49.1,230.2h0.8v0.8h-0.8zM45.6,222.4h0.8v0.8h-0.8zM45.3,226.5h0.8v0.8h-0.8zM48.7,223.7h0.8v0.8h-0.8zM47.3,228.3h0.8v0.8h-0.8zM43.7,232.9h0.8v0.8h-0.8zM44.1,217.4h0.8v0.8h-0.8zM47.2,225.3h0.8v0.8h-0.8zM44.1,228.0h0.8v0.8h-0.8zM45.3,225.0h0.8v0.8h-0.8zM45.7,220.0h0.8v0.8h-0.8zM45.9,219.1h0.8v0.8h-0.8zM45.8,229.7h0.8v0.8h-0.8zM44.3,232.9h0.8v0.8h-0.8zM43.0,219.7h0.8v0.8h-0.8zM42.7,231.0h0.8v0.8h-0.8zM47.4,220.4h0.8v0.8h-0.8zM44.4,221.8h0.8v0.8h-0.8zM45.3,220.9h0.8v0.8h-0.8zM46.8,229.3h0.8v0.8h-0.8zM40.5,228.2h0.8v0.8h-0.8zM43.5,222.9h0.8v0.8h-0.8zM45.9,227.2h0.8v0.8h-0.8zM41.0,231.9h0.8v0.8h-0.8zM43.8,225.3h0.8v0.8h-0.8zM46.9,224.8h0.8v0.8h-0.8zM45.8,225.4h0.8v0.8h-0.8zM45.0,212.0h0.8v0.8h-0.8zM45.8,221.1h0.8v0.8h-0.8zM46.3,231.5h0.8v0.8h-0.8zM45.1,227.2h0.8v0.8h-0.8zM46.8,225.5h0.8v0.8h-0.8zM46.0,226.3h0.8v0.8h-0.8zM45.0,224.4h0.8v0.8h-0.8zM45.2,227.6h0.8v0.8h-0.8zM46.3,227.5h0.8v0.8h-0.8zM47.9,232.2h0.8v0.8h-0.8zM43.8,231.6h0.8v0.8h-0.8zM44.0,229.6h0.8v0.8h-0.8zM45.1,224.9h0.8v0.8h-0.8zM43.9,226.6h0.8v0.8h-0.8zM43.3,229.4h0.8v0.8h-0.8zM44.4,223.6h0.8v0.8h-0.8zM44.5,222.9h0.8v0.8h-0.8zM44.0,224.7h0.8v0.8h-0.8zM44.9,223.5h0.8v0.8h-0.8zM48.1,231.4h0.8v0.8h-0.8zM44.5,219.4h0.8v0.8h-0.8zM43.7,227.9h0.8v0.8h-0.8zM45.3,228.4h0.8v0.8h-0.8zM45.6,223.2h0.8v0.8h-0.8zM42.8,226.1h0.8v0.8h-0.8zM42.5,228.3h0.8v0.8h-0.8zM43.6,228.2h0.8v0.8h-0.8zM47.4,217.5h0.8v0.8h-0.8zM43.4,231.5h0.8v0.8h-0.8zM45.6,228.8h0.8v0.8h-0.8zM46.4,226.4h0.8v0.8h-0.8zM45.5,215.1h0.8v0.8h-0.8zM45.7,227.3h0.8v0.8h-0.8zM46.9,233.0h0.8v0.8h-0.8zM45.1,226.2h0.8v0.8h-0.8zM46.8,220.1h0.8v0.8h-0.8z" fill="#000" fill-opacity="0.45"/>
<ellipse cx="106.40" cy="239.60" rx="6.72" ry="7.28" transform="rotate(10 106.40 239.60)" fill="#8a8a8a" fill-opacity="0.6" filter="url(#blur2)"/>
<path d="M106.4,241.3h0.8v0.8h-0.8zM110.9,238.9h0.8v0.8h-0.8zM105.5,240.7h0.8v0.8h-0.8zM112.2,238.6h0.8v0.8h-0.8zM111.1,243.1h0.8v0.8h-0.8zM98.7,236.8h0.8v0.8h-0.8zM103.6,240.8h0.8v0.8h-0.8zM110.1,239.8h0.8v0.8h-0.8zM106.8,245.9h0.8v0.8h-0.8zM107.3,245.9h0.8v0.8h-0.8zM103.9,244.4h0.8v0.8h-0.8zM104.9,232.6h0.8v0.8h-0.8zM104.0,238.3h0.8v0.8h-0.8zM106.2,241.8h0.8v0.8h-0.8zM108.3,241.2h0.8v0.8h-0.8zM104.3,244.8h0.8v0.8h-0.8zM109.7,239.8h0.8v0.8h-0.8zM104.8,239.5h0.8v0.8h-0.8zM105.7,237.6h0.8v0.8h-0.8zM106.3,237.7h0.8v0.8h-0.8zM108.2,237.8h0.8v0.8h-0.8zM107.7,240.6h0.8v0.8h-0.8zM106.8,241.2h0.8v0.8h-0.8zM103.5,247.1h0.8v0.8h-0.8zM104.4,241.8h0.8v0.8h-0.8zM106.4,238.4h0.8v0.8h-0.8zM111.2,242.9h0.8v0.8h-0.8zM105.6,241.3h0.8v0.8h-0.8zM108.3,244.2h0.8v0.8h-0.8zM109.2,239.2h0.8v0.8h-0.8zM105.7,236.3h0.8v0.8h-0.8zM107.1,242.2h0.8v0.8h-0.8zM105.3,241.6h0.8v0.8h-0.8zM106.7,238.3h0.8v0.8h-0.8zM103.0,242.9h0.8v0.8h-0.8zM113.4,241.2h0.8v0.8h-0.8zM103.3,236.6h0.8v0.8h-0.8zM107.1,241.5h0.8v0.8h-0.8zM110.6,232.6h0.8v0.8h-0.8zM111.5,240.1h0.8v0.8h-0.8zM106.7,240.8h0.8v0.8h-0.8zM105.4,238.8h0.8v0.8h-0.8zM109.3,234.6h0.8v0.8h-0.8zM106.0,241.3h0.8v0.8h-0.8zM101.8,239.2h0.8v0.8h-0.8zM110.6,240.7h0.8v0.8h-0.8zM108.3,241.7h0.8v0.8h-0.8zM107.0,240.7h0.8v0.8h-0.8zM104.1,239.0h0.8v0.8h-0.8zM111.5,236.1h0.8v0.8h-0.8zM105.9,236.0h0.8v0.8h-0.8zM104.9,237.4h0.8v0.8h-0.8zM102.9,240.4h0.8v0.8h-0.8zM103.7,241.2h0.8v0.8h-0.8zM111.4,232.2h0.8v0.8h-0.8zM105.9,233.5h0.8v0.8h-0.8zM106.0,240.7h0.8v0.8h-0.8zM107.0,243.2h0.8v0.8h-0.8zM106.8,234.6h0.8v0.8h-0.8zM110.6,236.9h0.8v0.8h-0.8zM106.1,240.6h0.8v0.8h-0.8zM103.9,239.9h0.8v0.8h-0.8zM110.6,234.7h0.8v0.8h-0.8zM101.7,238.3h0.8v0.8h-0.8zM105.9,235.9h0.8v0.8h-0.8zM99.9,242.3h0.8v0.8h-0.8zM107.5,235.8h0.8v0.8h-0.8zM108.0,239.5h0.8v0.8h-0.8zM106.8,235.7h0.8v0.8h-0.8zM105.8,241.0h0.8v0.8h-0.8zM101.5,236.6h0.8v0.8h-0.8zM109.1,245.5h0.8v0.8h-0.8zM108.2,239.4h0.8v0.8h-0.8zM103.3,238.5h0.8v0.8h-0.8zM105.7,240.9h0.8v0.8h-0.8zM105.7,246.9h0.8v0.8h-0.8zM110.1,233.2h0.8v0.8h-0.8zM103.1,239.6h0.8v0.8h-0.8zM109.1,240.8h0.8v0.8h-0.8zM98.7,234.8h0.8v0.8h-0.8zM110.2,241.4h0.8v0.8h-0.8zM113.6,242.0h0.8v0.8h-0.8zM107.7,244.1h0.8v0.8h-0.8zM105.1,238.0h0.8v0.8h-0.8zM103.5,240.4h0.8v0.8h-0.8zM107.6,242.4h0.8v0.8h-0.8zM110.4,241.5h0.8v0.8h-0.8zM109.8,238.9h0.8v0.8h-0.8zM103.7,241.8h0.8v0.8h-0.8zM109.2,243.6h0.8v0.8h-0.8zM105.9,238.3h0.8v0.8h-0.8zM105.4,240.7h0.8v0.8h-0.8zM106.3,239.1h0.8v0.8h-0.8zM107.1,238.8h0.8v0.8h-0.8zM107.3,237.9h0.8v0.8h-0.8zM102.1,238.7h0.8v0.8h-0.8zM111.7,237.2h0.8v0.8h-0.8zM109.0,243.6h0.8v0.8h-0.8zM104.9,240.4h0.8v0.8h-0.8zM100.0,241.3h0.8v0.8h-0.8zM110.7,240.2h0.8v0.8h-0.8zM100.8,237.9h0.8v0.8h-0.8zM104.3,240.0h0.8v0.8h-0.8zM107.2,238.4h0.8v0.8h-0.8zM105.5,237.2h0.8v0.8h-0.8zM108.0,240.2h0.8v0.8h-0.8zM107.4,238.1h0.8v0.8h-0.8zM107.8,238.7h0.8v0.8h-0.8zM107.2,239.2h0.8v0.8h-0.8zM104.5,236.4h0.8v0.8h-0.8zM101.2,235.6h0.8v0.8h-0.8zM107.7,249.3h0.8v0.8h-0.8zM101.8,237.2h0.8v0.8h-0.8zM106.4,250.2h0.8v0.8h-0.8zM105.8,236.2h0.8v0.8h-0.8zM107.6,245.8h0.8v0.8h-0.8zM98.5,236.2h0.8v0.8h-0.8zM109.9,236.2h0.8v0.8h-0.8zM106.1,237.8h0.8v0.8h-0.8zM108.5,235.3h0.8v0.8h-0.8zM107.3,240.3h0.8v0.8h-0.8zM108.0,240.9h0.8v0.8h-0.8zM106.8,234.4h0.8v0.8h-0.8zM105.5,236.8h0.8v0.8h-0.8zM107.9,238.9h0.8v0.8h-0.8zM106.8,242.9h0.8v0.8h-0.8zM106.1,244.6h0.8v0.8h-0.8zM108.7,235.2h0.8v0.8h-0.8zM104.8,243.2h0.8v0.8h-0.8zM105.0,243.2h0.8v0.8h-0.8zM104.8,239.3h0.8v0.8h-0.8zM109.3,234.9h0.8v0.8h-0.8zM106.6,238.3h0.8v0.8h-0.8zM106.9,244.7h0.8v0.8h-0.8zM107.8,235.6h0.8v0.8h-0.8zM109.1,238.3h0.8v0.8h-0.8zM106.9,243.1h0.8v0.8h-0.8zM105.5,242.5h0.8v0.8h-0.8zM106.9,236.9h0.8v0.8h-0.8zM105.5,235.6h0.8v0.8h-0.8zM109.7,240.1h0.8v0.8h-0.8zM109.1,236.3h0.8v0.8h-0.8zM108.8,236.1h0.8v0.8h-0.8zM107.2,239.6h0.8v0.8h-0.8zM104.7,240.5h0.8v0.8h-0.8zM106.5,237.0h0.8v0.8h-0.8zM104.3,235.7h0.8v0.8h-0.8zM110.2,240.1h0.8v0.8h-0.8zM105.4,241.7h0.8v0.8h-0.8zM104.0,236.1h0.8v0.8h-0.8zM107.4,244.3h0.8v0.8h-0.8zM107.2,240.1h0.8v0.8h-0.8zM111.3,235.0h0.8v0.8h-0.8zM115.0,236.3h0.8v0.8h-0.8zM106.2,235.6h0.8v0.8h-0.8zM103.0,238.9h0.8v0.8h-0.8zM113.2,236.8h0.8v0.8h-0.8zM104.7,240.4h0.8v0.8h-0.8zM103.5,238.8h0.8v0.8h-0.8zM108.7,233.1h0.8v0.8h-0.8zM105.6,238.7h0.8v0.8h-0.8zM105.0,239.3h0.8v0.8h-0.8zM101.4,238.3h0.8v0.8h-0.8zM104.9,236.5h0.8v0.8h-0.8zM109.9,245.6h0.8v0.8h-0.8zM108.6,237.0h0.8v0.8h-0.8zM110.4,241.1h0.8v0.8h-0.8zM104.1,241.4h0.8v0.8h-0.8zM104.8,241.3h0.8v0.8h-0.8zM109.0,243.0h0.8v0.8h-0.8zM103.4,239.2h0.8v0.8h-0.8zM106.4,236.0h0.8v0.8h-0.8zM107.6,241.7h0.8v0.8h-0.8zM102.5,238.0h0.8v0.8h-0.8zM103.3,235.8h0.8v0.8h-0.8zM103.4,243.7h0.8v0.8h-0.8zM104.5,238.4h0.8v0.8h-0.8zM109.2,242.7h0.8v0.8h-0.8zM110.3,233.4h0.8v0.8h-0.8zM108.5,234.4h0.8v0.8h-0.8zM104.6,238.4h0.8v0.8h-0.8zM104.8,245.5h0.8v0.8h-0.8zM105.9,243.1h0.8v0.8h-0.8zM105.9,239.4h0.8v0.8h-0.8zM107.8,240.9h0.8v0.8h-0.8zM107.8,234.4h0.8v0.8h-0.8zM107.8,240.6h0.8v0.8h-0.8zM108.1,239.4h0.8v0.8h-0.8zM107.5,235.7h0.8v0.8h-0.8zM109.6,236.0h0.8v0.8h-0.8zM110.3,242.6h0.8v0.8h-0.8zM106.2,238.7h0.8v0.8h-0.8zM108.6,238.7h0.8v0.8h-0.8zM103.1,240.4h0.8v0.8h-0.8zM103.0,238.2h0.8v0.8h-0.8zM111.4,242.0h0.8v0.8h-0.8zM105.1,239.4h0.8v0.8h-0.8zM104.6,239.6h0.8v0.8h-0.8zM102.3,241.6h0.8v0.8h-0.8zM106.4,237.8h0.8v0.8h-0.8z" fill="#000" fill-opacity="0.35"/>
<ellipse cx="106.40" cy="239.60" rx="5.88" ry="6.44" transform="rotate(10 106.40 239.60)" fill="none" stroke="#444" stroke-width="0.7"/>
<ellipse cx="106.40" cy="239.60" rx="3.47" ry="4.03" transform="rotate(10 106.40 239.60)" fill="none" stroke="#151515" stroke-width="1.6"/>
<ellipse cx="106.20" cy="239.80" rx="1.23" ry="1.68" fill="#333"/>
<path d="M110.1,219.6h0.8v0.8h-0.8zM105.8,216.7h0.8v0.8h-0.8zM106.5,226.6h0.8v0.8h-0.8zM107.6,227.5h0.8v0.8h-0.8zM108.9,214.1h0.8v0.8h-0.8zM110.0,232.5h0.8v0.8h-0.8zM106.5,212.2h0.8v0.8h-0.8zM105.2,211.7h0.8v0.8h-0.8zM110.2,208.8h0.8v0.8h-0.8zM107.1,231.6h0.8v0.8h-0.8zM106.9,208.5h0.8v0.8h-0.8zM107.2,222.5h0.8v0.8h-0.8zM108.2,220.5h0.8v0.8h-0.8zM110.7,213.8h0.8v0.8h-0.8zM109.1,227.0h0.8v0.8h-0.8zM109.3,214.8h0.8v0.8h-0.8zM108.5,217.0h0.8v0.8h-0.8zM106.4,223.4h0.8v0.8h-0.8zM110.1,227.5h0.8v0.8h-0.8zM106.5,214.3h0.8v0.8h-0.8zM105.0,227.6h0.8v0.8h-0.8zM103.2,222.0h0.8v0.8h-0.8zM109.9,230.2h0.8v0.8h-0.8zM107.9,225.3h0.8v0.8h-0.8zM106.9,231.8h0.8v0.8h-0.8zM104.5,221.9h0.8v0.8h-0.8zM105.8,226.3h0.8v0.8h-0.8zM107.2,232.9h0.8v0.8h-0.8zM107.5,223.5h0.8v0.8h-0.8zM107.5,208.7h0.8v0.8h-0.8zM108.9,231.6h0.8v0.8h-0.8zM109.5,232.2h0.8v0.8h-0.8zM104.5,229.4h0.8v0.8h-0.8zM105.2,227.7h0.8v0.8h-0.8zM107.1,230.0h0.8v0.8h-0.8zM108.4,222.6h0.8v0.8h-0.8zM109.4,226.4h0.8v0.8h-0.8zM104.3,219.1h0.8v0.8h-0.8zM107.3,228.6h0.8v0.8h-0.8zM107.4,208.1h0.8v0.8h-0.8zM103.7,225.9h0.8v0.8h-0.8zM105.0,225.5h0.8v0.8h-0.8zM107.3,216.8h0.8v0.8h-0.8zM110.0,222.4h0.8v0.8h-0.8zM109.2,224.4h0.8v0.8h-0.8zM104.8,228.9h0.8v0.8h-0.8zM105.7,211.8h0.8v0.8h-0.8zM106.6,217.1h0.8v0.8h-0.8zM105.4,216.8h0.8v0.8h-0.8zM107.7,232.0h0.8v0.8h-0.8zM106.2,219.9h0.8v0.8h-0.8zM107.5,221.6h0.8v0.8h-0.8zM100.6,229.6h0.8v0.8h-0.8zM104.8,226.7h0.8v0.8h-0.8zM101.7,227.2h0.8v0.8h-0.8zM108.8,223.4h0.8v0.8h-0.8zM107.2,215.1h0.8v0.8h-0.8zM110.7,211.6h0.8v0.8h-0.8zM103.8,216.5h0.8v0.8h-0.8zM103.5,223.7h0.8v0.8h-0.8zM103.2,227.3h0.8v0.8h-0.8zM108.0,210.5h0.8v0.8h-0.8zM110.0,222.6h0.8v0.8h-0.8zM105.9,220.9h0.8v0.8h-0.8zM109.6,226.8h0.8v0.8h-0.8zM106.0,222.7h0.8v0.8h-0.8zM107.7,230.2h0.8v0.8h-0.8zM104.9,227.6h0.8v0.8h-0.8zM103.6,219.9h0.8v0.8h-0.8zM110.3,221.5h0.8v0.8h-0.8zM100.6,231.7h0.8v0.8h-0.8zM106.9,214.8h0.8v0.8h-0.8zM111.7,222.4h0.8v0.8h-0.8zM107.7,231.3h0.8v0.8h-0.8zM99.4,224.2h0.8v0.8h-0.8zM108.1,222.0h0.8v0.8h-0.8zM110.3,220.1h0.8v0.8h-0.8zM111.5,229.9h0.8v0.8h-0.8zM105.8,225.0h0.8v0.8h-0.8zM101.1,227.6h0.8v0.8h-0.8zM103.5,214.0h0.8v0.8h-0.8zM102.0,223.9h0.8v0.8h-0.8zM105.4,222.9h0.8v0.8h-0.8zM105.2,217.9h0.8v0.8h-0.8zM107.9,227.8h0.8v0.8h-0.8zM106.4,227.6h0.8v0.8h-0.8zM108.1,224.5h0.8v0.8h-0.8zM106.9,220.1h0.8v0.8h-0.8zM108.4,228.1h0.8v0.8h-0.8zM108.5,226.8h0.8v0.8h-0.8zM112.0,229.1h0.8v0.8h-0.8zM106.4,216.9h0.8v0.8h-0.8zM103.7,225.6h0.8v0.8h-0.8zM104.3,226.3h0.8v0.8h-0.8zM106.8,221.9h0.8v0.8h-0.8zM110.9,231.1h0.8v0.8h-0.8zM102.6,227.9h0.8v0.8h-0.8zM101.0,218.7h0.8v0.8h-0.8zM108.4,225.9h0.8v0.8h-0.8zM103.6,206.7h0.8v0.8h-0.8zM107.3,224.7h0.8v0.8h-0.8zM104.8,222.2h0.8v0.8h-0.8zM102.9,232.7h0.8v0.8h-0.8zM107.5,226.3h0.8v0.8h-0.8zM100.5,230.7h0.8v0.8h-0.8zM108.2,228.3h0.8v0.8h-0.8zM104.8,222.3h0.8v0.8h-0.8zM105.2,211.3h0.8v0.8h-0.8zM108.7,224.1h0.8v0.8h-0.8zM107.2,230.6h0.8v0.8h-0.8zM107.1,232.6h0.8v0.8h-0.8zM108.0,221.2h0.8v0.8h-0.8zM109.6,223.4h0.8v0.8h-0.8zM110.1,215.8h0.8v0.8h-0.8zM105.9,225.2h0.8v0.8h-0.8zM110.0,214.3h0.8v0.8h-0.8zM106.8,224.3h0.8v0.8h-0.8zM106.1,216.9h0.8v0.8h-0.8zM108.4,212.4h0.8v0.8h-0.8zM103.2,218.4h0.8v0.8h-0.8zM108.1,231.5h0.8v0.8h-0.8zM109.5,228.7h0.8v0.8h-0.8zM107.3,226.4h0.8v0.8h-0.8zM106.8,216.6h0.8v0.8h-0.8zM108.5,232.2h0.8v0.8h-0.8zM105.3,211.1h0.8v0.8h-0.8zM108.4,227.0h0.8v0.8h-0.8zM112.4,231.8h0.8v0.8h-0.8zM107.3,229.6h0.8v0.8h-0.8zM101.5,230.4h0.8v0.8h-0.8zM106.4,221.9h0.8v0.8h-0.8zM106.0,228.1h0.8v0.8h-0.8zM111.3,223.3h0.8v0.8h-0.8zM106.0,223.5h0.8v0.8h-0.8zM103.1,228.3h0.8v0.8h-0.8zM104.9,207.9h0.8v0.8h-0.8zM106.3,217.9h0.8v0.8h-0.8zM111.1,231.7h0.8v0.8h-0.8zM106.7,226.9h0.8v0.8h-0.8zM102.9,215.4h0.8v0.8h-0.8zM102.7,218.7h0.8v0.8h-0.8zM104.3,222.7h0.8v0.8h-0.8zM105.2,228.1h0.8v0.8h-0.8zM108.4,216.2h0.8v0.8h-0.8zM105.4,222.6h0.8v0.8h-0.8zM105.8,231.9h0.8v0.8h-0.8zM106.3,207.9h0.8v0.8h-0.8zM103.8,232.1h0.8v0.8h-0.8zM110.5,219.6h0.8v0.8h-0.8zM107.2,221.8h0.8v0.8h-0.8zM104.9,230.2h0.8v0.8h-0.8zM103.8,227.5h0.8v0.8h-0.8zM105.6,227.9h0.8v0.8h-0.8zM108.1,227.4h0.8v0.8h-0.8zM108.1,225.8h0.8v0.8h-0.8zM107.0,223.0h0.8v0.8h-0.8zM104.1,213.2h0.8v0.8h-0.8zM106.1,219.8h0.8v0.8h-0.8zM106.4,229.1h0.8v0.8h-0.8zM105.5,226.3h0.8v0.8h-0.8zM99.7,232.9h0.8v0.8h-0.8zM101.9,218.1h0.8v0.8h-0.8zM105.6,217.8h0.8v0.8h-0.8zM108.1,215.8h0.8v0.8h-0.8zM101.7,218.7h0.8v0.8h-0.8zM106.5,229.4h0.8v0.8h-0.8zM106.9,210.6h0.8v0.8h-0.8zM102.8,219.0h0.8v0.8h-0.8zM107.3,207.7h0.8v0.8h-0.8zM105.4,218.7h0.8v0.8h-0.8zM108.3,220.0h0.8v0.8h-0.8zM99.7,231.7h0.8v0.8h-0.8zM108.4,230.7h0.8v0.8h-0.8zM104.3,211.5h0.8v0.8h-0.8zM107.3,218.2h0.8v0.8h-0.8zM107.5,215.0h0.8v0.8h-0.8zM108.6,220.4h0.8v0.8h-0.8zM107.3,230.8h0.8v0.8h-0.8zM101.4,218.4h0.8v0.8h-0.8zM106.2,208.7h0.8v0.8h-0.8zM105.8,228.7h0.8v0.8h-0.8zM106.3,231.3h0.8v0.8h-0.8zM112.5,229.8h0.8v0.8h-0.8zM110.8,226.0h0.8v0.8h-0.8zM106.7,227.0h0.8v0.8h-0.8zM107.2,228.3h0.8v0.8h-0.8zM106.8,228.4h0.8v0.8h-0.8zM107.2,225.9h0.8v0.8h-0.8zM103.5,220.1h0.8v0.8h-0.8zM111.2,225.7h0.8v0.8h-0.8zM105.3,214.3h0.8v0.8h-0.8zM102.3,225.8h0.8v0.8h-0.8zM102.2,232.3h0.8v0.8h-0.8zM107.0,211.5h0.8v0.8h-0.8zM105.6,220.0h0.8v0.8h-0.8zM109.3,224.7h0.8v0.8h-0.8zM106.2,214.2h0.8v0.8h-0.8zM105.7,218.7h0.8v0.8h-0.8zM109.0,226.1h0.8v0.8h-0.8zM106.9,230.0h0.8v0.8h-0.8zM105.3,228.7h0.8v0.8h-0.8zM107.7,229.1h0.8v0.8h-0.8zM109.2,231.0h0.8v0.8h-0.8zM107.9,225.4h0.8v0.8h-0.8zM108.1,228.1h0.8v0.8h-0.8zM111.5,226.6h0.8v0.8h-0.8zM110.7,229.9h0.8v0.8h-0.8zM105.1,227.7h0.8v0.8h-0.8zM106.1,219.9h0.8v0.8h-0.8zM109.3,230.1h0.8v0.8h-0.8zM105.4,226.3h0.8v0.8h-0.8zM112.4,224.8h0.8v0.8h-0.8zM103.7,232.7h0.8v0.8h-0.8zM102.9,221.0h0.8v0.8h-0.8zM102.1,232.9h0.8v0.8h-0.8zM107.0,222.4h0.8v0.8h-0.8zM107.7,224.9h0.8v0.8h-0.8zM108.8,222.6h0.8v0.8h-0.8zM107.5,228.9h0.8v0.8h-0.8zM108.1,227.2h0.8v0.8h-0.8zM106.9,223.9h0.8v0.8h-0.8zM106.1,223.2h0.8v0.8h-0.8zM106.6,230.4h0.8v0.8h-0.8zM103.9,224.8h0.8v0.8h-0.8zM107.6,222.2h0.8v0.8h-0.8zM106.5,218.0h0.8v0.8h-0.8zM107.4,231.0h0.8v0.8h-0.8zM108.6,225.6h0.8v0.8h-0.8zM105.0,228.1h0.8v0.8h-0.8zM104.7,220.9h0.8v0.8h-0.8zM107.1,208.5h0.8v0.8h-0.8zM104.0,219.7h0.8v0.8h-0.8zM105.0,217.4h0.8v0.8h-0.8zM106.6,220.6h0.8v0.8h-0.8zM107.6,213.8h0.8v0.8h-0.8zM109.5,220.6h0.8v0.8h-0.8zM107.1,213.9h0.8v0.8h-0.8zM105.8,222.6h0.8v0.8h-0.8zM108.6,219.7h0.8v0.8h-0.8zM107.3,223.2h0.8v0.8h-0.8zM106.3,228.0h0.8v0.8h-0.8zM109.4,231.5h0.8v0.8h-0.8zM104.7,227.0h0.8v0.8h-0.8zM107.2,229.6h0.8v0.8h-0.8zM106.9,232.0h0.8v0.8h-0.8zM111.7,221.7h0.8v0.8h-0.8zM108.5,224.0h0.8v0.8h-0.8zM106.8,218.3h0.8v0.8h-0.8zM109.4,217.2h0.8v0.8h-0.8zM100.7,220.4h0.8v0.8h-0.8zM105.3,229.9h0.8v0.8h-0.8zM109.7,217.0h0.8v0.8h-0.8zM102.6,231.6h0.8v0.8h-0.8zM106.1,229.8h0.8v0.8h-0.8zM102.1,224.9h0.8v0.8h-0.8zM106.8,223.9h0.8v0.8h-0.8zM106.0,225.9h0.8v0.8h-0.8zM107.9,217.8h0.8v0.8h-0.8zM106.0,232.6h0.8v0.8h-0.8zM106.2,216.8h0.8v0.8h-0.8zM98.1,226.1h0.8v0.8h-0.8zM105.9,231.5h0.8v0.8h-0.8zM108.9,212.3h0.8v0.8h-0.8zM98.8,229.0h0.8v0.8h-0.8zM103.4,232.3h0.8v0.8h-0.8zM109.2,227.9h0.8v0.8h-0.8zM105.4,229.8h0.8v0.8h-0.8zM101.7,220.9h0.8v0.8h-0.8zM100.4,229.8h0.8v0.8h-0.8zM102.6,220.5h0.8v0.8h-0.8zM109.6,226.8h0.8v0.8h-0.8zM102.8,228.1h0.8v0.8h-0.8zM107.7,215.4h0.8v0.8h-0.8zM108.6,227.3h0.8v0.8h-0.8zM105.9,210.1h0.8v0.8h-0.8zM105.4,216.9h0.8v0.8h-0.8zM102.5,219.3h0.8v0.8h-0.8zM105.1,232.2h0.8v0.8h-0.8zM110.9,218.0h0.8v0.8h-0.8zM109.3,226.2h0.8v0.8h-0.8zM106.2,231.8h0.8v0.8h-0.8zM105.1,221.4h0.8v0.8h-0.8zM104.5,217.7h0.8v0.8h-0.8zM107.2,230.9h0.8v0.8h-0.8zM111.0,231.4h0.8v0.8h-0.8zM117.8,232.4h0.8v0.8h-0.8zM111.1,222.0h0.8v0.8h-0.8zM101.6,228.8h0.8v0.8h-0.8zM103.4,221.5h0.8v0.8h-0.8zM103.2,220.9h0.8v0.8h-0.8zM107.9,223.9h0.8v0.8h-0.8zM107.4,229.8h0.8v0.8h-0.8zM105.7,220.1h0.8v0.8h-0.8zM103.6,228.4h0.8v0.8h-0.8zM109.8,219.5h0.8v0.8h-0.8zM108.5,218.8h0.8v0.8h-0.8zM103.6,217.3h0.8v0.8h-0.8zM107.3,231.3h0.8v0.8h-0.8zM103.7,228.1h0.8v0.8h-0.8zM107.7,226.4h0.8v0.8h-0.8zM105.5,214.8h0.8v0.8h-0.8zM110.4,232.1h0.8v0.8h-0.8zM108.3,226.4h0.8v0.8h-0.8zM113.9,229.8h0.8v0.8h-0.8zM106.0,217.8h0.8v0.8h-0.8zM107.1,229.3h0.8v0.8h-0.8zM108.4,217.7h0.8v0.8h-0.8zM102.4,229.5h0.8v0.8h-0.8zM106.5,225.7h0.8v0.8h-0.8zM107.3,226.3h0.8v0.8h-0.8zM102.5,208.5h0.8v0.8h-0.8zM106.0,215.2h0.8v0.8h-0.8zM105.0,223.1h0.8v0.8h-0.8zM106.1,217.2h0.8v0.8h-0.8zM107.2,226.6h0.8v0.8h-0.8zM107.8,217.8h0.8v0.8h-0.8zM107.7,232.0h0.8v0.8h-0.8zM105.7,225.9h0.8v0.8h-0.8zM108.5,222.6h0.8v0.8h-0.8zM106.9,227.3h0.8v0.8h-0.8zM108.4,209.1h0.8v0.8h-0.8zM105.9,221.1h0.8v0.8h-0.8zM107.5,232.2h0.8v0.8h-0.8zM107.6,223.9h0.8v0.8h-0.8zM105.0,220.3h0.8v0.8h-0.8zM110.1,232.2h0.8v0.8h-0.8zM109.0,222.6h0.8v0.8h-0.8zM107.3,230.7h0.8v0.8h-0.8zM108.4,223.0h0.8v0.8h-0.8zM107.2,217.9h0.8v0.8h-0.8zM104.8,221.2h0.8v0.8h-0.8zM110.4,228.5h0.8v0.8h-0.8zM109.2,210.9h0.8v0.8h-0.8zM110.8,231.1h0.8v0.8h-0.8zM108.5,229.7h0.8v0.8h-0.8zM109.9,212.5h0.8v0.8h-0.8zM107.5,227.8h0.8v0.8h-0.8zM112.0,230.6h0.8v0.8h-0.8zM105.5,223.8h0.8v0.8h-0.8zM99.5,231.4h0.8v0.8h-0.8zM104.5,227.3h0.8v0.8h-0.8zM104.7,227.9h0.8v0.8h-0.8zM105.5,215.2h0.8v0.8h-0.8zM106.8,213.3h0.8v0.8h-0.8zM104.8,227.6h0.8v0.8h-0.8zM107.4,232.2h0.8v0.8h-0.8zM103.5,219.7h0.8v0.8h-0.8zM105.8,216.7h0.8v0.8h-0.8zM106.8,232.9h0.8v0.8h-0.8zM100.9,219.9h0.8v0.8h-0.8zM112.5,231.6h0.8v0.8h-0.8zM103.3,216.4h0.8v0.8h-0.8zM107.4,215.7h0.8v0.8h-0.8zM107.1,228.2h0.8v0.8h-0.8zM104.3,211.2h0.8v0.8h-0.8zM107.1,228.7h0.8v0.8h-0.8zM105.4,211.0h0.8v0.8h-0.8zM100.0,219.8h0.8v0.8h-0.8zM106.4,222.4h0.8v0.8h-0.8zM104.0,230.6h0.8v0.8h-0.8zM107.1,232.9h0.8v0.8h-0.8zM109.3,215.4h0.8v0.8h-0.8zM100.6,225.6h0.8v0.8h-0.8zM111.3,228.7h0.8v0.8h-0.8zM108.6,232.9h0.8v0.8h-0.8zM101.8,221.9h0.8v0.8h-0.8zM108.5,227.6h0.8v0.8h-0.8zM108.3,231.8h0.8v0.8h-0.8zM108.1,232.7h0.8v0.8h-0.8zM109.3,222.4h0.8v0.8h-0.8zM104.7,226.8h0.8v0.8h-0.8zM105.2,231.2h0.8v0.8h-0.8zM107.2,223.4h0.8v0.8h-0.8zM101.8,232.7h0.8v0.8h-0.8zM102.5,224.7h0.8v0.8h-0.8zM104.1,218.0h0.8v0.8h-0.8zM107.9,210.9h0.8v0.8h-0.8zM102.4,229.0h0.8v0.8h-0.8zM108.3,229.9h0.8v0.8h-0.8zM112.0,227.1h0.8v0.8h-0.8z" fill="#000" fill-opacity="0.42"/>
<rect x="36.20" y="132.00" width="19.60" height="37.40" stroke="#111" stroke-width="1.1" fill="none" />
<rect x="21.10" y="126.30" width="59.00" height="57.80" stroke="#111" stroke-width="1.45" fill="none" />
<rect x="98.30" y="132.00" width="19.60" height="37.40" stroke="#111" stroke-width="1.1" fill="none" />
<rect x="83.00" y="126.30" width="59.00" height="57.80" stroke="#111" stroke-width="1.45" fill="none" />
<rect x="36.20" y="195.40" width="19.60" height="37.40" stroke="#111" stroke-width="1.1" fill="none" />
<rect x="21.10" y="189.70" width="59.00" height="57.80" stroke="#111" stroke-width="1.45" fill="none" />
<rect x="98.30" y="195.40" width="19.60" height="37.40" stroke="#111" stroke-width="1.1" fill="none" />
<rect x="83.00" y="189.70" width="59.00" height="57.80" stroke="#111" stroke-width="1.45" fill="none" />
<text x="57.40" y="142.90" font-size="9.1" font-weight="bold" text-anchor="start" fill="#000" >3%</text>
<text x="119.80" y="142.90" font-size="9.1" font-weight="bold" text-anchor="start" fill="#000" >88%</text>
<text x="58.00" y="206.20" font-size="9.1" font-weight="bold" text-anchor="start" fill="#000" >1%</text>
<text x="120.20" y="206.20" font-size="9.1" font-weight="bold" text-anchor="start" fill="#000" >4%</text>
<line x1="35.20" y1="293.00" x2="35.20" y2="441.00" stroke="#000" stroke-width="1.2" />
<line x1="34.60" y1="440.40" x2="209.40" y2="440.40" stroke="#000" stroke-width="1.2" />
<line x1="32.60" y1="440.40" x2="35.20" y2="440.40" stroke="#000" stroke-width="1.1" />
<text x="30.60" y="443.30" font-size="8.6" font-weight="bold" text-anchor="end" fill="#000" >0</text>
<line x1="32.60" y1="403.67" x2="35.20" y2="403.67" stroke="#000" stroke-width="1.1" />
<text x="30.60" y="406.57" font-size="8.6" font-weight="bold" text-anchor="end" fill="#000" >25</text>
<line x1="32.60" y1="366.94" x2="35.20" y2="366.94" stroke="#000" stroke-width="1.1" />
<text x="30.60" y="369.84" font-size="8.6" font-weight="bold" text-anchor="end" fill="#000" >50</text>
<line x1="32.60" y1="330.21" x2="35.20" y2="330.21" stroke="#000" stroke-width="1.1" />
<text x="30.60" y="333.11" font-size="8.6" font-weight="bold" text-anchor="end" fill="#000" >75</text>
<line x1="32.60" y1="293.48" x2="35.20" y2="293.48" stroke="#000" stroke-width="1.1" />
<text x="30.60" y="296.38" font-size="8.6" font-weight="bold" text-anchor="end" fill="#000" >100</text>
<line x1="35.20" y1="440.40" x2="35.20" y2="443.40" stroke="#000" stroke-width="1.1" />
<text x="35.20" y="452.20" font-size="8.5" font-weight="bold" text-anchor="middle" fill="#000" >0</text>
<line x1="64.40" y1="440.40" x2="64.40" y2="443.40" stroke="#000" stroke-width="1.1" />
<text x="64.40" y="452.20" font-size="8.5" font-weight="bold" text-anchor="middle" fill="#000" >0.001</text>
<line x1="93.25" y1="440.40" x2="93.25" y2="443.40" stroke="#000" stroke-width="1.1" />
<text x="93.25" y="452.20" font-size="8.5" font-weight="bold" text-anchor="middle" fill="#000" >0.01</text>
<line x1="122.10" y1="440.40" x2="122.10" y2="443.40" stroke="#000" stroke-width="1.1" />
<text x="122.10" y="452.20" font-size="8.5" font-weight="bold" text-anchor="middle" fill="#000" >0.1</text>
<line x1="150.95" y1="440.40" x2="150.95" y2="443.40" stroke="#000" stroke-width="1.1" />
<text x="150.95" y="452.20" font-size="8.5" font-weight="bold" text-anchor="middle" fill="#000" >1</text>
<line x1="179.80" y1="440.40" x2="179.80" y2="443.40" stroke="#000" stroke-width="1.1" />
<text x="179.80" y="452.20" font-size="8.5" font-weight="bold" text-anchor="middle" fill="#000" >10</text>
<line x1="208.65" y1="440.40" x2="208.65" y2="443.40" stroke="#000" stroke-width="1.1" />
<text x="208.65" y="452.20" font-size="8.5" font-weight="bold" text-anchor="middle" fill="#000" >100</text>
<text x="120.40" y="463.90" font-size="10.4" font-weight="bold" text-anchor="middle" fill="#000" >BrHPP (<tspan font-family="Liberation Serif" font-weight="normal" style="stroke:none">&#181;</tspan>M)</text>
<text transform="translate(12.60,366.00) rotate(-90)" x="0" y="0" font-size="9.1" font-weight="bold" text-anchor="middle">TNF-<tspan font-family="Liberation Serif" font-weight="normal" style="stroke:none">&#945;</tspan> (% positive T cells)</text>
<polyline points="35.20,432.32 66.90,433.64 84.37,433.05 101.84,433.05 119.31,432.76 136.78,432.76 154.25,432.76 171.72,432.76 189.19,431.58" fill="none" stroke="#000" stroke-width="1.5" stroke-linejoin="round"/>
<polyline points="35.20,432.47 66.90,426.30 84.37,416.89 101.84,394.27 119.31,365.03 136.78,336.67 154.25,315.08 171.72,306.12 189.19,304.21" fill="none" stroke="#000" stroke-width="1.2" stroke-linejoin="round"/>
<rect x="31.80" y="428.92" width="6.80" height="6.80" stroke="none" stroke-width="0" fill="#000" />
<rect x="63.50" y="430.24" width="6.80" height="6.80" stroke="none" stroke-width="0" fill="#000" />
<rect x="80.97" y="429.65" width="6.80" height="6.80" stroke="none" stroke-width="0" fill="#000" />
<rect x="98.44" y="429.65" width="6.80" height="6.80" stroke="none" stroke-width="0" fill="#000" />
<rect x="115.91" y="429.36" width="6.80" height="6.80" stroke="none" stroke-width="0" fill="#000" />
<rect x="133.38" y="429.36" width="6.80" height="6.80" stroke="none" stroke-width="0" fill="#000" />
<rect x="150.85" y="429.36" width="6.80" height="6.80" stroke="none" stroke-width="0" fill="#000" />
<rect x="168.32" y="429.36" width="6.80" height="6.80" stroke="none" stroke-width="0" fill="#000" />
<rect x="185.79" y="428.18" width="6.80" height="6.80" stroke="none" stroke-width="0" fill="#000" />
<circle cx="35.20" cy="432.47" r="3.20" fill="#fff" stroke="#000" stroke-width="1.1"/>
<circle cx="66.90" cy="426.30" r="3.20" fill="#fff" stroke="#000" stroke-width="1.1"/>
<circle cx="84.37" cy="416.89" r="3.20" fill="#fff" stroke="#000" stroke-width="1.1"/>
<circle cx="101.84" cy="394.27" r="3.20" fill="#fff" stroke="#000" stroke-width="1.1"/>
<circle cx="119.31" cy="365.03" r="3.20" fill="#fff" stroke="#000" stroke-width="1.1"/>
<circle cx="136.78" cy="336.67" r="3.20" fill="#fff" stroke="#000" stroke-width="1.1"/>
<circle cx="154.25" cy="315.08" r="3.20" fill="#fff" stroke="#000" stroke-width="1.1"/>
<circle cx="171.72" cy="306.12" r="3.20" fill="#fff" stroke="#000" stroke-width="1.1"/>
<circle cx="189.19" cy="304.21" r="3.20" fill="#fff" stroke="#000" stroke-width="1.1"/>
<circle cx="42.60" cy="296.00" r="3.70" fill="#fff" stroke="#000" stroke-width="1.1"/>
<text x="48.60" y="299.80" font-size="10.8" font-weight="bold" text-anchor="start" fill="#000" >IgG</text>
<rect x="39.00" y="305.50" width="7.70" height="8.00" stroke="none" stroke-width="0" fill="#000" />
<text x="48.60" y="313.60" font-size="10.5" font-weight="bold" text-anchor="start" fill="#000" ><tspan font-family="Liberation Serif" font-weight="normal" style="stroke:none">&#945;</tspan>-CD277</text>
<text x="50.60" y="323.60" font-size="10.4" font-weight="bold" text-anchor="start" fill="#000" >(#103.2)</text>
<line x1="153.30" y1="338.60" x2="153.30" y2="409.80" stroke="#000" stroke-width="1.0" />
<line x1="153.00" y1="409.30" x2="241.00" y2="409.30" stroke="#000" stroke-width="1.0" />
<line x1="151.80" y1="409.30" x2="153.30" y2="409.30" stroke="#000" stroke-width="0.8" />
<text x="151.40" y="410.80" font-size="3.4" font-weight="bold" text-anchor="end" fill="#000" style="stroke:none">0</text>
<line x1="151.80" y1="391.70" x2="153.30" y2="391.70" stroke="#000" stroke-width="0.8" />
<text x="151.40" y="393.20" font-size="3.4" font-weight="bold" text-anchor="end" fill="#000" style="stroke:none">25</text>
<line x1="151.80" y1="374.10" x2="153.30" y2="374.10" stroke="#000" stroke-width="0.8" />
<text x="151.40" y="375.60" font-size="3.4" font-weight="bold" text-anchor="end" fill="#000" style="stroke:none">50</text>
<line x1="151.80" y1="356.50" x2="153.30" y2="356.50" stroke="#000" stroke-width="0.8" />
<text x="151.40" y="358.00" font-size="3.4" font-weight="bold" text-anchor="end" fill="#000" style="stroke:none">75</text>
<line x1="151.80" y1="338.90" x2="153.30" y2="338.90" stroke="#000" stroke-width="0.8" />
<text x="151.40" y="340.40" font-size="3.4" font-weight="bold" text-anchor="end" fill="#000" style="stroke:none">100</text>
<line x1="153.30" y1="409.30" x2="153.30" y2="410.90" stroke="#000" stroke-width="0.8" />
<text x="153.30" y="415.30" font-size="4.2" font-weight="bold" text-anchor="middle" fill="#000" style="stroke:none">0</text>
<line x1="171.50" y1="409.30" x2="171.50" y2="410.90" stroke="#000" stroke-width="0.8" />
<text x="171.50" y="415.30" font-size="4.2" font-weight="bold" text-anchor="middle" fill="#000" style="stroke:none">0.001</text>
<line x1="188.55" y1="409.30" x2="188.55" y2="410.90" stroke="#000" stroke-width="0.8" />
<text x="188.55" y="415.30" font-size="4.2" font-weight="bold" text-anchor="middle" fill="#000" style="stroke:none">0.01</text>
<line x1="205.60" y1="409.30" x2="205.60" y2="410.90" stroke="#000" stroke-width="0.8" />
<text x="205.60" y="415.30" font-size="4.2" font-weight="bold" text-anchor="middle" fill="#000" style="stroke:none">0.1</text>
<line x1="222.65" y1="409.30" x2="222.65" y2="410.90" stroke="#000" stroke-width="0.8" />
<text x="222.65" y="415.30" font-size="4.2" font-weight="bold" text-anchor="middle" fill="#000" style="stroke:none">1</text>
<line x1="239.70" y1="409.30" x2="239.70" y2="410.90" stroke="#000" stroke-width="0.8" />
<text x="239.70" y="415.30" font-size="4.2" font-weight="bold" text-anchor="middle" fill="#000" style="stroke:none">10</text>
<text x="197.10" y="422.60" font-size="5.3" font-weight="bold" text-anchor="middle" fill="#000" style="stroke:none"><tspan font-family="Liberation Serif" font-weight="normal" style="stroke:none">&#945;</tspan>CD3 (<tspan font-family="Liberation Serif" font-weight="normal" style="stroke:none">&#181;</tspan>g/ml)</text>
<polyline points="153.80,405.10 161.80,405.10 171.70,405.10 182.30,402.30 192.90,388.80 202.80,366.00 213.00,358.80 223.40,358.80 233.70,356.80" fill="none" stroke="#000" stroke-width="1.3" stroke-linejoin="round"/>
<polyline points="153.80,405.10 161.80,405.10 171.70,405.10 182.30,402.30 192.90,388.80 202.80,366.00 213.00,357.10 223.40,357.10 233.70,356.40" fill="none" stroke="#000" stroke-width="1.3" stroke-linejoin="round"/>
<rect x="152.30" y="403.60" width="3.00" height="3.00" stroke="#000" stroke-width="0.8" fill="#fff" />
<rect x="160.30" y="403.60" width="3.00" height="3.00" stroke="#000" stroke-width="0.8" fill="#fff" />
<rect x="170.20" y="403.60" width="3.00" height="3.00" stroke="#000" stroke-width="0.8" fill="#fff" />
<rect x="180.80" y="400.80" width="3.00" height="3.00" stroke="#000" stroke-width="0.8" fill="#fff" />
<rect x="191.40" y="387.30" width="3.00" height="3.00" stroke="#000" stroke-width="0.8" fill="#fff" />
<rect x="201.30" y="364.50" width="3.00" height="3.00" stroke="#000" stroke-width="0.8" fill="#fff" />
<rect x="211.50" y="355.60" width="3.00" height="3.00" stroke="#000" stroke-width="0.8" fill="#fff" />
<rect x="221.90" y="355.60" width="3.00" height="3.00" stroke="#000" stroke-width="0.8" fill="#fff" />
<rect x="232.20" y="354.90" width="3.00" height="3.00" stroke="#000" stroke-width="0.8" fill="#fff" />
<line x1="294.40" y1="289.50" x2="294.40" y2="424.90" stroke="#000" stroke-width="1.2" />
<line x1="294.00" y1="424.30" x2="468.00" y2="424.30" stroke="#000" stroke-width="1.2" />
<line x1="291.80" y1="424.30" x2="294.40" y2="424.30" stroke="#000" stroke-width="1.1" />
<text x="288.00" y="427.20" font-size="8.6" font-weight="bold" text-anchor="end" fill="#000" >0</text>
<line x1="291.80" y1="391.10" x2="294.40" y2="391.10" stroke="#000" stroke-width="1.1" />
<text x="288.00" y="394.00" font-size="8.6" font-weight="bold" text-anchor="end" fill="#000" >25</text>
<line x1="291.80" y1="357.90" x2="294.40" y2="357.90" stroke="#000" stroke-width="1.1" />
<text x="288.00" y="360.80" font-size="8.6" font-weight="bold" text-anchor="end" fill="#000" >50</text>
<line x1="291.80" y1="324.70" x2="294.40" y2="324.70" stroke="#000" stroke-width="1.1" />
<text x="288.00" y="327.60" font-size="8.6" font-weight="bold" text-anchor="end" fill="#000" >75</text>
<line x1="291.80" y1="291.50" x2="294.40" y2="291.50" stroke="#000" stroke-width="1.1" />
<text x="288.00" y="294.40" font-size="8.6" font-weight="bold" text-anchor="end" fill="#000" >100</text>
<line x1="294.40" y1="424.30" x2="294.40" y2="427.30" stroke="#000" stroke-width="0.9" />
<line x1="311.80" y1="424.30" x2="311.80" y2="425.90" stroke="#000" stroke-width="0.9" />
<line x1="321.98" y1="424.30" x2="321.98" y2="425.90" stroke="#000" stroke-width="0.9" />
<line x1="329.20" y1="424.30" x2="329.20" y2="425.90" stroke="#000" stroke-width="0.9" />
<line x1="334.80" y1="424.30" x2="334.80" y2="425.90" stroke="#000" stroke-width="0.9" />
<line x1="339.38" y1="424.30" x2="339.38" y2="425.90" stroke="#000" stroke-width="0.9" />
<line x1="343.25" y1="424.30" x2="343.25" y2="425.90" stroke="#000" stroke-width="0.9" />
<line x1="346.60" y1="424.30" x2="346.60" y2="425.90" stroke="#000" stroke-width="0.9" />
<line x1="349.56" y1="424.30" x2="349.56" y2="425.90" stroke="#000" stroke-width="0.9" />
<line x1="352.20" y1="424.30" x2="352.20" y2="427.30" stroke="#000" stroke-width="0.9" />
<line x1="369.60" y1="424.30" x2="369.60" y2="425.90" stroke="#000" stroke-width="0.9" />
<line x1="379.78" y1="424.30" x2="379.78" y2="425.90" stroke="#000" stroke-width="0.9" />
<line x1="387.00" y1="424.30" x2="387.00" y2="425.90" stroke="#000" stroke-width="0.9" />
<line x1="392.60" y1="424.30" x2="392.60" y2="425.90" stroke="#000" stroke-width="0.9" />
<line x1="397.18" y1="424.30" x2="397.18" y2="425.90" stroke="#000" stroke-width="0.9" />
<line x1="401.05" y1="424.30" x2="401.05" y2="425.90" stroke="#000" stroke-width="0.9" />
<line x1="404.40" y1="424.30" x2="404.40" y2="425.90" stroke="#000" stroke-width="0.9" />
<line x1="407.36" y1="424.30" x2="407.36" y2="425.90" stroke="#000" stroke-width="0.9" />
<line x1="410.00" y1="424.30" x2="410.00" y2="427.30" stroke="#000" stroke-width="0.9" />
<line x1="427.40" y1="424.30" x2="427.40" y2="425.90" stroke="#000" stroke-width="0.9" />
<line x1="437.58" y1="424.30" x2="437.58" y2="425.90" stroke="#000" stroke-width="0.9" />
<line x1="444.80" y1="424.30" x2="444.80" y2="425.90" stroke="#000" stroke-width="0.9" />
<line x1="450.40" y1="424.30" x2="450.40" y2="425.90" stroke="#000" stroke-width="0.9" />
<line x1="454.98" y1="424.30" x2="454.98" y2="425.90" stroke="#000" stroke-width="0.9" />
<line x1="458.85" y1="424.30" x2="458.85" y2="425.90" stroke="#000" stroke-width="0.9" />
<line x1="462.20" y1="424.30" x2="462.20" y2="425.90" stroke="#000" stroke-width="0.9" />
<line x1="465.16" y1="424.30" x2="465.16" y2="425.90" stroke="#000" stroke-width="0.9" />
<line x1="467.80" y1="424.30" x2="467.80" y2="427.30" stroke="#000" stroke-width="0.9" />
<text x="294.40" y="438.40" font-size="8.5" font-weight="bold" text-anchor="middle" fill="#000" >0</text>
<text x="352.20" y="438.40" font-size="8.5" font-weight="bold" text-anchor="middle" fill="#000" >1</text>
<text x="410.00" y="438.40" font-size="8.5" font-weight="bold" text-anchor="middle" fill="#000" >10</text>
<text x="467.80" y="438.40" font-size="8.5" font-weight="bold" text-anchor="middle" fill="#000" >100</text>
<text x="381.40" y="449.70" font-size="10.2" font-weight="bold" text-anchor="middle" fill="#000" >Ab (ng/ml)</text>
<text transform="translate(270.60,361.00) rotate(-90)" x="0" y="0" font-size="11.3" font-weight="bold" text-anchor="middle">IL-2 (% of max.)</text>
<text x="413.30" y="361.60" font-size="10.45" font-weight="bold" text-anchor="middle" fill="#000" >sec-butylamine</text>
<text x="476.40" y="357.90" font-size="10" font-weight="bold" text-anchor="middle" fill="#000" >**</text>
<line x1="468.40" y1="290.20" x2="468.40" y2="419.80" stroke="#000" stroke-width="0.9" />
<line x1="465.80" y1="290.40" x2="468.40" y2="290.40" stroke="#000" stroke-width="0.9" />
<line x1="465.80" y1="419.60" x2="468.40" y2="419.60" stroke="#000" stroke-width="0.9" />
<line x1="294.60" y1="287.70" x2="294.60" y2="310.00" stroke="#000" stroke-width="1.0" />
<line x1="292.10" y1="287.70" x2="297.10" y2="287.70" stroke="#000" stroke-width="1.0" />
<line x1="292.10" y1="310.00" x2="297.10" y2="310.00" stroke="#000" stroke-width="1.0" />
<line x1="322.20" y1="293.80" x2="322.20" y2="315.60" stroke="#000" stroke-width="1.0" />
<line x1="319.70" y1="293.80" x2="324.70" y2="293.80" stroke="#000" stroke-width="1.0" />
<line x1="319.70" y1="315.60" x2="324.70" y2="315.60" stroke="#000" stroke-width="1.0" />
<line x1="349.60" y1="285.40" x2="349.60" y2="311.70" stroke="#000" stroke-width="1.0" />
<line x1="347.10" y1="285.40" x2="352.10" y2="285.40" stroke="#000" stroke-width="1.0" />
<line x1="347.10" y1="311.70" x2="352.10" y2="311.70" stroke="#000" stroke-width="1.0" />
<line x1="377.00" y1="291.60" x2="377.00" y2="312.80" stroke="#000" stroke-width="1.0" />
<line x1="374.50" y1="291.60" x2="379.50" y2="291.60" stroke="#000" stroke-width="1.0" />
<line x1="374.50" y1="312.80" x2="379.50" y2="312.80" stroke="#000" stroke-width="1.0" />
<line x1="404.40" y1="291.60" x2="404.40" y2="311.00" stroke="#000" stroke-width="1.0" />
<line x1="401.90" y1="291.60" x2="406.90" y2="291.60" stroke="#000" stroke-width="1.0" />
<line x1="401.90" y1="311.00" x2="406.90" y2="311.00" stroke="#000" stroke-width="1.0" />
<line x1="432.20" y1="301.20" x2="432.20" y2="327.00" stroke="#000" stroke-width="1.0" />
<line x1="429.70" y1="301.20" x2="434.70" y2="301.20" stroke="#000" stroke-width="1.0" />
<line x1="429.70" y1="327.00" x2="434.70" y2="327.00" stroke="#000" stroke-width="1.0" />
<line x1="459.30" y1="288.00" x2="459.30" y2="310.70" stroke="#000" stroke-width="1.0" />
<line x1="456.80" y1="288.00" x2="461.80" y2="288.00" stroke="#000" stroke-width="1.0" />
<line x1="456.80" y1="310.70" x2="461.80" y2="310.70" stroke="#000" stroke-width="1.0" />
<line x1="322.20" y1="321.30" x2="322.20" y2="341.20" stroke="#000" stroke-width="1.0" />
<line x1="319.70" y1="321.30" x2="324.70" y2="321.30" stroke="#000" stroke-width="1.0" />
<line x1="319.70" y1="341.20" x2="324.70" y2="341.20" stroke="#000" stroke-width="1.0" />
<line x1="349.60" y1="370.00" x2="349.60" y2="390.30" stroke="#000" stroke-width="1.0" />
<line x1="347.10" y1="370.00" x2="352.10" y2="370.00" stroke="#000" stroke-width="1.0" />
<line x1="347.10" y1="390.30" x2="352.10" y2="390.30" stroke="#000" stroke-width="1.0" />
<polyline points="294.60,304.50 322.20,304.50 349.60,302.00 377.00,307.60 404.40,308.00 432.20,308.60 459.30,299.50" fill="none" stroke="#000" stroke-width="1.3" stroke-linejoin="round"/>
<polyline points="294.60,302.00 322.20,305.00 349.60,302.70 377.00,301.20 404.40,301.20 432.20,318.00 459.30,301.20" fill="none" stroke="#000" stroke-width="1.3" stroke-linejoin="round"/>
<polyline points="294.60,296.30 322.20,296.30 349.60,294.40 377.00,302.00 404.40,294.40 432.20,322.00 459.30,289.60" fill="none" stroke="#000" stroke-width="1.3" stroke-linejoin="round"/>
<polyline points="294.60,307.00 322.20,331.00 349.60,380.60 377.00,415.40 404.40,421.00 432.20,420.40 459.30,419.30" fill="none" stroke="#000" stroke-width="1.4" stroke-linejoin="round"/>
<circle cx="294.60" cy="307.00" r="4.00" fill="#000" stroke="#000" stroke-width="0.5"/>
<circle cx="322.20" cy="331.00" r="4.00" fill="#000" stroke="#000" stroke-width="0.5"/>
<circle cx="349.60" cy="380.60" r="4.00" fill="#000" stroke="#000" stroke-width="0.5"/>
<circle cx="377.00" cy="415.40" r="4.00" fill="#000" stroke="#000" stroke-width="0.5"/>
<circle cx="404.40" cy="421.00" r="4.00" fill="#000" stroke="#000" stroke-width="0.5"/>
<circle cx="432.20" cy="420.40" r="4.00" fill="#000" stroke="#000" stroke-width="0.5"/>
<circle cx="459.30" cy="419.30" r="4.00" fill="#000" stroke="#000" stroke-width="0.5"/>
<rect x="291.30" y="301.20" width="6.60" height="6.60" stroke="none" stroke-width="0" fill="#000" />
<rect x="318.90" y="301.20" width="6.60" height="6.60" stroke="none" stroke-width="0" fill="#000" />
<rect x="346.30" y="298.70" width="6.60" height="6.60" stroke="none" stroke-width="0" fill="#000" />
<rect x="373.70" y="304.30" width="6.60" height="6.60" stroke="none" stroke-width="0" fill="#000" />
<rect x="401.10" y="304.70" width="6.60" height="6.60" stroke="none" stroke-width="0" fill="#000" />
<rect x="428.90" y="305.30" width="6.60" height="6.60" stroke="none" stroke-width="0" fill="#000" />
<rect x="456.00" y="296.20" width="6.60" height="6.60" stroke="none" stroke-width="0" fill="#000" />
<circle cx="294.60" cy="296.30" r="3.40" fill="#fff" stroke="#000" stroke-width="1.1"/>
<circle cx="322.20" cy="296.30" r="3.40" fill="#fff" stroke="#000" stroke-width="1.1"/>
<circle cx="349.60" cy="294.40" r="3.40" fill="#fff" stroke="#000" stroke-width="1.1"/>
<circle cx="377.00" cy="302.00" r="3.40" fill="#fff" stroke="#000" stroke-width="1.1"/>
<circle cx="404.40" cy="294.40" r="3.40" fill="#fff" stroke="#000" stroke-width="1.1"/>
<circle cx="432.20" cy="322.00" r="3.40" fill="#fff" stroke="#000" stroke-width="1.1"/>
<circle cx="459.30" cy="289.60" r="3.40" fill="#fff" stroke="#000" stroke-width="1.1"/>
<rect x="291.30" y="298.70" width="6.60" height="6.60" stroke="#000" stroke-width="1.1" fill="#fff" />
<rect x="318.90" y="301.70" width="6.60" height="6.60" stroke="#000" stroke-width="1.1" fill="#fff" />
<rect x="346.30" y="299.40" width="6.60" height="6.60" stroke="#000" stroke-width="1.1" fill="#fff" />
<rect x="373.70" y="297.90" width="6.60" height="6.60" stroke="#000" stroke-width="1.1" fill="#fff" />
<rect x="401.10" y="297.90" width="6.60" height="6.60" stroke="#000" stroke-width="1.1" fill="#fff" />
<rect x="428.90" y="314.70" width="6.60" height="6.60" stroke="#000" stroke-width="1.1" fill="#fff" />
<rect x="456.00" y="297.90" width="6.60" height="6.60" stroke="#000" stroke-width="1.1" fill="#fff" />
<line x1="296.00" y1="472.20" x2="296.00" y2="555.60" stroke="#000" stroke-width="1.3" />
<line x1="295.60" y1="555.00" x2="404.00" y2="555.00" stroke="#000" stroke-width="1.2" />
<line x1="293.60" y1="555.00" x2="296.00" y2="555.00" stroke="#000" stroke-width="1.1" />
<text x="292.00" y="557.70" font-size="8.0" font-weight="bold" text-anchor="end" fill="#000" >0</text>
<line x1="293.60" y1="535.35" x2="296.00" y2="535.35" stroke="#000" stroke-width="1.1" />
<text x="292.00" y="538.05" font-size="8.0" font-weight="bold" text-anchor="end" fill="#000" >25</text>
<line x1="293.60" y1="515.70" x2="296.00" y2="515.70" stroke="#000" stroke-width="1.1" />
<text x="292.00" y="518.40" font-size="8.0" font-weight="bold" text-anchor="end" fill="#000" >50</text>
<line x1="293.60" y1="496.05" x2="296.00" y2="496.05" stroke="#000" stroke-width="1.1" />
<text x="292.00" y="498.75" font-size="8.0" font-weight="bold" text-anchor="end" fill="#000" >75</text>
<line x1="293.60" y1="476.40" x2="296.00" y2="476.40" stroke="#000" stroke-width="1.1" />
<text x="292.00" y="479.10" font-size="8.0" font-weight="bold" text-anchor="end" fill="#000" >100</text>
<line x1="296.00" y1="555.00" x2="296.00" y2="558.00" stroke="#000" stroke-width="0.9" />
<line x1="311.86" y1="555.00" x2="311.86" y2="556.60" stroke="#000" stroke-width="0.9" />
<line x1="321.14" y1="555.00" x2="321.14" y2="556.60" stroke="#000" stroke-width="0.9" />
<line x1="327.73" y1="555.00" x2="327.73" y2="556.60" stroke="#000" stroke-width="0.9" />
<line x1="332.84" y1="555.00" x2="332.84" y2="556.60" stroke="#000" stroke-width="0.9" />
<line x1="337.01" y1="555.00" x2="337.01" y2="556.60" stroke="#000" stroke-width="0.9" />
<line x1="340.54" y1="555.00" x2="340.54" y2="556.60" stroke="#000" stroke-width="0.9" />
<line x1="343.59" y1="555.00" x2="343.59" y2="556.60" stroke="#000" stroke-width="0.9" />
<line x1="346.29" y1="555.00" x2="346.29" y2="556.60" stroke="#000" stroke-width="0.9" />
<line x1="348.70" y1="555.00" x2="348.70" y2="558.00" stroke="#000" stroke-width="0.9" />
<line x1="364.56" y1="555.00" x2="364.56" y2="556.60" stroke="#000" stroke-width="0.9" />
<line x1="373.84" y1="555.00" x2="373.84" y2="556.60" stroke="#000" stroke-width="0.9" />
<line x1="380.43" y1="555.00" x2="380.43" y2="556.60" stroke="#000" stroke-width="0.9" />
<line x1="385.54" y1="555.00" x2="385.54" y2="556.60" stroke="#000" stroke-width="0.9" />
<line x1="389.71" y1="555.00" x2="389.71" y2="556.60" stroke="#000" stroke-width="0.9" />
<line x1="393.24" y1="555.00" x2="393.24" y2="556.60" stroke="#000" stroke-width="0.9" />
<line x1="396.29" y1="555.00" x2="396.29" y2="556.60" stroke="#000" stroke-width="0.9" />
<line x1="398.99" y1="555.00" x2="398.99" y2="556.60" stroke="#000" stroke-width="0.9" />
<line x1="401.40" y1="555.00" x2="401.40" y2="558.00" stroke="#000" stroke-width="0.9" />
<text x="296.00" y="565.80" font-size="6.6" font-weight="bold" text-anchor="middle" fill="#000" >0</text>
<text x="348.70" y="565.80" font-size="6.6" font-weight="bold" text-anchor="middle" fill="#000" >1</text>
<text x="401.40" y="565.80" font-size="6.6" font-weight="bold" text-anchor="middle" fill="#000" >10</text>
<text x="351.60" y="575.20" font-size="7.4" font-weight="bold" text-anchor="middle" fill="#000" >Ab (ng/ml)</text>
<text transform="translate(271.80,512.00) rotate(-90)" x="0" y="0" font-size="11.2" font-weight="bold" text-anchor="middle">IL-2 (% of max.)</text>
<text x="379.20" y="519.60" font-size="9.4" font-weight="bold" text-anchor="middle" fill="#000" >BrHPP</text>
<line x1="408.00" y1="470.80" x2="408.00" y2="555.00" stroke="#000" stroke-width="0.9" />
<line x1="405.60" y1="471.00" x2="408.00" y2="471.00" stroke="#000" stroke-width="0.9" />
<line x1="405.60" y1="554.80" x2="408.00" y2="554.80" stroke="#000" stroke-width="0.9" />
<text x="413.80" y="513.60" font-size="6" font-weight="bold" text-anchor="middle" fill="#000" >*</text>
<line x1="301.30" y1="457.20" x2="301.30" y2="488.50" stroke="#000" stroke-width="1.0" />
<line x1="299.05" y1="457.20" x2="303.55" y2="457.20" stroke="#000" stroke-width="1.0" />
<line x1="299.05" y1="488.50" x2="303.55" y2="488.50" stroke="#000" stroke-width="1.0" />
<line x1="326.30" y1="486.00" x2="326.30" y2="501.20" stroke="#000" stroke-width="1.0" />
<line x1="324.05" y1="486.00" x2="328.55" y2="486.00" stroke="#000" stroke-width="1.0" />
<line x1="324.05" y1="501.20" x2="328.55" y2="501.20" stroke="#000" stroke-width="1.0" />
<line x1="351.10" y1="518.00" x2="351.10" y2="527.00" stroke="#000" stroke-width="1.0" />
<line x1="348.85" y1="518.00" x2="353.35" y2="518.00" stroke="#000" stroke-width="1.0" />
<line x1="348.85" y1="527.00" x2="353.35" y2="527.00" stroke="#000" stroke-width="1.0" />
<line x1="351.10" y1="472.00" x2="351.10" y2="483.00" stroke="#000" stroke-width="1.0" />
<line x1="349.10" y1="472.00" x2="353.10" y2="472.00" stroke="#000" stroke-width="1.0" />
<line x1="349.10" y1="483.00" x2="353.10" y2="483.00" stroke="#000" stroke-width="1.0" />
<line x1="375.90" y1="469.50" x2="375.90" y2="485.00" stroke="#000" stroke-width="1.0" />
<line x1="373.90" y1="469.50" x2="377.90" y2="469.50" stroke="#000" stroke-width="1.0" />
<line x1="373.90" y1="485.00" x2="377.90" y2="485.00" stroke="#000" stroke-width="1.0" />
<polyline points="301.30,480.80 326.30,477.60 351.10,480.00 375.90,482.50 401.60,473.60" fill="none" stroke="#000" stroke-width="1.2" stroke-linejoin="round"/>
<polyline points="301.30,476.40 326.30,480.00 351.10,478.80 375.90,478.80 401.60,472.80" fill="none" stroke="#000" stroke-width="1.2" stroke-linejoin="round"/>
<polyline points="301.30,472.80 326.30,480.80 351.10,474.80 375.90,473.60 401.60,470.00" fill="none" stroke="#000" stroke-width="1.2" stroke-linejoin="round"/>
<polyline points="301.30,478.00 326.30,489.20 351.10,522.80 375.90,547.40 401.60,554.30" fill="none" stroke="#000" stroke-width="1.3" stroke-linejoin="round"/>
<circle cx="301.30" cy="478.00" r="3.00" fill="#000" stroke="#000" stroke-width="0.5"/>
<circle cx="326.30" cy="489.20" r="3.00" fill="#000" stroke="#000" stroke-width="0.5"/>
<circle cx="351.10" cy="522.80" r="3.00" fill="#000" stroke="#000" stroke-width="0.5"/>
<rect x="373.00" y="544.50" width="5.80" height="5.80" stroke="none" stroke-width="0" fill="#000" />
<circle cx="401.60" cy="554.30" r="3.00" fill="#000" stroke="#000" stroke-width="0.5"/>
<rect x="298.60" y="478.10" width="5.40" height="5.40" stroke="none" stroke-width="0" fill="#000" />
<rect x="323.60" y="474.90" width="5.40" height="5.40" stroke="none" stroke-width="0" fill="#000" />
<rect x="348.40" y="477.30" width="5.40" height="5.40" stroke="none" stroke-width="0" fill="#000" />
<rect x="373.20" y="479.80" width="5.40" height="5.40" stroke="none" stroke-width="0" fill="#000" />
<rect x="398.90" y="470.90" width="5.40" height="5.40" stroke="none" stroke-width="0" fill="#000" />
<circle cx="301.30" cy="472.80" r="2.90" fill="#fff" stroke="#000" stroke-width="1.0"/>
<circle cx="326.30" cy="480.80" r="2.90" fill="#fff" stroke="#000" stroke-width="1.0"/>
<circle cx="351.10" cy="474.80" r="2.90" fill="#fff" stroke="#000" stroke-width="1.0"/>
<circle cx="375.90" cy="473.60" r="2.90" fill="#fff" stroke="#000" stroke-width="1.0"/>
<circle cx="401.60" cy="470.00" r="2.90" fill="#fff" stroke="#000" stroke-width="1.0"/>
<rect x="298.60" y="473.70" width="5.40" height="5.40" stroke="#000" stroke-width="1.0" fill="#fff" />
<rect x="323.60" y="477.30" width="5.40" height="5.40" stroke="#000" stroke-width="1.0" fill="#fff" />
<rect x="348.40" y="476.10" width="5.40" height="5.40" stroke="#000" stroke-width="1.0" fill="#fff" />
<rect x="373.20" y="476.10" width="5.40" height="5.40" stroke="#000" stroke-width="1.0" fill="#fff" />
<rect x="398.90" y="470.10" width="5.40" height="5.40" stroke="#000" stroke-width="1.0" fill="#fff" />
<line x1="419.60" y1="458.80" x2="431.00" y2="458.80" stroke="#000" stroke-width="1.1" />
<line x1="419.60" y1="473.80" x2="431.00" y2="473.80" stroke="#000" stroke-width="1.1" />
<line x1="419.60" y1="497.00" x2="431.00" y2="497.00" stroke="#000" stroke-width="1.1" />
<line x1="419.60" y1="510.80" x2="431.00" y2="510.80" stroke="#000" stroke-width="1.1" />
<circle cx="426.20" cy="458.80" r="3.00" fill="#fff" stroke="#000" stroke-width="1.0"/>
<circle cx="426.60" cy="473.80" r="3.00" fill="#000" stroke="#000" stroke-width="0.5"/>
<rect x="423.40" y="494.20" width="5.80" height="5.80" stroke="#000" stroke-width="1.0" fill="#fff" />
<rect x="423.40" y="507.90" width="5.80" height="5.80" stroke="none" stroke-width="0" fill="#000" />
<text x="435.60" y="461.70" font-size="8.6" font-weight="bold" text-anchor="start" fill="#000" >IgG</text>
<text x="436.00" y="476.50" font-size="8.3" font-weight="bold" text-anchor="start" fill="#000" ><tspan font-family="Liberation Serif" font-weight="normal" style="stroke:none">&#945;</tspan>-CD277</text>
<text x="438.60" y="484.80" font-size="8.1" font-weight="bold" text-anchor="start" fill="#000" >(#103.2)</text>
<text x="435.60" y="500.20" font-size="8.6" font-weight="bold" text-anchor="start" fill="#000" >IgG</text>
<text x="436.00" y="514.00" font-size="8.3" font-weight="bold" text-anchor="start" fill="#000" ><tspan font-family="Liberation Serif" font-weight="normal" style="stroke:none">&#945;</tspan>-CD277</text>
<text x="438.60" y="522.60" font-size="8.1" font-weight="bold" text-anchor="start" fill="#000" >(#103.2)</text>
<line x1="474.70" y1="455.70" x2="474.70" y2="476.70" stroke="#000" stroke-width="1.0" />
<line x1="474.70" y1="495.30" x2="474.70" y2="515.80" stroke="#000" stroke-width="1.0" />
<text x="476.80" y="469.10" font-size="7.0" font-weight="bold" text-anchor="start" fill="#000" >PAg</text>
<text x="476.80" y="508.30" font-size="6.9" font-weight="bold" text-anchor="start" fill="#000" >MBP peptide</text>
<line x1="33.00" y1="507.40" x2="33.00" y2="651.60" stroke="#000" stroke-width="1.3" />
<line x1="32.40" y1="651.00" x2="209.20" y2="651.00" stroke="#000" stroke-width="1.3" />
<line x1="29.80" y1="651.00" x2="33.00" y2="651.00" stroke="#000" stroke-width="1.2" />
<text x="28.00" y="654.00" font-size="8.6" font-weight="bold" text-anchor="end" fill="#000" >0</text>
<line x1="29.80" y1="622.45" x2="33.00" y2="622.45" stroke="#000" stroke-width="1.2" />
<text x="28.00" y="625.45" font-size="8.6" font-weight="bold" text-anchor="end" fill="#000" >10</text>
<line x1="29.80" y1="593.90" x2="33.00" y2="593.90" stroke="#000" stroke-width="1.2" />
<text x="28.00" y="596.90" font-size="8.6" font-weight="bold" text-anchor="end" fill="#000" >20</text>
<line x1="29.80" y1="565.35" x2="33.00" y2="565.35" stroke="#000" stroke-width="1.2" />
<text x="28.00" y="568.35" font-size="8.6" font-weight="bold" text-anchor="end" fill="#000" >30</text>
<line x1="29.80" y1="536.80" x2="33.00" y2="536.80" stroke="#000" stroke-width="1.2" />
<text x="28.00" y="539.80" font-size="8.6" font-weight="bold" text-anchor="end" fill="#000" >40</text>
<line x1="29.80" y1="508.25" x2="33.00" y2="508.25" stroke="#000" stroke-width="1.2" />
<text x="28.00" y="511.25" font-size="8.6" font-weight="bold" text-anchor="end" fill="#000" >50</text>
<line x1="61.90" y1="651.00" x2="61.90" y2="654.00" stroke="#000" stroke-width="1.2" />
<text x="61.90" y="664.00" font-size="8.5" font-weight="bold" text-anchor="middle" fill="#000" >0</text>
<line x1="121.90" y1="651.00" x2="121.90" y2="654.00" stroke="#000" stroke-width="1.2" />
<text x="121.90" y="664.00" font-size="8.5" font-weight="bold" text-anchor="middle" fill="#000" >1</text>
<line x1="182.60" y1="651.00" x2="182.60" y2="654.00" stroke="#000" stroke-width="1.2" />
<text x="182.60" y="664.00" font-size="8.5" font-weight="bold" text-anchor="middle" fill="#000" >5</text>
<text x="122.00" y="677.60" font-size="10.3" font-weight="bold" text-anchor="middle" fill="#000" >M. BCG (MOI)</text>
<text transform="translate(9.80,578.10) rotate(-90)" x="0" y="0" font-size="9.35" font-weight="bold" text-anchor="middle">CD107a (% positive)</text>
<line x1="48.50" y1="645.60" x2="48.50" y2="647.80" stroke="#000" stroke-width="1.1" />
<line x1="44.30" y1="645.60" x2="52.70" y2="645.60" stroke="#000" stroke-width="1.1" />
<line x1="75.30" y1="641.90" x2="75.30" y2="644.80" stroke="#000" stroke-width="1.1" />
<line x1="71.10" y1="641.90" x2="79.50" y2="641.90" stroke="#000" stroke-width="1.1" />
<line x1="108.50" y1="619.80" x2="108.50" y2="622.70" stroke="#000" stroke-width="1.1" />
<line x1="104.30" y1="619.80" x2="112.70" y2="619.80" stroke="#000" stroke-width="1.1" />
<line x1="135.50" y1="637.90" x2="135.50" y2="641.00" stroke="#000" stroke-width="1.1" />
<line x1="131.30" y1="637.90" x2="139.70" y2="637.90" stroke="#000" stroke-width="1.1" />
<line x1="168.90" y1="530.50" x2="168.90" y2="545.40" stroke="#000" stroke-width="1.1" />
<line x1="164.70" y1="530.50" x2="173.10" y2="530.50" stroke="#000" stroke-width="1.1" />
<line x1="196.10" y1="637.20" x2="196.10" y2="640.50" stroke="#000" stroke-width="1.1" />
<line x1="191.90" y1="637.20" x2="200.30" y2="637.20" stroke="#000" stroke-width="1.1" />
<rect x="39.50" y="646.80" width="18.00" height="4.20" stroke="#000" stroke-width="1.2" fill="#fff" />
<rect x="65.60" y="643.80" width="19.40" height="7.20" stroke="#000" stroke-width="1.1" fill="#000" />
<rect x="99.40" y="621.70" width="18.10" height="29.30" stroke="#000" stroke-width="1.2" fill="#fff" />
<rect x="126.00" y="640.00" width="18.80" height="11.00" stroke="#000" stroke-width="1.1" fill="#000" />
<rect x="159.50" y="544.40" width="18.80" height="106.60" stroke="#000" stroke-width="1.2" fill="#fff" />
<rect x="187.00" y="639.50" width="18.20" height="11.50" stroke="#000" stroke-width="1.1" fill="#000" />
<line x1="108.60" y1="614.70" x2="135.60" y2="614.70" stroke="#000" stroke-width="1.2" />
<polygon points="117.00,607.00 117.56,608.53 119.19,608.59 117.90,609.59 118.35,611.16 117.00,610.25 115.65,611.16 116.10,609.59 114.81,608.59 116.44,608.53" fill="#000"/>
<polygon points="122.10,607.00 122.66,608.53 124.29,608.59 123.00,609.59 123.45,611.16 122.10,610.25 120.75,611.16 121.20,609.59 119.91,608.59 121.54,608.53" fill="#000"/>
<polygon points="127.20,607.00 127.76,608.53 129.39,608.59 128.10,609.59 128.55,611.16 127.20,610.25 125.85,611.16 126.30,609.59 125.01,608.59 126.64,608.53" fill="#000"/>
<line x1="169.40" y1="524.40" x2="195.90" y2="524.40" stroke="#000" stroke-width="1.2" />
<polygon points="183.00,516.90 183.56,518.43 185.19,518.49 183.90,519.49 184.35,521.06 183.00,520.15 181.65,521.06 182.10,519.49 180.81,518.49 182.44,518.43" fill="#000"/>
<rect x="38.90" y="508.90" width="14.80" height="7.30" stroke="#000" stroke-width="1.2" fill="#fff" rx="2"/>
<text x="56.20" y="516.40" font-size="9.4" font-weight="bold" text-anchor="start" fill="#000" >(-)</text>
<rect x="38.80" y="520.80" width="15.70" height="8.70" stroke="none" stroke-width="0" fill="#000" />
<text x="58.00" y="529.30" font-size="10.55" font-weight="bold" text-anchor="start" fill="#000" ><tspan font-family="Liberation Serif" font-weight="normal" style="stroke:none">&#945;</tspan>-CD277</text>
<text x="60.60" y="540.60" font-size="10.3" font-weight="bold" text-anchor="start" fill="#000" >(#103.2)</text>
</svg>
</body></html>
